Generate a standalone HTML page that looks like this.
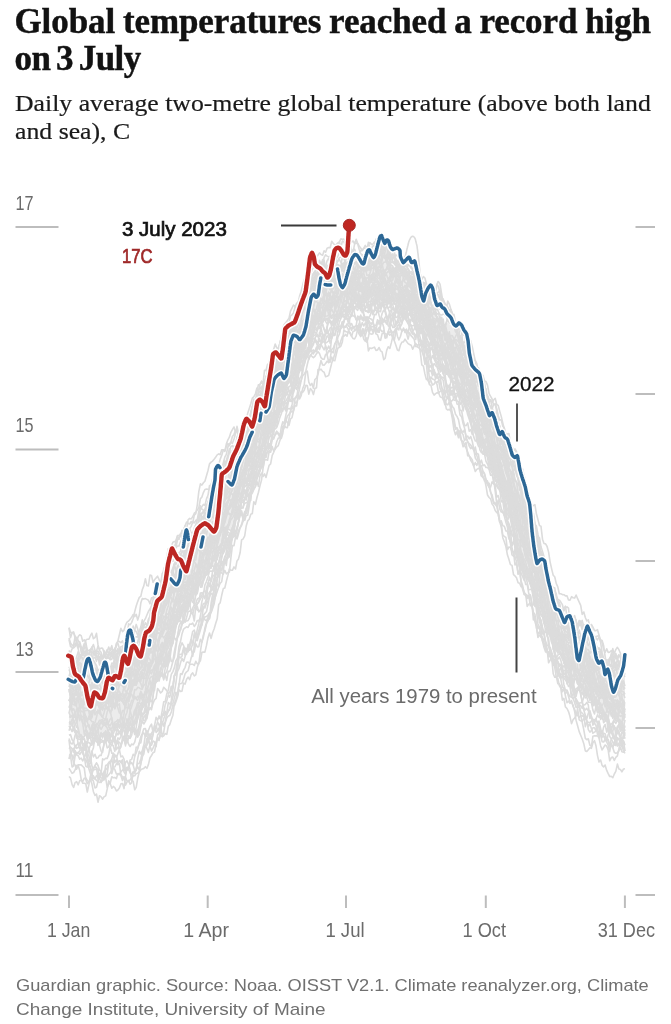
<!DOCTYPE html>
<html lang="en">
<head>
<meta charset="utf-8">
<title>Global temperatures reached a record high on 3 July</title>
<style>
html,body{margin:0;padding:0;background:#fff;}
body{width:671px;height:1024px;position:relative;overflow:hidden;font-family:"Liberation Sans",sans-serif;}
h1{position:absolute;left:14.5px;top:2.5px;margin:0;font-family:"Liberation Serif",serif;font-weight:700;font-size:35px;line-height:37.2px;color:#121212;white-space:nowrap;-webkit-text-stroke:0.45px #121212;letter-spacing:-0.1px;word-spacing:-0.8px;}
h1 span{letter-spacing:-0.55px;word-spacing:-2.5px;}
p.sub{-webkit-text-stroke:0.2px #1a1a1a;position:absolute;left:15px;top:89px;margin:0;font-family:"Liberation Serif",serif;font-size:23.5px;line-height:28.3px;color:#1a1a1a;white-space:nowrap;transform:scaleX(1.096);transform-origin:0 0;}
p.src{position:absolute;left:15.5px;top:974px;margin:0;font-size:17px;line-height:23.7px;color:#707070;white-space:nowrap;}
p.src span{display:block;transform-origin:0 0;transform:scaleX(1.072);}
p.src span.l2{transform:scaleX(1.114);}
svg{position:absolute;left:0;top:0;}
svg text{font-family:"Liberation Sans",sans-serif;font-size:20px;}
.ax text{fill:#6b6b6b;font-size:20.8px;}
</style>
</head>
<body>
<h1>Global temperatures reached a record high<br><span>on 3 July</span></h1>
<p class="sub">Daily average two-metre global temperature (above both land<br>and sea), C</p>
<svg width="671" height="1024" viewBox="0 0 671 1024">
<g stroke="#bdbdbd" stroke-width="2" fill="none"><line x1="15.5" x2="58.5" y1="227" y2="227"/><line x1="15.5" x2="58.5" y1="449.5" y2="449.5"/><line x1="15.5" x2="58.5" y1="672" y2="672"/><line x1="15.5" x2="58.5" y1="895" y2="895"/><line x1="635.5" x2="655" y1="227" y2="227"/><line x1="635.5" x2="655" y1="394" y2="394"/><line x1="635.5" x2="655" y1="561" y2="561"/><line x1="635.5" x2="655" y1="728" y2="728"/><line x1="635.5" x2="655" y1="895" y2="895"/><line x1="69" x2="69" y1="895.5" y2="908"/><line x1="207.7" x2="207.7" y1="895.5" y2="908"/><line x1="346" x2="346" y1="895.5" y2="908"/><line x1="485.8" x2="485.8" y1="895.5" y2="908"/><line x1="624.9" x2="624.9" y1="895.5" y2="908"/></g>
<g class="ax">
<text x="15.5" y="209.5" textLength="18" lengthAdjust="spacingAndGlyphs">17</text>
<text x="15.5" y="431.5" textLength="18" lengthAdjust="spacingAndGlyphs">15</text>
<text x="15.5" y="655.5" textLength="18" lengthAdjust="spacingAndGlyphs">13</text>
<text x="15.5" y="877" textLength="18" lengthAdjust="spacingAndGlyphs">11</text>
<text x="47" y="937" textLength="43.3" lengthAdjust="spacingAndGlyphs">1 Jan</text>
<text x="183.2" y="937" textLength="45.8" lengthAdjust="spacingAndGlyphs">1 Apr</text>
<text x="325.4" y="937" textLength="39.2" lengthAdjust="spacingAndGlyphs">1 Jul</text>
<text x="462.5" y="937" textLength="43.5" lengthAdjust="spacingAndGlyphs">1 Oct</text>
<text x="597.7" y="937" textLength="57.3" lengthAdjust="spacingAndGlyphs">31 Dec</text>
</g>
<defs><filter id="soft" x="0" y="0" width="671" height="1024" filterUnits="userSpaceOnUse"><feGaussianBlur stdDeviation="0.55"/></filter></defs>
<path d="M69.0,658.5L70.5,656.8L72.1,657.9L73.6,662.8L75.1,660.8L76.6,662.0L78.2,659.9L79.7,657.1L81.2,656.3L82.7,658.4L84.3,658.4L85.8,655.2L87.3,658.3L88.9,663.1L90.4,663.0L91.9,658.7L93.4,661.2L95.0,663.7L96.5,666.1L98.0,669.5L99.5,670.0L101.1,668.9L102.6,667.4L104.1,667.9L105.7,667.8L107.2,673.2L108.7,671.9L110.2,669.6L111.8,666.7L113.3,664.5L114.8,661.4L116.4,660.3L117.9,661.0L119.4,659.2L120.9,656.2L122.5,652.0L124.0,653.8L125.5,656.1L127.0,661.3L128.6,658.2L130.1,656.0L131.6,652.3L133.2,651.1L134.7,645.4L136.2,644.9L137.7,649.6L139.3,645.5L140.8,641.2L142.3,636.5L143.8,635.8L145.4,639.2L146.9,634.5L148.4,634.0L150.0,624.5L151.5,621.1L153.0,619.4L154.5,623.3L156.1,616.0L157.6,613.3L159.1,608.5L160.6,602.2L162.2,596.3L163.7,598.0L165.2,594.0L166.8,592.1L168.3,584.9L169.8,580.1L171.3,578.9L172.9,576.5L174.4,575.4L175.9,572.0L177.5,571.4L179.0,564.3L180.5,561.5L182.0,556.0L183.6,553.9L185.1,552.1L186.6,551.5L188.1,546.6L189.7,547.3L191.2,543.4L192.7,540.9L194.3,537.6L195.8,535.6L197.3,533.1L198.8,530.7L200.4,526.6L201.9,519.5L203.4,521.1L204.9,515.5L206.5,513.2L208.0,511.7L209.5,504.8L211.1,500.1L212.6,500.2L214.1,497.7L215.6,494.7L217.2,490.1L218.7,486.6L220.2,482.7L221.7,481.4L223.3,475.7L224.8,476.6L226.3,470.5L227.9,467.9L229.4,465.4L230.9,463.1L232.4,463.6L234.0,461.5L235.5,457.1L237.0,457.5L238.5,455.0L240.1,454.0L241.6,449.1L243.1,447.5L244.7,440.1L246.2,437.4L247.7,431.0L249.2,431.2L250.8,426.9L252.3,425.4L253.8,420.5L255.4,418.4L256.9,412.3L258.4,407.7L259.9,401.5L261.5,399.0L263.0,392.1L264.5,388.9L266.0,389.1L267.6,381.4L269.1,377.5L270.6,377.5L272.2,377.2L273.7,375.6L275.2,368.3L276.7,367.0L278.3,362.8L279.8,355.8L281.3,354.0L282.8,347.9L284.4,347.0L285.9,343.6L287.4,341.7L289.0,338.2L290.5,335.0L292.0,332.5L293.5,327.5L295.1,323.7L296.6,318.9L298.1,314.5L299.6,307.0L301.2,304.0L302.7,296.7L304.2,292.8L305.8,292.0L307.3,291.1L308.8,288.4L310.3,284.9L311.9,284.1L313.4,279.4L314.9,277.6L316.5,276.5L318.0,272.9L319.5,268.8L321.0,266.7L322.6,270.5L324.1,269.4L325.6,271.6L327.1,268.6L328.7,269.3L330.2,269.0L331.7,271.3L333.3,270.4L334.8,267.6L336.3,267.5L337.8,265.8L339.4,265.7L340.9,268.2L342.4,264.7L343.9,263.9L345.5,261.9L347.0,262.8L348.5,264.7L350.1,260.7L351.6,259.3L353.1,261.6L354.6,265.4L356.2,261.9L357.7,264.0L359.2,265.2L360.7,264.9L362.3,265.2L363.8,267.1L365.3,261.9L366.9,262.1L368.4,261.6L369.9,261.6L371.4,261.6L373.0,261.1L374.5,262.6L376.0,260.8L377.5,259.2L379.1,259.5L380.6,261.6L382.1,255.3L383.7,251.0L385.2,255.9L386.7,258.4L388.2,257.0L389.8,261.2L391.3,266.1L392.8,266.4L394.4,268.4L395.9,267.2L397.4,267.0L398.9,267.1L400.5,266.6L402.0,268.5L403.5,271.4L405.0,271.0L406.6,273.6L408.1,275.0L409.6,277.9L411.2,277.7L412.7,280.1L414.2,284.1L415.7,284.1L417.3,286.6L418.8,287.7L420.3,287.8L421.8,290.5L423.4,291.8L424.9,292.0L426.4,296.1L428.0,301.6L429.5,304.5L431.0,305.4L432.5,308.4L434.1,311.5L435.6,312.1L437.1,316.7L438.6,319.0L440.2,319.3L441.7,321.3L443.2,324.1L444.8,327.6L446.3,323.6L447.8,322.3L449.3,324.3L450.9,324.9L452.4,327.7L453.9,329.7L455.5,331.8L457.0,333.8L458.5,338.0L460.0,343.0L461.6,344.2L463.1,349.8L464.6,354.0L466.1,359.2L467.7,363.4L469.2,364.0L470.7,366.9L472.3,367.9L473.8,370.6L475.3,377.9L476.8,378.0L478.4,383.5L479.9,385.2L481.4,392.4L482.9,399.3L484.5,404.2L486.0,408.5L487.5,413.5L489.1,415.7L490.6,418.1L492.1,418.6L493.6,420.9L495.2,423.9L496.7,428.0L498.2,429.7L499.7,430.3L501.3,437.5L502.8,444.6L504.3,448.5L505.9,455.6L507.4,455.0L508.9,465.4L510.4,460.9L512.0,465.0L513.5,471.8L515.0,479.4L516.5,481.8L518.1,486.7L519.6,491.0L521.1,496.1L522.7,507.1L524.2,513.6L525.7,517.3L527.2,519.4L528.8,525.5L530.3,526.3L531.8,531.0L533.4,534.0L534.9,540.0L536.4,546.6L537.9,551.4L539.5,556.1L541.0,560.1L542.5,564.2L544.0,571.5L545.6,579.8L547.1,582.7L548.6,589.6L550.2,592.3L551.7,596.1L553.2,600.5L554.7,602.7L556.3,605.0L557.8,608.3L559.3,607.8L560.8,614.4L562.4,621.6L563.9,624.2L565.4,624.4L567.0,624.3L568.5,628.9L570.0,630.5L571.5,626.8L573.1,627.7L574.6,630.1L576.1,633.5L577.6,637.6L579.2,636.3L580.7,640.2L582.2,642.8L583.8,647.1L585.3,643.6L586.8,641.5L588.3,646.2L589.9,645.5L591.4,650.2L592.9,647.4L594.5,649.4L596.0,652.6L597.5,652.8L599.0,655.6L600.6,657.8L602.1,661.4L603.6,663.6L605.1,666.3L606.7,668.4L608.2,667.9L609.7,668.4L611.3,668.3L612.8,666.3L614.3,665.7L615.8,667.4L617.4,668.8L618.9,665.9L620.4,671.8L621.9,669.5L623.5,669.1L625.0,669.7L625.0,725.6L623.5,727.5L621.9,725.0L620.4,725.7L618.9,721.7L617.4,717.9L615.8,719.5L614.3,717.0L612.8,718.8L611.3,716.8L609.7,712.2L608.2,717.7L606.7,715.0L605.1,715.3L603.6,713.2L602.1,709.0L600.6,706.3L599.0,704.3L597.5,705.6L596.0,701.9L594.5,700.7L592.9,699.4L591.4,692.5L589.9,689.2L588.3,690.8L586.8,689.2L585.3,688.8L583.8,686.5L582.2,686.1L580.7,684.0L579.2,680.5L577.6,683.5L576.1,676.5L574.6,675.1L573.1,679.6L571.5,676.5L570.0,672.5L568.5,668.9L567.0,665.5L565.4,664.0L563.9,657.8L562.4,653.7L560.8,652.8L559.3,651.2L557.8,650.7L556.3,647.4L554.7,645.7L553.2,640.5L551.7,636.3L550.2,630.6L548.6,623.0L547.1,622.1L545.6,618.6L544.0,614.7L542.5,609.1L541.0,603.5L539.5,598.1L537.9,595.9L536.4,590.0L534.9,583.5L533.4,583.5L531.8,578.2L530.3,577.9L528.8,572.6L527.2,569.1L525.7,565.3L524.2,563.0L522.7,557.4L521.1,552.6L519.6,548.0L518.1,543.6L516.5,536.2L515.0,533.6L513.5,526.3L512.0,516.9L510.4,510.9L508.9,503.3L507.4,500.5L505.9,495.0L504.3,493.3L502.8,489.6L501.3,481.7L499.7,477.8L498.2,473.5L496.7,472.9L495.2,467.3L493.6,461.8L492.1,462.2L490.6,455.5L489.1,451.7L487.5,449.0L486.0,448.0L484.5,445.0L482.9,440.7L481.4,438.1L479.9,434.2L478.4,427.6L476.8,422.6L475.3,420.1L473.8,416.7L472.3,410.2L470.7,407.1L469.2,407.7L467.7,405.2L466.1,403.9L464.6,397.7L463.1,395.3L461.6,394.5L460.0,390.0L458.5,386.1L457.0,382.4L455.5,380.8L453.9,378.5L452.4,378.9L450.9,373.8L449.3,372.3L447.8,372.7L446.3,366.4L444.8,362.3L443.2,359.7L441.7,358.2L440.2,358.5L438.6,358.3L437.1,353.4L435.6,351.4L434.1,345.6L432.5,341.2L431.0,339.5L429.5,339.7L428.0,336.6L426.4,334.8L424.9,332.6L423.4,328.0L421.8,326.1L420.3,325.6L418.8,320.6L417.3,320.5L415.7,316.0L414.2,313.2L412.7,312.1L411.2,311.4L409.6,309.2L408.1,308.5L406.6,310.7L405.0,308.0L403.5,308.4L402.0,303.7L400.5,302.5L398.9,303.1L397.4,306.2L395.9,305.2L394.4,304.5L392.8,304.0L391.3,304.3L389.8,301.6L388.2,299.0L386.7,300.2L385.2,299.6L383.7,300.6L382.1,302.6L380.6,304.9L379.1,302.8L377.5,299.6L376.0,298.1L374.5,301.4L373.0,301.4L371.4,301.3L369.9,305.0L368.4,304.4L366.9,304.0L365.3,302.7L363.8,302.1L362.3,303.2L360.7,303.4L359.2,300.6L357.7,302.8L356.2,299.6L354.6,302.2L353.1,302.8L351.6,301.3L350.1,304.2L348.5,302.8L347.0,300.2L345.5,307.5L343.9,306.4L342.4,305.7L340.9,308.4L339.4,313.4L337.8,316.3L336.3,313.7L334.8,314.8L333.3,316.8L331.7,318.8L330.2,317.7L328.7,320.1L327.1,319.6L325.6,320.6L324.1,319.1L322.6,322.4L321.0,322.8L319.5,320.9L318.0,323.6L316.5,325.2L314.9,325.4L313.4,330.9L311.9,333.8L310.3,337.4L308.8,341.2L307.3,338.7L305.8,345.0L304.2,349.1L302.7,348.4L301.2,351.5L299.6,358.7L298.1,361.5L296.6,367.8L295.1,370.9L293.5,376.3L292.0,378.1L290.5,381.5L289.0,381.3L287.4,384.4L285.9,387.2L284.4,393.7L282.8,394.6L281.3,402.1L279.8,401.5L278.3,408.0L276.7,411.7L275.2,415.5L273.7,421.4L272.2,420.2L270.6,425.8L269.1,426.0L267.6,431.3L266.0,432.6L264.5,437.8L263.0,445.9L261.5,447.8L259.9,453.4L258.4,456.4L256.9,458.7L255.4,464.4L253.8,468.2L252.3,473.0L250.8,478.0L249.2,481.9L247.7,481.6L246.2,485.9L244.7,487.3L243.1,492.5L241.6,497.8L240.1,500.7L238.5,505.5L237.0,507.6L235.5,513.1L234.0,522.0L232.4,527.4L230.9,530.9L229.4,530.1L227.9,529.7L226.3,534.4L224.8,539.0L223.3,541.8L221.7,544.8L220.2,547.8L218.7,550.1L217.2,554.2L215.6,563.1L214.1,566.5L212.6,566.7L211.1,568.6L209.5,569.4L208.0,574.8L206.5,575.8L204.9,578.5L203.4,582.4L201.9,587.6L200.4,587.7L198.8,583.7L197.3,594.0L195.8,596.0L194.3,603.1L192.7,596.9L191.2,598.7L189.7,601.9L188.1,606.2L186.6,609.5L185.1,609.6L183.6,611.5L182.0,614.5L180.5,615.8L179.0,619.6L177.5,621.2L175.9,625.6L174.4,630.8L172.9,637.6L171.3,645.5L169.8,650.4L168.3,657.4L166.8,661.3L165.2,664.4L163.7,663.5L162.2,665.6L160.6,668.5L159.1,671.4L157.6,672.8L156.1,677.4L154.5,682.3L153.0,686.5L151.5,690.1L150.0,695.3L148.4,699.1L146.9,701.7L145.4,705.2L143.8,704.6L142.3,708.3L140.8,709.6L139.3,710.2L137.7,715.8L136.2,720.9L134.7,721.6L133.2,723.8L131.6,726.6L130.1,724.4L128.6,728.5L127.0,729.8L125.5,730.3L124.0,727.0L122.5,730.0L120.9,726.8L119.4,728.5L117.9,726.1L116.4,731.5L114.8,730.2L113.3,734.2L111.8,732.2L110.2,736.1L108.7,732.2L107.2,735.2L105.7,730.8L104.1,732.9L102.6,734.2L101.1,732.6L99.5,736.9L98.0,732.2L96.5,732.6L95.0,733.1L93.4,734.4L91.9,734.9L90.4,736.9L88.9,736.9L87.3,739.5L85.8,734.2L84.3,736.7L82.7,737.6L81.2,734.9L79.7,734.5L78.2,728.3L76.6,723.3L75.1,718.1L73.6,717.3L72.1,719.6L70.5,722.8L69.0,721.8Z" fill="#e4e4e4" fill-opacity="0.7" stroke="none"/>
<g fill="none" stroke="#dcdcdc" stroke-width="1.6" stroke-linejoin="round" filter="url(#soft)">
<path d="M69.0,637.9L70.5,643.0L72.1,645.4L73.6,644.9L75.1,637.0L76.6,637.6L78.2,640.4L79.7,643.7L81.2,652.4L82.7,655.3L84.3,654.0L85.8,650.9L87.3,649.9L88.9,650.7L90.4,649.4L91.9,647.9L93.4,644.5L95.0,650.2L96.5,654.9L98.0,659.0L99.5,656.6L101.1,658.7L102.6,658.4L104.1,657.2L105.7,656.3L107.2,651.9L108.7,647.0L110.2,650.5L111.8,649.4L113.3,649.6L114.8,652.4L116.4,644.4L117.9,641.0L119.4,641.6L120.9,642.7L122.5,640.9L124.0,644.4L125.5,643.7L127.0,637.3L128.6,632.4L130.1,634.5L131.6,634.8L133.2,626.0L134.7,630.5L136.2,631.5L137.7,635.1L139.3,631.1L140.8,627.1L142.3,619.8L143.8,627.0L145.4,622.8L146.9,625.6L148.4,619.3L150.0,616.2L151.5,605.5L153.0,600.3L154.5,600.5L156.1,591.8L157.6,592.7L159.1,590.7L160.6,583.6L162.2,579.1L163.7,575.1L165.2,572.7L166.8,568.3L168.3,562.9L169.8,559.7L171.3,553.6L172.9,546.9L174.4,545.4L175.9,547.5L177.5,539.9L179.0,538.8L180.5,535.2L182.0,530.4L183.6,532.8L185.1,529.0L186.6,533.4L188.1,528.6L189.7,528.7L191.2,526.3L192.7,521.9L194.3,522.9L195.8,520.3L197.3,519.7L198.8,516.4L200.4,509.3L201.9,506.6L203.4,504.4L204.9,505.5L206.5,498.9L208.0,495.3L209.5,485.5L211.1,486.1L212.6,479.5L214.1,470.4L215.6,468.9L217.2,471.9L218.7,464.5L220.2,459.1L221.7,455.4L223.3,450.1L224.8,450.9L226.3,446.8L227.9,443.6L229.4,445.6L230.9,442.1L232.4,443.3L234.0,438.9L235.5,433.8L237.0,426.3L238.5,433.2L240.1,430.1L241.6,428.8L243.1,426.2L244.7,424.3L246.2,422.1L247.7,427.3L249.2,420.4L250.8,412.2L252.3,406.3L253.8,399.1L255.4,399.7L256.9,400.0L258.4,393.1L259.9,384.9L261.5,381.1L263.0,384.1L264.5,370.3L266.0,370.4L267.6,364.2L269.1,366.5L270.6,360.0L272.2,356.9L273.7,349.2L275.2,344.0L276.7,347.9L278.3,348.6L279.8,343.8L281.3,337.3L282.8,327.5L284.4,324.2L285.9,322.4L287.4,320.4L289.0,318.1L290.5,311.1L292.0,308.1L293.5,305.0L295.1,306.5L296.6,309.3L298.1,303.7L299.6,296.0L301.2,291.3L302.7,285.1L304.2,279.4L305.8,277.3L307.3,271.5L308.8,272.3L310.3,270.0L311.9,269.1L313.4,266.3L314.9,261.8L316.5,257.0L318.0,255.0L319.5,252.9L321.0,254.5L322.6,255.2L324.1,250.7L325.6,252.2L327.1,248.2L328.7,247.6L330.2,247.7L331.7,241.2L333.3,243.5L334.8,244.8L336.3,244.5L337.8,242.9L339.4,241.9L340.9,238.9L342.4,239.2L343.9,239.1L345.5,241.3L347.0,238.0L348.5,240.4L350.1,241.9L351.6,242.0L353.1,241.0L354.6,243.8L356.2,239.2L357.7,243.4L359.2,245.9L360.7,248.1L362.3,250.2L363.8,248.3L365.3,248.3L366.9,251.9L368.4,254.4L369.9,254.5L371.4,248.0L373.0,250.3L374.5,255.0L376.0,258.8L377.5,259.8L379.1,256.4L380.6,263.2L382.1,260.3L383.7,247.5L385.2,251.4L386.7,245.1L388.2,242.0L389.8,243.5L391.3,248.4L392.8,249.0L394.4,252.0L395.9,260.3L397.4,267.2L398.9,267.0L400.5,266.5L402.0,262.3L403.5,260.9L405.0,264.0L406.6,266.9L408.1,268.6L409.6,273.6L411.2,271.6L412.7,272.9L414.2,277.2L415.7,280.6L417.3,285.7L418.8,287.9L420.3,287.3L421.8,289.8L423.4,287.1L424.9,282.5L426.4,287.2L428.0,289.1L429.5,292.5L431.0,288.1L432.5,289.4L434.1,289.9L435.6,289.4L437.1,283.9L438.6,287.0L440.2,294.5L441.7,299.4L443.2,300.1L444.8,303.1L446.3,309.0L447.8,301.0L449.3,304.0L450.9,309.4L452.4,315.1L453.9,324.4L455.5,330.9L457.0,334.1L458.5,337.4L460.0,342.6L461.6,342.6L463.1,345.0L464.6,351.1L466.1,360.8L467.7,361.7L469.2,363.2L470.7,365.8L472.3,372.9L473.8,374.5L475.3,382.7L476.8,381.2L478.4,383.4L479.9,385.8L481.4,392.3L482.9,399.6L484.5,396.7L486.0,396.8L487.5,401.8L489.1,402.2L490.6,399.8L492.1,407.8L493.6,413.3L495.2,418.6L496.7,419.9L498.2,426.8L499.7,428.4L501.3,435.6L502.8,435.1L504.3,435.4L505.9,440.3L507.4,441.6L508.9,448.5L510.4,453.5L512.0,454.3L513.5,459.2L515.0,462.2L516.5,470.3L518.1,472.1L519.6,475.0L521.1,484.4L522.7,497.3L524.2,508.4L525.7,511.7L527.2,516.3L528.8,525.4L530.3,527.2L531.8,526.6L533.4,532.7L534.9,539.6L536.4,540.9L537.9,539.4L539.5,537.8L541.0,546.8L542.5,551.4L544.0,556.6L545.6,563.7L547.1,572.2L548.6,577.4L550.2,584.4L551.7,585.0L553.2,587.8L554.7,587.8L556.3,596.2L557.8,599.4L559.3,600.1L560.8,602.1L562.4,604.7L563.9,610.9L565.4,607.9L567.0,606.9L568.5,608.2L570.0,622.6L571.5,627.2L573.1,627.5L574.6,630.2L576.1,639.2L577.6,638.0L579.2,636.8L580.7,642.5L582.2,645.5L583.8,649.1L585.3,649.6L586.8,658.2L588.3,665.5L589.9,670.4L591.4,671.8L592.9,661.9L594.5,661.5L596.0,660.5L597.5,665.0L599.0,669.7L600.6,667.3L602.1,660.7L603.6,663.5L605.1,663.1L606.7,662.7L608.2,661.9L609.7,662.1L611.3,653.7L612.8,660.1L614.3,662.2L615.8,666.5L617.4,674.8L618.9,677.6L620.4,671.8L621.9,669.3L623.5,662.5L625.0,662.8"/>
<path d="M69.0,661.4L70.5,662.9L72.1,668.2L73.6,670.0L75.1,668.6L76.6,665.4L78.2,662.0L79.7,659.1L81.2,656.3L82.7,659.3L84.3,657.6L85.8,656.1L87.3,656.7L88.9,660.9L90.4,660.2L91.9,658.7L93.4,667.1L95.0,668.5L96.5,670.0L98.0,670.2L99.5,670.0L101.1,668.1L102.6,666.9L104.1,667.4L105.7,662.3L107.2,673.6L108.7,672.8L110.2,668.1L111.8,666.4L113.3,664.4L114.8,661.1L116.4,656.8L117.9,662.8L119.4,659.4L120.9,650.3L122.5,652.0L124.0,643.0L125.5,643.7L127.0,646.5L128.6,652.5L130.1,640.9L131.6,635.7L133.2,640.7L134.7,642.6L136.2,642.9L137.7,649.4L139.3,652.1L140.8,655.1L142.3,650.2L143.8,645.3L145.4,644.8L146.9,635.6L148.4,622.2L150.0,618.0L151.5,606.4L153.0,601.9L154.5,598.6L156.1,604.7L157.6,601.5L159.1,596.9L160.6,588.7L162.2,586.4L163.7,587.2L165.2,581.7L166.8,575.2L168.3,565.9L169.8,559.9L171.3,559.8L172.9,557.4L174.4,551.0L175.9,547.6L177.5,546.0L179.0,546.0L180.5,541.8L182.0,539.0L183.6,530.6L185.1,525.9L186.6,529.6L188.1,519.9L189.7,518.4L191.2,518.9L192.7,516.8L194.3,513.2L195.8,512.0L197.3,510.1L198.8,507.8L200.4,498.8L201.9,497.1L203.4,492.6L204.9,489.5L206.5,489.1L208.0,489.3L209.5,490.1L211.1,485.8L212.6,486.8L214.1,488.2L215.6,489.1L217.2,490.8L218.7,486.3L220.2,481.8L221.7,481.3L223.3,472.1L224.8,469.5L226.3,464.3L227.9,460.3L229.4,451.5L230.9,446.7L232.4,445.7L234.0,448.1L235.5,450.2L237.0,447.5L238.5,444.0L240.1,437.7L241.6,436.0L243.1,431.7L244.7,430.9L246.2,434.4L247.7,430.7L249.2,421.7L250.8,415.9L252.3,408.0L253.8,401.0L255.4,403.5L256.9,401.1L258.4,391.9L259.9,391.6L261.5,393.2L263.0,388.1L264.5,382.0L266.0,377.4L267.6,375.5L269.1,374.9L270.6,376.0L272.2,376.7L273.7,376.8L275.2,377.3L276.7,374.4L278.3,363.0L279.8,357.5L281.3,353.8L282.8,347.7L284.4,347.0L285.9,341.2L287.4,333.8L289.0,337.9L290.5,337.2L292.0,333.1L293.5,331.5L295.1,333.2L296.6,326.3L298.1,310.6L299.6,304.2L301.2,299.7L302.7,291.3L304.2,290.1L305.8,291.9L307.3,287.6L308.8,280.6L310.3,284.0L311.9,279.3L313.4,273.9L314.9,271.0L316.5,270.5L318.0,267.1L319.5,267.2L321.0,265.3L322.6,259.6L324.1,263.1L325.6,270.9L327.1,272.4L328.7,273.4L330.2,273.9L331.7,284.4L333.3,279.9L334.8,285.7L336.3,280.0L337.8,278.5L339.4,278.7L340.9,282.1L342.4,284.8L343.9,282.9L345.5,279.0L347.0,276.3L348.5,276.8L350.1,278.1L351.6,280.8L353.1,276.8L354.6,280.1L356.2,285.9L357.7,285.1L359.2,277.9L360.7,274.0L362.3,267.2L363.8,272.4L365.3,268.5L366.9,275.4L368.4,274.9L369.9,281.8L371.4,282.2L373.0,277.6L374.5,277.3L376.0,276.1L377.5,273.4L379.1,269.7L380.6,270.9L382.1,278.2L383.7,269.7L385.2,271.0L386.7,268.6L388.2,268.7L389.8,273.0L391.3,273.0L392.8,275.4L394.4,268.4L395.9,273.4L397.4,271.4L398.9,273.6L400.5,274.1L402.0,266.2L403.5,265.3L405.0,269.3L406.6,278.8L408.1,281.9L409.6,287.1L411.2,281.8L412.7,290.4L414.2,298.3L415.7,301.7L417.3,304.2L418.8,296.4L420.3,300.3L421.8,313.4L423.4,318.1L424.9,324.6L426.4,326.6L428.0,323.7L429.5,330.6L431.0,326.0L432.5,327.8L434.1,325.9L435.6,331.2L437.1,331.5L438.6,335.4L440.2,332.7L441.7,327.3L443.2,329.8L444.8,327.2L446.3,322.6L447.8,317.6L449.3,318.7L450.9,315.7L452.4,316.3L453.9,314.4L455.5,322.2L457.0,328.8L458.5,341.0L460.0,340.0L461.6,343.7L463.1,351.1L464.6,353.8L466.1,356.1L467.7,366.7L469.2,366.8L470.7,367.5L472.3,365.4L473.8,371.9L475.3,376.3L476.8,376.2L478.4,378.3L479.9,385.1L481.4,396.1L482.9,399.0L484.5,409.5L486.0,417.7L487.5,413.5L489.1,415.6L490.6,422.1L492.1,423.9L493.6,419.9L495.2,423.4L496.7,427.9L498.2,437.6L499.7,428.6L501.3,443.9L502.8,441.9L504.3,448.4L505.9,456.7L507.4,464.5L508.9,465.2L510.4,460.3L512.0,464.6L513.5,462.6L515.0,457.0L516.5,473.3L518.1,479.5L519.6,490.1L521.1,489.6L522.7,498.9L524.2,508.3L525.7,517.3L527.2,519.8L528.8,520.5L530.3,523.8L531.8,519.6L533.4,516.5L534.9,524.2L536.4,526.1L537.9,534.2L539.5,540.4L541.0,557.5L542.5,564.2L544.0,568.6L545.6,580.1L547.1,581.4L548.6,584.2L550.2,592.1L551.7,589.2L553.2,591.7L554.7,593.8L556.3,600.0L557.8,607.9L559.3,606.4L560.8,609.6L562.4,610.7L563.9,608.2L565.4,606.1L567.0,616.5L568.5,628.9L570.0,630.8L571.5,626.8L573.1,628.9L574.6,628.6L576.1,632.8L577.6,634.6L579.2,636.3L580.7,639.8L582.2,639.0L583.8,640.6L585.3,634.4L586.8,636.1L588.3,635.1L589.9,636.1L591.4,633.4L592.9,636.4L594.5,640.1L596.0,636.6L597.5,635.9L599.0,635.5L600.6,642.2L602.1,652.4L603.6,658.5L605.1,659.3L606.7,666.1L608.2,660.6L609.7,666.9L611.3,664.2L612.8,653.7L614.3,664.8L615.8,670.2L617.4,665.0L618.9,665.3L620.4,664.9L621.9,665.8L623.5,660.5L625.0,658.8"/>
<path d="M69.0,650.4L70.5,653.8L72.1,654.9L73.6,663.6L75.1,658.6L76.6,663.4L78.2,659.5L79.7,655.5L81.2,655.4L82.7,651.0L84.3,656.5L85.8,655.1L87.3,655.2L88.9,660.8L90.4,664.9L91.9,670.2L93.4,670.8L95.0,668.2L96.5,670.8L98.0,669.4L99.5,673.9L101.1,673.0L102.6,680.0L104.1,689.1L105.7,692.7L107.2,693.1L108.7,692.2L110.2,688.5L111.8,684.5L113.3,682.9L114.8,676.8L116.4,679.6L117.9,678.0L119.4,678.0L120.9,674.0L122.5,667.4L124.0,677.1L125.5,673.7L127.0,670.2L128.6,666.9L130.1,667.4L131.6,672.7L133.2,672.3L134.7,680.3L136.2,669.5L137.7,671.4L139.3,675.3L140.8,679.2L142.3,673.6L143.8,674.9L145.4,669.7L146.9,662.6L148.4,656.3L150.0,649.7L151.5,635.0L153.0,633.8L154.5,632.8L156.1,628.7L157.6,616.1L159.1,625.1L160.6,626.3L162.2,629.0L163.7,629.6L165.2,623.1L166.8,623.7L168.3,619.5L169.8,609.8L171.3,607.1L172.9,610.9L174.4,605.3L175.9,603.8L177.5,599.6L179.0,593.7L180.5,594.6L182.0,584.1L183.6,579.2L185.1,579.6L186.6,574.2L188.1,570.5L189.7,566.5L191.2,571.4L192.7,578.0L194.3,574.2L195.8,573.0L197.3,573.8L198.8,572.0L200.4,566.5L201.9,555.6L203.4,552.1L204.9,549.7L206.5,543.0L208.0,549.6L209.5,536.6L211.1,531.0L212.6,525.7L214.1,527.9L215.6,525.2L217.2,520.7L218.7,517.2L220.2,516.7L221.7,510.1L223.3,506.3L224.8,496.4L226.3,493.5L227.9,489.5L229.4,483.8L230.9,482.9L232.4,479.0L234.0,471.4L235.5,470.3L237.0,475.1L238.5,465.4L240.1,461.6L241.6,455.1L243.1,453.7L244.7,443.3L246.2,437.4L247.7,432.7L249.2,432.5L250.8,431.4L252.3,430.4L253.8,429.9L255.4,425.2L256.9,419.5L258.4,419.8L259.9,416.6L261.5,413.6L263.0,414.4L264.5,413.3L266.0,404.6L267.6,397.3L269.1,396.2L270.6,397.2L272.2,389.2L273.7,379.8L275.2,371.1L276.7,365.3L278.3,356.1L279.8,353.6L281.3,343.8L282.8,338.0L284.4,337.6L285.9,332.3L287.4,332.6L289.0,331.6L290.5,330.6L292.0,327.5L293.5,323.0L295.1,315.1L296.6,318.3L298.1,318.2L299.6,304.5L301.2,298.4L302.7,295.1L304.2,291.1L305.8,293.2L307.3,294.3L308.8,288.0L310.3,283.9L311.9,275.5L313.4,273.6L314.9,271.6L316.5,279.5L318.0,277.9L319.5,268.2L321.0,263.6L322.6,263.8L324.1,257.4L325.6,254.8L327.1,256.1L328.7,256.9L330.2,256.2L331.7,255.5L333.3,258.0L334.8,255.7L336.3,251.1L337.8,244.9L339.4,242.1L340.9,247.2L342.4,241.0L343.9,241.8L345.5,245.7L347.0,245.0L348.5,247.2L350.1,243.5L351.6,252.5L353.1,257.1L354.6,259.8L356.2,254.3L357.7,252.8L359.2,255.7L360.7,262.7L362.3,263.4L363.8,267.5L365.3,261.0L366.9,261.7L368.4,261.3L369.9,261.1L371.4,253.7L373.0,256.8L374.5,262.3L376.0,255.2L377.5,249.4L379.1,251.3L380.6,249.7L382.1,241.0L383.7,245.6L385.2,247.3L386.7,246.6L388.2,256.1L389.8,257.3L391.3,255.8L392.8,258.9L394.4,255.2L395.9,255.0L397.4,256.1L398.9,255.2L400.5,255.3L402.0,263.6L403.5,267.9L405.0,271.7L406.6,274.1L408.1,276.4L409.6,282.2L411.2,282.0L412.7,289.3L414.2,285.3L415.7,284.5L417.3,279.8L418.8,279.9L420.3,283.5L421.8,290.5L423.4,289.0L424.9,290.5L426.4,290.6L428.0,289.6L429.5,287.2L431.0,290.1L432.5,285.9L434.1,289.5L435.6,292.4L437.1,292.7L438.6,292.1L440.2,290.4L441.7,301.4L443.2,299.0L444.8,308.2L446.3,312.9L447.8,313.5L449.3,311.1L450.9,317.5L452.4,326.2L453.9,324.2L455.5,325.3L457.0,331.9L458.5,335.6L460.0,345.7L461.6,345.2L463.1,349.5L464.6,346.8L466.1,357.6L467.7,356.6L469.2,350.6L470.7,353.5L472.3,356.4L473.8,367.4L475.3,369.6L476.8,373.3L478.4,379.4L479.9,389.1L481.4,392.0L482.9,399.2L484.5,404.1L486.0,405.7L487.5,408.6L489.1,410.8L490.6,409.6L492.1,417.2L493.6,414.4L495.2,422.1L496.7,428.4L498.2,430.0L499.7,429.3L501.3,431.3L502.8,436.6L504.3,442.8L505.9,447.1L507.4,454.1L508.9,454.7L510.4,458.9L512.0,456.6L513.5,463.8L515.0,468.2L516.5,470.5L518.1,479.1L519.6,485.5L521.1,478.3L522.7,487.2L524.2,487.9L525.7,495.5L527.2,511.3L528.8,516.5L530.3,520.2L531.8,522.2L533.4,530.7L534.9,538.3L536.4,545.8L537.9,546.3L539.5,556.0L541.0,557.5L542.5,563.8L544.0,575.3L545.6,584.0L547.1,582.3L548.6,585.6L550.2,590.2L551.7,594.7L553.2,604.3L554.7,601.3L556.3,604.8L557.8,611.6L559.3,614.6L560.8,615.1L562.4,624.8L563.9,626.9L565.4,631.1L567.0,632.2L568.5,638.7L570.0,630.5L571.5,635.5L573.1,634.4L574.6,633.7L576.1,630.5L577.6,624.4L579.2,624.8L580.7,624.7L582.2,629.8L583.8,627.1L585.3,635.7L586.8,638.9L588.3,639.8L589.9,639.0L591.4,638.1L592.9,635.9L594.5,636.0L596.0,638.3L597.5,639.9L599.0,637.2L600.6,639.8L602.1,640.5L603.6,645.4L605.1,656.3L606.7,664.5L608.2,665.0L609.7,658.1L611.3,655.4L612.8,648.6L614.3,655.6L615.8,656.1L617.4,656.8L618.9,654.7L620.4,657.7L621.9,665.1L623.5,661.8L625.0,662.9"/>
<path d="M69.0,658.2L70.5,661.5L72.1,657.3L73.6,662.6L75.1,661.0L76.6,661.3L78.2,665.1L79.7,663.6L81.2,673.3L82.7,673.4L84.3,664.8L85.8,669.1L87.3,666.4L88.9,664.5L90.4,655.1L91.9,657.0L93.4,660.1L95.0,662.8L96.5,665.6L98.0,670.7L99.5,670.4L101.1,673.2L102.6,670.3L104.1,670.2L105.7,668.7L107.2,673.1L108.7,672.4L110.2,674.9L111.8,675.1L113.3,666.6L114.8,666.5L116.4,661.3L117.9,652.6L119.4,650.5L120.9,655.1L122.5,648.4L124.0,644.0L125.5,645.1L127.0,646.4L128.6,638.0L130.1,633.6L131.6,638.3L133.2,636.8L134.7,630.2L136.2,624.4L137.7,629.0L139.3,637.5L140.8,637.1L142.3,629.7L143.8,627.3L145.4,627.8L146.9,625.8L148.4,622.0L150.0,623.5L151.5,619.6L153.0,613.6L154.5,613.5L156.1,614.8L157.6,607.1L159.1,609.3L160.6,600.1L162.2,595.7L163.7,595.6L165.2,593.7L166.8,592.4L168.3,580.0L169.8,568.9L171.3,571.7L172.9,576.3L174.4,583.2L175.9,585.0L177.5,576.3L179.0,575.7L180.5,569.7L182.0,558.3L183.6,563.3L185.1,561.2L186.6,559.7L188.1,555.9L189.7,560.6L191.2,557.3L192.7,560.8L194.3,552.9L195.8,543.1L197.3,545.2L198.8,546.1L200.4,541.6L201.9,536.7L203.4,534.9L204.9,529.6L206.5,534.8L208.0,527.1L209.5,522.4L211.1,517.8L212.6,517.3L214.1,512.6L215.6,509.0L217.2,501.6L218.7,499.9L220.2,501.0L221.7,497.2L223.3,494.4L224.8,491.8L226.3,492.8L227.9,489.0L229.4,480.9L230.9,478.9L232.4,469.3L234.0,462.7L235.5,460.9L237.0,457.4L238.5,457.9L240.1,466.2L241.6,462.5L243.1,452.4L244.7,443.8L246.2,435.5L247.7,427.8L249.2,423.5L250.8,417.4L252.3,411.8L253.8,408.0L255.4,400.9L256.9,392.2L258.4,384.7L259.9,384.5L261.5,382.4L263.0,383.8L264.5,386.2L266.0,380.9L267.6,380.4L269.1,371.3L270.6,378.1L272.2,380.2L273.7,375.5L275.2,365.9L276.7,362.4L278.3,354.3L279.8,347.6L281.3,346.9L282.8,346.5L284.4,343.4L285.9,345.0L287.4,337.2L289.0,339.6L290.5,334.9L292.0,328.9L293.5,326.9L295.1,316.4L296.6,317.3L298.1,311.3L299.6,315.5L301.2,305.8L302.7,301.5L304.2,290.2L305.8,282.0L307.3,277.9L308.8,280.5L310.3,275.9L311.9,284.6L313.4,281.0L314.9,278.4L316.5,276.4L318.0,269.5L319.5,260.3L321.0,266.5L322.6,270.3L324.1,269.5L325.6,266.5L327.1,260.8L328.7,258.0L330.2,263.9L331.7,261.2L333.3,256.6L334.8,252.2L336.3,261.1L337.8,261.2L339.4,259.5L340.9,262.4L342.4,263.9L343.9,263.6L345.5,261.3L347.0,255.0L348.5,251.8L350.1,250.1L351.6,251.4L353.1,254.0L354.6,256.2L356.2,258.3L357.7,259.7L359.2,258.1L360.7,250.4L362.3,250.6L363.8,248.2L365.3,245.4L366.9,248.3L368.4,244.2L369.9,242.6L371.4,244.6L373.0,244.1L374.5,241.9L376.0,245.0L377.5,244.4L379.1,240.2L380.6,244.0L382.1,252.2L383.7,250.8L385.2,255.4L386.7,261.7L388.2,266.1L389.8,262.7L391.3,271.8L392.8,271.9L394.4,269.8L395.9,267.1L397.4,269.8L398.9,270.6L400.5,269.8L402.0,274.0L403.5,271.9L405.0,271.6L406.6,275.3L408.1,279.2L409.6,284.4L411.2,277.1L412.7,282.6L414.2,284.1L415.7,293.4L417.3,288.2L418.8,288.7L420.3,288.2L421.8,283.7L423.4,282.3L424.9,289.1L426.4,287.8L428.0,287.2L429.5,293.3L431.0,302.5L432.5,309.1L434.1,307.7L435.6,310.9L437.1,318.2L438.6,320.0L440.2,320.7L441.7,325.6L443.2,333.4L444.8,330.1L446.3,322.3L447.8,319.7L449.3,317.6L450.9,316.8L452.4,321.4L453.9,320.5L455.5,321.4L457.0,325.9L458.5,323.1L460.0,328.6L461.6,332.1L463.1,347.0L464.6,356.5L466.1,359.5L467.7,356.6L469.2,360.4L470.7,358.7L472.3,361.0L473.8,364.7L475.3,372.2L476.8,374.4L478.4,375.0L479.9,374.0L481.4,375.4L482.9,379.0L484.5,382.4L486.0,393.7L487.5,396.1L489.1,405.2L490.6,406.6L492.1,409.0L493.6,404.2L495.2,404.2L496.7,411.0L498.2,422.3L499.7,426.5L501.3,433.1L502.8,435.3L504.3,439.3L505.9,440.1L507.4,450.7L508.9,457.0L510.4,460.5L512.0,463.8L513.5,471.6L515.0,479.1L516.5,481.9L518.1,493.7L519.6,500.2L521.1,504.1L522.7,516.2L524.2,523.3L525.7,521.8L527.2,530.2L528.8,529.7L530.3,528.8L531.8,524.2L533.4,532.8L534.9,535.0L536.4,544.7L537.9,544.6L539.5,548.2L541.0,553.2L542.5,564.2L544.0,570.8L545.6,579.6L547.1,586.5L548.6,594.5L550.2,595.8L551.7,598.5L553.2,602.8L554.7,606.5L556.3,605.7L557.8,610.2L559.3,612.7L560.8,620.8L562.4,621.9L563.9,621.3L565.4,628.9L567.0,625.2L568.5,624.0L570.0,633.3L571.5,623.6L573.1,620.7L574.6,630.0L576.1,625.7L577.6,637.5L579.2,630.0L580.7,635.9L582.2,642.3L583.8,647.0L585.3,646.8L586.8,649.7L588.3,649.5L589.9,653.3L591.4,651.1L592.9,652.6L594.5,655.6L596.0,652.6L597.5,650.9L599.0,655.6L600.6,653.6L602.1,661.4L603.6,662.9L605.1,659.6L606.7,660.0L608.2,659.9L609.7,658.7L611.3,659.0L612.8,659.3L614.3,665.5L615.8,662.0L617.4,668.6L618.9,668.2L620.4,671.9L621.9,670.7L623.5,668.1L625.0,663.7"/>
<path d="M69.0,681.9L70.5,687.9L72.1,688.5L73.6,680.6L75.1,677.4L76.6,674.9L78.2,677.5L79.7,682.4L81.2,682.6L82.7,680.3L84.3,686.0L85.8,686.4L87.3,684.6L88.9,684.4L90.4,685.9L91.9,684.3L93.4,686.6L95.0,692.6L96.5,680.4L98.0,682.9L99.5,680.2L101.1,678.8L102.6,676.9L104.1,678.3L105.7,682.6L107.2,681.1L108.7,676.4L110.2,675.7L111.8,671.6L113.3,670.6L114.8,674.2L116.4,672.5L117.9,677.0L119.4,676.8L120.9,673.1L122.5,669.7L124.0,664.7L125.5,667.5L127.0,666.8L128.6,658.4L130.1,661.7L131.6,664.3L133.2,659.0L134.7,666.2L136.2,661.4L137.7,656.3L139.3,663.5L140.8,661.5L142.3,652.1L143.8,658.6L145.4,649.7L146.9,641.3L148.4,635.4L150.0,623.6L151.5,620.5L153.0,618.3L154.5,623.1L156.1,615.7L157.6,613.2L159.1,606.1L160.6,602.1L162.2,591.7L163.7,587.1L165.2,583.1L166.8,581.5L168.3,581.8L169.8,578.6L171.3,575.8L172.9,576.4L174.4,565.1L175.9,560.0L177.5,557.5L179.0,552.7L180.5,551.5L182.0,544.3L183.6,548.9L185.1,552.2L186.6,546.6L188.1,544.7L189.7,540.5L191.2,542.4L192.7,540.5L194.3,537.4L195.8,535.2L197.3,531.8L198.8,526.5L200.4,521.9L201.9,513.6L203.4,512.6L204.9,509.4L206.5,510.0L208.0,505.1L209.5,504.5L211.1,496.8L212.6,495.4L214.1,490.4L215.6,487.5L217.2,485.4L218.7,486.0L220.2,474.8L221.7,475.3L223.3,471.2L224.8,470.7L226.3,460.7L227.9,455.0L229.4,448.9L230.9,455.2L232.4,450.5L234.0,449.4L235.5,446.5L237.0,437.1L238.5,433.6L240.1,434.6L241.6,431.4L243.1,430.3L244.7,429.5L246.2,426.9L247.7,420.7L249.2,422.3L250.8,426.1L252.3,425.2L253.8,422.0L255.4,415.7L256.9,409.1L258.4,409.9L259.9,401.3L261.5,397.7L263.0,390.0L264.5,385.3L266.0,390.4L267.6,375.6L269.1,372.0L270.6,375.7L272.2,367.5L273.7,365.9L275.2,366.0L276.7,369.4L278.3,362.8L279.8,354.2L281.3,356.9L282.8,360.1L284.4,355.0L285.9,343.3L287.4,348.8L289.0,346.2L290.5,344.9L292.0,339.0L293.5,333.6L295.1,326.1L296.6,326.5L298.1,325.0L299.6,310.9L301.2,303.8L302.7,309.2L304.2,304.0L305.8,300.3L307.3,297.8L308.8,301.6L310.3,300.8L311.9,297.5L313.4,293.0L314.9,283.6L316.5,283.1L318.0,278.7L319.5,281.1L321.0,277.8L322.6,286.9L324.1,287.4L325.6,287.9L327.1,284.3L328.7,285.6L330.2,287.8L331.7,289.5L333.3,294.5L334.8,294.1L336.3,291.7L337.8,287.7L339.4,288.9L340.9,289.6L342.4,288.2L343.9,280.7L345.5,270.4L347.0,269.2L348.5,273.8L350.1,277.1L351.6,271.1L353.1,273.9L354.6,271.1L356.2,273.2L357.7,274.7L359.2,270.5L360.7,272.0L362.3,264.8L363.8,261.6L365.3,254.2L366.9,257.0L368.4,260.5L369.9,265.8L371.4,266.8L373.0,264.6L374.5,266.0L376.0,263.1L377.5,268.2L379.1,270.3L380.6,271.2L382.1,270.3L383.7,270.7L385.2,271.5L386.7,275.2L388.2,279.7L389.8,276.5L391.3,275.5L392.8,267.8L394.4,268.4L395.9,269.4L397.4,264.0L398.9,267.8L400.5,271.9L402.0,270.2L403.5,271.4L405.0,270.9L406.6,276.4L408.1,273.4L409.6,274.6L411.2,283.0L412.7,283.9L414.2,288.8L415.7,290.7L417.3,290.6L418.8,293.3L420.3,298.8L421.8,299.5L423.4,305.4L424.9,311.9L426.4,317.8L428.0,313.5L429.5,310.5L431.0,307.8L432.5,316.9L434.1,320.9L435.6,329.0L437.1,326.7L438.6,324.2L440.2,326.7L441.7,328.3L443.2,328.0L444.8,331.1L446.3,338.9L447.8,342.8L449.3,341.7L450.9,335.6L452.4,335.5L453.9,339.5L455.5,340.4L457.0,344.3L458.5,345.6L460.0,355.7L461.6,360.6L463.1,366.3L464.6,366.6L466.1,368.5L467.7,374.3L469.2,375.9L470.7,373.9L472.3,378.1L473.8,392.2L475.3,397.0L476.8,406.3L478.4,408.1L479.9,408.0L481.4,408.9L482.9,411.4L484.5,422.2L486.0,430.6L487.5,441.2L489.1,445.0L490.6,449.2L492.1,452.1L493.6,455.9L495.2,462.1L496.7,466.3L498.2,473.4L499.7,477.5L501.3,477.8L502.8,482.6L504.3,484.6L505.9,493.7L507.4,490.5L508.9,498.3L510.4,513.4L512.0,515.8L513.5,513.6L515.0,517.1L516.5,523.9L518.1,527.1L519.6,533.6L521.1,532.8L522.7,534.8L524.2,551.9L525.7,555.1L527.2,553.7L528.8,557.6L530.3,560.9L531.8,563.3L533.4,567.6L534.9,571.5L536.4,571.5L537.9,580.5L539.5,583.8L541.0,584.8L542.5,582.5L544.0,584.1L545.6,586.7L547.1,589.6L548.6,590.3L550.2,597.6L551.7,602.8L553.2,603.8L554.7,604.5L556.3,603.5L557.8,610.6L559.3,606.8L560.8,612.1L562.4,609.8L563.9,615.3L565.4,622.9L567.0,626.8L568.5,631.5L570.0,630.5L571.5,642.5L573.1,646.8L574.6,651.3L576.1,644.9L577.6,642.9L579.2,649.1L580.7,650.3L582.2,651.0L583.8,657.4L585.3,653.9L586.8,657.9L588.3,662.0L589.9,668.1L591.4,667.5L592.9,667.7L594.5,664.9L596.0,670.9L597.5,676.2L599.0,683.4L600.6,683.5L602.1,688.2L603.6,677.6L605.1,685.1L606.7,684.6L608.2,687.5L609.7,685.5L611.3,677.9L612.8,674.6L614.3,676.8L615.8,680.3L617.4,679.8L618.9,679.0L620.4,686.1L621.9,681.0L623.5,689.3L625.0,687.8"/>
<path d="M69.0,666.8L70.5,670.2L72.1,662.3L73.6,662.3L75.1,660.2L76.6,665.5L78.2,666.0L79.7,662.6L81.2,663.8L82.7,669.5L84.3,676.2L85.8,682.1L87.3,685.3L88.9,682.7L90.4,677.7L91.9,679.4L93.4,679.0L95.0,677.3L96.5,669.2L98.0,678.4L99.5,674.4L101.1,679.8L102.6,682.8L104.1,677.1L105.7,679.4L107.2,683.5L108.7,684.7L110.2,680.6L111.8,684.3L113.3,683.6L114.8,681.6L116.4,678.0L117.9,676.5L119.4,676.2L120.9,678.6L122.5,675.6L124.0,674.3L125.5,664.0L127.0,669.1L128.6,673.2L130.1,671.7L131.6,669.8L133.2,660.5L134.7,661.7L136.2,655.8L137.7,658.9L139.3,658.8L140.8,661.1L142.3,664.6L143.8,650.0L145.4,646.1L146.9,642.2L148.4,638.3L150.0,637.4L151.5,640.2L153.0,642.1L154.5,633.5L156.1,637.5L157.6,642.0L159.1,640.1L160.6,635.2L162.2,633.9L163.7,622.4L165.2,622.6L166.8,616.4L168.3,618.4L169.8,620.8L171.3,620.3L172.9,611.6L174.4,610.7L175.9,602.9L177.5,591.4L179.0,585.9L180.5,578.4L182.0,572.0L183.6,568.2L185.1,572.6L186.6,571.9L188.1,572.4L189.7,565.1L191.2,561.5L192.7,561.2L194.3,551.8L195.8,556.0L197.3,550.4L198.8,549.0L200.4,553.6L201.9,548.0L203.4,535.0L204.9,532.7L206.5,523.7L208.0,522.3L209.5,517.4L211.1,516.2L212.6,510.6L214.1,502.8L215.6,498.5L217.2,486.8L218.7,491.5L220.2,487.8L221.7,486.1L223.3,487.8L224.8,488.6L226.3,493.1L227.9,487.1L229.4,487.1L230.9,475.6L232.4,474.5L234.0,467.5L235.5,464.5L237.0,461.5L238.5,459.8L240.1,460.9L241.6,451.1L243.1,447.4L244.7,435.4L246.2,435.3L247.7,430.3L249.2,430.9L250.8,425.8L252.3,424.8L253.8,423.5L255.4,418.4L256.9,413.3L258.4,402.3L259.9,398.5L261.5,398.9L263.0,391.8L264.5,391.3L266.0,379.1L267.6,368.8L269.1,361.3L270.6,357.7L272.2,358.3L273.7,358.0L275.2,354.9L276.7,355.2L278.3,348.4L279.8,343.5L281.3,337.1L282.8,345.7L284.4,333.2L285.9,327.1L287.4,333.8L289.0,333.1L290.5,326.7L292.0,323.3L293.5,324.1L295.1,325.4L296.6,313.8L298.1,314.4L299.6,309.6L301.2,308.1L302.7,312.3L304.2,308.4L305.8,298.4L307.3,293.2L308.8,297.3L310.3,297.3L311.9,294.2L313.4,297.0L314.9,287.0L316.5,284.5L318.0,279.0L319.5,278.7L321.0,279.7L322.6,282.7L324.1,277.9L325.6,275.9L327.1,268.2L328.7,270.0L330.2,271.8L331.7,273.5L333.3,270.4L334.8,267.2L336.3,270.0L337.8,264.6L339.4,265.7L340.9,268.5L342.4,269.6L343.9,265.3L345.5,270.3L347.0,270.6L348.5,272.7L350.1,263.7L351.6,258.3L353.1,249.6L354.6,249.3L356.2,254.6L357.7,256.1L359.2,255.9L360.7,254.8L362.3,256.3L363.8,257.6L365.3,259.6L366.9,261.2L368.4,255.4L369.9,256.5L371.4,261.2L373.0,261.9L374.5,262.4L376.0,260.7L377.5,260.3L379.1,263.1L380.6,261.6L382.1,257.8L383.7,247.8L385.2,247.2L386.7,242.0L388.2,240.0L389.8,249.3L391.3,256.5L392.8,253.8L394.4,259.4L395.9,262.9L397.4,262.3L398.9,266.9L400.5,261.7L402.0,261.8L403.5,258.7L405.0,256.5L406.6,264.2L408.1,264.8L409.6,264.1L411.2,266.3L412.7,270.7L414.2,272.7L415.7,279.0L417.3,279.4L418.8,280.9L420.3,281.3L421.8,288.2L423.4,287.1L424.9,291.9L426.4,304.0L428.0,305.6L429.5,309.2L431.0,314.2L432.5,314.3L434.1,311.4L435.6,314.2L437.1,318.1L438.6,323.1L440.2,322.8L441.7,324.4L443.2,329.0L444.8,335.6L446.3,331.0L447.8,333.8L449.3,334.8L450.9,338.4L452.4,341.5L453.9,339.3L455.5,336.7L457.0,333.7L458.5,335.5L460.0,336.3L461.6,344.0L463.1,342.5L464.6,346.8L466.1,346.2L467.7,349.5L469.2,359.5L470.7,361.1L472.3,366.8L473.8,365.3L475.3,371.2L476.8,372.0L478.4,373.3L479.9,378.9L481.4,384.7L482.9,389.4L484.5,390.9L486.0,402.9L487.5,408.1L489.1,414.1L490.6,419.2L492.1,423.9L493.6,422.2L495.2,426.9L496.7,432.6L498.2,436.5L499.7,443.8L501.3,451.2L502.8,451.1L504.3,449.6L505.9,455.4L507.4,459.6L508.9,468.8L510.4,470.5L512.0,474.6L513.5,481.8L515.0,487.0L516.5,492.0L518.1,502.2L519.6,505.9L521.1,512.8L522.7,518.3L524.2,515.7L525.7,517.6L527.2,519.3L528.8,526.1L530.3,525.8L531.8,529.2L533.4,533.7L534.9,542.2L536.4,552.4L537.9,558.4L539.5,555.5L541.0,560.1L542.5,561.7L544.0,564.8L545.6,571.2L547.1,577.9L548.6,582.9L550.2,588.4L551.7,591.5L553.2,591.2L554.7,591.1L556.3,593.9L557.8,605.1L559.3,602.7L560.8,611.3L562.4,623.9L563.9,624.0L565.4,625.9L567.0,627.6L568.5,629.3L570.0,632.3L571.5,631.5L573.1,637.9L574.6,645.6L576.1,650.2L577.6,652.0L579.2,654.2L580.7,654.7L582.2,652.2L583.8,654.4L585.3,657.1L586.8,656.5L588.3,668.2L589.9,663.2L591.4,663.3L592.9,664.7L594.5,656.3L596.0,654.8L597.5,648.5L599.0,647.9L600.6,651.8L602.1,656.6L603.6,665.4L605.1,670.6L606.7,676.5L608.2,676.6L609.7,674.9L611.3,677.7L612.8,674.5L614.3,671.6L615.8,677.4L617.4,676.4L618.9,673.3L620.4,675.4L621.9,679.2L623.5,674.0L625.0,675.2"/>
<path d="M69.0,658.3L70.5,655.6L72.1,657.7L73.6,665.9L75.1,666.5L76.6,661.8L78.2,657.1L79.7,654.4L81.2,656.1L82.7,658.2L84.3,662.6L85.8,654.8L87.3,660.2L88.9,662.8L90.4,662.9L91.9,659.0L93.4,658.4L95.0,657.0L96.5,661.4L98.0,656.1L99.5,663.0L101.1,660.0L102.6,666.7L104.1,665.1L105.7,667.6L107.2,668.8L108.7,671.4L110.2,669.0L111.8,663.1L113.3,663.3L114.8,663.2L116.4,669.6L117.9,660.7L119.4,654.3L120.9,656.4L122.5,649.7L124.0,648.4L125.5,655.8L127.0,657.6L128.6,655.6L130.1,662.2L131.6,662.9L133.2,659.4L134.7,662.9L136.2,658.5L137.7,655.1L139.3,655.0L140.8,651.6L142.3,648.9L143.8,651.1L145.4,646.6L146.9,634.3L148.4,635.5L150.0,635.2L151.5,633.0L153.0,632.4L154.5,624.5L156.1,625.5L157.6,625.2L159.1,622.1L160.6,616.1L162.2,608.3L163.7,608.0L165.2,589.1L166.8,586.6L168.3,583.9L169.8,578.5L171.3,577.8L172.9,571.6L174.4,564.1L175.9,570.3L177.5,572.4L179.0,570.3L180.5,564.9L182.0,555.6L183.6,555.7L185.1,552.1L186.6,551.4L188.1,545.9L189.7,546.8L191.2,538.0L192.7,533.9L194.3,527.8L195.8,524.6L197.3,519.4L198.8,511.4L200.4,505.7L201.9,509.1L203.4,510.2L204.9,514.7L206.5,511.9L208.0,511.8L209.5,510.3L211.1,513.1L212.6,512.3L214.1,506.7L215.6,500.2L217.2,493.0L218.7,475.4L220.2,467.5L221.7,465.8L223.3,468.8L224.8,461.0L226.3,463.1L227.9,467.8L229.4,465.3L230.9,471.4L232.4,475.1L234.0,470.1L235.5,460.2L237.0,463.9L238.5,460.9L240.1,453.5L241.6,448.8L243.1,442.8L244.7,439.5L246.2,437.7L247.7,441.6L249.2,443.7L250.8,436.1L252.3,434.8L253.8,432.7L255.4,424.4L256.9,426.6L258.4,421.4L259.9,412.8L261.5,416.2L263.0,414.1L264.5,408.7L266.0,399.3L267.6,398.6L269.1,396.3L270.6,393.9L272.2,383.8L273.7,382.3L275.2,382.5L276.7,379.3L278.3,362.3L279.8,355.5L281.3,350.6L282.8,346.7L284.4,347.5L285.9,347.6L287.4,345.5L289.0,340.5L290.5,331.9L292.0,332.6L293.5,326.8L295.1,323.4L296.6,322.4L298.1,318.5L299.6,300.9L301.2,297.1L302.7,292.5L304.2,290.2L305.8,289.9L307.3,290.7L308.8,290.4L310.3,289.9L311.9,289.7L313.4,283.5L314.9,277.5L316.5,277.0L318.0,272.7L319.5,269.8L321.0,267.9L322.6,263.2L324.1,260.1L325.6,269.1L327.1,267.7L328.7,264.5L330.2,266.2L331.7,267.3L333.3,268.2L334.8,267.5L336.3,267.0L337.8,269.4L339.4,266.0L340.9,265.9L342.4,256.6L343.9,252.1L345.5,256.9L347.0,257.0L348.5,253.3L350.1,257.7L351.6,251.9L353.1,251.9L354.6,244.1L356.2,242.9L357.7,244.0L359.2,249.4L360.7,253.8L362.3,254.6L363.8,262.1L365.3,260.8L366.9,252.2L368.4,242.2L369.9,248.5L371.4,248.3L373.0,245.9L374.5,245.6L376.0,239.1L377.5,245.0L379.1,245.8L380.6,254.1L382.1,253.2L383.7,244.3L385.2,248.8L386.7,248.3L388.2,248.7L389.8,256.2L391.3,256.1L392.8,261.7L394.4,262.1L395.9,259.7L397.4,262.8L398.9,261.1L400.5,266.9L402.0,272.0L403.5,273.0L405.0,275.3L406.6,277.8L408.1,276.3L409.6,281.1L411.2,281.9L412.7,285.0L414.2,284.6L415.7,283.9L417.3,286.4L418.8,287.1L420.3,286.6L421.8,284.1L423.4,291.4L424.9,291.6L426.4,293.7L428.0,302.9L429.5,303.9L431.0,296.8L432.5,299.1L434.1,304.3L435.6,302.7L437.1,308.4L438.6,312.2L440.2,314.9L441.7,315.0L443.2,314.1L444.8,314.6L446.3,316.5L447.8,320.1L449.3,322.9L450.9,322.9L452.4,324.6L453.9,327.9L455.5,323.5L457.0,323.5L458.5,323.9L460.0,327.1L461.6,330.7L463.1,335.1L464.6,335.5L466.1,343.1L467.7,346.2L469.2,343.6L470.7,350.2L472.3,357.8L473.8,370.3L475.3,373.2L476.8,374.5L478.4,381.5L479.9,382.5L481.4,385.8L482.9,397.2L484.5,400.0L486.0,409.8L487.5,419.2L489.1,416.6L490.6,424.8L492.1,427.2L493.6,430.4L495.2,429.8L496.7,436.5L498.2,440.5L499.7,440.8L501.3,450.9L502.8,455.8L504.3,454.0L505.9,457.4L507.4,466.5L508.9,475.9L510.4,479.3L512.0,485.7L513.5,496.3L515.0,496.9L516.5,494.2L518.1,492.6L519.6,497.0L521.1,508.8L522.7,512.6L524.2,513.2L525.7,515.5L527.2,528.7L528.8,531.3L530.3,534.7L531.8,539.3L533.4,539.0L534.9,548.5L536.4,552.6L537.9,560.5L539.5,559.1L541.0,560.1L542.5,561.2L544.0,565.8L545.6,571.1L547.1,576.1L548.6,590.0L550.2,600.8L551.7,600.6L553.2,599.3L554.7,610.3L556.3,607.9L557.8,613.4L559.3,621.4L560.8,621.6L562.4,623.7L563.9,625.4L565.4,621.8L567.0,618.9L568.5,619.9L570.0,623.4L571.5,622.7L573.1,623.4L574.6,623.4L576.1,620.1L577.6,628.0L579.2,620.5L580.7,621.2L582.2,627.1L583.8,625.0L585.3,630.9L586.8,638.4L588.3,637.2L589.9,640.2L591.4,638.0L592.9,642.1L594.5,643.9L596.0,646.1L597.5,652.8L599.0,655.7L600.6,662.3L602.1,666.2L603.6,662.9L605.1,665.5L606.7,668.0L608.2,662.6L609.7,668.1L611.3,668.1L612.8,669.1L614.3,665.0L615.8,664.7L617.4,665.4L618.9,663.8L620.4,664.7L621.9,657.2L623.5,663.9L625.0,660.3"/>
<path d="M69.0,628.1L70.5,637.8L72.1,632.7L73.6,632.8L75.1,636.0L76.6,640.1L78.2,647.8L79.7,641.8L81.2,646.9L82.7,649.6L84.3,647.8L85.8,647.3L87.3,657.9L88.9,665.6L90.4,663.8L91.9,652.1L93.4,652.2L95.0,654.1L96.5,653.1L98.0,653.1L99.5,664.9L101.1,663.2L102.6,659.2L104.1,660.4L105.7,659.2L107.2,658.2L108.7,657.7L110.2,659.8L111.8,659.3L113.3,652.9L114.8,651.0L116.4,651.6L117.9,648.5L119.4,654.5L120.9,655.2L122.5,649.9L124.0,653.4L125.5,657.2L127.0,661.6L128.6,658.2L130.1,656.6L131.6,650.2L133.2,637.9L134.7,638.0L136.2,636.7L137.7,636.9L139.3,638.6L140.8,640.2L142.3,635.8L143.8,637.3L145.4,640.9L146.9,640.1L148.4,642.4L150.0,629.4L151.5,624.2L153.0,625.0L154.5,624.5L156.1,617.6L157.6,614.0L159.1,608.3L160.6,602.8L162.2,607.8L163.7,603.0L165.2,601.3L166.8,598.8L168.3,596.9L169.8,591.7L171.3,589.4L172.9,577.0L174.4,580.9L175.9,572.5L177.5,565.3L179.0,570.9L180.5,573.0L182.0,569.0L183.6,575.4L185.1,569.1L186.6,567.4L188.1,566.7L189.7,554.3L191.2,555.9L192.7,556.5L194.3,558.5L195.8,552.9L197.3,549.4L198.8,540.2L200.4,533.6L201.9,533.7L203.4,528.0L204.9,532.1L206.5,522.1L208.0,518.8L209.5,515.7L211.1,513.3L212.6,514.1L214.1,518.5L215.6,513.4L217.2,513.0L218.7,513.0L220.2,512.9L221.7,513.9L223.3,507.4L224.8,493.9L226.3,498.8L227.9,497.0L229.4,495.7L230.9,493.5L232.4,489.3L234.0,484.2L235.5,473.5L237.0,470.7L238.5,461.7L240.1,453.5L241.6,447.8L243.1,447.6L244.7,445.5L246.2,439.7L247.7,429.9L249.2,427.7L250.8,422.4L252.3,417.3L253.8,409.0L255.4,408.0L256.9,401.6L258.4,407.3L259.9,402.5L261.5,399.2L263.0,393.5L264.5,384.4L266.0,381.3L267.6,377.8L269.1,376.5L270.6,373.3L272.2,368.7L273.7,367.4L275.2,367.8L276.7,366.6L278.3,368.2L279.8,366.1L281.3,363.8L282.8,362.4L284.4,359.4L285.9,358.6L287.4,353.6L289.0,359.1L290.5,354.6L292.0,345.8L293.5,339.0L295.1,333.7L296.6,328.1L298.1,319.6L299.6,309.5L301.2,309.3L302.7,299.3L304.2,298.5L305.8,302.1L307.3,302.1L308.8,306.2L310.3,306.0L311.9,300.7L313.4,294.5L314.9,289.6L316.5,289.7L318.0,282.6L319.5,282.4L321.0,283.1L322.6,285.8L324.1,283.8L325.6,284.4L327.1,279.4L328.7,279.5L330.2,276.1L331.7,280.5L333.3,288.8L334.8,286.2L336.3,288.6L337.8,281.5L339.4,285.4L340.9,283.9L342.4,283.9L343.9,284.8L345.5,280.7L347.0,283.8L348.5,281.5L350.1,282.0L351.6,282.0L353.1,282.7L354.6,282.5L356.2,282.4L357.7,280.4L359.2,280.5L360.7,276.0L362.3,268.7L363.8,267.3L365.3,266.3L366.9,265.1L368.4,270.0L369.9,264.1L371.4,262.9L373.0,253.4L374.5,253.8L376.0,256.1L377.5,246.8L379.1,240.4L380.6,245.5L382.1,246.6L383.7,248.3L385.2,246.9L386.7,258.7L388.2,255.5L389.8,250.4L391.3,257.1L392.8,262.5L394.4,261.8L395.9,264.9L397.4,266.9L398.9,271.1L400.5,272.1L402.0,268.1L403.5,273.4L405.0,276.2L406.6,273.3L408.1,272.5L409.6,277.7L411.2,277.2L412.7,277.9L414.2,282.5L415.7,284.1L417.3,279.4L418.8,285.6L420.3,292.0L421.8,298.4L423.4,303.6L424.9,306.7L426.4,309.6L428.0,314.9L429.5,312.5L431.0,321.7L432.5,329.5L434.1,330.5L435.6,334.5L437.1,336.4L438.6,331.2L440.2,338.2L441.7,336.2L443.2,334.0L444.8,333.8L446.3,338.9L447.8,340.7L449.3,338.8L450.9,344.4L452.4,346.7L453.9,343.3L455.5,339.4L457.0,340.2L458.5,341.8L460.0,345.4L461.6,354.1L463.1,363.7L464.6,372.8L466.1,378.5L467.7,381.8L469.2,386.4L470.7,382.5L472.3,383.0L473.8,385.9L475.3,388.9L476.8,393.1L478.4,393.8L479.9,395.5L481.4,392.4L482.9,400.4L484.5,405.0L486.0,408.2L487.5,414.3L489.1,420.8L490.6,417.9L492.1,421.9L493.6,419.3L495.2,414.2L496.7,411.0L498.2,425.4L499.7,425.8L501.3,436.5L502.8,445.3L504.3,447.0L505.9,460.0L507.4,468.7L508.9,474.2L510.4,482.5L512.0,491.2L513.5,493.0L515.0,498.6L516.5,500.1L518.1,497.4L519.6,495.5L521.1,510.1L522.7,510.1L524.2,516.7L525.7,517.5L527.2,520.9L528.8,527.4L530.3,530.2L531.8,531.7L533.4,531.2L534.9,530.1L536.4,539.0L537.9,551.2L539.5,562.9L541.0,571.9L542.5,574.6L544.0,579.2L545.6,579.7L547.1,585.4L548.6,580.8L550.2,587.0L551.7,595.6L553.2,599.8L554.7,606.1L556.3,606.7L557.8,605.6L559.3,606.1L560.8,609.0L562.4,618.3L563.9,625.8L565.4,623.0L567.0,622.8L568.5,622.6L570.0,623.1L571.5,618.0L573.1,620.5L574.6,625.5L576.1,628.7L577.6,624.1L579.2,625.6L580.7,621.5L582.2,628.8L583.8,628.1L585.3,631.8L586.8,632.4L588.3,635.9L589.9,630.9L591.4,627.3L592.9,637.4L594.5,640.4L596.0,643.3L597.5,653.1L599.0,653.9L600.6,657.7L602.1,659.9L603.6,666.4L605.1,669.6L606.7,670.9L608.2,669.8L609.7,670.5L611.3,674.4L612.8,665.8L614.3,666.8L615.8,667.3L617.4,669.6L618.9,660.7L620.4,667.5L621.9,667.9L623.5,668.7L625.0,668.8"/>
<path d="M69.0,654.0L70.5,652.7L72.1,648.9L73.6,646.1L75.1,643.4L76.6,645.0L78.2,648.8L79.7,656.7L81.2,656.3L82.7,654.6L84.3,648.1L85.8,640.2L87.3,639.2L88.9,639.2L90.4,635.7L91.9,633.1L93.4,638.7L95.0,637.6L96.5,633.3L98.0,644.7L99.5,650.6L101.1,652.3L102.6,659.8L104.1,650.6L105.7,659.2L107.2,656.9L108.7,657.9L110.2,658.3L111.8,651.5L113.3,658.7L114.8,650.6L116.4,643.4L117.9,643.3L119.4,648.5L120.9,655.4L122.5,658.3L124.0,663.1L125.5,665.8L127.0,661.2L128.6,662.1L130.1,654.4L131.6,654.7L133.2,652.2L134.7,650.6L136.2,645.2L137.7,642.1L139.3,635.7L140.8,631.0L142.3,626.1L143.8,635.5L145.4,638.8L146.9,640.3L148.4,637.1L150.0,636.0L151.5,638.3L153.0,634.9L154.5,631.4L156.1,620.1L157.6,618.8L159.1,612.2L160.6,608.8L162.2,599.5L163.7,597.0L165.2,598.1L166.8,594.8L168.3,592.6L169.8,593.6L171.3,590.1L172.9,592.9L174.4,575.3L175.9,578.6L177.5,574.4L179.0,567.9L180.5,561.1L182.0,565.8L183.6,559.8L185.1,553.2L186.6,557.1L188.1,555.1L189.7,556.2L191.2,551.9L192.7,554.8L194.3,560.0L195.8,559.9L197.3,544.5L198.8,544.0L200.4,542.3L201.9,541.5L203.4,545.7L204.9,535.8L206.5,543.8L208.0,537.0L209.5,539.0L211.1,535.2L212.6,521.9L214.1,521.2L215.6,520.0L217.2,517.7L218.7,515.2L220.2,508.1L221.7,509.7L223.3,507.0L224.8,499.3L226.3,493.0L227.9,482.9L229.4,478.6L230.9,478.3L232.4,471.1L234.0,463.3L235.5,465.2L237.0,457.6L238.5,455.6L240.1,448.6L241.6,438.3L243.1,438.0L244.7,437.1L246.2,442.3L247.7,449.7L249.2,439.3L250.8,438.2L252.3,437.8L253.8,431.6L255.4,420.7L256.9,425.3L258.4,419.5L259.9,413.7L261.5,408.5L263.0,403.2L264.5,395.6L266.0,395.6L267.6,395.7L269.1,387.6L270.6,377.5L272.2,374.3L273.7,363.7L275.2,361.1L276.7,361.5L278.3,370.1L279.8,368.6L281.3,358.3L282.8,357.6L284.4,347.3L285.9,341.5L287.4,342.8L289.0,342.6L290.5,337.0L292.0,324.3L293.5,325.5L295.1,321.6L296.6,315.3L298.1,312.5L299.6,306.0L301.2,297.5L302.7,299.6L304.2,292.8L305.8,290.8L307.3,281.9L308.8,283.6L310.3,280.0L311.9,284.0L313.4,282.5L314.9,287.8L316.5,284.9L318.0,283.0L319.5,276.0L321.0,277.3L322.6,280.1L324.1,295.1L325.6,290.7L327.1,287.1L328.7,287.6L330.2,289.9L331.7,284.0L333.3,281.2L334.8,275.3L336.3,270.6L337.8,275.8L339.4,280.4L340.9,278.6L342.4,276.6L343.9,278.6L345.5,281.7L347.0,281.8L348.5,277.4L350.1,279.6L351.6,284.1L353.1,282.2L354.6,277.0L356.2,279.6L357.7,279.0L359.2,284.2L360.7,285.6L362.3,282.1L363.8,281.8L365.3,280.3L366.9,277.6L368.4,278.3L369.9,277.3L371.4,278.9L373.0,273.5L374.5,273.4L376.0,272.9L377.5,278.1L379.1,278.6L380.6,276.2L382.1,279.4L383.7,279.7L385.2,279.6L386.7,287.2L388.2,290.0L389.8,296.5L391.3,300.0L392.8,301.6L394.4,302.7L395.9,293.0L397.4,294.6L398.9,294.4L400.5,297.8L402.0,295.3L403.5,292.5L405.0,289.9L406.6,292.9L408.1,296.0L409.6,294.8L411.2,295.8L412.7,302.8L414.2,299.0L415.7,301.3L417.3,298.8L418.8,304.3L420.3,306.2L421.8,304.6L423.4,301.1L424.9,305.7L426.4,312.1L428.0,314.9L429.5,314.1L431.0,319.6L432.5,321.1L434.1,321.4L435.6,328.2L437.1,329.3L438.6,325.3L440.2,326.5L441.7,327.0L443.2,330.2L444.8,332.8L446.3,335.7L447.8,335.6L449.3,335.9L450.9,340.8L452.4,347.1L453.9,356.6L455.5,353.9L457.0,363.7L458.5,368.3L460.0,368.8L461.6,374.1L463.1,380.3L464.6,385.3L466.1,383.0L467.7,384.8L469.2,384.6L470.7,387.4L472.3,392.4L473.8,398.3L475.3,396.2L476.8,401.8L478.4,405.8L479.9,401.8L481.4,407.3L482.9,409.4L484.5,414.2L486.0,419.3L487.5,431.3L489.1,433.9L490.6,435.1L492.1,444.9L493.6,444.8L495.2,445.8L496.7,444.8L498.2,453.7L499.7,456.6L501.3,458.3L502.8,460.7L504.3,464.3L505.9,460.3L507.4,460.7L508.9,468.0L510.4,471.8L512.0,480.2L513.5,485.0L515.0,490.2L516.5,490.2L518.1,503.1L519.6,505.4L521.1,510.5L522.7,526.1L524.2,527.3L525.7,533.7L527.2,527.3L528.8,530.9L530.3,527.0L531.8,533.6L533.4,541.7L534.9,545.0L536.4,554.1L537.9,564.4L539.5,566.1L541.0,571.6L542.5,571.2L544.0,577.3L545.6,591.7L547.1,594.6L548.6,601.8L550.2,603.3L551.7,609.7L553.2,615.6L554.7,617.7L556.3,612.2L557.8,613.0L559.3,620.2L560.8,622.4L562.4,628.2L563.9,629.4L565.4,624.2L567.0,629.1L568.5,630.4L570.0,625.4L571.5,626.2L573.1,626.9L574.6,625.5L576.1,627.3L577.6,629.8L579.2,621.0L580.7,624.7L582.2,625.7L583.8,624.4L585.3,627.1L586.8,629.6L588.3,635.7L589.9,644.0L591.4,650.0L592.9,646.4L594.5,646.3L596.0,651.8L597.5,653.0L599.0,651.6L600.6,652.7L602.1,661.7L603.6,662.3L605.1,667.8L606.7,666.9L608.2,667.5L609.7,665.9L611.3,666.6L612.8,658.7L614.3,657.3L615.8,653.4L617.4,659.6L618.9,665.5L620.4,674.2L621.9,675.4L623.5,674.3L625.0,676.8"/>
<path d="M69.0,659.6L70.5,658.9L72.1,662.4L73.6,666.3L75.1,669.8L76.6,666.9L78.2,677.2L79.7,688.5L81.2,695.8L82.7,694.6L84.3,697.9L85.8,692.1L87.3,688.5L88.9,686.0L90.4,687.0L91.9,686.3L93.4,685.4L95.0,685.8L96.5,684.8L98.0,688.0L99.5,689.1L101.1,689.4L102.6,696.5L104.1,694.1L105.7,696.2L107.2,700.0L108.7,699.8L110.2,697.1L111.8,695.8L113.3,697.7L114.8,694.0L116.4,695.1L117.9,692.0L119.4,684.8L120.9,684.9L122.5,686.0L124.0,688.1L125.5,680.2L127.0,674.1L128.6,678.3L130.1,675.0L131.6,673.9L133.2,672.9L134.7,666.4L136.2,660.0L137.7,650.5L139.3,644.3L140.8,635.8L142.3,627.0L143.8,621.3L145.4,618.7L146.9,615.0L148.4,611.5L150.0,608.8L151.5,606.6L153.0,600.5L154.5,591.2L156.1,594.1L157.6,596.8L159.1,593.1L160.6,595.6L162.2,595.2L163.7,603.1L165.2,598.0L166.8,595.2L168.3,600.1L169.8,595.0L171.3,594.9L172.9,581.0L174.4,586.0L175.9,581.4L177.5,571.2L179.0,567.7L180.5,569.1L182.0,573.4L183.6,576.2L185.1,573.0L186.6,565.1L188.1,558.1L189.7,555.3L191.2,551.2L192.7,543.9L194.3,544.6L195.8,543.1L197.3,545.6L198.8,546.7L200.4,551.5L201.9,538.9L203.4,532.9L204.9,521.2L206.5,513.5L208.0,511.6L209.5,503.0L211.1,497.9L212.6,498.5L214.1,497.4L215.6,495.5L217.2,491.9L218.7,492.9L220.2,497.1L221.7,490.3L223.3,488.9L224.8,477.2L226.3,474.4L227.9,468.9L229.4,479.0L230.9,480.0L232.4,476.9L234.0,482.1L235.5,473.5L237.0,475.9L238.5,476.2L240.1,469.1L241.6,461.1L243.1,457.4L244.7,451.0L246.2,443.7L247.7,444.0L249.2,437.0L250.8,433.2L252.3,430.3L253.8,420.2L255.4,418.5L256.9,412.1L258.4,400.5L259.9,397.0L261.5,392.0L263.0,391.9L264.5,388.4L266.0,388.9L267.6,391.8L269.1,391.3L270.6,391.0L272.2,389.0L273.7,381.3L275.2,378.3L276.7,376.5L278.3,372.8L279.8,371.6L281.3,357.3L282.8,356.1L284.4,353.1L285.9,346.1L287.4,342.8L289.0,337.8L290.5,335.8L292.0,332.5L293.5,330.4L295.1,317.1L296.6,309.2L298.1,305.7L299.6,306.5L301.2,308.8L302.7,295.4L304.2,293.1L305.8,292.4L307.3,294.5L308.8,297.8L310.3,291.7L311.9,285.7L313.4,278.4L314.9,279.8L316.5,272.7L318.0,273.6L319.5,279.4L321.0,279.1L322.6,271.5L324.1,269.4L325.6,275.0L327.1,265.3L328.7,269.2L330.2,268.5L331.7,269.8L333.3,270.6L334.8,274.5L336.3,271.9L337.8,268.1L339.4,265.5L340.9,269.6L342.4,265.5L343.9,269.0L345.5,261.5L347.0,269.4L348.5,267.5L350.1,273.1L351.6,271.1L353.1,272.0L354.6,277.9L356.2,276.2L357.7,273.4L359.2,273.5L360.7,274.8L362.3,267.0L363.8,267.0L365.3,267.0L366.9,263.8L368.4,263.1L369.9,256.1L371.4,261.4L373.0,260.9L374.5,268.1L376.0,261.8L377.5,257.4L379.1,258.8L380.6,251.7L382.1,254.9L383.7,256.2L385.2,258.3L386.7,258.3L388.2,261.9L389.8,270.6L391.3,273.4L392.8,267.8L394.4,272.2L395.9,269.6L397.4,271.6L398.9,267.2L400.5,264.6L402.0,270.8L403.5,270.6L405.0,272.2L406.6,270.6L408.1,271.6L409.6,278.7L411.2,275.0L412.7,273.3L414.2,279.2L415.7,273.7L417.3,274.1L418.8,283.5L420.3,286.7L421.8,288.5L423.4,288.0L424.9,287.2L426.4,289.2L428.0,292.5L429.5,298.6L431.0,304.9L432.5,306.4L434.1,304.1L435.6,310.9L437.1,307.4L438.6,307.3L440.2,309.2L441.7,308.0L443.2,308.7L444.8,314.8L446.3,309.6L447.8,307.5L449.3,310.9L450.9,315.4L452.4,314.8L453.9,324.0L455.5,329.5L457.0,330.4L458.5,335.4L460.0,335.7L461.6,337.9L463.1,349.6L464.6,352.0L466.1,356.2L467.7,363.3L469.2,363.4L470.7,369.5L472.3,370.9L473.8,369.3L475.3,377.8L476.8,377.8L478.4,384.0L479.9,382.6L481.4,393.3L482.9,405.1L484.5,411.7L486.0,411.3L487.5,413.8L489.1,415.9L490.6,413.2L492.1,415.8L493.6,420.7L495.2,427.7L496.7,423.2L498.2,425.7L499.7,430.5L501.3,435.7L502.8,436.0L504.3,444.4L505.9,445.1L507.4,453.1L508.9,466.8L510.4,462.8L512.0,466.9L513.5,472.9L515.0,481.4L516.5,481.8L518.1,485.5L519.6,484.4L521.1,491.3L522.7,499.2L524.2,500.1L525.7,501.9L527.2,508.1L528.8,516.2L530.3,524.1L531.8,531.0L533.4,536.3L534.9,536.3L536.4,534.2L537.9,542.0L539.5,554.2L541.0,551.5L542.5,555.1L544.0,561.9L545.6,570.2L547.1,580.0L548.6,589.6L550.2,593.5L551.7,598.4L553.2,602.0L554.7,605.6L556.3,612.2L557.8,617.1L559.3,620.7L560.8,620.2L562.4,625.5L563.9,622.6L565.4,625.3L567.0,617.2L568.5,618.0L570.0,622.9L571.5,623.0L573.1,625.2L574.6,625.8L576.1,637.2L577.6,642.2L579.2,644.9L580.7,647.2L582.2,650.3L583.8,657.9L585.3,660.0L586.8,653.9L588.3,653.1L589.9,660.4L591.4,664.1L592.9,659.3L594.5,662.3L596.0,665.5L597.5,667.1L599.0,662.3L600.6,658.3L602.1,665.1L603.6,664.6L605.1,666.0L606.7,673.9L608.2,677.0L609.7,676.7L611.3,672.1L612.8,670.6L614.3,670.8L615.8,668.2L617.4,658.6L618.9,662.3L620.4,662.9L621.9,669.2L623.5,671.2L625.0,674.3"/>
<path d="M69.0,679.2L70.5,676.7L72.1,677.7L73.6,681.1L75.1,684.4L76.6,692.3L78.2,698.9L79.7,707.1L81.2,707.4L82.7,705.1L84.3,699.2L85.8,700.0L87.3,696.5L88.9,692.1L90.4,692.1L91.9,682.5L93.4,686.5L95.0,683.9L96.5,680.3L98.0,680.6L99.5,672.0L101.1,676.7L102.6,679.9L104.1,679.5L105.7,675.5L107.2,679.1L108.7,671.8L110.2,672.6L111.8,672.6L113.3,669.2L114.8,665.7L116.4,663.5L117.9,671.3L119.4,665.4L120.9,662.6L122.5,652.0L124.0,656.0L125.5,655.8L127.0,666.5L128.6,662.8L130.1,655.9L131.6,651.8L133.2,650.9L134.7,644.4L136.2,643.0L137.7,642.3L139.3,638.0L140.8,632.4L142.3,632.7L143.8,634.6L145.4,629.5L146.9,626.9L148.4,630.5L150.0,623.5L151.5,612.4L153.0,603.6L154.5,603.3L156.1,600.3L157.6,597.2L159.1,593.0L160.6,583.8L162.2,573.7L163.7,571.5L165.2,575.8L166.8,574.1L168.3,570.6L169.8,572.5L171.3,572.3L172.9,567.7L174.4,563.2L175.9,564.5L177.5,561.1L179.0,554.1L180.5,554.5L182.0,551.4L183.6,547.3L185.1,541.6L186.6,537.6L188.1,541.2L189.7,537.2L191.2,541.0L192.7,540.4L194.3,530.3L195.8,534.6L197.3,526.5L198.8,517.9L200.4,514.5L201.9,516.6L203.4,517.4L204.9,511.1L206.5,509.0L208.0,505.8L209.5,506.3L211.1,512.2L212.6,510.0L214.1,499.4L215.6,494.6L217.2,490.0L218.7,491.5L220.2,488.9L221.7,481.9L223.3,477.0L224.8,473.7L226.3,469.7L227.9,456.9L229.4,459.9L230.9,457.7L232.4,458.2L234.0,457.3L235.5,455.0L237.0,455.6L238.5,454.9L240.1,458.0L241.6,454.9L243.1,452.4L244.7,446.6L246.2,448.1L247.7,447.9L249.2,441.7L250.8,431.1L252.3,426.1L253.8,416.1L255.4,419.0L256.9,414.8L258.4,409.7L259.9,403.6L261.5,411.2L263.0,412.3L264.5,403.8L266.0,398.4L267.6,395.1L269.1,385.2L270.6,383.6L272.2,388.7L273.7,393.1L275.2,388.1L276.7,384.0L278.3,378.9L279.8,378.8L281.3,367.8L282.8,358.5L284.4,362.1L285.9,357.9L287.4,361.1L289.0,355.5L290.5,354.5L292.0,347.9L293.5,341.1L295.1,342.7L296.6,339.6L298.1,329.7L299.6,327.7L301.2,320.5L302.7,308.8L304.2,306.8L305.8,310.3L307.3,311.2L308.8,302.2L310.3,300.6L311.9,297.8L313.4,291.2L314.9,280.2L316.5,283.5L318.0,285.2L319.5,288.2L321.0,279.8L322.6,273.3L324.1,276.9L325.6,283.6L327.1,281.2L328.7,280.4L330.2,281.8L331.7,279.0L333.3,281.1L334.8,278.3L336.3,279.1L337.8,274.4L339.4,277.5L340.9,278.2L342.4,273.8L343.9,280.8L345.5,274.6L347.0,276.6L348.5,282.2L350.1,287.1L351.6,277.3L353.1,277.5L354.6,282.9L356.2,289.6L357.7,280.1L359.2,276.9L360.7,277.8L362.3,275.0L363.8,281.7L365.3,277.2L366.9,280.7L368.4,282.6L369.9,273.3L371.4,268.8L373.0,267.9L374.5,266.6L376.0,272.4L377.5,270.8L379.1,275.2L380.6,269.7L382.1,257.8L383.7,257.4L385.2,258.4L386.7,257.6L388.2,254.4L389.8,260.9L391.3,271.9L392.8,270.3L394.4,269.5L395.9,267.7L397.4,276.1L398.9,277.1L400.5,281.1L402.0,285.3L403.5,288.9L405.0,285.3L406.6,288.1L408.1,291.9L409.6,293.7L411.2,296.9L412.7,293.7L414.2,294.4L415.7,294.4L417.3,299.0L418.8,296.5L420.3,300.6L421.8,298.3L423.4,301.0L424.9,303.7L426.4,304.3L428.0,307.1L429.5,307.8L431.0,307.9L432.5,305.7L434.1,314.7L435.6,311.8L437.1,314.2L438.6,313.1L440.2,321.9L441.7,321.1L443.2,325.4L444.8,332.5L446.3,341.3L447.8,346.8L449.3,349.4L450.9,345.1L452.4,352.2L453.9,355.9L455.5,360.0L457.0,363.8L458.5,364.3L460.0,365.0L461.6,368.6L463.1,374.4L464.6,370.3L466.1,376.6L467.7,378.4L469.2,383.5L470.7,386.7L472.3,389.8L473.8,395.9L475.3,399.9L476.8,396.0L478.4,401.7L479.9,405.9L481.4,405.8L482.9,414.9L484.5,413.3L486.0,419.8L487.5,428.5L489.1,429.7L490.6,438.3L492.1,442.7L493.6,446.4L495.2,443.8L496.7,449.4L498.2,452.4L499.7,456.4L501.3,454.6L502.8,460.9L504.3,466.7L505.9,472.7L507.4,476.7L508.9,479.8L510.4,482.7L512.0,490.1L513.5,495.2L515.0,493.4L516.5,501.0L518.1,506.9L519.6,510.3L521.1,516.1L522.7,518.2L524.2,518.3L525.7,520.9L527.2,532.5L528.8,534.1L530.3,529.2L531.8,531.2L533.4,536.9L534.9,552.1L536.4,554.1L537.9,562.2L539.5,565.0L541.0,570.7L542.5,573.4L544.0,575.0L545.6,583.1L547.1,586.3L548.6,594.6L550.2,598.4L551.7,604.0L553.2,603.9L554.7,602.4L556.3,611.7L557.8,607.4L559.3,617.8L560.8,616.3L562.4,619.6L563.9,630.5L565.4,626.4L567.0,624.1L568.5,635.4L570.0,636.9L571.5,638.1L573.1,640.4L574.6,637.9L576.1,643.3L577.6,651.4L579.2,650.0L580.7,652.2L582.2,660.9L583.8,668.0L585.3,668.9L586.8,672.1L588.3,670.3L589.9,671.2L591.4,674.0L592.9,673.9L594.5,669.1L596.0,667.0L597.5,669.8L599.0,671.9L600.6,679.4L602.1,679.9L603.6,681.5L605.1,684.2L606.7,690.1L608.2,690.7L609.7,691.4L611.3,701.3L612.8,698.6L614.3,696.3L615.8,690.4L617.4,691.7L618.9,690.9L620.4,700.4L621.9,699.2L623.5,704.7L625.0,706.5"/>
<path d="M69.0,689.0L70.5,696.8L72.1,693.9L73.6,697.8L75.1,691.4L76.6,688.4L78.2,684.0L79.7,685.2L81.2,681.5L82.7,679.8L84.3,682.5L85.8,685.2L87.3,700.6L88.9,708.8L90.4,709.7L91.9,715.7L93.4,705.9L95.0,702.1L96.5,699.5L98.0,698.4L99.5,695.2L101.1,694.1L102.6,690.4L104.1,695.5L105.7,698.1L107.2,696.4L108.7,695.6L110.2,694.8L111.8,689.9L113.3,688.7L114.8,679.3L116.4,683.1L117.9,685.9L119.4,684.4L120.9,683.8L122.5,683.1L124.0,689.0L125.5,687.8L127.0,680.0L128.6,672.0L130.1,677.0L131.6,681.5L133.2,682.3L134.7,685.3L136.2,683.9L137.7,675.0L139.3,670.2L140.8,668.0L142.3,667.1L143.8,662.8L145.4,660.5L146.9,659.9L148.4,657.0L150.0,659.6L151.5,663.1L153.0,658.7L154.5,658.7L156.1,663.1L157.6,659.8L159.1,661.6L160.6,657.5L162.2,665.6L163.7,663.4L165.2,659.3L166.8,661.2L168.3,658.3L169.8,654.3L171.3,645.4L172.9,637.5L174.4,630.5L175.9,625.5L177.5,621.9L179.0,616.9L180.5,612.0L182.0,608.0L183.6,604.1L185.1,608.9L186.6,611.5L188.1,606.2L189.7,601.7L191.2,598.9L192.7,592.7L194.3,590.0L195.8,585.5L197.3,576.3L198.8,562.9L200.4,560.5L201.9,568.6L203.4,562.0L204.9,560.8L206.5,558.9L208.0,557.5L209.5,553.4L211.1,546.0L212.6,539.3L214.1,535.5L215.6,533.5L217.2,529.3L218.7,517.6L220.2,520.3L221.7,514.7L223.3,513.5L224.8,511.9L226.3,508.9L227.9,502.8L229.4,498.0L230.9,492.8L232.4,494.2L234.0,500.3L235.5,491.9L237.0,486.1L238.5,487.0L240.1,484.1L241.6,478.2L243.1,469.9L244.7,474.8L246.2,474.4L247.7,463.3L249.2,455.7L250.8,449.5L252.3,445.4L253.8,443.7L255.4,439.7L256.9,428.1L258.4,427.2L259.9,427.5L261.5,427.5L263.0,420.8L264.5,420.5L266.0,413.6L267.6,405.1L269.1,402.6L270.6,395.3L272.2,396.2L273.7,394.7L275.2,386.7L276.7,383.8L278.3,385.8L279.8,374.8L281.3,372.4L282.8,377.3L284.4,370.0L285.9,363.5L287.4,354.7L289.0,352.1L290.5,339.5L292.0,333.5L293.5,331.4L295.1,330.1L296.6,329.7L298.1,331.3L299.6,332.2L301.2,330.8L302.7,331.9L304.2,325.7L305.8,325.3L307.3,335.2L308.8,340.9L310.3,337.8L311.9,333.6L313.4,332.3L314.9,320.6L316.5,324.7L318.0,320.5L319.5,316.9L321.0,321.9L322.6,313.1L324.1,312.4L325.6,306.0L327.1,306.7L328.7,306.8L330.2,305.9L331.7,306.2L333.3,302.2L334.8,300.4L336.3,294.1L337.8,293.0L339.4,283.7L340.9,285.2L342.4,280.8L343.9,282.4L345.5,280.8L347.0,278.8L348.5,284.2L350.1,285.6L351.6,280.5L353.1,283.8L354.6,272.2L356.2,276.2L357.7,277.8L359.2,276.9L360.7,276.1L362.3,277.3L363.8,283.7L365.3,283.9L366.9,292.7L368.4,298.6L369.9,296.0L371.4,292.3L373.0,295.6L374.5,294.7L376.0,296.5L377.5,294.6L379.1,289.6L380.6,286.7L382.1,285.2L383.7,279.4L385.2,278.5L386.7,286.1L388.2,291.5L389.8,290.8L391.3,293.3L392.8,296.3L394.4,302.9L395.9,305.1L397.4,300.7L398.9,299.1L400.5,304.9L402.0,316.8L403.5,310.6L405.0,300.1L406.6,304.3L408.1,304.0L409.6,304.0L411.2,310.1L412.7,310.0L414.2,302.8L415.7,297.1L417.3,299.9L418.8,299.3L420.3,305.2L421.8,303.9L423.4,305.9L424.9,303.1L426.4,303.3L428.0,305.0L429.5,312.9L431.0,322.5L432.5,327.8L434.1,326.8L435.6,333.8L437.1,338.3L438.6,344.0L440.2,345.7L441.7,349.5L443.2,354.1L444.8,358.0L446.3,359.1L447.8,355.2L449.3,352.2L450.9,350.8L452.4,350.3L453.9,352.3L455.5,354.8L457.0,355.8L458.5,352.0L460.0,351.7L461.6,356.8L463.1,362.1L464.6,359.7L466.1,365.7L467.7,367.7L469.2,371.2L470.7,366.8L472.3,367.8L473.8,368.1L475.3,378.3L476.8,379.1L478.4,386.3L479.9,384.5L481.4,388.7L482.9,394.5L484.5,392.4L486.0,388.8L487.5,398.2L489.1,404.4L490.6,407.9L492.1,416.0L493.6,424.1L495.2,417.6L496.7,421.5L498.2,429.1L499.7,430.3L501.3,435.1L502.8,444.5L504.3,449.0L505.9,451.5L507.4,449.7L508.9,451.1L510.4,459.3L512.0,458.4L513.5,466.0L515.0,466.5L516.5,475.3L518.1,477.9L519.6,483.0L521.1,494.6L522.7,506.5L524.2,520.4L525.7,527.2L527.2,532.6L528.8,538.2L530.3,545.3L531.8,548.4L533.4,556.3L534.9,563.2L536.4,570.4L537.9,574.9L539.5,582.1L541.0,582.0L542.5,584.2L544.0,580.3L545.6,586.0L547.1,591.0L548.6,599.7L550.2,600.3L551.7,617.3L553.2,618.3L554.7,628.7L556.3,633.7L557.8,627.0L559.3,631.5L560.8,638.8L562.4,631.7L563.9,636.4L565.4,637.2L567.0,637.4L568.5,638.8L570.0,635.8L571.5,640.8L573.1,639.6L574.6,641.7L576.1,647.8L577.6,668.3L579.2,673.3L580.7,675.4L582.2,675.8L583.8,672.7L585.3,675.3L586.8,682.3L588.3,684.7L589.9,688.6L591.4,685.2L592.9,693.5L594.5,688.7L596.0,692.9L597.5,694.5L599.0,695.4L600.6,691.2L602.1,688.3L603.6,686.3L605.1,690.1L606.7,685.4L608.2,682.9L609.7,682.2L611.3,687.5L612.8,688.1L614.3,681.9L615.8,682.3L617.4,693.4L618.9,693.6L620.4,690.6L621.9,696.7L623.5,705.6L625.0,709.7"/>
<path d="M69.0,669.4L70.5,673.2L72.1,666.0L73.6,664.0L75.1,660.8L76.6,657.3L78.2,651.6L79.7,656.6L81.2,654.8L82.7,647.9L84.3,643.4L85.8,644.0L87.3,652.9L88.9,654.0L90.4,649.8L91.9,652.6L93.4,653.0L95.0,654.3L96.5,657.1L98.0,658.0L99.5,660.8L101.1,655.9L102.6,656.6L104.1,655.8L105.7,656.7L107.2,656.9L108.7,654.5L110.2,652.7L111.8,655.6L113.3,654.8L114.8,651.3L116.4,654.0L117.9,660.5L119.4,659.2L120.9,656.2L122.5,647.9L124.0,644.9L125.5,648.0L127.0,650.5L128.6,652.0L130.1,647.4L131.6,637.3L133.2,639.7L134.7,643.6L136.2,644.8L137.7,651.6L139.3,653.8L140.8,654.6L142.3,646.0L143.8,641.4L145.4,644.5L146.9,647.4L148.4,645.9L150.0,641.7L151.5,638.5L153.0,630.0L154.5,626.9L156.1,628.8L157.6,617.1L159.1,612.6L160.6,610.9L162.2,611.2L163.7,607.2L165.2,607.0L166.8,603.7L168.3,601.6L169.8,597.8L171.3,591.2L172.9,587.5L174.4,575.7L175.9,571.9L177.5,576.6L179.0,565.1L180.5,566.8L182.0,563.9L183.6,553.6L185.1,546.9L186.6,544.2L188.1,537.2L189.7,536.5L191.2,538.2L192.7,534.4L194.3,538.7L195.8,537.4L197.3,530.9L198.8,528.9L200.4,525.2L201.9,516.8L203.4,519.8L204.9,517.2L206.5,513.3L208.0,516.9L209.5,501.7L211.1,491.8L212.6,493.0L214.1,493.1L215.6,484.5L217.2,489.6L218.7,488.0L220.2,479.4L221.7,476.6L223.3,475.5L224.8,476.9L226.3,467.7L227.9,466.6L229.4,462.5L230.9,454.0L232.4,453.6L234.0,445.9L235.5,445.1L237.0,451.3L238.5,454.2L240.1,456.8L241.6,457.0L243.1,454.0L244.7,454.0L246.2,444.5L247.7,445.6L249.2,445.4L250.8,440.5L252.3,438.3L253.8,436.9L255.4,436.7L256.9,428.8L258.4,419.4L259.9,415.1L261.5,410.9L263.0,406.5L264.5,406.1L266.0,404.1L267.6,400.2L269.1,404.2L270.6,405.2L272.2,403.4L273.7,399.7L275.2,405.3L276.7,402.1L278.3,391.5L279.8,384.3L281.3,377.1L282.8,367.4L284.4,364.0L285.9,360.6L287.4,356.3L289.0,349.5L290.5,347.2L292.0,339.7L293.5,334.7L295.1,332.1L296.6,328.7L298.1,315.1L299.6,316.5L301.2,305.2L302.7,296.1L304.2,293.3L305.8,288.7L307.3,282.0L308.8,273.9L310.3,273.9L311.9,266.8L313.4,265.3L314.9,263.8L316.5,264.3L318.0,265.0L319.5,263.0L321.0,262.2L322.6,272.2L324.1,272.6L325.6,277.5L327.1,279.2L328.7,281.3L330.2,277.4L331.7,276.2L333.3,278.9L334.8,280.3L336.3,280.3L337.8,272.8L339.4,270.7L340.9,268.1L342.4,270.6L343.9,271.8L345.5,267.8L347.0,262.2L348.5,264.2L350.1,260.1L351.6,264.6L353.1,268.2L354.6,270.5L356.2,266.0L357.7,263.2L359.2,268.0L360.7,264.2L362.3,268.7L363.8,269.2L365.3,267.0L366.9,270.9L368.4,266.8L369.9,270.2L371.4,265.9L373.0,262.1L374.5,268.3L376.0,266.9L377.5,259.1L379.1,263.4L380.6,262.0L382.1,249.0L383.7,252.1L385.2,258.4L386.7,261.4L388.2,269.4L389.8,269.7L391.3,276.0L392.8,273.0L394.4,273.7L395.9,279.9L397.4,283.0L398.9,283.4L400.5,276.0L402.0,275.3L403.5,272.0L405.0,277.5L406.6,277.0L408.1,278.3L409.6,275.1L411.2,281.1L412.7,279.6L414.2,284.0L415.7,298.0L417.3,300.1L418.8,299.9L420.3,303.9L421.8,309.1L423.4,311.3L424.9,303.8L426.4,305.7L428.0,301.3L429.5,314.3L431.0,315.7L432.5,316.5L434.1,321.6L435.6,323.6L437.1,317.6L438.6,324.7L440.2,322.8L441.7,317.3L443.2,324.7L444.8,331.9L446.3,337.5L447.8,341.0L449.3,336.5L450.9,342.7L452.4,347.6L453.9,351.2L455.5,358.4L457.0,354.4L458.5,356.5L460.0,362.3L461.6,356.5L463.1,353.9L464.6,355.6L466.1,359.2L467.7,364.1L469.2,368.1L470.7,371.6L472.3,372.6L473.8,376.7L475.3,383.9L476.8,390.0L478.4,393.8L479.9,398.3L481.4,400.2L482.9,405.7L484.5,405.1L486.0,417.2L487.5,419.0L489.1,422.9L490.6,419.9L492.1,422.0L493.6,424.5L495.2,433.3L496.7,432.4L498.2,429.6L499.7,435.4L501.3,442.3L502.8,444.8L504.3,454.2L505.9,458.5L507.4,452.6L508.9,458.4L510.4,455.4L512.0,454.5L513.5,464.1L515.0,470.8L516.5,470.6L518.1,478.5L519.6,482.8L521.1,480.2L522.7,490.3L524.2,494.9L525.7,511.1L527.2,511.8L528.8,522.1L530.3,524.8L531.8,534.4L533.4,535.5L534.9,543.6L536.4,550.7L537.9,552.2L539.5,556.7L541.0,563.8L542.5,572.1L544.0,584.4L545.6,594.1L547.1,586.4L548.6,591.4L550.2,589.1L551.7,592.5L553.2,600.2L554.7,596.4L556.3,597.1L557.8,602.8L559.3,603.9L560.8,614.3L562.4,621.5L563.9,626.1L565.4,636.6L567.0,635.8L568.5,635.7L570.0,631.6L571.5,633.6L573.1,641.5L574.6,649.5L576.1,648.9L577.6,648.7L579.2,646.7L580.7,642.2L582.2,646.5L583.8,652.9L585.3,643.0L586.8,640.0L588.3,645.6L589.9,643.2L591.4,644.9L592.9,642.8L594.5,648.2L596.0,652.6L597.5,651.2L599.0,656.3L600.6,658.7L602.1,662.0L603.6,671.2L605.1,678.5L606.7,674.7L608.2,672.3L609.7,669.6L611.3,669.7L612.8,671.4L614.3,673.7L615.8,677.9L617.4,678.7L618.9,682.7L620.4,681.4L621.9,686.3L623.5,680.9L625.0,686.3"/>
<path d="M69.0,692.0L70.5,690.9L72.1,693.3L73.6,694.5L75.1,705.6L76.6,705.3L78.2,693.5L79.7,698.1L81.2,708.0L82.7,703.0L84.3,722.8L85.8,716.4L87.3,719.3L88.9,718.8L90.4,719.0L91.9,716.4L93.4,708.6L95.0,697.8L96.5,704.8L98.0,699.8L99.5,706.2L101.1,708.6L102.6,707.0L104.1,709.0L105.7,708.4L107.2,707.3L108.7,706.2L110.2,706.2L111.8,700.6L113.3,696.0L114.8,689.4L116.4,686.7L117.9,693.7L119.4,699.8L120.9,697.4L122.5,699.6L124.0,695.8L125.5,703.8L127.0,697.7L128.6,701.5L130.1,695.5L131.6,694.2L133.2,698.6L134.7,689.6L136.2,689.8L137.7,687.3L139.3,687.8L140.8,689.0L142.3,689.2L143.8,678.1L145.4,678.4L146.9,677.3L148.4,668.5L150.0,665.5L151.5,665.9L153.0,651.3L154.5,652.3L156.1,649.5L157.6,651.7L159.1,650.2L160.6,645.1L162.2,642.4L163.7,646.7L165.2,639.9L166.8,641.1L168.3,642.6L169.8,632.0L171.3,635.2L172.9,636.0L174.4,630.4L175.9,622.2L177.5,612.3L179.0,610.1L180.5,602.4L182.0,596.7L183.6,600.4L185.1,604.7L186.6,602.0L188.1,592.9L189.7,595.9L191.2,593.5L192.7,596.6L194.3,603.9L195.8,594.8L197.3,593.4L198.8,580.2L200.4,582.5L201.9,571.7L203.4,567.3L204.9,565.5L206.5,562.5L208.0,557.9L209.5,550.5L211.1,552.1L212.6,553.5L214.1,544.6L215.6,528.6L217.2,516.8L218.7,508.4L220.2,509.5L221.7,507.5L223.3,506.9L224.8,506.7L226.3,502.5L227.9,501.1L229.4,493.8L230.9,483.1L232.4,487.0L234.0,486.4L235.5,479.5L237.0,479.4L238.5,476.8L240.1,483.0L241.6,481.2L243.1,479.2L244.7,478.0L246.2,465.6L247.7,459.3L249.2,454.4L250.8,446.9L252.3,452.7L253.8,452.1L255.4,449.6L256.9,439.1L258.4,442.0L259.9,442.0L261.5,436.8L263.0,429.5L264.5,422.7L266.0,418.4L267.6,421.7L269.1,423.8L270.6,420.3L272.2,418.5L273.7,414.8L275.2,410.5L276.7,411.1L278.3,408.7L279.8,401.2L281.3,397.7L282.8,396.4L284.4,393.6L285.9,388.7L287.4,383.2L289.0,379.1L290.5,382.8L292.0,378.3L293.5,372.0L295.1,370.4L296.6,363.1L298.1,361.3L299.6,357.5L301.2,357.0L302.7,354.4L304.2,352.7L305.8,357.2L307.3,352.8L308.8,344.6L310.3,343.2L311.9,336.5L313.4,336.2L314.9,329.1L316.5,329.4L318.0,326.7L319.5,317.9L321.0,315.5L322.6,314.5L324.1,314.9L325.6,311.1L327.1,304.9L328.7,310.2L330.2,309.3L331.7,304.3L333.3,302.4L334.8,303.8L336.3,303.5L337.8,297.0L339.4,299.7L340.9,296.7L342.4,294.0L343.9,303.9L345.5,306.5L347.0,298.4L348.5,294.6L350.1,293.1L351.6,288.3L353.1,280.4L354.6,283.7L356.2,287.0L357.7,290.1L359.2,288.6L360.7,288.3L362.3,290.0L363.8,286.0L365.3,288.9L366.9,287.8L368.4,293.9L369.9,295.4L371.4,286.0L373.0,284.5L374.5,290.7L376.0,284.6L377.5,283.8L379.1,284.7L380.6,288.0L382.1,286.7L383.7,287.0L385.2,284.0L386.7,281.2L388.2,285.5L389.8,288.1L391.3,283.0L392.8,291.3L394.4,289.4L395.9,284.9L397.4,288.3L398.9,283.7L400.5,281.9L402.0,281.3L403.5,280.8L405.0,279.7L406.6,273.5L408.1,278.9L409.6,278.7L411.2,287.6L412.7,293.6L414.2,298.4L415.7,300.6L417.3,308.2L418.8,308.6L420.3,304.8L421.8,310.4L423.4,302.6L424.9,306.2L426.4,308.5L428.0,311.8L429.5,323.9L431.0,330.4L432.5,330.5L434.1,331.0L435.6,337.3L437.1,336.5L438.6,336.6L440.2,342.6L441.7,345.9L443.2,355.7L444.8,354.1L446.3,347.8L447.8,354.0L449.3,359.6L450.9,361.3L452.4,367.2L453.9,374.6L455.5,372.0L457.0,373.9L458.5,369.4L460.0,376.5L461.6,379.1L463.1,383.5L464.6,382.6L466.1,383.7L467.7,379.3L469.2,374.6L470.7,375.5L472.3,372.0L473.8,378.1L475.3,384.8L476.8,392.9L478.4,402.2L479.9,407.5L481.4,414.2L482.9,419.1L484.5,423.3L486.0,428.4L487.5,431.4L489.1,435.8L490.6,437.0L492.1,437.4L493.6,446.4L495.2,443.0L496.7,452.7L498.2,449.4L499.7,460.3L501.3,468.2L502.8,465.1L504.3,465.3L505.9,464.1L507.4,471.2L508.9,480.3L510.4,496.9L512.0,496.2L513.5,501.1L515.0,503.3L516.5,507.6L518.1,517.8L519.6,526.7L521.1,536.8L522.7,540.9L524.2,546.3L525.7,548.5L527.2,557.3L528.8,552.3L530.3,556.5L531.8,553.6L533.4,554.7L534.9,555.7L536.4,565.1L537.9,580.2L539.5,589.0L541.0,588.6L542.5,591.6L544.0,594.4L545.6,600.3L547.1,612.1L548.6,622.5L550.2,625.5L551.7,626.0L553.2,620.7L554.7,618.4L556.3,621.5L557.8,628.4L559.3,635.7L560.8,638.1L562.4,639.3L563.9,644.5L565.4,646.3L567.0,644.6L568.5,644.8L570.0,651.1L571.5,652.5L573.1,659.2L574.6,657.5L576.1,661.4L577.6,655.7L579.2,651.5L580.7,655.3L582.2,654.3L583.8,661.5L585.3,669.9L586.8,674.3L588.3,685.6L589.9,683.1L591.4,686.3L592.9,682.6L594.5,685.5L596.0,684.8L597.5,685.2L599.0,690.5L600.6,685.6L602.1,691.1L603.6,690.9L605.1,692.4L606.7,692.6L608.2,694.1L609.7,693.2L611.3,689.3L612.8,692.5L614.3,687.9L615.8,689.9L617.4,680.1L618.9,686.2L620.4,681.8L621.9,691.6L623.5,691.6L625.0,694.3"/>
<path d="M69.0,676.6L70.5,670.6L72.1,678.3L73.6,680.9L75.1,683.2L76.6,694.7L78.2,694.1L79.7,695.8L81.2,693.4L82.7,691.0L84.3,698.1L85.8,696.3L87.3,697.8L88.9,701.7L90.4,702.8L91.9,703.9L93.4,707.4L95.0,703.3L96.5,701.3L98.0,697.7L99.5,701.3L101.1,704.2L102.6,704.9L104.1,700.4L105.7,704.5L107.2,709.4L108.7,707.5L110.2,713.0L111.8,710.3L113.3,702.1L114.8,706.5L116.4,695.4L117.9,698.9L119.4,701.1L120.9,694.3L122.5,694.0L124.0,694.0L125.5,698.0L127.0,691.7L128.6,687.3L130.1,678.4L131.6,672.2L133.2,663.7L134.7,664.8L136.2,664.0L137.7,661.7L139.3,656.8L140.8,661.6L142.3,658.1L143.8,656.4L145.4,655.5L146.9,648.7L148.4,640.6L150.0,653.4L151.5,649.1L153.0,640.8L154.5,638.9L156.1,633.4L157.6,626.2L159.1,622.6L160.6,618.7L162.2,614.3L163.7,612.6L165.2,606.9L166.8,597.7L168.3,598.4L169.8,593.5L171.3,598.2L172.9,602.0L174.4,590.7L175.9,592.0L177.5,585.6L179.0,583.5L180.5,587.3L182.0,589.3L183.6,587.5L185.1,587.1L186.6,582.2L188.1,586.4L189.7,575.4L191.2,575.2L192.7,570.9L194.3,570.4L195.8,563.9L197.3,566.4L198.8,571.6L200.4,563.1L201.9,558.8L203.4,553.7L204.9,553.8L206.5,554.7L208.0,552.2L209.5,544.5L211.1,533.5L212.6,524.2L214.1,524.5L215.6,520.1L217.2,518.2L218.7,512.4L220.2,515.8L221.7,514.2L223.3,507.7L224.8,498.7L226.3,491.0L227.9,488.0L229.4,483.4L230.9,484.5L232.4,490.6L234.0,484.7L235.5,485.4L237.0,483.6L238.5,477.0L240.1,470.3L241.6,465.9L243.1,458.5L244.7,457.0L246.2,449.6L247.7,448.0L249.2,446.1L250.8,440.4L252.3,441.0L253.8,436.0L255.4,429.1L256.9,423.5L258.4,418.0L259.9,423.9L261.5,417.2L263.0,413.7L264.5,420.7L266.0,414.2L267.6,410.1L269.1,408.0L270.6,404.7L272.2,408.0L273.7,406.9L275.2,405.5L276.7,400.6L278.3,394.8L279.8,390.9L281.3,385.2L282.8,378.0L284.4,374.6L285.9,375.5L287.4,375.1L289.0,372.0L290.5,369.1L292.0,364.4L293.5,360.3L295.1,362.7L296.6,354.9L298.1,351.3L299.6,346.3L301.2,340.2L302.7,335.9L304.2,329.9L305.8,321.5L307.3,320.8L308.8,319.8L310.3,312.5L311.9,318.8L313.4,317.6L314.9,317.6L316.5,314.1L318.0,309.9L319.5,307.1L321.0,300.4L322.6,298.9L324.1,294.1L325.6,283.0L327.1,281.5L328.7,279.3L330.2,278.3L331.7,284.1L333.3,279.7L334.8,279.4L336.3,280.2L337.8,278.0L339.4,278.2L340.9,277.5L342.4,275.6L343.9,274.7L345.5,272.8L347.0,276.0L348.5,275.0L350.1,282.1L351.6,277.9L353.1,282.9L354.6,276.3L356.2,275.4L357.7,280.1L359.2,283.2L360.7,285.0L362.3,291.3L363.8,290.0L365.3,288.8L366.9,286.2L368.4,292.5L369.9,293.5L371.4,290.9L373.0,282.6L374.5,282.6L376.0,281.3L377.5,282.0L379.1,287.1L380.6,284.2L382.1,281.4L383.7,284.2L385.2,281.7L386.7,281.8L388.2,280.3L389.8,278.3L391.3,275.1L392.8,277.9L394.4,275.4L395.9,270.7L397.4,271.7L398.9,265.9L400.5,255.5L402.0,263.9L403.5,271.9L405.0,270.4L406.6,271.4L408.1,274.7L409.6,276.2L411.2,276.8L412.7,276.8L414.2,281.3L415.7,284.0L417.3,288.2L418.8,289.9L420.3,296.5L421.8,301.8L423.4,300.8L424.9,313.7L426.4,312.2L428.0,316.3L429.5,322.6L431.0,326.0L432.5,331.1L434.1,335.8L435.6,334.0L437.1,337.1L438.6,337.2L440.2,341.0L441.7,339.0L443.2,348.2L444.8,346.4L446.3,347.3L447.8,347.3L449.3,353.5L450.9,358.5L452.4,363.6L453.9,369.2L455.5,373.7L457.0,378.6L458.5,386.1L460.0,386.2L461.6,395.4L463.1,395.3L464.6,397.4L466.1,399.5L467.7,401.5L469.2,395.5L470.7,405.5L472.3,404.8L473.8,403.0L475.3,409.2L476.8,411.6L478.4,421.8L479.9,430.5L481.4,437.6L482.9,438.7L484.5,440.2L486.0,438.6L487.5,441.1L489.1,443.8L490.6,449.1L492.1,455.5L493.6,453.7L495.2,462.4L496.7,470.6L498.2,470.0L499.7,472.7L501.3,480.7L502.8,484.6L504.3,487.2L505.9,490.7L507.4,497.5L508.9,511.2L510.4,510.2L512.0,516.9L513.5,517.3L515.0,522.6L516.5,527.9L518.1,531.2L519.6,532.7L521.1,545.3L522.7,546.8L524.2,546.7L525.7,558.5L527.2,561.2L528.8,560.0L530.3,562.5L531.8,556.3L533.4,562.3L534.9,573.2L536.4,576.3L537.9,579.1L539.5,579.7L541.0,579.7L542.5,585.0L544.0,591.9L545.6,602.8L547.1,610.9L548.6,615.9L550.2,616.0L551.7,617.6L553.2,620.2L554.7,625.3L556.3,631.2L557.8,631.6L559.3,634.3L560.8,635.7L562.4,641.2L563.9,634.9L565.4,634.8L567.0,634.7L568.5,640.2L570.0,639.9L571.5,645.3L573.1,651.4L574.6,649.2L576.1,656.7L577.6,660.4L579.2,661.7L580.7,668.5L582.2,665.4L583.8,664.3L585.3,666.4L586.8,671.8L588.3,672.8L589.9,669.2L591.4,669.7L592.9,669.5L594.5,681.5L596.0,690.1L597.5,690.2L599.0,685.9L600.6,688.3L602.1,686.2L603.6,689.0L605.1,693.1L606.7,689.6L608.2,694.5L609.7,695.0L611.3,691.9L612.8,701.1L614.3,704.1L615.8,705.2L617.4,699.8L618.9,704.0L620.4,706.8L621.9,706.2L623.5,713.1L625.0,713.4"/>
<path d="M69.0,676.7L70.5,677.9L72.1,675.9L73.6,677.9L75.1,676.8L76.6,677.9L78.2,682.2L79.7,679.7L81.2,677.6L82.7,680.2L84.3,681.9L85.8,686.4L87.3,685.5L88.9,687.6L90.4,690.4L91.9,687.2L93.4,691.9L95.0,692.3L96.5,688.8L98.0,684.3L99.5,683.2L101.1,678.3L102.6,682.7L104.1,676.6L105.7,685.9L107.2,689.4L108.7,693.7L110.2,690.3L111.8,684.2L113.3,677.1L114.8,677.2L116.4,680.3L117.9,674.9L119.4,672.8L120.9,675.3L122.5,667.5L124.0,673.5L125.5,673.1L127.0,671.2L128.6,672.3L130.1,661.7L131.6,657.7L133.2,659.6L134.7,661.5L136.2,667.2L137.7,662.9L139.3,666.5L140.8,668.2L142.3,663.2L143.8,661.2L145.4,662.8L146.9,658.3L148.4,652.1L150.0,641.5L151.5,638.1L153.0,638.2L154.5,635.5L156.1,635.1L157.6,625.9L159.1,622.6L160.6,619.9L162.2,622.6L163.7,616.0L165.2,617.4L166.8,610.0L168.3,605.7L169.8,597.5L171.3,594.2L172.9,588.4L174.4,588.3L175.9,584.3L177.5,575.6L179.0,563.4L180.5,556.7L182.0,552.4L183.6,551.2L185.1,548.5L186.6,551.5L188.1,557.4L189.7,555.4L191.2,548.7L192.7,546.1L194.3,546.0L195.8,546.7L197.3,548.4L198.8,546.0L200.4,542.0L201.9,535.8L203.4,536.5L204.9,525.8L206.5,523.8L208.0,515.0L209.5,509.1L211.1,511.8L212.6,509.1L214.1,506.6L215.6,505.5L217.2,493.7L218.7,485.6L220.2,488.9L221.7,484.4L223.3,489.5L224.8,490.3L226.3,483.7L227.9,481.7L229.4,483.3L230.9,481.3L232.4,479.0L234.0,478.3L235.5,481.0L237.0,474.8L238.5,479.8L240.1,472.9L241.6,468.3L243.1,461.0L244.7,451.0L246.2,452.8L247.7,454.8L249.2,454.0L250.8,441.5L252.3,438.1L253.8,435.2L255.4,431.4L256.9,426.9L258.4,415.7L259.9,410.4L261.5,404.0L263.0,397.1L264.5,396.7L266.0,391.4L267.6,386.7L269.1,383.1L270.6,379.4L272.2,379.7L273.7,375.9L275.2,375.2L276.7,368.7L278.3,363.3L279.8,365.4L281.3,355.0L282.8,348.9L284.4,340.9L285.9,346.9L287.4,341.5L289.0,337.5L290.5,333.3L292.0,334.1L293.5,332.9L295.1,332.0L296.6,322.4L298.1,317.3L299.6,312.6L301.2,309.1L302.7,304.0L304.2,299.0L305.8,295.8L307.3,295.8L308.8,294.0L310.3,292.4L311.9,283.7L313.4,279.1L314.9,275.2L316.5,265.9L318.0,272.2L319.5,268.6L321.0,266.0L322.6,262.5L324.1,268.4L325.6,268.3L327.1,270.9L328.7,268.7L330.2,268.2L331.7,270.9L333.3,268.4L334.8,264.1L336.3,258.6L337.8,256.1L339.4,252.4L340.9,249.8L342.4,252.1L343.9,258.6L345.5,263.7L347.0,265.5L348.5,269.8L350.1,270.2L351.6,280.8L353.1,283.1L354.6,289.9L356.2,287.0L357.7,285.6L359.2,286.7L360.7,284.0L362.3,283.8L363.8,278.6L365.3,282.2L366.9,281.5L368.4,285.1L369.9,281.9L371.4,274.6L373.0,276.4L374.5,281.3L376.0,275.3L377.5,269.1L379.1,265.8L380.6,269.0L382.1,263.5L383.7,272.0L385.2,276.0L386.7,272.9L388.2,271.4L389.8,272.4L391.3,281.1L392.8,284.3L394.4,286.7L395.9,280.5L397.4,280.4L398.9,274.3L400.5,282.1L402.0,285.4L403.5,275.7L405.0,270.5L406.6,276.5L408.1,280.2L409.6,279.4L411.2,279.9L412.7,290.8L414.2,294.0L415.7,287.5L417.3,290.9L418.8,287.6L420.3,287.7L421.8,290.7L423.4,293.7L424.9,292.1L426.4,294.7L428.0,296.9L429.5,302.9L431.0,302.5L432.5,308.3L434.1,311.5L435.6,315.5L437.1,316.6L438.6,319.2L440.2,319.0L441.7,322.4L443.2,319.2L444.8,331.6L446.3,334.5L447.8,335.7L449.3,334.9L450.9,338.8L452.4,347.3L453.9,348.0L455.5,348.9L457.0,345.1L458.5,347.8L460.0,348.1L461.6,358.3L463.1,357.9L464.6,360.8L466.1,367.5L467.7,381.4L469.2,380.6L470.7,379.7L472.3,384.9L473.8,391.8L475.3,393.4L476.8,393.4L478.4,397.7L479.9,407.1L481.4,413.9L482.9,424.3L484.5,428.5L486.0,430.8L487.5,440.7L489.1,444.9L490.6,448.7L492.1,449.2L493.6,450.4L495.2,453.3L496.7,456.1L498.2,454.6L499.7,461.8L501.3,467.9L502.8,474.4L504.3,475.7L505.9,484.8L507.4,498.3L508.9,497.8L510.4,493.0L512.0,496.9L513.5,498.8L515.0,497.9L516.5,499.5L518.1,507.9L519.6,514.9L521.1,525.9L522.7,535.4L524.2,536.9L525.7,542.2L527.2,542.5L528.8,549.2L530.3,547.4L531.8,559.4L533.4,567.3L534.9,571.0L536.4,574.0L537.9,576.0L539.5,580.7L541.0,592.6L542.5,596.7L544.0,603.6L545.6,601.5L547.1,605.2L548.6,604.1L550.2,617.2L551.7,629.9L553.2,635.5L554.7,641.8L556.3,650.2L557.8,652.6L559.3,644.6L560.8,646.5L562.4,636.3L563.9,638.5L565.4,638.3L567.0,641.0L568.5,643.3L570.0,642.1L571.5,643.8L573.1,649.6L574.6,650.4L576.1,651.6L577.6,644.8L579.2,646.0L580.7,651.6L582.2,652.9L583.8,647.5L585.3,648.8L586.8,652.8L588.3,653.8L589.9,663.6L591.4,666.2L592.9,668.3L594.5,673.6L596.0,684.1L597.5,683.1L599.0,686.9L600.6,689.7L602.1,689.1L603.6,691.5L605.1,687.4L606.7,689.6L608.2,692.6L609.7,688.2L611.3,692.8L612.8,693.1L614.3,693.4L615.8,686.7L617.4,680.0L618.9,678.2L620.4,676.7L621.9,682.3L623.5,688.4L625.0,688.4"/>
<path d="M69.0,660.7L70.5,656.4L72.1,658.8L73.6,659.8L75.1,666.8L76.6,670.1L78.2,667.1L79.7,674.3L81.2,679.5L82.7,683.0L84.3,687.1L85.8,684.2L87.3,690.3L88.9,687.5L90.4,691.1L91.9,686.3L93.4,691.1L95.0,682.1L96.5,678.6L98.0,684.0L99.5,684.5L101.1,688.3L102.6,694.0L104.1,693.9L105.7,692.3L107.2,693.1L108.7,696.3L110.2,697.1L111.8,710.0L113.3,704.1L114.8,703.9L116.4,705.6L117.9,701.2L119.4,697.6L120.9,694.3L122.5,696.9L124.0,694.8L125.5,693.8L127.0,692.5L128.6,694.4L130.1,692.6L131.6,684.0L133.2,683.9L134.7,680.5L136.2,684.9L137.7,679.8L139.3,680.6L140.8,683.6L142.3,688.3L143.8,685.4L145.4,683.9L146.9,673.5L148.4,672.5L150.0,668.8L151.5,664.0L153.0,662.7L154.5,651.1L156.1,636.9L157.6,626.6L159.1,618.6L160.6,622.2L162.2,619.8L163.7,624.6L165.2,617.9L166.8,613.6L168.3,615.0L169.8,608.3L171.3,601.7L172.9,599.2L174.4,591.8L175.9,589.6L177.5,579.9L179.0,564.1L180.5,563.9L182.0,560.3L183.6,561.5L185.1,558.9L186.6,556.1L188.1,550.2L189.7,550.0L191.2,549.9L192.7,543.0L194.3,532.2L195.8,531.7L197.3,540.2L198.8,540.5L200.4,536.7L201.9,534.7L203.4,530.6L204.9,515.2L206.5,513.2L208.0,502.0L209.5,498.5L211.1,484.6L212.6,479.3L214.1,478.8L215.6,475.0L217.2,471.2L218.7,473.2L220.2,472.0L221.7,474.3L223.3,475.1L224.8,476.6L226.3,474.4L227.9,473.5L229.4,466.1L230.9,461.5L232.4,462.5L234.0,461.2L235.5,456.5L237.0,457.5L238.5,454.1L240.1,461.9L241.6,462.3L243.1,455.5L244.7,456.6L246.2,443.8L247.7,445.3L249.2,446.7L250.8,446.7L252.3,437.4L253.8,439.7L255.4,434.3L256.9,431.8L258.4,431.2L259.9,429.7L261.5,421.8L263.0,418.3L264.5,411.0L266.0,410.6L267.6,408.4L269.1,408.4L270.6,401.6L272.2,401.7L273.7,398.8L275.2,400.1L276.7,391.0L278.3,393.9L279.8,389.9L281.3,386.5L282.8,377.6L284.4,375.3L285.9,374.4L287.4,367.7L289.0,360.7L290.5,354.0L292.0,354.7L293.5,347.6L295.1,345.8L296.6,340.1L298.1,331.6L299.6,330.9L301.2,320.4L302.7,321.6L304.2,319.3L305.8,315.9L307.3,312.4L308.8,310.7L310.3,303.4L311.9,302.5L313.4,302.5L314.9,292.7L316.5,288.1L318.0,287.5L319.5,291.0L321.0,288.7L322.6,286.3L324.1,287.6L325.6,287.1L327.1,277.2L328.7,270.4L330.2,275.3L331.7,278.7L333.3,272.4L334.8,268.2L336.3,264.8L337.8,265.3L339.4,266.9L340.9,271.9L342.4,264.6L343.9,263.7L345.5,258.7L347.0,257.5L348.5,255.1L350.1,258.3L351.6,258.2L353.1,260.9L354.6,264.4L356.2,261.2L357.7,268.4L359.2,264.7L360.7,268.7L362.3,275.0L363.8,273.5L365.3,280.3L366.9,284.6L368.4,285.3L369.9,275.7L371.4,280.4L373.0,280.9L374.5,276.5L376.0,282.8L377.5,280.5L379.1,285.7L380.6,279.8L382.1,278.1L383.7,274.4L385.2,272.0L386.7,267.7L388.2,264.7L389.8,264.7L391.3,265.0L392.8,266.1L394.4,271.2L395.9,272.1L397.4,263.8L398.9,266.0L400.5,264.9L402.0,274.1L403.5,277.2L405.0,282.5L406.6,283.3L408.1,286.7L409.6,282.8L411.2,289.3L412.7,289.7L414.2,293.2L415.7,294.4L417.3,295.2L418.8,291.6L420.3,294.8L421.8,292.1L423.4,299.0L424.9,305.1L426.4,315.8L428.0,317.6L429.5,314.9L431.0,320.9L432.5,322.4L434.1,324.8L435.6,321.1L437.1,318.4L438.6,319.0L440.2,323.5L441.7,324.3L443.2,324.0L444.8,329.9L446.3,335.5L447.8,338.5L449.3,343.1L450.9,351.7L452.4,356.9L453.9,359.0L455.5,363.0L457.0,354.7L458.5,360.0L460.0,366.5L461.6,365.4L463.1,371.3L464.6,379.8L466.1,376.8L467.7,383.5L469.2,380.3L470.7,383.0L472.3,384.7L473.8,390.8L475.3,396.6L476.8,401.6L478.4,413.5L479.9,419.8L481.4,421.9L482.9,426.2L484.5,429.9L486.0,432.3L487.5,431.3L489.1,427.4L490.6,438.5L492.1,437.4L493.6,434.4L495.2,434.2L496.7,435.4L498.2,451.8L499.7,457.9L501.3,467.4L502.8,480.2L504.3,486.8L505.9,491.1L507.4,488.9L508.9,491.2L510.4,497.6L512.0,500.9L513.5,508.9L515.0,518.2L516.5,524.5L518.1,530.6L519.6,527.1L521.1,534.9L522.7,540.0L524.2,540.7L525.7,538.3L527.2,545.2L528.8,552.3L530.3,544.6L531.8,552.9L533.4,550.5L534.9,555.9L536.4,567.2L537.9,568.3L539.5,578.4L541.0,580.9L542.5,586.8L544.0,603.5L545.6,614.6L547.1,617.1L548.6,619.4L550.2,623.6L551.7,636.5L553.2,640.0L554.7,645.2L556.3,645.7L557.8,642.8L559.3,651.2L560.8,652.7L562.4,653.6L563.9,653.2L565.4,654.4L567.0,654.3L568.5,649.5L570.0,655.3L571.5,658.5L573.1,665.2L574.6,667.8L576.1,670.6L577.6,671.7L579.2,676.6L580.7,683.3L582.2,685.9L583.8,683.3L585.3,681.2L586.8,677.2L588.3,676.9L589.9,676.8L591.4,674.0L592.9,680.8L594.5,685.1L596.0,681.8L597.5,677.3L599.0,675.3L600.6,681.0L602.1,692.9L603.6,690.9L605.1,694.4L606.7,695.1L608.2,704.9L609.7,711.0L611.3,712.6L612.8,718.4L614.3,713.6L615.8,707.2L617.4,704.0L618.9,707.1L620.4,704.6L621.9,704.6L623.5,705.0L625.0,705.2"/>
<path d="M69.0,679.1L70.5,684.6L72.1,683.5L73.6,677.7L75.1,679.4L76.6,679.0L78.2,680.6L79.7,689.7L81.2,683.1L82.7,675.1L84.3,685.7L85.8,691.6L87.3,686.4L88.9,686.7L90.4,686.7L91.9,683.4L93.4,687.7L95.0,700.4L96.5,702.2L98.0,699.1L99.5,697.0L101.1,695.2L102.6,689.5L104.1,685.8L105.7,687.7L107.2,685.1L108.7,689.9L110.2,689.6L111.8,687.1L113.3,686.3L114.8,690.8L116.4,693.6L117.9,691.7L119.4,691.1L120.9,695.3L122.5,693.5L124.0,686.4L125.5,685.5L127.0,683.2L128.6,680.5L130.1,672.9L131.6,671.0L133.2,673.4L134.7,673.1L136.2,671.5L137.7,681.1L139.3,680.6L140.8,681.5L142.3,672.8L143.8,677.4L145.4,675.4L146.9,671.4L148.4,662.9L150.0,672.1L151.5,670.0L153.0,670.1L154.5,668.5L156.1,661.1L157.6,654.1L159.1,641.1L160.6,633.4L162.2,629.8L163.7,630.4L165.2,625.9L166.8,623.6L168.3,628.5L169.8,621.5L171.3,617.7L172.9,612.9L174.4,601.3L175.9,597.4L177.5,594.6L179.0,590.1L180.5,587.6L182.0,590.9L183.6,580.9L185.1,570.1L186.6,569.2L188.1,565.2L189.7,562.8L191.2,560.0L192.7,558.3L194.3,561.4L195.8,564.4L197.3,568.4L198.8,561.4L200.4,551.8L201.9,542.7L203.4,542.4L204.9,543.3L206.5,542.4L208.0,539.2L209.5,537.8L211.1,534.0L212.6,521.7L214.1,524.1L215.6,515.4L217.2,511.4L218.7,504.6L220.2,504.4L221.7,501.9L223.3,503.2L224.8,501.1L226.3,497.0L227.9,492.9L229.4,490.3L230.9,485.1L232.4,486.3L234.0,483.1L235.5,483.6L237.0,483.9L238.5,483.2L240.1,483.4L241.6,475.3L243.1,471.8L244.7,470.1L246.2,461.7L247.7,457.4L249.2,458.3L250.8,455.3L252.3,447.8L253.8,440.0L255.4,442.1L256.9,437.3L258.4,439.2L259.9,439.7L261.5,435.3L263.0,434.0L264.5,427.9L266.0,423.8L267.6,416.2L269.1,415.9L270.6,409.6L272.2,405.3L273.7,403.1L275.2,401.0L276.7,389.9L278.3,383.7L279.8,378.7L281.3,374.4L282.8,373.8L284.4,373.0L285.9,380.5L287.4,377.5L289.0,374.6L290.5,368.8L292.0,365.0L293.5,365.5L295.1,359.5L296.6,352.6L298.1,347.3L299.6,346.8L301.2,340.1L302.7,328.6L304.2,330.6L305.8,331.5L307.3,322.9L308.8,318.6L310.3,322.2L311.9,315.4L313.4,306.4L314.9,301.0L316.5,301.8L318.0,295.5L319.5,296.5L321.0,298.5L322.6,298.9L324.1,300.6L325.6,301.9L327.1,297.4L328.7,301.6L330.2,294.5L331.7,298.8L333.3,294.3L334.8,291.8L336.3,284.1L337.8,280.4L339.4,276.8L340.9,284.0L342.4,283.3L343.9,286.5L345.5,278.0L347.0,271.0L348.5,270.6L350.1,266.2L351.6,276.1L353.1,275.1L354.6,278.4L356.2,282.7L357.7,287.2L359.2,291.6L360.7,290.8L362.3,292.6L363.8,296.2L365.3,295.2L366.9,294.2L368.4,295.2L369.9,295.1L371.4,296.5L373.0,294.6L374.5,286.8L376.0,287.8L377.5,287.4L379.1,290.7L380.6,292.8L382.1,296.0L383.7,291.3L385.2,290.2L386.7,291.6L388.2,287.8L389.8,290.2L391.3,292.6L392.8,286.6L394.4,289.7L395.9,296.2L397.4,298.4L398.9,293.6L400.5,299.7L402.0,296.4L403.5,295.2L405.0,296.8L406.6,295.0L408.1,290.2L409.6,293.2L411.2,296.4L412.7,298.4L414.2,299.9L415.7,308.4L417.3,310.3L418.8,311.3L420.3,313.8L421.8,318.3L423.4,323.3L424.9,326.4L426.4,323.6L428.0,328.8L429.5,332.1L431.0,333.3L432.5,339.9L434.1,345.9L435.6,351.4L437.1,353.2L438.6,351.2L440.2,355.6L441.7,355.0L443.2,357.5L444.8,356.7L446.3,360.4L447.8,363.8L449.3,374.4L450.9,377.0L452.4,378.9L453.9,384.0L455.5,381.7L457.0,387.0L458.5,391.3L460.0,404.6L461.6,402.6L463.1,401.6L464.6,404.2L466.1,407.0L467.7,409.4L469.2,409.0L470.7,407.1L472.3,408.6L473.8,416.4L475.3,416.6L476.8,413.0L478.4,423.3L479.9,431.9L481.4,438.3L482.9,441.3L484.5,443.9L486.0,448.7L487.5,449.4L489.1,452.9L490.6,454.6L492.1,462.1L493.6,460.1L495.2,463.2L496.7,467.6L498.2,472.7L499.7,471.6L501.3,476.0L502.8,479.5L504.3,483.7L505.9,487.7L507.4,490.7L508.9,502.8L510.4,503.0L512.0,507.8L513.5,511.7L515.0,514.6L516.5,516.7L518.1,523.6L519.6,524.8L521.1,525.4L522.7,533.8L524.2,538.1L525.7,543.5L527.2,559.1L528.8,565.3L530.3,569.4L531.8,574.1L533.4,579.1L534.9,583.5L536.4,584.4L537.9,595.6L539.5,596.6L541.0,603.7L542.5,609.0L544.0,610.2L545.6,616.8L547.1,620.6L548.6,622.9L550.2,636.1L551.7,642.4L553.2,641.8L554.7,641.0L556.3,641.3L557.8,644.1L559.3,646.8L560.8,645.6L562.4,645.5L563.9,649.2L565.4,651.7L567.0,656.3L568.5,658.6L570.0,668.2L571.5,674.3L573.1,676.5L574.6,673.1L576.1,674.6L577.6,678.6L579.2,681.1L580.7,685.3L582.2,685.5L583.8,682.9L585.3,675.9L586.8,681.7L588.3,683.0L589.9,687.1L591.4,690.5L592.9,693.3L594.5,700.1L596.0,697.4L597.5,701.4L599.0,701.0L600.6,706.3L602.1,710.2L603.6,715.0L605.1,720.7L606.7,716.7L608.2,722.1L609.7,727.8L611.3,731.1L612.8,736.2L614.3,738.3L615.8,732.1L617.4,728.3L618.9,725.1L620.4,731.2L621.9,726.9L623.5,730.3L625.0,733.0"/>
<path d="M69.0,687.1L70.5,682.5L72.1,689.4L73.6,688.6L75.1,686.1L76.6,684.4L78.2,690.3L79.7,679.9L81.2,684.4L82.7,682.9L84.3,694.4L85.8,697.8L87.3,695.7L88.9,697.7L90.4,701.5L91.9,697.2L93.4,702.2L95.0,692.4L96.5,694.9L98.0,682.6L99.5,683.9L101.1,674.2L102.6,681.4L104.1,672.8L105.7,673.1L107.2,676.5L108.7,679.1L110.2,678.2L111.8,668.1L113.3,665.2L114.8,655.6L116.4,660.2L117.9,665.3L119.4,668.4L120.9,669.3L122.5,674.3L124.0,673.8L125.5,680.9L127.0,681.1L128.6,678.5L130.1,669.8L131.6,656.9L133.2,658.8L134.7,657.0L136.2,662.0L137.7,653.0L139.3,651.8L140.8,646.2L142.3,640.1L143.8,632.7L145.4,630.5L146.9,631.0L148.4,633.7L150.0,632.0L151.5,627.6L153.0,627.7L154.5,627.8L156.1,626.6L157.6,623.3L159.1,617.9L160.6,616.2L162.2,612.5L163.7,607.0L165.2,595.1L166.8,592.1L168.3,590.0L169.8,587.6L171.3,591.8L172.9,584.9L174.4,588.3L175.9,587.2L177.5,587.9L179.0,583.5L180.5,580.5L182.0,580.3L183.6,586.6L185.1,589.1L186.6,583.1L188.1,576.0L189.7,584.7L191.2,583.8L192.7,579.4L194.3,577.4L195.8,577.1L197.3,578.5L198.8,567.4L200.4,561.8L201.9,564.4L203.4,566.7L204.9,563.4L206.5,558.4L208.0,552.6L209.5,544.2L211.1,545.2L212.6,542.8L214.1,538.3L215.6,529.8L217.2,526.8L218.7,527.8L220.2,525.8L221.7,521.8L223.3,515.3L224.8,510.2L226.3,503.8L227.9,502.5L229.4,499.7L230.9,500.5L232.4,498.6L234.0,493.6L235.5,492.5L237.0,493.8L238.5,490.4L240.1,481.3L241.6,478.1L243.1,471.1L244.7,464.6L246.2,456.4L247.7,454.3L249.2,445.9L250.8,442.0L252.3,445.0L253.8,446.4L255.4,439.4L256.9,430.6L258.4,423.1L259.9,412.6L261.5,407.4L263.0,405.0L264.5,397.7L266.0,398.3L267.6,396.4L269.1,394.0L270.6,398.6L272.2,401.3L273.7,398.1L275.2,402.6L276.7,402.5L278.3,393.4L279.8,390.2L281.3,384.9L282.8,376.1L284.4,379.9L285.9,380.7L287.4,370.3L289.0,367.7L290.5,358.3L292.0,360.2L293.5,349.7L295.1,345.5L296.6,347.9L298.1,345.7L299.6,341.1L301.2,341.4L302.7,335.0L304.2,334.2L305.8,331.5L307.3,328.7L308.8,325.5L310.3,324.8L311.9,314.5L313.4,318.1L314.9,310.8L316.5,314.4L318.0,308.3L319.5,303.7L321.0,299.3L322.6,301.3L324.1,293.9L325.6,293.6L327.1,287.0L328.7,287.3L330.2,286.6L331.7,285.2L333.3,280.1L334.8,284.2L336.3,278.5L337.8,286.4L339.4,285.8L340.9,293.5L342.4,292.1L343.9,290.7L345.5,288.2L347.0,289.9L348.5,290.0L350.1,283.9L351.6,290.2L353.1,283.3L354.6,281.4L356.2,274.8L357.7,280.3L359.2,285.6L360.7,287.6L362.3,290.4L363.8,288.4L365.3,293.6L366.9,296.6L368.4,292.0L369.9,293.3L371.4,297.3L373.0,294.6L374.5,294.7L376.0,293.3L377.5,290.8L379.1,297.8L380.6,293.8L382.1,296.8L383.7,298.4L385.2,292.3L386.7,292.8L388.2,296.6L389.8,302.6L391.3,297.3L392.8,296.1L394.4,291.8L395.9,286.1L397.4,286.3L398.9,289.2L400.5,294.1L402.0,294.6L403.5,300.7L405.0,294.6L406.6,290.3L408.1,290.3L409.6,298.2L411.2,293.4L412.7,291.7L414.2,293.4L415.7,301.1L417.3,296.9L418.8,298.8L420.3,295.1L421.8,305.7L423.4,310.7L424.9,316.4L426.4,316.9L428.0,317.7L429.5,321.6L431.0,321.8L432.5,319.9L434.1,318.4L435.6,319.3L437.1,319.4L438.6,321.5L440.2,316.9L441.7,324.9L443.2,331.4L444.8,340.0L446.3,340.4L447.8,337.8L449.3,336.5L450.9,343.7L452.4,345.0L453.9,340.6L455.5,343.4L457.0,347.7L458.5,352.2L460.0,348.6L461.6,352.3L463.1,361.6L464.6,367.0L466.1,366.8L467.7,368.4L469.2,375.9L470.7,378.2L472.3,375.9L473.8,381.9L475.3,385.5L476.8,393.1L478.4,393.2L479.9,396.8L481.4,398.5L482.9,406.9L484.5,409.2L486.0,414.4L487.5,416.2L489.1,420.1L490.6,425.7L492.1,417.9L493.6,426.3L495.2,434.0L496.7,439.0L498.2,445.3L499.7,449.5L501.3,451.2L502.8,449.0L504.3,455.3L505.9,462.2L507.4,467.2L508.9,469.0L510.4,472.0L512.0,471.8L513.5,481.4L515.0,492.1L516.5,500.5L518.1,506.8L519.6,511.7L521.1,512.8L522.7,519.6L524.2,518.6L525.7,522.0L527.2,519.2L528.8,519.2L530.3,526.2L531.8,535.0L533.4,547.5L534.9,550.4L536.4,555.0L537.9,564.1L539.5,569.0L541.0,575.7L542.5,580.1L544.0,585.0L545.6,587.5L547.1,599.3L548.6,610.9L550.2,613.5L551.7,616.1L553.2,621.7L554.7,627.7L556.3,631.6L557.8,634.2L559.3,640.6L560.8,641.9L562.4,644.4L563.9,648.6L565.4,646.8L567.0,652.4L568.5,657.2L570.0,661.9L571.5,665.5L573.1,658.4L574.6,662.2L576.1,667.8L577.6,671.8L579.2,671.6L580.7,674.9L582.2,677.5L583.8,673.7L585.3,679.6L586.8,679.1L588.3,673.0L589.9,677.5L591.4,678.0L592.9,681.0L594.5,681.4L596.0,683.4L597.5,688.9L599.0,690.1L600.6,693.3L602.1,698.2L603.6,697.9L605.1,703.0L606.7,705.7L608.2,706.4L609.7,709.4L611.3,713.9L612.8,711.9L614.3,704.4L615.8,706.7L617.4,704.5L618.9,701.1L620.4,704.1L621.9,703.1L623.5,709.4L625.0,710.6"/>
<path d="M69.0,700.9L70.5,697.3L72.1,710.3L73.6,708.9L75.1,712.4L76.6,718.6L78.2,714.6L79.7,704.9L81.2,706.1L82.7,706.0L84.3,712.9L85.8,721.1L87.3,721.9L88.9,727.4L90.4,729.6L91.9,730.3L93.4,723.2L95.0,722.6L96.5,717.3L98.0,709.7L99.5,713.6L101.1,715.5L102.6,717.5L104.1,712.5L105.7,706.7L107.2,708.5L108.7,707.4L110.2,706.2L111.8,704.3L113.3,701.3L114.8,695.0L116.4,703.2L117.9,697.2L119.4,694.2L120.9,698.9L122.5,699.3L124.0,702.5L125.5,704.9L127.0,698.9L128.6,698.7L130.1,690.4L131.6,682.2L133.2,679.3L134.7,682.8L136.2,685.3L137.7,678.5L139.3,677.3L140.8,677.9L142.3,669.5L143.8,668.8L145.4,661.6L146.9,653.2L148.4,656.5L150.0,647.4L151.5,641.5L153.0,632.7L154.5,624.7L156.1,625.8L157.6,633.2L159.1,632.9L160.6,633.5L162.2,621.1L163.7,622.4L165.2,629.5L166.8,627.9L168.3,620.4L169.8,620.9L171.3,609.9L172.9,612.2L174.4,604.5L175.9,606.0L177.5,604.0L179.0,601.1L180.5,596.3L182.0,594.4L183.6,590.2L185.1,589.6L186.6,585.2L188.1,579.9L189.7,576.8L191.2,578.9L192.7,579.1L194.3,577.7L195.8,574.3L197.3,570.9L198.8,570.7L200.4,555.1L201.9,552.1L203.4,553.0L204.9,546.8L206.5,554.7L208.0,549.5L209.5,554.7L211.1,549.5L212.6,548.0L214.1,547.2L215.6,548.3L217.2,543.7L218.7,536.9L220.2,526.1L221.7,523.5L223.3,524.5L224.8,522.9L226.3,517.2L227.9,512.2L229.4,513.5L230.9,516.7L232.4,511.6L234.0,508.3L235.5,501.0L237.0,492.5L238.5,484.3L240.1,486.8L241.6,485.4L243.1,482.2L244.7,481.0L246.2,481.8L247.7,477.9L249.2,478.3L250.8,473.7L252.3,465.1L253.8,458.7L255.4,451.6L256.9,446.4L258.4,448.6L259.9,449.1L261.5,448.2L263.0,444.1L264.5,435.0L266.0,425.1L267.6,420.5L269.1,414.7L270.6,410.9L272.2,403.2L273.7,406.8L275.2,406.1L276.7,400.9L278.3,396.5L279.8,396.6L281.3,394.6L282.8,391.6L284.4,380.9L285.9,368.4L287.4,355.3L289.0,348.1L290.5,344.9L292.0,341.4L293.5,337.9L295.1,334.6L296.6,335.0L298.1,333.7L299.6,325.7L301.2,330.8L302.7,330.1L304.2,322.2L305.8,326.6L307.3,323.4L308.8,316.9L310.3,313.4L311.9,302.3L313.4,295.0L314.9,288.5L316.5,292.0L318.0,293.8L319.5,292.2L321.0,295.1L322.6,290.1L324.1,289.9L325.6,294.4L327.1,295.7L328.7,292.2L330.2,293.7L331.7,290.9L333.3,292.0L334.8,297.5L336.3,304.8L337.8,304.7L339.4,298.9L340.9,297.3L342.4,294.9L343.9,294.6L345.5,288.4L347.0,289.6L348.5,296.6L350.1,290.0L351.6,286.2L353.1,283.2L354.6,284.5L356.2,284.3L357.7,284.7L359.2,280.3L360.7,285.1L362.3,286.2L363.8,282.6L365.3,285.1L366.9,289.6L368.4,283.6L369.9,277.7L371.4,275.2L373.0,273.5L374.5,263.5L376.0,265.7L377.5,274.7L379.1,275.1L380.6,281.4L382.1,270.0L383.7,272.0L385.2,280.5L386.7,289.7L388.2,288.9L389.8,286.7L391.3,288.3L392.8,284.9L394.4,282.9L395.9,278.0L397.4,280.3L398.9,280.7L400.5,289.0L402.0,290.8L403.5,289.8L405.0,290.1L406.6,287.4L408.1,292.0L409.6,293.7L411.2,298.9L412.7,304.0L414.2,297.9L415.7,299.7L417.3,305.2L418.8,301.7L420.3,312.4L421.8,308.9L423.4,319.7L424.9,324.5L426.4,330.2L428.0,329.5L429.5,333.6L431.0,334.7L432.5,334.2L434.1,328.6L435.6,328.2L437.1,326.1L438.6,332.5L440.2,337.4L441.7,334.9L443.2,341.6L444.8,344.7L446.3,348.8L447.8,349.3L449.3,355.1L450.9,356.4L452.4,361.2L453.9,361.8L455.5,360.7L457.0,362.8L458.5,369.3L460.0,371.8L461.6,383.7L463.1,372.3L464.6,373.2L466.1,375.2L467.7,380.0L469.2,387.8L470.7,388.1L472.3,388.4L473.8,396.0L475.3,408.0L476.8,401.5L478.4,407.1L479.9,410.0L481.4,411.4L482.9,413.7L484.5,423.2L486.0,431.8L487.5,437.7L489.1,435.4L490.6,438.4L492.1,439.6L493.6,442.7L495.2,447.3L496.7,452.7L498.2,459.1L499.7,463.9L501.3,472.7L502.8,469.8L504.3,477.4L505.9,480.7L507.4,482.7L508.9,485.8L510.4,480.8L512.0,487.9L513.5,494.9L515.0,493.6L516.5,500.9L518.1,501.8L519.6,507.4L521.1,511.4L522.7,518.6L524.2,522.9L525.7,529.7L527.2,539.1L528.8,546.9L530.3,542.0L531.8,547.4L533.4,550.9L534.9,552.6L536.4,560.8L537.9,569.8L539.5,567.8L541.0,569.4L542.5,580.1L544.0,581.6L545.6,586.8L547.1,584.6L548.6,590.1L550.2,603.9L551.7,608.4L553.2,613.3L554.7,623.6L556.3,630.9L557.8,638.7L559.3,643.8L560.8,648.7L562.4,643.6L563.9,642.0L565.4,636.0L567.0,650.1L568.5,653.5L570.0,652.9L571.5,649.0L573.1,645.8L574.6,636.2L576.1,647.3L577.6,646.6L579.2,647.6L580.7,644.9L582.2,649.0L583.8,650.2L585.3,652.8L586.8,656.0L588.3,653.2L589.9,656.3L591.4,660.7L592.9,665.6L594.5,669.3L596.0,669.2L597.5,665.4L599.0,672.8L600.6,676.7L602.1,676.3L603.6,681.7L605.1,679.6L606.7,682.1L608.2,686.1L609.7,694.1L611.3,693.0L612.8,695.8L614.3,697.3L615.8,697.0L617.4,693.3L618.9,695.5L620.4,698.9L621.9,698.3L623.5,702.5L625.0,704.6"/>
<path d="M69.0,699.4L70.5,703.2L72.1,699.3L73.6,687.9L75.1,685.2L76.6,689.0L78.2,689.9L79.7,680.6L81.2,676.0L82.7,678.2L84.3,675.3L85.8,674.1L87.3,675.6L88.9,678.1L90.4,672.0L91.9,671.6L93.4,676.1L95.0,680.9L96.5,683.4L98.0,681.2L99.5,681.4L101.1,679.9L102.6,681.6L104.1,684.1L105.7,685.0L107.2,692.8L108.7,691.2L110.2,693.3L111.8,692.2L113.3,687.0L114.8,683.8L116.4,685.0L117.9,677.6L119.4,675.1L120.9,674.9L122.5,674.2L124.0,673.2L125.5,680.4L127.0,681.9L128.6,682.1L130.1,679.4L131.6,677.8L133.2,672.9L134.7,668.0L136.2,674.3L137.7,665.5L139.3,660.0L140.8,659.4L142.3,657.7L143.8,656.1L145.4,655.1L146.9,652.3L148.4,655.9L150.0,651.1L151.5,652.8L153.0,651.0L154.5,643.4L156.1,649.1L157.6,644.1L159.1,638.9L160.6,637.2L162.2,635.8L163.7,637.8L165.2,635.9L166.8,632.6L168.3,630.4L169.8,627.7L171.3,623.1L172.9,613.3L174.4,611.6L175.9,612.5L177.5,608.3L179.0,603.0L180.5,600.5L182.0,595.3L183.6,597.0L185.1,598.3L186.6,591.6L188.1,586.0L189.7,585.9L191.2,580.8L192.7,585.7L194.3,577.7L195.8,579.3L197.3,575.1L198.8,574.9L200.4,573.2L201.9,571.4L203.4,572.9L204.9,575.9L206.5,573.3L208.0,574.5L209.5,566.8L211.1,563.7L212.6,559.6L214.1,555.6L215.6,554.6L217.2,545.5L218.7,540.3L220.2,531.4L221.7,532.0L223.3,527.1L224.8,520.9L226.3,513.8L227.9,511.2L229.4,508.6L230.9,503.2L232.4,507.4L234.0,500.9L235.5,503.7L237.0,498.7L238.5,496.8L240.1,488.6L241.6,483.3L243.1,483.0L244.7,476.9L246.2,468.8L247.7,466.4L249.2,463.7L250.8,461.6L252.3,458.3L253.8,459.8L255.4,454.7L256.9,452.3L258.4,451.2L259.9,439.5L261.5,428.7L263.0,426.9L264.5,424.8L266.0,421.7L267.6,414.0L269.1,407.6L270.6,408.1L272.2,400.4L273.7,389.6L275.2,388.2L276.7,386.2L278.3,383.1L279.8,384.0L281.3,383.4L282.8,380.2L284.4,376.1L285.9,364.7L287.4,363.2L289.0,359.4L290.5,362.7L292.0,365.7L293.5,362.0L295.1,360.7L296.6,352.8L298.1,350.9L299.6,340.9L301.2,332.5L302.7,329.8L304.2,332.4L305.8,323.4L307.3,323.0L308.8,325.3L310.3,314.5L311.9,313.5L313.4,310.8L314.9,311.2L316.5,315.9L318.0,317.3L319.5,313.8L321.0,305.8L322.6,301.6L324.1,304.3L325.6,302.5L327.1,300.3L328.7,303.9L330.2,301.9L331.7,304.3L333.3,302.7L334.8,299.7L336.3,296.0L337.8,293.4L339.4,289.1L340.9,289.2L342.4,285.3L343.9,292.6L345.5,294.6L347.0,291.5L348.5,277.9L350.1,280.4L351.6,279.1L353.1,278.0L354.6,275.4L356.2,272.2L357.7,267.7L359.2,279.8L360.7,290.4L362.3,286.1L363.8,291.3L365.3,283.6L366.9,286.9L368.4,289.1L369.9,283.2L371.4,278.6L373.0,274.0L374.5,273.5L376.0,278.2L377.5,280.1L379.1,283.5L380.6,288.3L382.1,283.6L383.7,290.3L385.2,289.4L386.7,283.6L388.2,282.5L389.8,280.3L391.3,281.3L392.8,280.1L394.4,271.4L395.9,278.9L397.4,283.4L398.9,279.2L400.5,286.4L402.0,293.1L403.5,296.4L405.0,302.7L406.6,299.1L408.1,303.8L409.6,299.6L411.2,308.7L412.7,306.6L414.2,303.2L415.7,308.4L417.3,311.8L418.8,313.8L420.3,315.5L421.8,319.1L423.4,326.8L424.9,322.6L426.4,324.7L428.0,326.3L429.5,330.7L431.0,332.5L432.5,329.8L434.1,334.3L435.6,333.0L437.1,331.3L438.6,333.8L440.2,334.0L441.7,342.2L443.2,349.2L444.8,357.4L446.3,365.2L447.8,364.2L449.3,372.6L450.9,372.4L452.4,372.6L453.9,374.2L455.5,369.5L457.0,369.5L458.5,373.1L460.0,377.1L461.6,379.2L463.1,380.7L464.6,380.1L466.1,385.6L467.7,385.0L469.2,382.2L470.7,384.2L472.3,386.3L473.8,389.6L475.3,388.7L476.8,394.7L478.4,401.6L479.9,405.7L481.4,409.3L482.9,406.3L484.5,414.4L486.0,413.8L487.5,424.8L489.1,425.5L490.6,429.7L492.1,436.0L493.6,430.6L495.2,447.7L496.7,445.9L498.2,450.6L499.7,452.4L501.3,454.4L502.8,460.7L504.3,462.0L505.9,466.7L507.4,476.1L508.9,484.2L510.4,491.6L512.0,494.9L513.5,495.5L515.0,499.6L516.5,505.3L518.1,516.9L519.6,522.1L521.1,532.4L522.7,537.4L524.2,543.4L525.7,549.7L527.2,551.6L528.8,560.5L530.3,561.0L531.8,568.7L533.4,583.5L534.9,583.5L536.4,589.6L537.9,594.8L539.5,597.8L541.0,602.4L542.5,604.2L544.0,614.9L545.6,611.4L547.1,612.1L548.6,622.2L550.2,625.7L551.7,626.0L553.2,629.1L554.7,633.4L556.3,648.8L557.8,652.9L559.3,652.7L560.8,655.0L562.4,654.2L563.9,663.4L565.4,664.0L567.0,670.3L568.5,672.0L570.0,683.2L571.5,683.4L573.1,685.2L574.6,680.4L576.1,678.6L577.6,676.2L579.2,673.5L580.7,686.5L582.2,688.0L583.8,686.1L585.3,695.3L586.8,694.7L588.3,694.7L589.9,694.6L591.4,692.5L592.9,701.7L594.5,700.6L596.0,705.8L597.5,706.3L599.0,699.9L600.6,696.8L602.1,693.5L603.6,695.4L605.1,694.0L606.7,696.9L608.2,696.4L609.7,699.4L611.3,695.9L612.8,695.0L614.3,710.2L615.8,716.0L617.4,716.0L618.9,721.8L620.4,725.7L621.9,725.9L623.5,729.8L625.0,725.5"/>
<path d="M69.0,691.4L70.5,693.3L72.1,699.5L73.6,694.4L75.1,695.1L76.6,695.3L78.2,693.4L79.7,699.1L81.2,699.6L82.7,700.8L84.3,704.7L85.8,698.8L87.3,700.2L88.9,705.4L90.4,716.5L91.9,707.2L93.4,707.2L95.0,714.8L96.5,711.7L98.0,713.0L99.5,711.7L101.1,706.0L102.6,706.3L104.1,705.5L105.7,704.2L107.2,696.7L108.7,705.0L110.2,699.1L111.8,699.1L113.3,706.3L114.8,708.4L116.4,704.9L117.9,705.2L119.4,703.8L120.9,717.1L122.5,710.5L124.0,711.1L125.5,707.1L127.0,702.0L128.6,701.8L130.1,696.6L131.6,688.3L133.2,683.5L134.7,683.3L136.2,678.7L137.7,674.7L139.3,666.2L140.8,660.0L142.3,664.2L143.8,662.1L145.4,658.7L146.9,654.7L148.4,653.9L150.0,643.1L151.5,642.8L153.0,647.3L154.5,645.0L156.1,650.3L157.6,642.8L159.1,637.0L160.6,632.3L162.2,635.4L163.7,631.8L165.2,627.8L166.8,629.8L168.3,625.5L169.8,622.3L171.3,620.7L172.9,616.4L174.4,608.8L175.9,599.5L177.5,593.2L179.0,589.6L180.5,592.6L182.0,586.8L183.6,586.5L185.1,584.3L186.6,585.5L188.1,584.1L189.7,588.1L191.2,588.5L192.7,589.4L194.3,593.3L195.8,588.8L197.3,592.1L198.8,581.3L200.4,587.1L201.9,587.0L203.4,581.3L204.9,572.5L206.5,573.5L208.0,566.4L209.5,559.2L211.1,550.8L212.6,544.4L214.1,542.4L215.6,539.1L217.2,544.4L218.7,534.1L220.2,533.7L221.7,525.9L223.3,529.9L224.8,512.9L226.3,508.6L227.9,511.5L229.4,505.1L230.9,506.1L232.4,500.3L234.0,503.9L235.5,503.4L237.0,497.5L238.5,488.3L240.1,484.1L241.6,485.5L243.1,480.8L244.7,476.8L246.2,481.8L247.7,475.6L249.2,470.3L250.8,466.4L252.3,455.1L253.8,452.8L255.4,448.1L256.9,438.1L258.4,436.4L259.9,428.7L261.5,421.9L263.0,425.8L264.5,419.1L266.0,418.0L267.6,416.2L269.1,418.6L270.6,415.3L272.2,408.4L273.7,401.2L275.2,399.4L276.7,394.2L278.3,385.7L279.8,377.8L281.3,375.8L282.8,368.2L284.4,371.7L285.9,372.3L287.4,363.1L289.0,368.7L290.5,369.4L292.0,367.6L293.5,355.4L295.1,353.7L296.6,351.0L298.1,345.5L299.6,350.1L301.2,336.7L302.7,340.1L304.2,330.1L305.8,322.7L307.3,315.6L308.8,318.3L310.3,316.3L311.9,311.3L313.4,308.1L314.9,301.0L316.5,295.3L318.0,291.3L319.5,292.6L321.0,293.9L322.6,288.7L324.1,287.3L325.6,293.8L327.1,293.6L328.7,295.8L330.2,293.5L331.7,289.7L333.3,287.1L334.8,283.9L336.3,285.2L337.8,277.4L339.4,281.7L340.9,275.7L342.4,279.9L343.9,286.7L345.5,279.9L347.0,282.2L348.5,278.5L350.1,284.2L351.6,283.1L353.1,283.9L354.6,284.4L356.2,290.9L357.7,286.4L359.2,289.3L360.7,291.2L362.3,290.9L363.8,290.5L365.3,297.8L366.9,301.9L368.4,310.4L369.9,307.7L371.4,298.9L373.0,299.8L374.5,301.0L376.0,299.6L377.5,304.5L379.1,311.4L380.6,311.7L382.1,303.4L383.7,307.6L385.2,304.0L386.7,305.2L388.2,308.3L389.8,306.6L391.3,304.9L392.8,303.9L394.4,303.9L395.9,304.8L397.4,312.9L398.9,297.9L400.5,291.8L402.0,289.7L403.5,297.7L405.0,298.2L406.6,302.7L408.1,297.5L409.6,299.5L411.2,305.9L412.7,307.3L414.2,309.4L415.7,311.2L417.3,320.2L418.8,312.1L420.3,321.3L421.8,323.7L423.4,323.0L424.9,326.2L426.4,329.1L428.0,336.1L429.5,333.7L431.0,337.9L432.5,333.9L434.1,336.3L435.6,341.2L437.1,342.0L438.6,346.3L440.2,347.6L441.7,352.6L443.2,352.2L444.8,352.3L446.3,354.5L447.8,356.9L449.3,355.7L450.9,364.6L452.4,366.2L453.9,370.2L455.5,367.9L457.0,369.2L458.5,374.7L460.0,374.9L461.6,380.2L463.1,387.5L464.6,395.6L466.1,405.5L467.7,412.0L469.2,411.6L470.7,419.4L472.3,418.9L473.8,426.3L475.3,429.0L476.8,441.3L478.4,446.1L479.9,447.3L481.4,442.3L482.9,447.1L484.5,453.2L486.0,455.2L487.5,453.3L489.1,456.4L490.6,463.7L492.1,469.6L493.6,467.5L495.2,470.9L496.7,473.3L498.2,478.1L499.7,477.8L501.3,492.4L502.8,493.2L504.3,497.5L505.9,496.7L507.4,500.4L508.9,496.3L510.4,505.2L512.0,508.4L513.5,509.5L515.0,523.1L516.5,524.5L518.1,526.2L519.6,528.7L521.1,537.6L522.7,543.9L524.2,550.4L525.7,549.1L527.2,551.2L528.8,551.8L530.3,556.2L531.8,555.1L533.4,555.6L534.9,565.5L536.4,577.9L537.9,582.8L539.5,578.4L541.0,585.4L542.5,588.3L544.0,588.5L545.6,595.2L547.1,597.9L548.6,599.5L550.2,602.0L551.7,607.9L553.2,615.7L554.7,612.7L556.3,621.1L557.8,620.2L559.3,630.5L560.8,636.3L562.4,642.0L563.9,647.8L565.4,648.8L567.0,653.7L568.5,661.1L570.0,658.3L571.5,664.5L573.1,663.0L574.6,665.3L576.1,672.7L577.6,669.0L579.2,672.1L580.7,666.7L582.2,666.7L583.8,670.4L585.3,677.3L586.8,683.1L588.3,677.2L589.9,681.4L591.4,681.5L592.9,677.5L594.5,686.2L596.0,692.8L597.5,696.1L599.0,697.9L600.6,696.9L602.1,695.1L603.6,695.2L605.1,697.9L606.7,703.7L608.2,704.9L609.7,704.3L611.3,706.8L612.8,711.9L614.3,708.4L615.8,708.9L617.4,707.6L618.9,700.9L620.4,705.8L621.9,707.4L623.5,713.4L625.0,715.0"/>
<path d="M69.0,689.3L70.5,689.8L72.1,691.1L73.6,691.0L75.1,689.9L76.6,693.9L78.2,691.4L79.7,693.9L81.2,703.4L82.7,706.0L84.3,708.0L85.8,708.4L87.3,708.1L88.9,712.0L90.4,719.5L91.9,717.8L93.4,711.0L95.0,711.0L96.5,699.8L98.0,702.6L99.5,699.6L101.1,705.1L102.6,700.1L104.1,699.2L105.7,699.6L107.2,697.9L108.7,700.4L110.2,701.8L111.8,701.3L113.3,703.2L114.8,708.7L116.4,701.7L117.9,694.6L119.4,696.2L120.9,700.3L122.5,701.7L124.0,704.5L125.5,706.6L127.0,708.0L128.6,708.1L130.1,706.1L131.6,700.2L133.2,700.8L134.7,697.2L136.2,698.3L137.7,696.3L139.3,697.0L140.8,691.3L142.3,694.4L143.8,696.4L145.4,692.2L146.9,693.0L148.4,689.9L150.0,695.1L151.5,690.9L153.0,681.6L154.5,670.3L156.1,664.9L157.6,657.3L159.1,662.0L160.6,655.8L162.2,655.9L163.7,653.9L165.2,649.2L166.8,643.7L168.3,634.8L169.8,633.1L171.3,626.1L172.9,624.2L174.4,616.0L175.9,619.0L177.5,608.4L179.0,604.1L180.5,602.4L182.0,602.0L183.6,595.6L185.1,590.4L186.6,588.5L188.1,589.3L189.7,589.5L191.2,597.0L192.7,591.5L194.3,585.1L195.8,584.6L197.3,580.5L198.8,578.5L200.4,581.1L201.9,585.7L203.4,576.9L204.9,573.5L206.5,571.3L208.0,558.6L209.5,564.9L211.1,564.7L212.6,552.2L214.1,550.1L215.6,541.1L217.2,538.3L218.7,535.0L220.2,535.8L221.7,529.5L223.3,521.1L224.8,514.3L226.3,514.3L227.9,513.8L229.4,514.1L230.9,514.2L232.4,514.9L234.0,509.8L235.5,510.1L237.0,499.7L238.5,493.3L240.1,479.7L241.6,476.5L243.1,471.9L244.7,470.4L246.2,462.7L247.7,455.7L249.2,454.1L250.8,448.8L252.3,450.1L253.8,440.3L255.4,431.8L256.9,424.3L258.4,428.6L259.9,420.0L261.5,414.3L263.0,405.2L264.5,408.1L266.0,403.1L267.6,404.5L269.1,398.1L270.6,397.0L272.2,397.0L273.7,399.5L275.2,387.7L276.7,384.6L278.3,380.4L279.8,370.1L281.3,369.8L282.8,368.4L284.4,368.8L285.9,360.9L287.4,356.8L289.0,355.8L290.5,356.4L292.0,351.2L293.5,350.1L295.1,353.3L296.6,348.6L298.1,340.3L299.6,339.3L301.2,328.5L302.7,321.8L304.2,327.1L305.8,322.9L307.3,322.3L308.8,327.3L310.3,327.3L311.9,325.0L313.4,321.3L314.9,318.1L316.5,314.7L318.0,318.4L319.5,320.6L321.0,322.7L322.6,313.7L324.1,315.3L325.6,309.0L327.1,307.2L328.7,303.9L330.2,305.5L331.7,302.0L333.3,299.4L334.8,295.5L336.3,297.5L337.8,296.2L339.4,297.7L340.9,295.4L342.4,292.0L343.9,287.0L345.5,285.8L347.0,284.6L348.5,287.4L350.1,291.0L351.6,297.6L353.1,302.7L354.6,295.7L356.2,296.0L357.7,295.5L359.2,288.9L360.7,287.8L362.3,288.8L363.8,294.9L365.3,296.6L366.9,298.6L368.4,299.7L369.9,294.6L371.4,294.4L373.0,293.3L374.5,287.4L376.0,286.3L377.5,299.3L379.1,302.6L380.6,304.1L382.1,305.0L383.7,298.2L385.2,299.1L386.7,302.5L388.2,297.0L389.8,293.6L391.3,293.4L392.8,291.6L394.4,292.0L395.9,296.4L397.4,299.2L398.9,296.8L400.5,300.0L402.0,303.0L403.5,300.6L405.0,301.8L406.6,301.7L408.1,308.8L409.6,307.7L411.2,307.8L412.7,316.4L414.2,314.3L415.7,311.0L417.3,313.0L418.8,314.5L420.3,313.8L421.8,317.7L423.4,325.7L424.9,328.1L426.4,330.8L428.0,329.5L429.5,334.6L431.0,336.6L432.5,339.7L434.1,338.3L435.6,350.5L437.1,347.2L438.6,345.4L440.2,349.5L441.7,346.0L443.2,354.7L444.8,348.6L446.3,350.3L447.8,353.3L449.3,362.0L450.9,368.6L452.4,369.9L453.9,373.1L455.5,380.7L457.0,378.4L458.5,380.9L460.0,389.9L461.6,388.1L463.1,392.5L464.6,398.6L466.1,406.4L467.7,408.1L469.2,413.7L470.7,419.3L472.3,428.9L473.8,424.6L475.3,426.3L476.8,424.7L478.4,433.8L479.9,431.2L481.4,428.8L482.9,439.4L484.5,444.9L486.0,439.9L487.5,443.4L489.1,449.9L490.6,462.5L492.1,460.8L493.6,462.8L495.2,471.2L496.7,476.8L498.2,478.8L499.7,483.4L501.3,481.7L502.8,494.4L504.3,497.0L505.9,511.0L507.4,520.9L508.9,525.8L510.4,529.0L512.0,534.4L513.5,536.9L515.0,548.3L516.5,553.6L518.1,560.9L519.6,566.7L521.1,568.5L522.7,566.7L524.2,571.2L525.7,576.4L527.2,577.4L528.8,578.4L530.3,580.3L531.8,581.0L533.4,592.3L534.9,592.6L536.4,594.3L537.9,602.4L539.5,609.5L541.0,614.2L542.5,615.5L544.0,618.6L545.6,622.7L547.1,622.9L548.6,626.6L550.2,629.3L551.7,637.3L553.2,649.5L554.7,651.4L556.3,657.0L557.8,659.3L559.3,656.9L560.8,660.4L562.4,666.3L563.9,675.0L565.4,672.7L567.0,683.9L568.5,680.3L570.0,679.3L571.5,680.9L573.1,686.9L574.6,689.2L576.1,694.8L577.6,688.3L579.2,690.6L580.7,692.0L582.2,693.9L583.8,694.0L585.3,697.9L586.8,696.8L588.3,689.0L589.9,687.7L591.4,698.6L592.9,704.1L594.5,701.1L596.0,706.4L597.5,708.7L599.0,711.1L600.6,706.1L602.1,708.8L603.6,713.1L605.1,717.0L606.7,715.9L608.2,721.2L609.7,726.0L611.3,723.5L612.8,724.2L614.3,720.9L615.8,723.3L617.4,720.7L618.9,721.7L620.4,724.2L621.9,721.6L623.5,728.9L625.0,726.6"/>
<path d="M69.0,689.1L70.5,695.6L72.1,694.8L73.6,695.3L75.1,695.5L76.6,691.8L78.2,693.4L79.7,695.2L81.2,702.5L82.7,702.4L84.3,694.4L85.8,698.8L87.3,690.3L88.9,687.0L90.4,691.4L91.9,692.9L93.4,701.1L95.0,705.2L96.5,704.9L98.0,704.9L99.5,708.8L101.1,714.1L102.6,717.5L104.1,719.0L105.7,718.7L107.2,711.9L108.7,708.8L110.2,710.3L111.8,719.1L113.3,726.3L114.8,722.3L116.4,721.4L117.9,719.6L119.4,722.0L120.9,716.3L122.5,720.1L124.0,725.6L125.5,725.8L127.0,722.3L128.6,721.2L130.1,717.3L131.6,718.5L133.2,721.2L134.7,729.4L136.2,730.3L137.7,737.1L139.3,725.3L140.8,712.3L142.3,715.4L143.8,713.1L145.4,706.3L146.9,712.1L148.4,704.5L150.0,695.2L151.5,687.9L153.0,690.3L154.5,690.5L156.1,677.8L157.6,678.3L159.1,676.0L160.6,673.9L162.2,673.0L163.7,675.5L165.2,675.1L166.8,680.4L168.3,671.2L169.8,671.6L171.3,667.5L172.9,661.2L174.4,657.2L175.9,647.3L177.5,637.1L179.0,626.4L180.5,622.8L182.0,624.3L183.6,615.0L185.1,611.2L186.6,606.0L188.1,602.2L189.7,600.8L191.2,598.7L192.7,602.2L194.3,603.7L195.8,608.2L197.3,610.0L198.8,610.8L200.4,610.7L201.9,601.6L203.4,596.1L204.9,596.8L206.5,596.4L208.0,599.4L209.5,597.9L211.1,587.1L212.6,583.6L214.1,577.4L215.6,566.6L217.2,564.2L218.7,567.8L220.2,564.9L221.7,557.2L223.3,549.2L224.8,543.4L226.3,534.3L227.9,535.1L229.4,535.1L230.9,536.7L232.4,532.5L234.0,531.8L235.5,522.5L237.0,514.1L238.5,518.7L240.1,507.1L241.6,499.2L243.1,492.3L244.7,481.6L246.2,481.3L247.7,476.5L249.2,475.5L250.8,472.9L252.3,474.0L253.8,470.4L255.4,469.8L256.9,466.2L258.4,466.0L259.9,462.5L261.5,454.1L263.0,446.9L264.5,444.7L266.0,441.2L267.6,438.2L269.1,430.0L270.6,435.7L272.2,425.4L273.7,427.5L275.2,428.9L276.7,427.4L278.3,423.3L279.8,417.6L281.3,413.7L282.8,408.6L284.4,407.7L285.9,411.0L287.4,402.8L289.0,400.5L290.5,401.0L292.0,401.7L293.5,390.3L295.1,385.6L296.6,385.7L298.1,379.2L299.6,365.0L301.2,361.6L302.7,354.3L304.2,358.8L305.8,354.8L307.3,347.9L308.8,348.6L310.3,346.4L311.9,342.2L313.4,338.4L314.9,338.5L316.5,335.4L318.0,337.0L319.5,336.0L321.0,334.1L322.6,333.6L324.1,336.7L325.6,333.8L327.1,333.8L328.7,331.1L330.2,327.7L331.7,327.4L333.3,332.5L334.8,327.1L336.3,318.5L337.8,324.2L339.4,326.4L340.9,328.6L342.4,327.0L343.9,320.9L345.5,314.5L347.0,307.1L348.5,312.0L350.1,314.2L351.6,315.1L353.1,310.4L354.6,308.9L356.2,307.2L357.7,306.5L359.2,295.6L360.7,297.8L362.3,303.0L363.8,301.8L365.3,302.2L366.9,300.3L368.4,292.4L369.9,292.8L371.4,288.7L373.0,286.8L374.5,290.3L376.0,289.6L377.5,288.4L379.1,286.1L380.6,291.5L382.1,290.5L383.7,292.9L385.2,291.3L386.7,287.1L388.2,290.6L389.8,289.1L391.3,288.6L392.8,290.6L394.4,294.0L395.9,297.2L397.4,299.2L398.9,297.5L400.5,291.7L402.0,292.3L403.5,292.6L405.0,295.6L406.6,296.6L408.1,296.8L409.6,299.4L411.2,294.8L412.7,297.2L414.2,304.3L415.7,302.1L417.3,300.8L418.8,303.6L420.3,304.9L421.8,309.3L423.4,317.6L424.9,318.7L426.4,322.1L428.0,322.1L429.5,323.4L431.0,325.5L432.5,322.0L434.1,327.5L435.6,328.7L437.1,327.5L438.6,327.6L440.2,327.8L441.7,327.1L443.2,327.1L444.8,324.7L446.3,328.6L447.8,339.3L449.3,331.7L450.9,342.9L452.4,342.3L453.9,347.9L455.5,347.8L457.0,358.4L458.5,357.9L460.0,361.2L461.6,370.5L463.1,367.0L464.6,363.4L466.1,369.4L467.7,369.8L469.2,369.0L470.7,370.7L472.3,368.9L473.8,380.0L475.3,391.2L476.8,391.9L478.4,399.2L479.9,403.4L481.4,411.0L482.9,411.1L484.5,423.1L486.0,430.5L487.5,430.7L489.1,432.6L490.6,436.5L492.1,448.8L493.6,453.5L495.2,456.6L496.7,458.5L498.2,466.7L499.7,464.8L501.3,463.0L502.8,473.8L504.3,479.4L505.9,482.9L507.4,483.7L508.9,493.1L510.4,487.6L512.0,497.9L513.5,499.0L515.0,506.0L516.5,507.9L518.1,526.9L519.6,526.9L521.1,534.0L522.7,526.9L524.2,532.6L525.7,540.4L527.2,539.9L528.8,535.4L530.3,543.8L531.8,552.3L533.4,563.5L534.9,566.0L536.4,574.4L537.9,574.1L539.5,583.6L541.0,584.1L542.5,593.7L544.0,599.5L545.6,602.3L547.1,613.6L548.6,616.5L550.2,624.8L551.7,626.9L553.2,626.9L554.7,626.1L556.3,634.2L557.8,638.3L559.3,641.3L560.8,637.9L562.4,650.3L563.9,657.5L565.4,660.4L567.0,663.9L568.5,651.1L570.0,652.9L571.5,651.5L573.1,654.3L574.6,652.5L576.1,655.8L577.6,655.3L579.2,653.2L580.7,650.0L582.2,656.5L583.8,656.4L585.3,658.0L586.8,666.1L588.3,669.8L589.9,674.0L591.4,671.9L592.9,673.5L594.5,680.7L596.0,682.6L597.5,686.8L599.0,687.0L600.6,687.9L602.1,691.1L603.6,690.6L605.1,684.0L606.7,695.1L608.2,702.8L609.7,702.4L611.3,707.1L612.8,701.2L614.3,704.2L615.8,703.0L617.4,709.4L618.9,706.0L620.4,705.7L621.9,709.0L623.5,713.2L625.0,715.7"/>
<path d="M69.0,708.2L70.5,706.8L72.1,702.9L73.6,704.7L75.1,704.9L76.6,698.7L78.2,696.2L79.7,697.9L81.2,698.7L82.7,702.8L84.3,711.4L85.8,710.3L87.3,710.4L88.9,707.2L90.4,715.1L91.9,705.7L93.4,698.3L95.0,702.5L96.5,698.6L98.0,699.5L99.5,701.2L101.1,708.0L102.6,710.4L104.1,705.0L105.7,706.2L107.2,697.3L108.7,693.8L110.2,689.3L111.8,703.1L113.3,704.1L114.8,706.7L116.4,703.6L117.9,708.0L119.4,712.9L120.9,713.2L122.5,722.2L124.0,713.7L125.5,701.3L127.0,701.3L128.6,694.2L130.1,691.7L131.6,691.1L133.2,685.6L134.7,681.0L136.2,675.9L137.7,678.4L139.3,676.7L140.8,671.7L142.3,670.6L143.8,669.9L145.4,663.1L146.9,657.6L148.4,648.9L150.0,647.6L151.5,648.5L153.0,646.9L154.5,645.4L156.1,637.8L157.6,627.8L159.1,630.2L160.6,625.5L162.2,615.2L163.7,609.0L165.2,605.2L166.8,603.6L168.3,596.3L169.8,590.8L171.3,585.1L172.9,587.2L174.4,591.2L175.9,587.2L177.5,583.7L179.0,584.1L180.5,584.3L182.0,587.2L183.6,583.3L185.1,581.8L186.6,582.8L188.1,582.6L189.7,580.6L191.2,583.0L192.7,581.8L194.3,585.8L195.8,578.8L197.3,569.1L198.8,567.7L200.4,562.2L201.9,561.0L203.4,561.6L204.9,561.2L206.5,557.0L208.0,547.5L209.5,546.7L211.1,540.5L212.6,530.7L214.1,532.1L215.6,530.4L217.2,531.2L218.7,538.6L220.2,528.9L221.7,531.7L223.3,523.0L224.8,520.4L226.3,510.8L227.9,507.5L229.4,507.8L230.9,505.2L232.4,506.3L234.0,501.4L235.5,501.4L237.0,494.8L238.5,488.2L240.1,483.4L241.6,483.0L243.1,479.7L244.7,476.8L246.2,466.0L247.7,460.0L249.2,463.4L250.8,469.2L252.3,463.8L253.8,458.7L255.4,447.2L256.9,441.0L258.4,433.4L259.9,428.5L261.5,419.5L263.0,421.7L264.5,420.5L266.0,418.3L267.6,415.5L269.1,412.7L270.6,402.5L272.2,399.0L273.7,405.4L275.2,399.5L276.7,395.5L278.3,389.3L279.8,387.3L281.3,387.1L282.8,371.5L284.4,364.4L285.9,360.4L287.4,358.2L289.0,360.6L290.5,369.6L292.0,367.0L293.5,365.4L295.1,360.0L296.6,361.5L298.1,352.6L299.6,348.8L301.2,339.5L302.7,337.7L304.2,328.4L305.8,326.9L307.3,321.0L308.8,326.1L310.3,328.6L311.9,318.8L313.4,321.7L314.9,321.4L316.5,319.9L318.0,323.2L319.5,328.0L321.0,326.0L322.6,322.6L324.1,317.4L325.6,311.3L327.1,307.5L328.7,315.0L330.2,312.0L331.7,309.2L333.3,312.5L334.8,311.8L336.3,307.4L337.8,300.0L339.4,296.1L340.9,297.3L342.4,291.7L343.9,294.1L345.5,295.4L347.0,292.5L348.5,295.1L350.1,288.5L351.6,294.4L353.1,294.7L354.6,302.1L356.2,300.3L357.7,299.7L359.2,298.1L360.7,296.7L362.3,296.7L363.8,293.1L365.3,294.6L366.9,295.8L368.4,300.1L369.9,287.4L371.4,289.6L373.0,289.1L374.5,288.5L376.0,286.1L377.5,291.5L379.1,286.9L380.6,292.5L382.1,291.3L383.7,288.7L385.2,290.7L386.7,296.1L388.2,289.3L389.8,287.6L391.3,283.8L392.8,285.3L394.4,283.7L395.9,280.2L397.4,283.2L398.9,284.2L400.5,287.4L402.0,287.8L403.5,289.5L405.0,290.4L406.6,284.7L408.1,290.5L409.6,290.7L411.2,291.7L412.7,295.7L414.2,296.9L415.7,296.1L417.3,303.0L418.8,310.3L420.3,310.8L421.8,316.2L423.4,318.6L424.9,318.0L426.4,317.4L428.0,321.1L429.5,321.8L431.0,320.3L432.5,323.6L434.1,323.6L435.6,326.9L437.1,326.1L438.6,325.5L440.2,331.5L441.7,337.4L443.2,345.8L444.8,349.0L446.3,350.1L447.8,356.3L449.3,357.3L450.9,362.8L452.4,359.5L453.9,363.1L455.5,356.0L457.0,363.3L458.5,361.4L460.0,366.8L461.6,367.2L463.1,372.1L464.6,390.6L466.1,391.1L467.7,391.7L469.2,402.0L470.7,404.2L472.3,401.5L473.8,410.0L475.3,402.6L476.8,401.9L478.4,403.8L479.9,406.2L481.4,404.0L482.9,411.5L484.5,421.3L486.0,425.5L487.5,430.5L489.1,430.4L490.6,436.1L492.1,439.1L493.6,448.8L495.2,456.8L496.7,459.0L498.2,459.4L499.7,461.9L501.3,474.0L502.8,484.9L504.3,493.8L505.9,490.5L507.4,492.0L508.9,498.0L510.4,498.2L512.0,500.4L513.5,508.6L515.0,515.7L516.5,518.2L518.1,528.1L519.6,536.9L521.1,536.5L522.7,541.9L524.2,546.9L525.7,547.5L527.2,554.2L528.8,558.2L530.3,561.9L531.8,566.9L533.4,572.2L534.9,570.5L536.4,569.1L537.9,576.8L539.5,579.8L541.0,589.8L542.5,594.1L544.0,597.9L545.6,605.7L547.1,613.5L548.6,618.2L550.2,628.5L551.7,629.5L553.2,633.5L554.7,635.9L556.3,634.7L557.8,630.3L559.3,626.0L560.8,627.2L562.4,633.9L563.9,640.9L565.4,648.2L567.0,654.0L568.5,650.6L570.0,646.7L571.5,648.4L573.1,652.3L574.6,648.0L576.1,657.0L577.6,652.5L579.2,659.4L580.7,664.5L582.2,660.6L583.8,660.1L585.3,669.4L586.8,675.8L588.3,676.6L589.9,672.7L591.4,673.4L592.9,677.6L594.5,685.4L596.0,687.7L597.5,688.3L599.0,692.3L600.6,698.2L602.1,695.1L603.6,693.7L605.1,695.0L606.7,701.8L608.2,707.5L609.7,703.7L611.3,705.0L612.8,701.0L614.3,700.5L615.8,700.4L617.4,703.5L618.9,704.3L620.4,701.7L621.9,694.8L623.5,693.9L625.0,698.0"/>
<path d="M69.0,713.1L70.5,706.7L72.1,712.0L73.6,716.6L75.1,716.2L76.6,709.1L78.2,709.4L79.7,706.9L81.2,711.8L82.7,711.6L84.3,711.8L85.8,716.7L87.3,721.7L88.9,716.1L90.4,719.8L91.9,721.6L93.4,721.9L95.0,727.1L96.5,723.4L98.0,725.2L99.5,725.6L101.1,721.7L102.6,721.3L104.1,722.5L105.7,725.5L107.2,723.8L108.7,724.4L110.2,725.8L111.8,722.7L113.3,724.3L114.8,723.2L116.4,727.4L117.9,725.7L119.4,725.0L120.9,726.2L122.5,721.9L124.0,723.5L125.5,715.8L127.0,712.2L128.6,703.5L130.1,709.8L131.6,716.8L133.2,716.7L134.7,710.5L136.2,715.4L137.7,715.9L139.3,706.9L140.8,704.0L142.3,708.3L143.8,706.4L145.4,705.1L146.9,700.4L148.4,698.9L150.0,700.7L151.5,693.4L153.0,687.2L154.5,684.0L156.1,678.2L157.6,681.4L159.1,675.7L160.6,668.1L162.2,666.5L163.7,663.1L165.2,661.6L166.8,658.5L168.3,652.6L169.8,650.0L171.3,647.5L172.9,642.7L174.4,634.1L175.9,626.4L177.5,621.1L179.0,621.6L180.5,614.3L182.0,611.0L183.6,607.7L185.1,607.6L186.6,601.7L188.1,596.9L189.7,597.1L191.2,593.1L192.7,597.8L194.3,593.5L195.8,593.4L197.3,590.0L198.8,576.1L200.4,583.6L201.9,581.7L203.4,580.7L204.9,577.7L206.5,571.2L208.0,570.8L209.5,566.2L211.1,564.3L212.6,566.2L214.1,566.9L215.6,563.0L217.2,557.4L218.7,549.3L220.2,547.4L221.7,544.6L223.3,541.8L224.8,529.0L226.3,529.7L227.9,524.7L229.4,524.9L230.9,516.8L232.4,508.8L234.0,505.1L235.5,498.5L237.0,492.7L238.5,492.4L240.1,475.7L241.6,479.5L243.1,476.1L244.7,475.7L246.2,468.5L247.7,464.7L249.2,462.3L250.8,460.7L252.3,455.0L253.8,452.2L255.4,441.2L256.9,437.1L258.4,429.7L259.9,426.0L261.5,424.0L263.0,424.4L264.5,425.9L266.0,424.9L267.6,417.4L269.1,420.9L270.6,410.1L272.2,404.0L273.7,396.9L275.2,389.2L276.7,392.5L278.3,393.0L279.8,393.1L281.3,385.9L282.8,385.7L284.4,383.2L285.9,378.8L287.4,378.1L289.0,375.9L290.5,371.9L292.0,365.1L293.5,354.7L295.1,354.4L296.6,342.0L298.1,338.3L299.6,333.6L301.2,335.1L302.7,321.6L304.2,327.9L305.8,324.3L307.3,318.1L308.8,321.6L310.3,324.5L311.9,323.5L313.4,330.7L314.9,323.2L316.5,320.0L318.0,318.5L319.5,315.6L321.0,315.9L322.6,321.7L324.1,319.0L325.6,321.4L327.1,323.9L328.7,322.1L330.2,317.4L331.7,316.1L333.3,314.2L334.8,317.5L336.3,313.5L337.8,321.3L339.4,314.2L340.9,313.4L342.4,306.8L343.9,310.4L345.5,312.3L347.0,307.3L348.5,307.8L350.1,305.2L351.6,298.4L353.1,293.5L354.6,295.2L356.2,297.0L357.7,295.6L359.2,299.1L360.7,299.6L362.3,301.8L363.8,298.2L365.3,299.3L366.9,298.9L368.4,291.3L369.9,295.4L371.4,298.0L373.0,299.0L374.5,304.5L376.0,297.9L377.5,292.5L379.1,289.7L380.6,284.7L382.1,293.0L383.7,294.0L385.2,292.5L386.7,295.2L388.2,298.6L389.8,297.7L391.3,295.5L392.8,296.3L394.4,302.2L395.9,299.8L397.4,302.9L398.9,303.1L400.5,301.6L402.0,303.2L403.5,309.5L405.0,307.6L406.6,311.5L408.1,313.7L409.6,312.8L411.2,312.0L412.7,316.9L414.2,318.3L415.7,320.0L417.3,323.7L418.8,320.6L420.3,320.8L421.8,317.9L423.4,320.7L424.9,319.9L426.4,319.0L428.0,323.9L429.5,325.2L431.0,329.8L432.5,334.3L434.1,342.8L435.6,343.3L437.1,345.5L438.6,353.0L440.2,349.0L441.7,353.4L443.2,350.9L444.8,350.1L446.3,352.3L447.8,348.9L449.3,354.0L450.9,354.8L452.4,361.3L453.9,366.3L455.5,363.7L457.0,360.8L458.5,367.1L460.0,369.2L461.6,372.0L463.1,370.9L464.6,370.6L466.1,369.4L467.7,368.8L469.2,371.8L470.7,373.3L472.3,382.1L473.8,400.1L475.3,401.2L476.8,399.8L478.4,409.8L479.9,407.0L481.4,409.5L482.9,418.7L484.5,426.2L486.0,430.2L487.5,436.2L489.1,439.6L490.6,452.9L492.1,458.5L493.6,459.3L495.2,461.5L496.7,457.7L498.2,458.5L499.7,461.4L501.3,473.9L502.8,474.4L504.3,485.4L505.9,487.4L507.4,487.1L508.9,485.8L510.4,495.9L512.0,506.9L513.5,510.2L515.0,518.8L516.5,521.3L518.1,522.9L519.6,527.5L521.1,540.4L522.7,543.8L524.2,550.7L525.7,548.2L527.2,554.8L528.8,560.2L530.3,572.5L531.8,576.8L533.4,578.9L534.9,579.1L536.4,580.9L537.9,590.1L539.5,591.1L541.0,602.9L542.5,608.1L544.0,610.8L545.6,612.3L547.1,610.8L548.6,610.0L550.2,620.9L551.7,627.7L553.2,629.1L554.7,628.4L556.3,637.4L557.8,637.7L559.3,639.0L560.8,643.1L562.4,642.9L563.9,645.0L565.4,646.3L567.0,650.6L568.5,645.6L570.0,645.8L571.5,648.2L573.1,646.1L574.6,651.2L576.1,650.8L577.6,646.3L579.2,642.4L580.7,647.3L582.2,652.7L583.8,654.2L585.3,654.7L586.8,658.9L588.3,661.5L589.9,666.7L591.4,660.6L592.9,665.0L594.5,668.7L596.0,670.9L597.5,674.9L599.0,681.3L600.6,684.1L602.1,681.1L603.6,684.5L605.1,686.7L606.7,688.8L608.2,685.0L609.7,686.9L611.3,685.2L612.8,687.8L614.3,690.1L615.8,680.2L617.4,687.9L618.9,687.9L620.4,689.3L621.9,685.6L623.5,686.8L625.0,688.5"/>
<path d="M69.0,701.2L70.5,698.1L72.1,698.2L73.6,700.3L75.1,704.6L76.6,706.1L78.2,712.4L79.7,720.7L81.2,715.9L82.7,723.3L84.3,734.1L85.8,729.8L87.3,731.4L88.9,736.9L90.4,733.4L91.9,725.1L93.4,722.9L95.0,729.8L96.5,734.4L98.0,731.4L99.5,723.7L101.1,721.8L102.6,724.6L104.1,720.8L105.7,718.6L107.2,724.7L108.7,722.2L110.2,719.1L111.8,717.7L113.3,726.4L114.8,728.0L116.4,731.4L117.9,729.2L119.4,733.6L120.9,729.9L122.5,723.6L124.0,723.9L125.5,730.8L127.0,734.7L128.6,729.3L130.1,727.6L131.6,732.3L133.2,729.1L134.7,734.5L136.2,727.4L137.7,715.8L139.3,709.8L140.8,713.8L142.3,708.2L143.8,695.0L145.4,690.4L146.9,680.9L148.4,677.4L150.0,671.7L151.5,673.9L153.0,669.3L154.5,665.0L156.1,665.7L157.6,664.0L159.1,653.8L160.6,655.2L162.2,648.8L163.7,644.6L165.2,640.8L166.8,641.1L168.3,636.6L169.8,638.7L171.3,636.2L172.9,628.2L174.4,621.1L175.9,616.5L177.5,610.4L179.0,612.9L180.5,611.3L182.0,606.5L183.6,610.5L185.1,612.0L186.6,610.5L188.1,601.6L189.7,600.3L191.2,596.0L192.7,591.1L194.3,586.1L195.8,587.7L197.3,588.6L198.8,582.0L200.4,580.1L201.9,577.9L203.4,574.8L204.9,566.1L206.5,571.5L208.0,568.8L209.5,560.0L211.1,558.3L212.6,559.8L214.1,560.6L215.6,556.4L217.2,559.6L218.7,553.6L220.2,552.1L221.7,551.6L223.3,547.8L224.8,542.8L226.3,538.8L227.9,543.2L229.4,535.7L230.9,532.2L232.4,527.3L234.0,526.1L235.5,515.2L237.0,509.7L238.5,514.2L240.1,512.5L241.6,500.7L243.1,495.8L244.7,489.6L246.2,493.7L247.7,481.3L249.2,477.2L250.8,476.1L252.3,467.1L253.8,458.3L255.4,456.4L256.9,452.9L258.4,449.2L259.9,444.5L261.5,436.5L263.0,433.0L264.5,437.5L266.0,432.0L267.6,425.5L269.1,423.7L270.6,426.4L272.2,425.6L273.7,423.7L275.2,425.2L276.7,426.7L278.3,414.3L279.8,407.1L281.3,410.9L282.8,411.2L284.4,402.0L285.9,392.4L287.4,387.1L289.0,390.4L290.5,391.6L292.0,392.0L293.5,377.6L295.1,369.3L296.6,367.7L298.1,362.9L299.6,358.5L301.2,348.8L302.7,348.3L304.2,345.6L305.8,338.4L307.3,337.2L308.8,339.2L310.3,337.4L311.9,335.4L313.4,332.6L314.9,325.3L316.5,315.7L318.0,311.8L319.5,310.9L321.0,314.3L322.6,315.0L324.1,308.4L325.6,305.9L327.1,301.8L328.7,302.7L330.2,303.2L331.7,302.3L333.3,302.7L334.8,307.5L336.3,307.7L337.8,301.1L339.4,298.2L340.9,290.8L342.4,293.2L343.9,291.5L345.5,295.6L347.0,295.5L348.5,292.2L350.1,291.9L351.6,294.4L353.1,293.8L354.6,288.8L356.2,294.5L357.7,299.7L359.2,302.9L360.7,308.2L362.3,302.0L363.8,300.9L365.3,300.1L366.9,292.2L368.4,296.7L369.9,288.4L371.4,289.4L373.0,282.3L374.5,283.9L376.0,287.5L377.5,290.1L379.1,286.9L380.6,285.9L382.1,290.3L383.7,291.4L385.2,292.6L386.7,296.9L388.2,285.9L389.8,285.2L391.3,291.0L392.8,299.5L394.4,299.8L395.9,293.7L397.4,296.3L398.9,303.2L400.5,300.8L402.0,296.9L403.5,294.6L405.0,293.3L406.6,287.5L408.1,280.7L409.6,280.3L411.2,281.0L412.7,287.8L414.2,291.7L415.7,294.8L417.3,302.3L418.8,317.6L420.3,327.4L421.8,326.1L423.4,332.0L424.9,335.9L426.4,338.8L428.0,341.4L429.5,344.0L431.0,342.5L432.5,336.9L434.1,337.5L435.6,343.5L437.1,353.2L438.6,358.3L440.2,355.7L441.7,353.5L443.2,351.3L444.8,345.9L446.3,342.9L447.8,343.4L449.3,348.3L450.9,348.2L452.4,350.9L453.9,354.2L455.5,358.9L457.0,363.1L458.5,368.7L460.0,372.0L461.6,365.0L463.1,368.5L464.6,373.7L466.1,375.8L467.7,384.0L469.2,386.0L470.7,392.2L472.3,395.6L473.8,399.3L475.3,404.0L476.8,402.6L478.4,405.3L479.9,411.2L481.4,419.3L482.9,426.1L484.5,427.3L486.0,430.9L487.5,434.5L489.1,441.9L490.6,444.8L492.1,442.4L493.6,446.2L495.2,449.6L496.7,448.7L498.2,446.5L499.7,446.8L501.3,446.8L502.8,450.4L504.3,461.6L505.9,472.8L507.4,475.1L508.9,480.2L510.4,486.8L512.0,488.6L513.5,494.6L515.0,500.3L516.5,498.0L518.1,505.9L519.6,503.9L521.1,506.6L522.7,515.4L524.2,523.4L525.7,532.4L527.2,540.7L528.8,548.1L530.3,551.3L531.8,553.0L533.4,552.8L534.9,559.5L536.4,562.9L537.9,560.8L539.5,563.5L541.0,565.2L542.5,569.8L544.0,579.7L545.6,589.5L547.1,595.1L548.6,609.6L550.2,617.5L551.7,627.5L553.2,625.3L554.7,632.0L556.3,640.2L557.8,634.2L559.3,641.7L560.8,646.3L562.4,651.7L563.9,654.4L565.4,664.5L567.0,662.9L568.5,661.4L570.0,665.5L571.5,669.0L573.1,661.7L574.6,669.1L576.1,676.3L577.6,683.8L579.2,680.4L580.7,683.8L582.2,687.8L583.8,690.1L585.3,690.2L586.8,688.3L588.3,686.6L589.9,684.6L591.4,690.5L592.9,686.8L594.5,690.0L596.0,694.0L597.5,693.1L599.0,685.4L600.6,685.4L602.1,686.4L603.6,694.0L605.1,701.2L606.7,700.4L608.2,695.8L609.7,696.7L611.3,699.1L612.8,698.8L614.3,700.5L615.8,700.2L617.4,703.0L618.9,712.4L620.4,702.6L621.9,707.1L623.5,709.6L625.0,715.7"/>
<path d="M69.0,716.8L70.5,717.1L72.1,715.4L73.6,721.3L75.1,730.6L76.6,730.6L78.2,733.0L79.7,734.6L81.2,734.8L82.7,737.8L84.3,738.3L85.8,747.1L87.3,742.6L88.9,742.4L90.4,744.2L91.9,741.8L93.4,738.4L95.0,735.3L96.5,736.9L98.0,741.8L99.5,743.4L101.1,742.1L102.6,741.9L104.1,741.0L105.7,738.1L107.2,738.2L108.7,738.5L110.2,743.8L111.8,745.8L113.3,739.3L114.8,742.6L116.4,749.6L117.9,747.2L119.4,749.2L120.9,747.0L122.5,739.0L124.0,738.3L125.5,730.2L127.0,729.3L128.6,731.1L130.1,721.8L131.6,726.6L133.2,731.0L134.7,730.4L136.2,730.3L137.7,733.4L139.3,727.4L140.8,725.9L142.3,720.9L143.8,724.0L145.4,721.4L146.9,716.4L148.4,711.3L150.0,707.5L151.5,709.7L153.0,696.2L154.5,686.6L156.1,673.2L157.6,666.1L159.1,660.4L160.6,658.1L162.2,651.0L163.7,652.4L165.2,647.3L166.8,635.1L168.3,631.4L169.8,627.2L171.3,621.5L172.9,616.1L174.4,611.1L175.9,603.8L177.5,602.6L179.0,598.5L180.5,594.6L182.0,588.8L183.6,587.3L185.1,594.2L186.6,598.1L188.1,589.8L189.7,585.7L191.2,575.5L192.7,568.0L194.3,557.4L195.8,557.3L197.3,552.3L198.8,545.9L200.4,549.7L201.9,550.0L203.4,550.2L204.9,554.6L206.5,549.9L208.0,547.2L209.5,546.0L211.1,548.4L212.6,534.5L214.1,527.5L215.6,517.7L217.2,517.5L218.7,512.2L220.2,514.1L221.7,522.8L223.3,522.6L224.8,518.5L226.3,506.7L227.9,509.2L229.4,508.8L230.9,504.6L232.4,504.7L234.0,493.3L235.5,485.9L237.0,482.6L238.5,474.9L240.1,471.9L241.6,473.2L243.1,470.0L244.7,469.0L246.2,470.5L247.7,470.7L249.2,468.4L250.8,468.9L252.3,459.3L253.8,462.5L255.4,460.6L256.9,457.5L258.4,454.6L259.9,448.0L261.5,447.3L263.0,438.0L264.5,431.2L266.0,426.7L267.6,425.2L269.1,421.9L270.6,420.2L272.2,413.1L273.7,412.5L275.2,400.5L276.7,396.6L278.3,396.7L279.8,391.2L281.3,391.8L282.8,391.2L284.4,388.7L285.9,377.6L287.4,369.8L289.0,357.2L290.5,355.2L292.0,357.0L293.5,353.2L295.1,353.5L296.6,343.2L298.1,345.9L299.6,344.2L301.2,338.6L302.7,333.5L304.2,334.0L305.8,332.6L307.3,329.7L308.8,325.9L310.3,326.5L311.9,326.2L313.4,321.5L314.9,315.5L316.5,313.5L318.0,311.4L319.5,310.0L321.0,307.4L322.6,307.8L324.1,303.3L325.6,306.5L327.1,305.0L328.7,305.0L330.2,308.3L331.7,307.4L333.3,302.2L334.8,307.2L336.3,302.2L337.8,298.4L339.4,299.0L340.9,295.3L342.4,294.5L343.9,293.4L345.5,295.0L347.0,292.6L348.5,292.2L350.1,292.7L351.6,296.5L353.1,287.6L354.6,291.0L356.2,292.8L357.7,300.8L359.2,298.3L360.7,300.6L362.3,293.5L363.8,294.1L365.3,293.3L366.9,283.2L368.4,283.5L369.9,287.3L371.4,291.8L373.0,286.5L374.5,283.3L376.0,287.1L377.5,286.1L379.1,291.5L380.6,298.2L382.1,301.0L383.7,300.5L385.2,296.8L386.7,289.1L388.2,291.7L389.8,298.8L391.3,304.2L392.8,304.9L394.4,311.7L395.9,308.0L397.4,307.3L398.9,303.1L400.5,302.4L402.0,302.1L403.5,300.2L405.0,298.7L406.6,301.0L408.1,302.4L409.6,300.8L411.2,304.7L412.7,304.6L414.2,310.3L415.7,315.0L417.3,309.5L418.8,309.0L420.3,315.0L421.8,318.3L423.4,318.4L424.9,323.0L426.4,326.5L428.0,334.0L429.5,335.3L431.0,344.2L432.5,344.5L434.1,345.3L435.6,346.7L437.1,350.8L438.6,360.4L440.2,371.9L441.7,370.3L443.2,367.2L444.8,370.6L446.3,366.2L447.8,371.6L449.3,369.7L450.9,372.2L452.4,366.8L453.9,370.3L455.5,377.6L457.0,387.8L458.5,384.7L460.0,388.4L461.6,393.3L463.1,390.0L464.6,397.6L466.1,396.3L467.7,398.2L469.2,395.6L470.7,398.2L472.3,397.1L473.8,392.8L475.3,400.3L476.8,401.6L478.4,410.3L479.9,415.2L481.4,417.9L482.9,416.3L484.5,414.5L486.0,416.1L487.5,418.0L489.1,421.5L490.6,436.4L492.1,432.5L493.6,435.2L495.2,445.4L496.7,455.9L498.2,467.9L499.7,468.5L501.3,476.3L502.8,473.5L504.3,477.4L505.9,487.2L507.4,495.8L508.9,496.4L510.4,500.4L512.0,498.8L513.5,504.5L515.0,504.3L516.5,513.3L518.1,514.7L519.6,525.7L521.1,533.2L522.7,537.2L524.2,548.3L525.7,557.4L527.2,558.0L528.8,564.9L530.3,569.9L531.8,580.7L533.4,585.5L534.9,579.8L536.4,578.7L537.9,574.0L539.5,571.7L541.0,575.9L542.5,587.1L544.0,596.4L545.6,600.9L547.1,610.3L548.6,610.3L550.2,618.0L551.7,622.4L553.2,621.2L554.7,625.8L556.3,628.7L557.8,633.6L559.3,645.9L560.8,646.1L562.4,647.3L563.9,656.3L565.4,668.8L567.0,676.6L568.5,678.5L570.0,674.4L571.5,676.0L573.1,676.4L574.6,671.2L576.1,674.6L577.6,683.4L579.2,677.8L580.7,675.7L582.2,676.3L583.8,673.2L585.3,678.5L586.8,672.9L588.3,676.2L589.9,679.8L591.4,684.9L592.9,680.1L594.5,683.0L596.0,684.9L597.5,687.4L599.0,690.6L600.6,689.0L602.1,692.2L603.6,700.4L605.1,706.8L606.7,704.9L608.2,705.8L609.7,704.5L611.3,704.6L612.8,709.1L614.3,702.0L615.8,711.9L617.4,717.7L618.9,713.4L620.4,710.9L621.9,713.3L623.5,714.8L625.0,710.6"/>
<path d="M69.0,712.7L70.5,716.2L72.1,716.5L73.6,717.0L75.1,717.5L76.6,722.9L78.2,716.3L79.7,715.2L81.2,716.8L82.7,723.3L84.3,723.8L85.8,727.8L87.3,734.9L88.9,738.1L90.4,738.0L91.9,744.0L93.4,743.2L95.0,741.1L96.5,736.0L98.0,745.5L99.5,742.2L101.1,732.5L102.6,738.0L104.1,733.7L105.7,730.8L107.2,734.9L108.7,730.0L110.2,728.1L111.8,728.7L113.3,724.1L114.8,723.9L116.4,724.6L117.9,721.9L119.4,725.6L120.9,724.3L122.5,727.1L124.0,722.2L125.5,723.9L127.0,725.3L128.6,728.4L130.1,729.9L131.6,730.7L133.2,723.8L134.7,725.0L136.2,720.5L137.7,715.4L139.3,714.6L140.8,707.9L142.3,702.6L143.8,703.6L145.4,702.3L146.9,692.4L148.4,685.9L150.0,680.6L151.5,685.9L153.0,677.6L154.5,670.8L156.1,669.4L157.6,664.1L159.1,664.7L160.6,663.8L162.2,660.4L163.7,648.3L165.2,637.9L166.8,637.2L168.3,640.6L169.8,641.2L171.3,639.8L172.9,630.3L174.4,626.8L175.9,619.8L177.5,615.0L179.0,614.5L180.5,607.3L182.0,604.8L183.6,606.0L185.1,595.2L186.6,589.5L188.1,593.4L189.7,594.5L191.2,590.8L192.7,596.9L194.3,586.4L195.8,591.2L197.3,583.1L198.8,579.9L200.4,577.7L201.9,573.4L203.4,570.8L204.9,563.9L206.5,554.3L208.0,542.1L209.5,545.0L211.1,542.8L212.6,534.6L214.1,533.6L215.6,525.1L217.2,518.5L218.7,515.8L220.2,518.8L221.7,519.9L223.3,524.6L224.8,514.9L226.3,511.9L227.9,511.7L229.4,506.0L230.9,500.5L232.4,500.2L234.0,495.1L235.5,497.9L237.0,497.6L238.5,488.8L240.1,477.3L241.6,473.6L243.1,475.3L244.7,470.6L246.2,468.2L247.7,466.0L249.2,464.0L250.8,454.9L252.3,452.0L253.8,443.6L255.4,441.0L256.9,434.2L258.4,432.8L259.9,422.5L261.5,423.0L263.0,424.9L264.5,410.7L266.0,414.6L267.6,410.6L269.1,404.4L270.6,406.1L272.2,402.3L273.7,397.5L275.2,401.2L276.7,397.2L278.3,395.3L279.8,392.6L281.3,390.7L282.8,387.2L284.4,386.0L285.9,381.5L287.4,384.4L289.0,381.1L290.5,380.7L292.0,386.2L293.5,385.7L295.1,381.9L296.6,383.9L298.1,374.6L299.6,370.3L301.2,356.8L302.7,349.1L304.2,349.7L305.8,347.9L307.3,336.5L308.8,329.3L310.3,331.3L311.9,324.4L313.4,326.6L314.9,332.2L316.5,333.4L318.0,336.0L319.5,335.5L321.0,327.2L322.6,335.3L324.1,338.1L325.6,343.1L327.1,342.1L328.7,340.8L330.2,333.2L331.7,335.0L333.3,330.0L334.8,320.4L336.3,321.9L337.8,316.3L339.4,317.6L340.9,313.5L342.4,312.1L343.9,316.5L345.5,318.9L347.0,316.7L348.5,307.5L350.1,311.5L351.6,308.2L353.1,310.3L354.6,306.6L356.2,308.9L357.7,310.3L359.2,306.1L360.7,310.6L362.3,306.7L363.8,315.6L365.3,320.0L366.9,318.8L368.4,331.4L369.9,330.8L371.4,326.9L373.0,326.7L374.5,325.2L376.0,325.6L377.5,319.8L379.1,324.3L380.6,319.4L382.1,313.5L383.7,310.1L385.2,312.0L386.7,318.6L388.2,318.4L389.8,311.7L391.3,310.1L392.8,309.3L394.4,309.9L395.9,306.5L397.4,306.0L398.9,317.1L400.5,314.5L402.0,314.0L403.5,310.3L405.0,315.2L406.6,313.0L408.1,318.4L409.6,322.8L411.2,326.1L412.7,325.7L414.2,325.3L415.7,329.2L417.3,330.9L418.8,332.6L420.3,331.6L421.8,333.2L423.4,335.4L424.9,337.1L426.4,344.6L428.0,345.6L429.5,347.4L431.0,360.2L432.5,365.0L434.1,372.0L435.6,379.1L437.1,374.4L438.6,379.2L440.2,381.3L441.7,387.2L443.2,390.7L444.8,393.9L446.3,390.9L447.8,386.6L449.3,388.2L450.9,381.7L452.4,380.9L453.9,385.6L455.5,387.0L457.0,391.1L458.5,395.4L460.0,396.4L461.6,393.8L463.1,401.4L464.6,403.3L466.1,409.7L467.7,411.5L469.2,413.8L470.7,414.7L472.3,418.0L473.8,423.3L475.3,423.0L476.8,432.2L478.4,438.9L479.9,449.9L481.4,452.7L482.9,452.5L484.5,450.0L486.0,448.7L487.5,448.0L489.1,444.9L490.6,453.7L492.1,460.4L493.6,468.9L495.2,464.3L496.7,461.7L498.2,458.8L499.7,472.7L501.3,483.3L502.8,483.7L504.3,489.2L505.9,494.1L507.4,493.1L508.9,499.1L510.4,508.8L512.0,517.5L513.5,526.9L515.0,534.5L516.5,543.5L518.1,549.2L519.6,554.0L521.1,560.8L522.7,564.0L524.2,567.9L525.7,569.6L527.2,573.1L528.8,577.0L530.3,579.9L531.8,581.2L533.4,588.4L534.9,599.8L536.4,603.0L537.9,605.3L539.5,605.6L541.0,603.9L542.5,607.6L544.0,614.6L545.6,616.1L547.1,622.0L548.6,621.8L550.2,630.6L551.7,636.0L553.2,639.9L554.7,650.2L556.3,642.9L557.8,645.7L559.3,647.3L560.8,648.1L562.4,650.3L563.9,655.8L565.4,657.9L567.0,657.7L568.5,664.9L570.0,672.5L571.5,676.8L573.1,679.5L574.6,678.9L576.1,678.4L577.6,680.2L579.2,680.1L580.7,681.9L582.2,677.2L583.8,680.7L585.3,684.0L586.8,686.5L588.3,692.2L589.9,697.3L591.4,701.1L592.9,706.0L594.5,703.8L596.0,707.5L597.5,712.9L599.0,712.0L600.6,711.6L602.1,715.4L603.6,714.6L605.1,719.1L606.7,718.0L608.2,717.6L609.7,723.6L611.3,730.0L612.8,722.3L614.3,719.0L615.8,705.8L617.4,707.9L618.9,715.4L620.4,716.2L621.9,715.6L623.5,720.0L625.0,716.0"/>
<path d="M69.0,738.4L70.5,742.9L72.1,744.0L73.6,741.8L75.1,735.2L76.6,731.8L78.2,744.6L79.7,749.0L81.2,747.6L82.7,747.6L84.3,748.5L85.8,743.6L87.3,745.9L88.9,749.5L90.4,745.3L91.9,745.2L93.4,729.6L95.0,724.6L96.5,726.2L98.0,727.9L99.5,741.0L101.1,734.8L102.6,734.4L104.1,732.8L105.7,735.1L107.2,740.2L108.7,735.6L110.2,738.3L111.8,734.2L113.3,740.0L114.8,739.5L116.4,742.6L117.9,737.9L119.4,739.4L120.9,736.3L122.5,731.6L124.0,725.0L125.5,728.7L127.0,718.7L128.6,724.7L130.1,724.0L131.6,717.9L133.2,716.1L134.7,710.3L136.2,707.5L137.7,702.6L139.3,708.7L140.8,709.4L142.3,708.6L143.8,702.5L145.4,705.4L146.9,701.0L148.4,696.5L150.0,695.7L151.5,693.5L153.0,682.6L154.5,679.0L156.1,673.6L157.6,672.0L159.1,672.5L160.6,671.9L162.2,665.1L163.7,665.9L165.2,667.2L166.8,665.6L168.3,658.3L169.8,650.0L171.3,646.3L172.9,643.7L174.4,635.1L175.9,626.2L177.5,622.6L179.0,619.4L180.5,615.5L182.0,615.4L183.6,618.4L185.1,620.7L186.6,621.1L188.1,620.5L189.7,617.3L191.2,612.1L192.7,613.3L194.3,621.0L195.8,606.2L197.3,603.8L198.8,601.8L200.4,593.0L201.9,592.7L203.4,594.6L204.9,585.0L206.5,581.5L208.0,576.8L209.5,571.4L211.1,571.0L212.6,571.3L214.1,566.5L215.6,563.7L217.2,553.4L218.7,550.9L220.2,545.1L221.7,546.9L223.3,542.1L224.8,543.5L226.3,548.8L227.9,547.6L229.4,542.1L230.9,538.7L232.4,534.5L234.0,529.1L235.5,517.4L237.0,507.3L238.5,506.4L240.1,505.9L241.6,508.0L243.1,508.0L244.7,498.4L246.2,490.3L247.7,487.9L249.2,485.5L250.8,478.3L252.3,472.9L253.8,461.0L255.4,465.5L256.9,458.1L258.4,456.1L259.9,456.0L261.5,447.8L263.0,448.9L264.5,448.2L266.0,441.5L267.6,436.2L269.1,430.8L270.6,432.4L272.2,431.0L273.7,423.8L275.2,418.8L276.7,413.5L278.3,402.8L279.8,391.3L281.3,390.7L282.8,386.7L284.4,380.8L285.9,384.3L287.4,383.6L289.0,382.9L290.5,375.9L292.0,374.6L293.5,363.6L295.1,362.0L296.6,355.7L298.1,351.8L299.6,350.8L301.2,350.9L302.7,346.7L304.2,340.5L305.8,340.5L307.3,332.8L308.8,327.2L310.3,324.1L311.9,326.5L313.4,327.2L314.9,326.3L316.5,318.3L318.0,313.9L319.5,313.4L321.0,319.0L322.6,316.4L324.1,310.8L325.6,307.1L327.1,306.6L328.7,300.4L330.2,299.4L331.7,300.8L333.3,297.7L334.8,292.4L336.3,292.2L337.8,292.7L339.4,287.1L340.9,284.0L342.4,287.0L343.9,282.6L345.5,277.7L347.0,286.9L348.5,275.1L350.1,269.3L351.6,265.3L353.1,265.4L354.6,270.6L356.2,269.4L357.7,271.4L359.2,271.4L360.7,271.6L362.3,274.1L363.8,283.4L365.3,284.5L366.9,281.5L368.4,285.7L369.9,275.8L371.4,277.7L373.0,278.2L374.5,273.3L376.0,274.8L377.5,276.1L379.1,273.4L380.6,281.2L382.1,282.3L383.7,277.0L385.2,283.8L386.7,285.5L388.2,287.8L389.8,281.3L391.3,276.0L392.8,275.3L394.4,272.5L395.9,273.4L397.4,281.2L398.9,285.7L400.5,289.2L402.0,291.7L403.5,297.8L405.0,298.0L406.6,302.1L408.1,300.0L409.6,299.8L411.2,300.7L412.7,302.1L414.2,305.7L415.7,304.9L417.3,307.3L418.8,310.5L420.3,321.8L421.8,316.0L423.4,317.5L424.9,323.7L426.4,321.8L428.0,326.7L429.5,330.1L431.0,333.5L432.5,331.0L434.1,330.4L435.6,331.1L437.1,330.6L438.6,333.7L440.2,332.0L441.7,330.0L443.2,328.0L444.8,330.7L446.3,332.9L447.8,334.5L449.3,340.7L450.9,340.5L452.4,347.3L453.9,348.7L455.5,355.9L457.0,359.5L458.5,353.7L460.0,363.2L461.6,369.3L463.1,367.0L464.6,375.2L466.1,377.4L467.7,380.5L469.2,388.7L470.7,395.9L472.3,402.0L473.8,412.7L475.3,419.8L476.8,420.1L478.4,419.3L479.9,425.7L481.4,424.6L482.9,428.1L484.5,432.4L486.0,433.8L487.5,440.5L489.1,444.2L490.6,446.7L492.1,454.0L493.6,455.5L495.2,465.9L496.7,473.9L498.2,472.3L499.7,473.8L501.3,479.7L502.8,475.7L504.3,476.6L505.9,483.1L507.4,480.2L508.9,484.2L510.4,491.2L512.0,493.8L513.5,497.8L515.0,509.3L516.5,517.9L518.1,526.7L519.6,532.3L521.1,532.6L522.7,542.2L524.2,547.1L525.7,556.1L527.2,555.6L528.8,558.1L530.3,559.4L531.8,565.0L533.4,569.5L534.9,573.4L536.4,581.0L537.9,580.7L539.5,590.1L541.0,588.9L542.5,594.4L544.0,596.5L545.6,602.6L547.1,610.2L548.6,612.8L550.2,613.1L551.7,615.0L553.2,620.4L554.7,629.0L556.3,639.1L557.8,634.9L559.3,639.6L560.8,640.0L562.4,642.0L563.9,645.7L565.4,650.6L567.0,655.6L568.5,655.3L570.0,662.7L571.5,662.8L573.1,665.3L574.6,671.4L576.1,670.4L577.6,669.3L579.2,674.6L580.7,675.5L582.2,669.9L583.8,674.5L585.3,679.2L586.8,677.3L588.3,674.5L589.9,676.9L591.4,684.7L592.9,684.1L594.5,682.7L596.0,686.6L597.5,690.0L599.0,685.7L600.6,684.6L602.1,686.4L603.6,688.8L605.1,693.6L606.7,696.2L608.2,704.7L609.7,707.2L611.3,710.4L612.8,704.3L614.3,702.2L615.8,707.7L617.4,703.0L618.9,707.8L620.4,710.4L621.9,713.6L623.5,711.7L625.0,709.0"/>
<path d="M69.0,707.5L70.5,703.3L72.1,704.6L73.6,694.1L75.1,699.3L76.6,699.4L78.2,699.5L79.7,694.3L81.2,702.5L82.7,703.5L84.3,702.3L85.8,695.6L87.3,694.1L88.9,694.8L90.4,694.1L91.9,699.1L93.4,705.1L95.0,704.3L96.5,703.4L98.0,704.0L99.5,694.0L101.1,699.0L102.6,702.2L104.1,701.3L105.7,703.0L107.2,703.4L108.7,696.5L110.2,702.0L111.8,696.7L113.3,691.7L114.8,688.5L116.4,685.4L117.9,685.3L119.4,676.4L120.9,675.2L122.5,682.1L124.0,686.6L125.5,691.9L127.0,690.5L128.6,688.8L130.1,687.0L131.6,674.8L133.2,671.4L134.7,676.1L136.2,681.3L137.7,678.8L139.3,681.4L140.8,676.6L142.3,678.5L143.8,674.2L145.4,666.0L146.9,664.1L148.4,670.4L150.0,662.2L151.5,664.4L153.0,661.3L154.5,649.7L156.1,660.6L157.6,666.3L159.1,661.8L160.6,649.9L162.2,643.6L163.7,652.8L165.2,645.3L166.8,643.2L168.3,634.5L169.8,631.7L171.3,631.1L172.9,625.2L174.4,623.4L175.9,618.1L177.5,618.4L179.0,621.0L180.5,620.9L182.0,623.0L183.6,616.6L185.1,609.4L186.6,606.2L188.1,603.0L189.7,604.7L191.2,588.3L192.7,579.8L194.3,571.2L195.8,576.0L197.3,577.0L198.8,573.9L200.4,571.6L201.9,564.3L203.4,559.2L204.9,564.1L206.5,561.2L208.0,569.1L209.5,564.5L211.1,568.3L212.6,561.8L214.1,554.9L215.6,547.9L217.2,545.8L218.7,548.7L220.2,545.3L221.7,543.1L223.3,534.7L224.8,533.4L226.3,527.2L227.9,526.1L229.4,519.4L230.9,515.1L232.4,510.9L234.0,507.9L235.5,501.2L237.0,493.6L238.5,490.7L240.1,494.2L241.6,492.8L243.1,484.4L244.7,479.7L246.2,480.8L247.7,484.7L249.2,483.3L250.8,485.5L252.3,478.6L253.8,477.3L255.4,472.8L256.9,477.8L258.4,475.5L259.9,470.9L261.5,463.8L263.0,454.3L264.5,449.5L266.0,434.7L267.6,432.4L269.1,427.1L270.6,426.8L272.2,431.4L273.7,429.5L275.2,424.2L276.7,416.1L278.3,417.3L279.8,412.4L281.3,408.2L282.8,402.8L284.4,404.4L285.9,402.7L287.4,403.5L289.0,395.2L290.5,391.9L292.0,384.4L293.5,380.7L295.1,377.3L296.6,371.1L298.1,372.4L299.6,366.2L301.2,370.3L302.7,368.0L304.2,364.8L305.8,359.1L307.3,352.8L308.8,350.5L310.3,350.7L311.9,347.3L313.4,344.6L314.9,338.2L316.5,341.3L318.0,342.6L319.5,332.5L321.0,336.6L322.6,341.6L324.1,341.2L325.6,340.2L327.1,335.7L328.7,337.5L330.2,343.3L331.7,337.9L333.3,327.9L334.8,327.7L336.3,329.0L337.8,329.5L339.4,322.0L340.9,318.4L342.4,315.0L343.9,317.0L345.5,318.9L347.0,318.8L348.5,319.4L350.1,316.6L351.6,316.4L353.1,304.1L354.6,303.2L356.2,299.6L357.7,303.3L359.2,307.0L360.7,303.7L362.3,305.3L363.8,304.9L365.3,308.1L366.9,307.6L368.4,304.1L369.9,310.2L371.4,310.3L373.0,314.8L374.5,309.7L376.0,310.4L377.5,311.5L379.1,307.3L380.6,308.2L382.1,302.3L383.7,304.4L385.2,299.3L386.7,305.9L388.2,308.6L389.8,312.9L391.3,322.1L392.8,318.5L394.4,316.1L395.9,307.8L397.4,307.5L398.9,305.7L400.5,307.8L402.0,314.0L403.5,315.9L405.0,318.8L406.6,315.6L408.1,316.4L409.6,314.1L411.2,316.8L412.7,307.5L414.2,310.3L415.7,313.3L417.3,316.9L418.8,320.8L420.3,317.2L421.8,319.0L423.4,321.9L424.9,324.8L426.4,330.2L428.0,332.7L429.5,333.8L431.0,339.2L432.5,339.1L434.1,345.4L435.6,357.6L437.1,359.0L438.6,359.5L440.2,361.6L441.7,369.6L443.2,374.0L444.8,370.5L446.3,374.2L447.8,374.6L449.3,377.5L450.9,378.1L452.4,382.2L453.9,381.4L455.5,382.4L457.0,387.2L458.5,386.1L460.0,396.9L461.6,396.2L463.1,402.4L464.6,405.9L466.1,406.1L467.7,404.0L469.2,407.5L470.7,407.3L472.3,409.7L473.8,413.3L475.3,418.2L476.8,422.3L478.4,427.3L479.9,436.8L481.4,438.0L482.9,446.9L484.5,450.0L486.0,452.2L487.5,457.4L489.1,467.9L490.6,467.8L492.1,462.9L493.6,472.3L495.2,481.2L496.7,480.2L498.2,483.1L499.7,486.7L501.3,481.3L502.8,490.5L504.3,500.8L505.9,510.7L507.4,524.1L508.9,525.1L510.4,532.0L512.0,544.2L513.5,541.9L515.0,544.9L516.5,554.7L518.1,552.5L519.6,548.6L521.1,553.0L522.7,558.7L524.2,558.8L525.7,561.9L527.2,570.0L528.8,573.4L530.3,577.8L531.8,577.7L533.4,578.9L534.9,574.8L536.4,574.9L537.9,581.3L539.5,589.8L541.0,596.1L542.5,602.2L544.0,598.8L545.6,602.7L547.1,605.4L548.6,608.9L550.2,615.3L551.7,629.0L553.2,640.4L554.7,641.6L556.3,642.8L557.8,644.0L559.3,644.6L560.8,645.5L562.4,641.4L563.9,652.9L565.4,659.7L567.0,665.2L568.5,668.8L570.0,672.4L571.5,671.1L573.1,663.4L574.6,669.7L576.1,672.3L577.6,672.9L579.2,671.0L580.7,680.0L582.2,681.0L583.8,683.3L585.3,683.9L586.8,693.9L588.3,690.6L589.9,700.2L591.4,692.6L592.9,700.9L594.5,701.7L596.0,696.8L597.5,703.8L599.0,704.0L600.6,703.2L602.1,707.1L603.6,710.6L605.1,714.8L606.7,710.7L608.2,708.0L609.7,702.0L611.3,708.9L612.8,710.7L614.3,708.6L615.8,712.7L617.4,713.4L618.9,722.2L620.4,727.4L621.9,722.0L623.5,715.0L625.0,717.9"/>
<path d="M69.0,725.7L70.5,728.5L72.1,731.6L73.6,726.8L75.1,730.4L76.6,738.1L78.2,737.0L79.7,734.6L81.2,737.0L82.7,739.4L84.3,739.3L85.8,743.5L87.3,753.4L88.9,756.0L90.4,763.6L91.9,751.1L93.4,756.9L95.0,754.3L96.5,758.3L98.0,757.7L99.5,755.4L101.1,755.5L102.6,749.9L104.1,744.5L105.7,731.3L107.2,738.5L108.7,742.1L110.2,744.6L111.8,744.6L113.3,745.7L114.8,751.4L116.4,743.9L117.9,742.3L119.4,742.2L120.9,744.8L122.5,741.0L124.0,736.3L125.5,736.4L127.0,742.6L128.6,737.7L130.1,738.4L131.6,735.5L133.2,727.6L134.7,728.9L136.2,735.4L137.7,730.0L139.3,725.5L140.8,718.1L142.3,713.3L143.8,720.5L145.4,720.7L146.9,710.4L148.4,709.8L150.0,699.9L151.5,686.7L153.0,678.5L154.5,672.8L156.1,677.4L157.6,677.5L159.1,673.3L160.6,673.8L162.2,672.1L163.7,664.7L165.2,664.1L166.8,665.7L168.3,657.3L169.8,654.9L171.3,661.5L172.9,660.9L174.4,651.4L175.9,643.8L177.5,635.5L179.0,630.1L180.5,630.0L182.0,624.8L183.6,620.9L185.1,622.2L186.6,617.4L188.1,611.7L189.7,611.0L191.2,611.7L192.7,614.3L194.3,607.6L195.8,607.7L197.3,604.0L198.8,601.9L200.4,598.9L201.9,596.6L203.4,595.3L204.9,598.7L206.5,588.0L208.0,582.6L209.5,586.5L211.1,580.7L212.6,571.3L214.1,570.8L215.6,566.3L217.2,553.9L218.7,546.5L220.2,551.1L221.7,548.5L223.3,553.5L224.8,550.4L226.3,544.7L227.9,544.5L229.4,535.1L230.9,535.5L232.4,529.9L234.0,523.8L235.5,520.5L237.0,512.2L238.5,506.3L240.1,495.8L241.6,494.4L243.1,488.9L244.7,487.0L246.2,485.4L247.7,478.4L249.2,474.3L250.8,478.0L252.3,470.6L253.8,472.3L255.4,467.2L256.9,463.8L258.4,459.4L259.9,453.2L261.5,447.7L263.0,445.8L264.5,440.7L266.0,430.1L267.6,432.5L269.1,425.9L270.6,422.5L272.2,418.1L273.7,412.6L275.2,403.5L276.7,403.6L278.3,399.0L279.8,391.3L281.3,386.2L282.8,388.8L284.4,395.4L285.9,392.4L287.4,394.9L289.0,386.4L290.5,385.9L292.0,378.0L293.5,376.2L295.1,374.8L296.6,368.4L298.1,357.6L299.6,354.0L301.2,346.4L302.7,342.4L304.2,345.9L305.8,344.7L307.3,338.6L308.8,334.1L310.3,332.5L311.9,330.1L313.4,328.7L314.9,323.0L316.5,318.7L318.0,320.9L319.5,320.6L321.0,321.3L322.6,324.8L324.1,329.4L325.6,333.8L327.1,327.9L328.7,320.1L330.2,322.3L331.7,321.3L333.3,323.9L334.8,318.1L336.3,318.8L337.8,310.7L339.4,307.1L340.9,298.2L342.4,304.3L343.9,301.6L345.5,291.1L347.0,299.9L348.5,302.7L350.1,307.8L351.6,301.6L353.1,306.8L354.6,307.4L356.2,305.8L357.7,307.5L359.2,308.5L360.7,307.0L362.3,310.3L363.8,309.2L365.3,310.1L366.9,311.5L368.4,310.6L369.9,312.2L371.4,303.4L373.0,304.5L374.5,299.7L376.0,298.0L377.5,297.7L379.1,300.5L380.6,298.5L382.1,299.5L383.7,303.8L385.2,310.3L386.7,305.8L388.2,302.1L389.8,300.7L391.3,298.6L392.8,293.3L394.4,291.3L395.9,295.9L397.4,294.6L398.9,292.3L400.5,292.9L402.0,290.7L403.5,304.8L405.0,312.4L406.6,312.4L408.1,308.4L409.6,310.5L411.2,309.9L412.7,309.7L414.2,304.0L415.7,306.4L417.3,308.9L418.8,313.0L420.3,311.6L421.8,315.6L423.4,316.3L424.9,313.3L426.4,311.7L428.0,320.0L429.5,327.9L431.0,325.6L432.5,329.2L434.1,337.1L435.6,341.3L437.1,342.6L438.6,346.3L440.2,348.3L441.7,344.2L443.2,349.7L444.8,353.7L446.3,358.7L447.8,358.5L449.3,354.2L450.9,354.1L452.4,359.0L453.9,358.8L455.5,367.4L457.0,378.5L458.5,369.1L460.0,375.2L461.6,377.0L463.1,381.6L464.6,385.2L466.1,385.7L467.7,390.6L469.2,394.2L470.7,399.7L472.3,403.2L473.8,402.4L475.3,404.4L476.8,407.3L478.4,407.6L479.9,405.1L481.4,416.3L482.9,417.9L484.5,421.6L486.0,418.7L487.5,423.4L489.1,426.8L490.6,436.5L492.1,447.7L493.6,447.5L495.2,447.9L496.7,453.9L498.2,460.5L499.7,465.5L501.3,472.5L502.8,477.0L504.3,477.6L505.9,484.5L507.4,481.4L508.9,492.4L510.4,500.0L512.0,503.7L513.5,506.4L515.0,510.2L516.5,518.2L518.1,521.5L519.6,524.0L521.1,531.2L522.7,537.5L524.2,539.5L525.7,545.3L527.2,545.6L528.8,555.6L530.3,553.7L531.8,556.1L533.4,559.6L534.9,563.2L536.4,579.5L537.9,581.9L539.5,589.6L541.0,599.5L542.5,604.2L544.0,611.4L545.6,618.5L547.1,617.4L548.6,621.4L550.2,630.6L551.7,640.2L553.2,647.5L554.7,656.2L556.3,657.8L557.8,655.0L559.3,654.2L560.8,653.8L562.4,655.4L563.9,660.9L565.4,661.2L567.0,668.2L568.5,665.0L570.0,665.5L571.5,666.6L573.1,669.7L574.6,673.8L576.1,672.0L577.6,672.1L579.2,670.5L580.7,670.3L582.2,665.3L583.8,657.5L585.3,661.3L586.8,660.9L588.3,665.2L589.9,666.8L591.4,664.0L592.9,662.7L594.5,672.0L596.0,671.8L597.5,668.5L599.0,671.7L600.6,678.1L602.1,679.8L603.6,684.4L605.1,687.2L606.7,688.6L608.2,685.8L609.7,688.8L611.3,688.6L612.8,688.5L614.3,687.0L615.8,689.4L617.4,686.8L618.9,692.5L620.4,699.3L621.9,700.7L623.5,700.4L625.0,703.6"/>
<path d="M69.0,730.8L70.5,726.0L72.1,725.7L73.6,719.2L75.1,722.9L76.6,727.2L78.2,728.1L79.7,737.4L81.2,739.7L82.7,744.8L84.3,743.1L85.8,749.5L87.3,757.4L88.9,761.5L90.4,760.6L91.9,751.7L93.4,747.9L95.0,736.8L96.5,731.1L98.0,729.5L99.5,726.4L101.1,729.3L102.6,726.6L104.1,724.5L105.7,723.3L107.2,718.9L108.7,727.1L110.2,729.0L111.8,731.3L113.3,734.0L114.8,729.3L116.4,724.6L117.9,723.0L119.4,719.6L120.9,724.0L122.5,740.5L124.0,736.2L125.5,745.9L127.0,734.1L128.6,719.8L130.1,710.6L131.6,706.6L133.2,701.0L134.7,696.3L136.2,699.2L137.7,700.3L139.3,696.2L140.8,692.2L142.3,696.3L143.8,699.1L145.4,693.3L146.9,688.6L148.4,685.3L150.0,678.0L151.5,676.5L153.0,676.7L154.5,672.8L156.1,661.7L157.6,657.4L159.1,656.7L160.6,652.4L162.2,655.0L163.7,660.4L165.2,666.7L166.8,649.8L168.3,647.9L169.8,642.8L171.3,636.0L172.9,635.4L174.4,626.6L175.9,617.5L177.5,615.4L179.0,617.3L180.5,618.7L182.0,612.0L183.6,607.8L185.1,603.4L186.6,609.4L188.1,607.1L189.7,605.2L191.2,599.7L192.7,594.7L194.3,603.1L195.8,608.6L197.3,606.4L198.8,611.9L200.4,610.0L201.9,610.9L203.4,608.1L204.9,605.3L206.5,601.4L208.0,594.4L209.5,592.3L211.1,590.6L212.6,589.2L214.1,582.8L215.6,572.7L217.2,572.8L218.7,568.5L220.2,568.1L221.7,557.5L223.3,552.1L224.8,545.9L226.3,543.3L227.9,537.9L229.4,536.2L230.9,537.7L232.4,534.2L234.0,533.8L235.5,535.1L237.0,538.9L238.5,533.9L240.1,528.1L241.6,524.1L243.1,518.5L244.7,519.5L246.2,508.3L247.7,505.5L249.2,499.6L250.8,500.2L252.3,483.0L253.8,475.2L255.4,466.5L256.9,466.1L258.4,459.5L259.9,460.0L261.5,458.1L263.0,454.1L264.5,450.0L266.0,443.9L267.6,430.7L269.1,430.2L270.6,425.8L272.2,419.0L273.7,414.4L275.2,415.2L276.7,409.7L278.3,400.3L279.8,399.1L281.3,402.0L282.8,392.0L284.4,386.8L285.9,380.1L287.4,380.0L289.0,376.3L290.5,380.0L292.0,376.2L293.5,367.8L295.1,362.4L296.6,364.1L298.1,356.6L299.6,347.6L301.2,340.6L302.7,337.7L304.2,336.7L305.8,331.3L307.3,340.1L308.8,344.2L310.3,336.2L311.9,330.1L313.4,323.8L314.9,322.4L316.5,313.9L318.0,315.9L319.5,315.2L321.0,315.9L322.6,309.8L324.1,301.7L325.6,290.1L327.1,298.6L328.7,294.6L330.2,297.9L331.7,301.7L333.3,296.1L334.8,301.4L336.3,295.6L337.8,294.7L339.4,283.9L340.9,281.9L342.4,282.5L343.9,286.2L345.5,276.8L347.0,276.8L348.5,282.4L350.1,284.0L351.6,286.8L353.1,289.8L354.6,293.9L356.2,293.8L357.7,298.7L359.2,293.9L360.7,296.4L362.3,298.2L363.8,301.4L365.3,311.1L366.9,311.3L368.4,312.6L369.9,308.6L371.4,308.3L373.0,312.0L374.5,309.6L376.0,301.3L377.5,292.6L379.1,297.3L380.6,297.4L382.1,299.5L383.7,294.5L385.2,293.7L386.7,285.8L388.2,285.0L389.8,286.6L391.3,284.8L392.8,292.1L394.4,290.1L395.9,289.4L397.4,288.5L398.9,291.9L400.5,296.9L402.0,298.6L403.5,295.3L405.0,296.1L406.6,300.5L408.1,298.6L409.6,307.3L411.2,304.5L412.7,306.6L414.2,307.6L415.7,316.4L417.3,323.9L418.8,328.8L420.3,328.1L421.8,326.6L423.4,327.7L424.9,336.8L426.4,347.2L428.0,352.5L429.5,351.8L431.0,347.5L432.5,349.3L434.1,356.0L435.6,361.1L437.1,364.0L438.6,362.8L440.2,367.6L441.7,368.6L443.2,373.2L444.8,377.8L446.3,383.0L447.8,387.1L449.3,385.0L450.9,392.8L452.4,390.2L453.9,394.5L455.5,393.6L457.0,393.6L458.5,396.7L460.0,397.8L461.6,396.8L463.1,400.5L464.6,401.0L466.1,405.8L467.7,410.9L469.2,412.9L470.7,409.2L472.3,414.8L473.8,420.1L475.3,422.8L476.8,426.8L478.4,432.6L479.9,438.7L481.4,449.4L482.9,454.1L484.5,453.9L486.0,461.3L487.5,464.1L489.1,468.6L490.6,470.3L492.1,472.9L493.6,482.5L495.2,485.3L496.7,497.1L498.2,495.6L499.7,501.2L501.3,508.6L502.8,512.2L504.3,515.3L505.9,515.5L507.4,520.7L508.9,517.4L510.4,510.7L512.0,511.9L513.5,529.0L515.0,535.4L516.5,551.2L518.1,559.4L519.6,559.7L521.1,563.1L522.7,568.1L524.2,571.8L525.7,569.7L527.2,569.1L528.8,572.5L530.3,572.6L531.8,577.9L533.4,577.3L534.9,589.4L536.4,601.9L537.9,607.7L539.5,616.2L541.0,622.0L542.5,628.5L544.0,632.7L545.6,641.6L547.1,651.0L548.6,653.6L550.2,657.0L551.7,659.7L553.2,661.4L554.7,664.5L556.3,659.8L557.8,661.2L559.3,666.3L560.8,664.2L562.4,667.6L563.9,665.9L565.4,667.2L567.0,671.9L568.5,673.7L570.0,675.9L571.5,686.6L573.1,689.0L574.6,696.9L576.1,699.0L577.6,701.4L579.2,705.3L580.7,711.9L582.2,713.2L583.8,714.8L585.3,726.7L586.8,721.9L588.3,722.2L589.9,722.7L591.4,721.1L592.9,719.8L594.5,719.7L596.0,720.8L597.5,722.1L599.0,725.7L600.6,734.1L602.1,737.4L603.6,735.2L605.1,739.5L606.7,740.9L608.2,734.4L609.7,732.0L611.3,729.6L612.8,731.9L614.3,739.2L615.8,739.8L617.4,745.7L618.9,743.5L620.4,739.9L621.9,740.2L623.5,741.3L625.0,751.1"/>
<path d="M69.0,722.5L70.5,723.1L72.1,719.5L73.6,716.6L75.1,711.5L76.6,720.4L78.2,729.9L79.7,734.5L81.2,735.8L82.7,744.3L84.3,750.2L85.8,741.7L87.3,742.6L88.9,736.9L90.4,731.4L91.9,734.6L93.4,728.3L95.0,729.2L96.5,736.6L98.0,740.6L99.5,736.4L101.1,733.4L102.6,734.2L104.1,733.2L105.7,742.5L107.2,740.0L108.7,732.4L110.2,736.0L111.8,733.2L113.3,729.2L114.8,724.7L116.4,727.0L117.9,725.7L119.4,725.5L120.9,726.4L122.5,726.6L124.0,726.6L125.5,727.3L127.0,736.3L128.6,729.6L130.1,730.7L131.6,728.8L133.2,724.1L134.7,720.8L136.2,716.2L137.7,702.8L139.3,703.5L140.8,703.4L142.3,702.4L143.8,699.0L145.4,704.6L146.9,702.6L148.4,697.7L150.0,689.1L151.5,683.3L153.0,686.8L154.5,682.4L156.1,679.5L157.6,675.9L159.1,671.3L160.6,676.7L162.2,675.4L163.7,676.4L165.2,668.3L166.8,662.3L168.3,662.4L169.8,655.0L171.3,639.2L172.9,629.6L174.4,630.3L175.9,621.6L177.5,616.8L179.0,618.9L180.5,614.3L182.0,614.4L183.6,611.1L185.1,607.7L186.6,611.4L188.1,609.5L189.7,599.5L191.2,594.1L192.7,595.8L194.3,589.1L195.8,595.1L197.3,592.5L198.8,582.1L200.4,575.3L201.9,572.7L203.4,566.6L204.9,572.4L206.5,575.1L208.0,571.3L209.5,569.2L211.1,565.6L212.6,556.2L214.1,561.0L215.6,551.5L217.2,551.8L218.7,550.0L220.2,546.1L221.7,542.9L223.3,538.2L224.8,538.6L226.3,526.2L227.9,529.5L229.4,529.7L230.9,530.8L232.4,532.4L234.0,522.0L235.5,517.5L237.0,515.7L238.5,517.0L240.1,507.7L241.6,502.0L243.1,502.4L244.7,498.2L246.2,497.4L247.7,487.6L249.2,484.8L250.8,478.5L252.3,474.3L253.8,466.9L255.4,461.6L256.9,457.8L258.4,450.2L259.9,449.0L261.5,446.8L263.0,441.9L264.5,437.4L266.0,432.6L267.6,422.4L269.1,422.2L270.6,420.6L272.2,422.2L273.7,421.3L275.2,421.2L276.7,413.3L278.3,409.5L279.8,404.3L281.3,402.6L282.8,394.4L284.4,395.4L285.9,383.1L287.4,378.7L289.0,376.9L290.5,377.9L292.0,370.3L293.5,365.6L295.1,368.6L296.6,362.4L298.1,358.6L299.6,358.4L301.2,349.6L302.7,351.7L304.2,349.0L305.8,344.3L307.3,334.0L308.8,328.6L310.3,324.6L311.9,320.2L313.4,322.3L314.9,316.6L316.5,321.2L318.0,319.6L319.5,319.9L321.0,318.5L322.6,314.9L324.1,315.5L325.6,320.1L327.1,318.4L328.7,322.9L330.2,321.1L331.7,326.2L333.3,319.9L334.8,314.5L336.3,316.3L337.8,317.1L339.4,313.1L340.9,313.1L342.4,316.7L343.9,314.3L345.5,314.4L347.0,311.1L348.5,306.3L350.1,312.2L351.6,307.2L353.1,307.0L354.6,308.8L356.2,306.1L357.7,302.9L359.2,304.0L360.7,307.4L362.3,312.7L363.8,310.3L365.3,307.8L366.9,303.9L368.4,306.8L369.9,304.6L371.4,308.5L373.0,301.3L374.5,295.5L376.0,291.3L377.5,291.1L379.1,297.3L380.6,307.4L382.1,303.7L383.7,306.9L385.2,310.2L386.7,316.0L388.2,317.1L389.8,326.7L391.3,323.9L392.8,327.5L394.4,327.1L395.9,321.7L397.4,322.8L398.9,320.1L400.5,311.1L402.0,311.6L403.5,308.3L405.0,311.8L406.6,319.1L408.1,322.2L409.6,324.7L411.2,319.5L412.7,319.9L414.2,317.4L415.7,328.5L417.3,331.2L418.8,333.2L420.3,325.7L421.8,326.1L423.4,330.8L424.9,332.2L426.4,336.4L428.0,342.6L429.5,345.8L431.0,345.3L432.5,340.8L434.1,345.5L435.6,351.8L437.1,351.5L438.6,358.4L440.2,358.3L441.7,358.1L443.2,371.3L444.8,365.7L446.3,369.0L447.8,373.8L449.3,373.3L450.9,381.8L452.4,379.1L453.9,378.2L455.5,377.2L457.0,382.3L458.5,388.8L460.0,397.2L461.6,397.2L463.1,397.9L464.6,404.5L466.1,403.7L467.7,410.1L469.2,417.3L470.7,422.5L472.3,418.9L473.8,420.8L475.3,424.0L476.8,432.9L478.4,434.7L479.9,439.5L481.4,442.7L482.9,445.7L484.5,448.6L486.0,449.4L487.5,456.8L489.1,459.6L490.6,470.4L492.1,468.7L493.6,461.8L495.2,470.5L496.7,469.3L498.2,473.0L499.7,479.7L501.3,485.3L502.8,492.2L504.3,492.0L505.9,494.8L507.4,502.5L508.9,505.8L510.4,516.8L512.0,522.8L513.5,529.0L515.0,533.6L516.5,547.1L518.1,552.0L519.6,548.0L521.1,552.0L522.7,554.1L524.2,567.1L525.7,565.1L527.2,569.4L528.8,578.1L530.3,579.8L531.8,585.7L533.4,593.2L534.9,600.7L536.4,599.0L537.9,598.2L539.5,601.2L541.0,608.2L542.5,609.9L544.0,617.3L545.6,619.8L547.1,624.3L548.6,624.2L550.2,621.3L551.7,627.4L553.2,628.4L554.7,634.6L556.3,636.0L557.8,634.5L559.3,632.6L560.8,635.3L562.4,639.0L563.9,640.0L565.4,646.6L567.0,649.2L568.5,655.8L570.0,660.0L571.5,660.5L573.1,658.9L574.6,651.3L576.1,656.7L577.6,662.8L579.2,662.0L580.7,664.7L582.2,668.8L583.8,674.5L585.3,678.5L586.8,680.4L588.3,683.5L589.9,679.6L591.4,685.6L592.9,686.5L594.5,691.3L596.0,689.9L597.5,692.3L599.0,699.4L600.6,713.5L602.1,713.1L603.6,722.7L605.1,720.9L606.7,721.0L608.2,721.1L609.7,730.3L611.3,732.7L612.8,734.8L614.3,737.8L615.8,745.5L617.4,739.3L618.9,738.3L620.4,740.1L621.9,743.5L623.5,733.4L625.0,738.8"/>
<path d="M69.0,721.8L70.5,722.7L72.1,720.7L73.6,716.2L75.1,716.1L76.6,720.1L78.2,711.0L79.7,710.6L81.2,715.9L82.7,716.6L84.3,718.8L85.8,727.9L87.3,725.8L88.9,724.6L90.4,730.7L91.9,726.7L93.4,735.3L95.0,733.9L96.5,732.3L98.0,739.2L99.5,744.9L101.1,739.3L102.6,740.5L104.1,743.2L105.7,741.4L107.2,747.9L108.7,747.1L110.2,742.5L111.8,742.4L113.3,740.3L114.8,737.9L116.4,734.1L117.9,724.2L119.4,728.2L120.9,724.7L122.5,730.5L124.0,730.3L125.5,730.6L127.0,728.4L128.6,725.4L130.1,722.6L131.6,726.6L133.2,724.0L134.7,721.3L136.2,723.7L137.7,719.2L139.3,713.5L140.8,714.8L142.3,713.3L143.8,713.9L145.4,712.0L146.9,701.6L148.4,702.7L150.0,701.0L151.5,701.7L153.0,696.9L154.5,683.4L156.1,680.9L157.6,672.4L159.1,664.0L160.6,660.6L162.2,655.6L163.7,660.8L165.2,655.9L166.8,648.2L168.3,641.8L169.8,634.6L171.3,628.6L172.9,625.0L174.4,614.2L175.9,617.2L177.5,608.8L179.0,608.5L180.5,612.2L182.0,607.3L183.6,602.2L185.1,604.4L186.6,597.4L188.1,602.2L189.7,595.8L191.2,596.8L192.7,586.1L194.3,585.8L195.8,586.8L197.3,575.3L198.8,573.3L200.4,565.7L201.9,561.5L203.4,558.5L204.9,551.1L206.5,551.6L208.0,550.4L209.5,544.4L211.1,530.5L212.6,534.7L214.1,539.2L215.6,539.3L217.2,535.0L218.7,531.4L220.2,525.6L221.7,522.3L223.3,516.6L224.8,512.2L226.3,511.6L227.9,507.6L229.4,509.2L230.9,506.8L232.4,503.1L234.0,499.1L235.5,496.1L237.0,490.6L238.5,490.9L240.1,493.9L241.6,498.1L243.1,488.5L244.7,482.8L246.2,483.5L247.7,480.8L249.2,481.7L250.8,471.9L252.3,470.3L253.8,468.1L255.4,464.1L256.9,457.5L258.4,450.1L259.9,447.2L261.5,445.7L263.0,446.4L264.5,435.3L266.0,429.0L267.6,431.1L269.1,421.6L270.6,421.2L272.2,420.0L273.7,413.1L275.2,412.1L276.7,411.5L278.3,399.9L279.8,386.3L281.3,387.5L282.8,382.2L284.4,378.6L285.9,377.3L287.4,383.3L289.0,377.1L290.5,378.1L292.0,377.1L293.5,374.8L295.1,370.5L296.6,363.9L298.1,356.8L299.6,361.5L301.2,348.9L302.7,339.3L304.2,328.1L305.8,322.6L307.3,317.8L308.8,313.1L310.3,319.1L311.9,312.5L313.4,308.3L314.9,311.1L316.5,308.8L318.0,302.3L319.5,308.2L321.0,313.1L322.6,316.4L324.1,312.3L325.6,316.3L327.1,316.0L328.7,315.2L330.2,309.4L331.7,307.5L333.3,301.5L334.8,302.9L336.3,302.0L337.8,304.3L339.4,313.4L340.9,314.9L342.4,305.6L343.9,306.5L345.5,307.4L347.0,309.2L348.5,306.3L350.1,307.9L351.6,294.5L353.1,292.8L354.6,296.9L356.2,298.1L357.7,302.8L359.2,300.4L360.7,301.3L362.3,305.6L363.8,305.9L365.3,297.3L366.9,305.3L368.4,301.8L369.9,301.6L371.4,301.1L373.0,303.0L374.5,306.7L376.0,300.6L377.5,304.9L379.1,305.4L380.6,304.6L382.1,303.6L383.7,298.9L385.2,298.8L386.7,299.9L388.2,296.1L389.8,301.5L391.3,303.3L392.8,298.3L394.4,299.6L395.9,301.6L397.4,298.5L398.9,302.1L400.5,298.7L402.0,299.5L403.5,302.9L405.0,304.9L406.6,309.0L408.1,302.6L409.6,307.1L411.2,311.3L412.7,316.6L414.2,324.3L415.7,327.5L417.3,334.4L418.8,341.5L420.3,341.0L421.8,342.5L423.4,348.8L424.9,352.8L426.4,349.1L428.0,348.4L429.5,357.3L431.0,360.1L432.5,355.5L434.1,358.9L435.6,362.1L437.1,365.5L438.6,368.6L440.2,369.2L441.7,369.1L443.2,371.0L444.8,372.4L446.3,384.3L447.8,393.9L449.3,395.1L450.9,387.3L452.4,387.8L453.9,387.6L455.5,388.2L457.0,383.5L458.5,390.2L460.0,390.8L461.6,394.4L463.1,389.6L464.6,391.6L466.1,389.8L467.7,389.1L469.2,392.4L470.7,394.1L472.3,396.2L473.8,399.0L475.3,400.7L476.8,401.5L478.4,404.1L479.9,409.3L481.4,422.2L482.9,429.2L484.5,434.3L486.0,434.5L487.5,444.9L489.1,451.4L490.6,455.1L492.1,464.9L493.6,461.4L495.2,463.8L496.7,466.3L498.2,474.5L499.7,478.0L501.3,482.3L502.8,489.5L504.3,493.3L505.9,499.2L507.4,501.5L508.9,501.5L510.4,504.8L512.0,513.1L513.5,526.2L515.0,533.7L516.5,535.8L518.1,542.9L519.6,548.8L521.1,553.8L522.7,561.8L524.2,565.4L525.7,571.0L527.2,572.9L528.8,579.0L530.3,578.9L531.8,578.9L533.4,582.4L534.9,581.8L536.4,588.2L537.9,586.1L539.5,591.9L541.0,595.7L542.5,612.5L544.0,611.5L545.6,619.5L547.1,623.6L548.6,633.8L550.2,635.3L551.7,635.9L553.2,645.1L554.7,651.4L556.3,647.3L557.8,650.0L559.3,651.3L560.8,645.9L562.4,650.8L563.9,654.0L565.4,657.3L567.0,663.4L568.5,670.3L570.0,669.8L571.5,676.5L573.1,685.9L574.6,674.7L576.1,675.8L577.6,684.0L579.2,684.8L580.7,683.6L582.2,692.3L583.8,695.9L585.3,688.6L586.8,694.6L588.3,696.3L589.9,700.0L591.4,696.7L592.9,699.2L594.5,703.8L596.0,703.7L597.5,705.6L599.0,712.0L600.6,719.4L602.1,713.1L603.6,714.9L605.1,715.3L606.7,714.9L608.2,717.9L609.7,724.5L611.3,730.1L612.8,724.5L614.3,727.1L615.8,728.1L617.4,733.8L618.9,731.4L620.4,735.9L621.9,739.2L623.5,738.4L625.0,733.2"/>
<path d="M69.0,759.0L70.5,756.1L72.1,749.9L73.6,748.3L75.1,752.1L76.6,754.1L78.2,752.4L79.7,754.5L81.2,752.2L82.7,751.1L84.3,747.3L85.8,749.9L87.3,741.0L88.9,733.0L90.4,736.9L91.9,737.2L93.4,741.4L95.0,739.2L96.5,742.0L98.0,741.1L99.5,745.1L101.1,751.1L102.6,752.3L104.1,742.9L105.7,735.9L107.2,739.4L108.7,732.2L110.2,736.8L111.8,732.1L113.3,736.3L114.8,738.0L116.4,744.6L117.9,740.5L119.4,749.2L120.9,746.1L122.5,740.5L124.0,740.1L125.5,744.5L127.0,738.8L128.6,744.2L130.1,746.5L131.6,744.1L133.2,744.8L134.7,742.2L136.2,735.9L137.7,736.5L139.3,734.8L140.8,726.5L142.3,718.0L143.8,718.0L145.4,714.5L146.9,718.7L148.4,709.8L150.0,708.5L151.5,707.9L153.0,703.5L154.5,699.8L156.1,698.4L157.6,688.5L159.1,690.5L160.6,693.0L162.2,691.5L163.7,687.3L165.2,688.9L166.8,690.6L168.3,693.6L169.8,692.1L171.3,686.3L172.9,688.2L174.4,675.2L175.9,673.6L177.5,666.5L179.0,652.4L180.5,646.8L182.0,642.8L183.6,645.7L185.1,649.4L186.6,652.1L188.1,647.4L189.7,650.3L191.2,648.2L192.7,643.4L194.3,633.4L195.8,637.1L197.3,639.4L198.8,635.2L200.4,629.9L201.9,618.6L203.4,607.0L204.9,608.0L206.5,603.1L208.0,601.4L209.5,596.2L211.1,593.3L212.6,594.6L214.1,600.7L215.6,596.2L217.2,591.6L218.7,587.0L220.2,583.3L221.7,581.7L223.3,571.1L224.8,558.7L226.3,552.3L227.9,540.2L229.4,541.4L230.9,536.6L232.4,532.7L234.0,535.1L235.5,534.7L237.0,530.7L238.5,522.1L240.1,514.3L241.6,511.9L243.1,517.9L244.7,513.1L246.2,509.4L247.7,506.7L249.2,497.7L250.8,496.6L252.3,489.8L253.8,485.4L255.4,475.7L256.9,470.1L258.4,466.6L259.9,462.6L261.5,460.0L263.0,462.3L264.5,457.8L266.0,449.8L267.6,444.5L269.1,438.0L270.6,435.8L272.2,435.0L273.7,430.0L275.2,425.1L276.7,420.8L278.3,413.2L279.8,406.6L281.3,402.9L282.8,399.8L284.4,395.9L285.9,395.7L287.4,391.4L289.0,390.7L290.5,394.6L292.0,390.1L293.5,391.2L295.1,386.9L296.6,375.4L298.1,373.5L299.6,369.8L301.2,358.3L302.7,357.6L304.2,358.0L305.8,353.6L307.3,350.8L308.8,347.5L310.3,339.5L311.9,337.6L313.4,329.6L314.9,323.2L316.5,330.3L318.0,328.0L319.5,323.4L321.0,324.0L322.6,323.9L324.1,328.9L325.6,330.8L327.1,332.1L328.7,334.3L330.2,337.8L331.7,324.5L333.3,325.2L334.8,322.0L336.3,318.5L337.8,318.5L339.4,318.3L340.9,310.6L342.4,308.0L343.9,306.3L345.5,308.6L347.0,299.7L348.5,303.6L350.1,304.1L351.6,306.0L353.1,305.3L354.6,298.9L356.2,305.4L357.7,303.2L359.2,302.2L360.7,306.5L362.3,304.6L363.8,314.0L365.3,318.4L366.9,316.7L368.4,317.9L369.9,315.9L371.4,312.1L373.0,310.7L374.5,311.1L376.0,306.8L377.5,309.9L379.1,304.6L380.6,308.0L382.1,303.7L383.7,301.0L385.2,302.1L386.7,297.2L388.2,303.9L389.8,300.7L391.3,306.7L392.8,308.2L394.4,310.0L395.9,309.5L397.4,308.5L398.9,317.3L400.5,318.6L402.0,315.2L403.5,313.8L405.0,313.6L406.6,313.4L408.1,310.1L409.6,310.8L411.2,315.6L412.7,314.5L414.2,315.6L415.7,315.9L417.3,316.8L418.8,317.8L420.3,325.6L421.8,332.8L423.4,334.7L424.9,340.2L426.4,334.6L428.0,333.4L429.5,339.2L431.0,334.7L432.5,348.7L434.1,352.7L435.6,358.8L437.1,358.7L438.6,352.8L440.2,353.6L441.7,352.6L443.2,359.2L444.8,360.2L446.3,361.9L447.8,374.0L449.3,369.9L450.9,373.0L452.4,380.4L453.9,392.0L455.5,387.8L457.0,381.6L458.5,382.9L460.0,388.4L461.6,395.0L463.1,392.8L464.6,389.4L466.1,394.8L467.7,397.5L469.2,399.3L470.7,404.5L472.3,417.6L473.8,421.9L475.3,432.9L476.8,435.1L478.4,443.7L479.9,441.9L481.4,443.4L482.9,447.9L484.5,450.1L486.0,452.7L487.5,455.0L489.1,455.1L490.6,460.6L492.1,468.5L493.6,474.6L495.2,474.0L496.7,477.1L498.2,477.1L499.7,483.8L501.3,495.0L502.8,499.0L504.3,505.8L505.9,508.6L507.4,513.8L508.9,517.1L510.4,512.2L512.0,523.2L513.5,536.0L515.0,544.9L516.5,547.3L518.1,552.2L519.6,559.9L521.1,565.1L522.7,571.4L524.2,577.4L525.7,571.4L527.2,575.4L528.8,579.9L530.3,584.0L531.8,587.0L533.4,584.7L534.9,591.9L536.4,598.9L537.9,607.9L539.5,617.3L541.0,619.9L542.5,627.6L544.0,633.8L545.6,645.3L547.1,648.9L548.6,662.8L550.2,660.2L551.7,656.7L553.2,658.8L554.7,659.6L556.3,667.6L557.8,673.7L559.3,675.3L560.8,673.9L562.4,674.6L563.9,677.9L565.4,679.9L567.0,682.3L568.5,686.4L570.0,685.3L571.5,687.5L573.1,690.6L574.6,692.7L576.1,688.6L577.6,688.1L579.2,689.8L580.7,693.4L582.2,702.6L583.8,708.2L585.3,710.0L586.8,708.3L588.3,710.8L589.9,713.2L591.4,717.8L592.9,719.1L594.5,722.7L596.0,719.0L597.5,714.7L599.0,717.3L600.6,715.8L602.1,718.9L603.6,719.8L605.1,718.9L606.7,716.9L608.2,718.6L609.7,709.5L611.3,713.1L612.8,714.6L614.3,716.8L615.8,720.7L617.4,720.0L618.9,719.1L620.4,725.9L621.9,724.9L623.5,727.3L625.0,719.8"/>
<path d="M69.0,723.5L70.5,724.5L72.1,723.2L73.6,730.0L75.1,732.6L76.6,734.9L78.2,739.0L79.7,739.4L81.2,738.7L82.7,737.6L84.3,736.5L85.8,733.3L87.3,739.3L88.9,736.2L90.4,737.5L91.9,733.7L93.4,734.3L95.0,733.0L96.5,723.8L98.0,723.2L99.5,720.4L101.1,720.1L102.6,719.7L104.1,724.4L105.7,726.1L107.2,728.1L108.7,734.4L110.2,739.4L111.8,742.7L113.3,735.8L114.8,739.1L116.4,732.7L117.9,734.9L119.4,731.4L120.9,734.9L122.5,729.9L124.0,730.5L125.5,736.9L127.0,742.7L128.6,735.7L130.1,737.6L131.6,725.9L133.2,717.3L134.7,712.9L136.2,709.6L137.7,703.7L139.3,702.8L140.8,694.6L142.3,700.3L143.8,704.4L145.4,700.5L146.9,702.0L148.4,700.5L150.0,694.9L151.5,690.0L153.0,686.4L154.5,682.2L156.1,682.6L157.6,677.0L159.1,681.1L160.6,673.6L162.2,674.5L163.7,679.9L165.2,674.2L166.8,671.3L168.3,664.6L169.8,660.0L171.3,647.8L172.9,638.7L174.4,637.8L175.9,640.0L177.5,637.7L179.0,634.6L180.5,629.3L182.0,623.2L183.6,622.9L185.1,615.5L186.6,608.3L188.1,606.6L189.7,603.3L191.2,613.4L192.7,608.0L194.3,604.7L195.8,603.7L197.3,599.0L198.8,598.1L200.4,596.6L201.9,594.7L203.4,592.2L204.9,590.8L206.5,593.2L208.0,585.8L209.5,583.2L211.1,587.9L212.6,589.8L214.1,586.1L215.6,575.7L217.2,572.2L218.7,564.9L220.2,556.2L221.7,543.7L223.3,531.0L224.8,527.7L226.3,534.8L227.9,528.2L229.4,523.3L230.9,519.8L232.4,518.2L234.0,515.1L235.5,509.0L237.0,503.4L238.5,499.4L240.1,500.2L241.6,493.8L243.1,493.9L244.7,493.5L246.2,493.2L247.7,492.2L249.2,488.5L250.8,486.1L252.3,481.5L253.8,468.9L255.4,464.3L256.9,464.8L258.4,462.1L259.9,455.2L261.5,449.5L263.0,441.6L264.5,434.5L266.0,432.8L267.6,432.6L269.1,429.1L270.6,425.8L272.2,415.5L273.7,421.9L275.2,411.3L276.7,410.1L278.3,409.2L279.8,410.3L281.3,409.0L282.8,397.0L284.4,391.2L285.9,387.0L287.4,384.7L289.0,377.0L290.5,381.3L292.0,374.9L293.5,377.2L295.1,380.2L296.6,377.2L298.1,369.2L299.6,363.2L301.2,359.6L302.7,362.8L304.2,358.1L305.8,358.4L307.3,354.4L308.8,359.7L310.3,354.7L311.9,356.3L313.4,357.7L314.9,356.3L316.5,353.7L318.0,351.7L319.5,353.6L321.0,357.7L322.6,359.2L324.1,359.3L325.6,354.4L327.1,354.7L328.7,350.8L330.2,351.7L331.7,336.8L333.3,335.2L334.8,335.4L336.3,329.7L337.8,319.9L339.4,318.2L340.9,307.6L342.4,305.2L343.9,312.0L345.5,309.8L347.0,318.0L348.5,323.8L350.1,318.1L351.6,313.2L353.1,316.0L354.6,316.1L356.2,319.6L357.7,319.9L359.2,319.2L360.7,315.1L362.3,320.1L363.8,317.5L365.3,318.8L366.9,325.2L368.4,320.2L369.9,327.9L371.4,329.0L373.0,329.6L374.5,330.0L376.0,333.9L377.5,334.8L379.1,339.5L380.6,340.3L382.1,333.7L383.7,332.8L385.2,333.7L386.7,334.7L388.2,332.4L389.8,325.7L391.3,319.2L392.8,317.3L394.4,327.5L395.9,325.4L397.4,322.3L398.9,322.5L400.5,326.5L402.0,323.6L403.5,315.7L405.0,313.4L406.6,312.5L408.1,315.8L409.6,313.9L411.2,316.1L412.7,311.9L414.2,313.0L415.7,322.8L417.3,325.8L418.8,329.9L420.3,328.2L421.8,329.5L423.4,334.0L424.9,337.1L426.4,342.4L428.0,346.4L429.5,348.4L431.0,338.4L432.5,346.4L434.1,357.0L435.6,359.5L437.1,361.0L438.6,365.8L440.2,368.2L441.7,364.2L443.2,364.1L444.8,368.5L446.3,373.5L447.8,372.6L449.3,372.2L450.9,374.9L452.4,381.1L453.9,390.8L455.5,397.1L457.0,400.9L458.5,401.6L460.0,410.1L461.6,410.5L463.1,419.9L464.6,425.4L466.1,425.6L467.7,422.9L469.2,431.2L470.7,429.5L472.3,434.5L473.8,426.3L475.3,433.1L476.8,426.4L478.4,430.4L479.9,434.0L481.4,442.0L482.9,444.4L484.5,449.2L486.0,446.1L487.5,448.9L489.1,453.2L490.6,454.5L492.1,456.0L493.6,457.9L495.2,466.9L496.7,472.8L498.2,469.0L499.7,475.6L501.3,475.1L502.8,472.9L504.3,483.3L505.9,492.6L507.4,495.8L508.9,503.0L510.4,512.1L512.0,519.3L513.5,522.6L515.0,527.9L516.5,530.8L518.1,540.0L519.6,540.1L521.1,552.6L522.7,557.2L524.2,562.7L525.7,567.0L527.2,567.1L528.8,569.6L530.3,580.6L531.8,585.4L533.4,591.8L534.9,593.6L536.4,606.5L537.9,610.9L539.5,608.6L541.0,615.7L542.5,616.8L544.0,622.7L545.6,630.3L547.1,629.2L548.6,627.1L550.2,630.6L551.7,642.4L553.2,644.9L554.7,652.2L556.3,660.5L557.8,661.8L559.3,664.2L560.8,664.7L562.4,669.7L563.9,674.0L565.4,674.4L567.0,681.3L568.5,681.6L570.0,680.6L571.5,678.5L573.1,681.1L574.6,689.4L576.1,692.0L577.6,690.4L579.2,689.2L580.7,686.3L582.2,685.2L583.8,692.2L585.3,693.6L586.8,697.3L588.3,702.3L589.9,702.3L591.4,702.7L592.9,710.1L594.5,714.0L596.0,706.2L597.5,709.1L599.0,706.6L600.6,706.4L602.1,706.0L603.6,702.9L605.1,702.3L606.7,710.5L608.2,712.4L609.7,710.5L611.3,716.1L612.8,712.0L614.3,713.3L615.8,719.4L617.4,717.6L618.9,719.7L620.4,720.3L621.9,726.0L623.5,732.8L625.0,733.8"/>
<path d="M69.0,735.2L70.5,734.5L72.1,739.7L73.6,741.7L75.1,747.6L76.6,745.0L78.2,743.2L79.7,743.0L81.2,747.9L82.7,753.6L84.3,756.6L85.8,766.2L87.3,767.1L88.9,763.3L90.4,766.7L91.9,772.4L93.4,768.7L95.0,766.8L96.5,767.4L98.0,779.2L99.5,773.7L101.1,772.7L102.6,776.6L104.1,775.1L105.7,765.5L107.2,764.7L108.7,763.3L110.2,762.9L111.8,758.9L113.3,753.3L114.8,762.6L116.4,759.9L117.9,764.8L119.4,763.3L120.9,775.8L122.5,780.4L124.0,777.1L125.5,777.1L127.0,781.0L128.6,781.8L130.1,779.8L131.6,778.1L133.2,775.9L134.7,775.8L136.2,773.5L137.7,773.2L139.3,771.5L140.8,763.6L142.3,756.2L143.8,754.0L145.4,745.2L146.9,748.5L148.4,752.4L150.0,744.3L151.5,745.2L153.0,741.0L154.5,741.9L156.1,746.6L157.6,734.9L159.1,732.9L160.6,726.1L162.2,721.7L163.7,726.1L165.2,721.5L166.8,712.8L168.3,702.5L169.8,703.8L171.3,703.7L172.9,696.8L174.4,692.3L175.9,683.1L177.5,670.8L179.0,656.6L180.5,657.8L182.0,656.1L183.6,650.4L185.1,648.1L186.6,649.4L188.1,646.6L189.7,648.8L191.2,648.4L192.7,656.4L194.3,645.8L195.8,639.7L197.3,640.6L198.8,630.7L200.4,629.2L201.9,625.0L203.4,615.3L204.9,613.5L206.5,611.6L208.0,604.5L209.5,595.3L211.1,590.0L212.6,586.8L214.1,586.0L215.6,577.0L217.2,578.0L218.7,576.0L220.2,568.4L221.7,561.0L223.3,563.8L224.8,561.9L226.3,558.3L227.9,558.4L229.4,550.2L230.9,542.2L232.4,538.6L234.0,533.4L235.5,531.2L237.0,527.7L238.5,521.6L240.1,512.9L241.6,510.8L243.1,520.9L244.7,511.6L246.2,513.7L247.7,509.7L249.2,503.4L250.8,493.7L252.3,491.7L253.8,488.2L255.4,486.7L256.9,481.6L258.4,486.5L259.9,476.1L261.5,473.1L263.0,476.5L264.5,473.9L266.0,477.5L267.6,471.1L269.1,465.4L270.6,464.0L272.2,455.3L273.7,452.3L275.2,447.6L276.7,441.7L278.3,438.0L279.8,437.9L281.3,432.7L282.8,430.3L284.4,427.3L285.9,420.2L287.4,422.5L289.0,425.3L290.5,419.0L292.0,417.7L293.5,411.0L295.1,402.0L296.6,402.9L298.1,398.1L299.6,396.8L301.2,391.4L302.7,392.3L304.2,390.2L305.8,385.4L307.3,385.5L308.8,394.1L310.3,388.6L311.9,390.3L313.4,394.6L314.9,388.4L316.5,387.7L318.0,369.6L319.5,369.8L321.0,369.1L322.6,371.4L324.1,372.2L325.6,376.7L327.1,376.3L328.7,375.4L330.2,369.2L331.7,363.1L333.3,358.7L334.8,354.0L336.3,348.4L337.8,337.4L339.4,334.0L340.9,326.4L342.4,325.7L343.9,322.4L345.5,315.8L347.0,313.5L348.5,314.5L350.1,325.4L351.6,323.6L353.1,327.2L354.6,329.6L356.2,329.3L357.7,331.1L359.2,334.2L360.7,336.4L362.3,328.8L363.8,333.8L365.3,330.6L366.9,323.2L368.4,319.8L369.9,322.7L371.4,323.8L373.0,321.6L374.5,327.1L376.0,329.5L377.5,322.9L379.1,320.4L380.6,323.3L382.1,322.0L383.7,320.6L385.2,321.5L386.7,324.2L388.2,319.7L389.8,313.1L391.3,320.3L392.8,318.8L394.4,317.5L395.9,323.7L397.4,320.6L398.9,315.2L400.5,311.6L402.0,316.2L403.5,319.8L405.0,313.8L406.6,310.6L408.1,316.2L409.6,325.4L411.2,325.1L412.7,331.7L414.2,329.2L415.7,324.7L417.3,324.6L418.8,332.8L420.3,337.9L421.8,344.9L423.4,345.0L424.9,357.8L426.4,363.7L428.0,380.7L429.5,383.2L431.0,376.9L432.5,378.9L434.1,379.5L435.6,381.9L437.1,384.6L438.6,393.3L440.2,391.3L441.7,390.3L443.2,392.1L444.8,391.1L446.3,390.9L447.8,394.7L449.3,402.3L450.9,402.8L452.4,406.6L453.9,408.2L455.5,414.2L457.0,416.4L458.5,419.7L460.0,427.6L461.6,430.8L463.1,432.2L464.6,429.6L466.1,436.7L467.7,442.1L469.2,443.5L470.7,445.0L472.3,447.6L473.8,450.5L475.3,447.0L476.8,455.4L478.4,461.1L479.9,469.6L481.4,476.0L482.9,477.4L484.5,479.2L486.0,485.8L487.5,495.0L489.1,497.5L490.6,498.9L492.1,504.1L493.6,506.0L495.2,510.6L496.7,512.6L498.2,513.5L499.7,522.3L501.3,520.9L502.8,525.8L504.3,526.2L505.9,530.9L507.4,531.2L508.9,538.6L510.4,541.0L512.0,546.0L513.5,543.1L515.0,542.9L516.5,549.5L518.1,555.0L519.6,559.1L521.1,573.4L522.7,576.7L524.2,580.5L525.7,576.0L527.2,579.4L528.8,580.0L530.3,579.6L531.8,578.1L533.4,583.9L534.9,583.5L536.4,598.6L537.9,604.6L539.5,609.3L541.0,607.6L542.5,614.5L544.0,623.6L545.6,624.5L547.1,628.0L548.6,628.5L550.2,637.1L551.7,636.2L553.2,637.2L554.7,634.7L556.3,639.8L557.8,650.5L559.3,649.4L560.8,655.6L562.4,659.2L563.9,661.5L565.4,668.4L567.0,676.3L568.5,681.2L570.0,684.7L571.5,696.2L573.1,698.2L574.6,702.5L576.1,707.6L577.6,706.8L579.2,703.1L580.7,702.8L582.2,702.2L583.8,696.9L585.3,695.3L586.8,688.7L588.3,693.5L589.9,688.0L591.4,690.2L592.9,690.8L594.5,695.9L596.0,701.7L597.5,708.9L599.0,712.1L600.6,706.3L602.1,711.3L603.6,716.0L605.1,715.3L606.7,719.0L608.2,731.0L609.7,733.7L611.3,730.2L612.8,731.3L614.3,725.9L615.8,734.6L617.4,726.6L618.9,724.4L620.4,730.0L621.9,730.3L623.5,725.9L625.0,730.9"/>
<path d="M69.0,740.0L70.5,752.4L72.1,756.3L73.6,762.8L75.1,765.2L76.6,769.2L78.2,765.8L79.7,770.4L81.2,779.3L82.7,783.1L84.3,783.3L85.8,783.8L87.3,792.0L88.9,784.5L90.4,776.0L91.9,773.6L93.4,778.2L95.0,779.1L96.5,775.6L98.0,776.6L99.5,778.2L101.1,782.6L102.6,777.5L104.1,776.7L105.7,775.5L107.2,776.7L108.7,774.8L110.2,773.0L111.8,769.9L113.3,763.6L114.8,755.4L116.4,755.7L117.9,762.5L119.4,760.8L120.9,762.4L122.5,759.6L124.0,771.9L125.5,774.4L127.0,767.3L128.6,767.1L130.1,759.9L131.6,759.5L133.2,754.2L134.7,756.0L136.2,752.9L137.7,748.8L139.3,743.0L140.8,736.8L142.3,733.5L143.8,728.8L145.4,728.5L146.9,736.0L148.4,739.3L150.0,745.3L151.5,741.8L153.0,734.8L154.5,725.5L156.1,732.4L157.6,730.9L159.1,727.8L160.6,723.3L162.2,715.4L163.7,713.0L165.2,704.6L166.8,700.9L168.3,694.9L169.8,697.2L171.3,690.3L172.9,684.9L174.4,675.7L175.9,670.8L177.5,659.0L179.0,646.5L180.5,641.6L182.0,633.9L183.6,629.1L185.1,627.9L186.6,626.8L188.1,627.5L189.7,624.1L191.2,624.3L192.7,623.1L194.3,626.5L195.8,624.2L197.3,620.5L198.8,620.7L200.4,618.3L201.9,625.1L203.4,618.6L204.9,617.1L206.5,616.6L208.0,615.1L209.5,613.1L211.1,612.5L212.6,606.1L214.1,598.9L215.6,588.9L217.2,583.8L218.7,586.8L220.2,572.1L221.7,573.0L223.3,574.3L224.8,570.4L226.3,573.8L227.9,572.5L229.4,571.9L230.9,557.8L232.4,545.5L234.0,545.6L235.5,537.1L237.0,536.0L238.5,530.5L240.1,527.4L241.6,525.4L243.1,521.2L244.7,512.0L246.2,510.3L247.7,501.9L249.2,502.5L250.8,494.9L252.3,493.1L253.8,489.5L255.4,486.6L256.9,479.5L258.4,474.0L259.9,470.5L261.5,467.7L263.0,457.4L264.5,450.1L266.0,449.5L267.6,445.5L269.1,447.5L270.6,449.2L272.2,438.0L273.7,437.2L275.2,434.6L276.7,433.4L278.3,433.8L279.8,437.6L281.3,427.2L282.8,421.7L284.4,423.5L285.9,421.0L287.4,416.0L289.0,414.4L290.5,411.8L292.0,406.1L293.5,410.0L295.1,405.7L296.6,405.9L298.1,396.3L299.6,388.1L301.2,380.5L302.7,375.6L304.2,374.2L305.8,371.4L307.3,364.5L308.8,358.3L310.3,355.6L311.9,353.6L313.4,352.1L314.9,351.2L316.5,350.2L318.0,344.2L319.5,338.6L321.0,342.9L322.6,335.4L324.1,336.4L325.6,333.3L327.1,326.4L328.7,320.3L330.2,320.2L331.7,324.7L333.3,320.9L334.8,322.6L336.3,317.6L337.8,321.2L339.4,313.8L340.9,315.9L342.4,313.0L343.9,309.3L345.5,310.3L347.0,303.3L348.5,299.3L350.1,297.6L351.6,306.2L353.1,305.7L354.6,314.1L356.2,319.7L357.7,317.4L359.2,318.7L360.7,327.8L362.3,322.6L363.8,326.0L365.3,322.9L366.9,327.3L368.4,330.8L369.9,333.7L371.4,334.1L373.0,333.7L374.5,326.3L376.0,329.8L377.5,332.0L379.1,332.3L380.6,326.0L382.1,318.1L383.7,320.7L385.2,317.1L386.7,316.2L388.2,320.2L389.8,314.9L391.3,315.9L392.8,313.8L394.4,312.1L395.9,313.2L397.4,309.5L398.9,305.3L400.5,304.0L402.0,309.1L403.5,309.2L405.0,313.8L406.6,311.7L408.1,304.9L409.6,309.0L411.2,317.2L412.7,321.5L414.2,321.2L415.7,320.1L417.3,329.4L418.8,335.4L420.3,333.2L421.8,328.3L423.4,342.4L424.9,346.9L426.4,351.1L428.0,355.7L429.5,358.6L431.0,362.7L432.5,366.8L434.1,363.6L435.6,365.6L437.1,367.1L438.6,372.1L440.2,377.8L441.7,377.2L443.2,377.2L444.8,379.5L446.3,389.1L447.8,393.1L449.3,388.6L450.9,395.2L452.4,393.0L453.9,399.9L455.5,400.4L457.0,395.7L458.5,393.5L460.0,396.0L461.6,402.2L463.1,410.9L464.6,404.0L466.1,407.8L467.7,414.8L469.2,419.1L470.7,424.0L472.3,430.3L473.8,437.1L475.3,441.0L476.8,440.7L478.4,435.8L479.9,442.5L481.4,444.3L482.9,440.6L484.5,446.4L486.0,448.0L487.5,452.6L489.1,451.5L490.6,458.6L492.1,464.1L493.6,472.1L495.2,475.7L496.7,475.3L498.2,482.2L499.7,485.8L501.3,491.7L502.8,492.0L504.3,498.8L505.9,502.6L507.4,509.5L508.9,513.8L510.4,518.5L512.0,527.4L513.5,531.3L515.0,538.5L516.5,539.5L518.1,549.3L519.6,552.3L521.1,557.9L522.7,565.6L524.2,570.1L525.7,575.3L527.2,577.7L528.8,580.5L530.3,584.4L531.8,589.2L533.4,594.6L534.9,600.4L536.4,609.6L537.9,623.7L539.5,627.8L541.0,637.3L542.5,638.2L544.0,639.8L545.6,641.7L547.1,645.3L548.6,646.1L550.2,653.0L551.7,654.9L553.2,665.4L554.7,665.3L556.3,669.0L557.8,674.9L559.3,670.9L560.8,667.0L562.4,674.3L563.9,671.2L565.4,670.1L567.0,665.2L568.5,667.3L570.0,672.6L571.5,680.6L573.1,692.8L574.6,692.7L576.1,703.2L577.6,703.2L579.2,705.0L580.7,705.6L582.2,708.3L583.8,705.1L585.3,704.5L586.8,702.4L588.3,704.9L589.9,718.5L591.4,716.5L592.9,722.4L594.5,720.1L596.0,718.7L597.5,723.4L599.0,727.1L600.6,735.0L602.1,741.7L603.6,742.0L605.1,739.5L606.7,742.0L608.2,745.1L609.7,751.6L611.3,743.0L612.8,747.7L614.3,752.3L615.8,753.3L617.4,752.8L618.9,750.8L620.4,747.1L621.9,751.8L623.5,752.3L625.0,749.5"/>
<path d="M69.0,748.7L70.5,747.1L72.1,748.6L73.6,752.1L75.1,745.3L76.6,748.3L78.2,747.5L79.7,744.2L81.2,739.8L82.7,745.5L84.3,747.4L85.8,748.9L87.3,756.6L88.9,747.2L90.4,755.8L91.9,765.9L93.4,769.6L95.0,769.7L96.5,768.7L98.0,769.2L99.5,778.1L101.1,773.9L102.6,758.8L104.1,759.8L105.7,758.2L107.2,758.4L108.7,754.6L110.2,746.5L111.8,753.2L113.3,753.4L114.8,755.0L116.4,757.4L117.9,753.6L119.4,749.6L120.9,756.9L122.5,756.0L124.0,759.0L125.5,771.0L127.0,769.8L128.6,767.1L130.1,761.5L131.6,763.1L133.2,764.4L134.7,756.7L136.2,747.0L137.7,748.2L139.3,742.7L140.8,742.9L142.3,734.2L143.8,732.9L145.4,736.7L146.9,735.6L148.4,730.5L150.0,726.5L151.5,724.1L153.0,732.5L154.5,726.0L156.1,717.3L157.6,720.3L159.1,715.9L160.6,719.5L162.2,710.9L163.7,701.8L165.2,701.6L166.8,693.7L168.3,690.2L169.8,681.8L171.3,674.4L172.9,671.6L174.4,667.6L175.9,660.7L177.5,658.2L179.0,654.5L180.5,654.4L182.0,654.2L183.6,647.5L185.1,655.2L186.6,654.1L188.1,644.3L189.7,648.0L191.2,639.3L192.7,645.3L194.3,635.7L195.8,638.1L197.3,635.6L198.8,630.9L200.4,624.5L201.9,623.8L203.4,615.4L204.9,619.8L206.5,620.9L208.0,617.3L209.5,612.7L211.1,612.6L212.6,608.4L214.1,604.1L215.6,595.2L217.2,578.6L218.7,570.3L220.2,566.8L221.7,564.8L223.3,561.7L224.8,556.6L226.3,554.5L227.9,550.4L229.4,544.2L230.9,539.2L232.4,537.1L234.0,536.7L235.5,534.9L237.0,528.5L238.5,522.3L240.1,515.1L241.6,514.3L243.1,517.6L244.7,520.3L246.2,515.6L247.7,515.2L249.2,506.1L250.8,495.9L252.3,490.2L253.8,482.7L255.4,476.9L256.9,469.5L258.4,466.5L259.9,467.0L261.5,457.0L263.0,455.6L264.5,453.0L266.0,453.4L267.6,452.3L269.1,451.0L270.6,449.5L272.2,437.1L273.7,429.1L275.2,424.2L276.7,420.0L278.3,414.3L279.8,412.0L281.3,409.8L282.8,409.3L284.4,407.7L285.9,410.7L287.4,402.9L289.0,398.8L290.5,394.4L292.0,392.0L293.5,390.0L295.1,384.6L296.6,382.9L298.1,373.5L299.6,371.7L301.2,367.2L302.7,362.5L304.2,353.6L305.8,350.9L307.3,353.1L308.8,350.4L310.3,349.1L311.9,344.7L313.4,343.0L314.9,341.0L316.5,343.1L318.0,347.0L319.5,349.5L321.0,345.7L322.6,338.7L324.1,338.8L325.6,346.3L327.1,349.6L328.7,346.1L330.2,349.3L331.7,351.3L333.3,352.8L334.8,344.1L336.3,341.8L337.8,340.5L339.4,346.4L340.9,340.8L342.4,336.4L343.9,336.3L345.5,334.4L347.0,336.2L348.5,330.6L350.1,327.4L351.6,327.6L353.1,327.1L354.6,327.5L356.2,325.5L357.7,316.1L359.2,316.9L360.7,319.1L362.3,317.1L363.8,320.9L365.3,317.0L366.9,320.5L368.4,317.5L369.9,318.5L371.4,319.3L373.0,321.2L374.5,314.6L376.0,314.8L377.5,309.1L379.1,315.5L380.6,320.6L382.1,320.7L383.7,322.1L385.2,320.6L386.7,320.0L388.2,325.8L389.8,326.8L391.3,332.0L392.8,338.7L394.4,331.3L395.9,331.7L397.4,327.9L398.9,329.9L400.5,318.1L402.0,322.4L403.5,318.0L405.0,318.5L406.6,321.2L408.1,323.8L409.6,327.2L411.2,332.0L412.7,334.4L414.2,333.2L415.7,335.7L417.3,334.7L418.8,338.3L420.3,341.8L421.8,347.8L423.4,354.9L424.9,364.5L426.4,361.3L428.0,365.4L429.5,371.2L431.0,370.5L432.5,375.7L434.1,369.8L435.6,374.5L437.1,375.4L438.6,372.7L440.2,376.8L441.7,387.9L443.2,390.3L444.8,400.9L446.3,408.9L447.8,410.0L449.3,409.3L450.9,411.1L452.4,418.8L453.9,429.5L455.5,434.8L457.0,431.7L458.5,437.7L460.0,430.3L461.6,432.5L463.1,434.6L464.6,440.7L466.1,438.3L467.7,441.5L469.2,446.0L470.7,448.6L472.3,447.2L473.8,449.4L475.3,454.2L476.8,453.4L478.4,454.3L479.9,464.9L481.4,465.6L482.9,470.9L484.5,473.6L486.0,479.3L487.5,482.8L489.1,483.2L490.6,491.6L492.1,498.2L493.6,503.4L495.2,504.4L496.7,506.1L498.2,500.0L499.7,508.9L501.3,512.1L502.8,511.5L504.3,516.1L505.9,522.3L507.4,527.1L508.9,536.4L510.4,543.0L512.0,554.9L513.5,556.1L515.0,549.1L516.5,557.8L518.1,554.7L519.6,564.2L521.1,569.8L522.7,570.4L524.2,577.0L525.7,575.4L527.2,582.5L528.8,589.8L530.3,589.5L531.8,588.9L533.4,599.0L534.9,606.4L536.4,605.7L537.9,613.9L539.5,621.4L541.0,626.5L542.5,633.7L544.0,634.5L545.6,628.9L547.1,636.6L548.6,638.5L550.2,653.0L551.7,653.3L553.2,659.0L554.7,660.9L556.3,659.9L557.8,662.6L559.3,676.7L560.8,678.9L562.4,674.5L563.9,684.7L565.4,690.1L567.0,690.1L568.5,693.9L570.0,696.8L571.5,697.0L573.1,698.6L574.6,695.6L576.1,700.1L577.6,707.4L579.2,706.7L580.7,715.2L582.2,722.1L583.8,729.8L585.3,738.3L586.8,739.7L588.3,738.8L589.9,745.2L591.4,746.5L592.9,736.3L594.5,735.7L596.0,735.9L597.5,735.8L599.0,737.8L600.6,745.7L602.1,749.9L603.6,747.5L605.1,745.0L606.7,746.2L608.2,750.1L609.7,760.8L611.3,757.6L612.8,757.1L614.3,760.5L615.8,757.4L617.4,755.9L618.9,748.8L620.4,741.5L621.9,746.0L623.5,740.7L625.0,745.3"/>
<path d="M69.0,758.6L70.5,753.2L72.1,755.5L73.6,758.2L75.1,750.6L76.6,754.9L78.2,755.7L79.7,759.1L81.2,758.1L82.7,761.0L84.3,757.6L85.8,752.9L87.3,759.8L88.9,763.8L90.4,768.3L91.9,774.9L93.4,768.5L95.0,765.5L96.5,762.8L98.0,765.5L99.5,769.9L101.1,771.7L102.6,774.1L104.1,779.9L105.7,769.5L107.2,768.5L108.7,762.3L110.2,762.7L111.8,759.0L113.3,767.2L114.8,767.0L116.4,763.9L117.9,762.5L119.4,761.0L120.9,761.2L122.5,764.7L124.0,770.6L125.5,768.3L127.0,770.1L128.6,769.5L130.1,772.7L131.6,775.0L133.2,771.7L134.7,773.3L136.2,769.6L137.7,766.8L139.3,769.9L140.8,763.5L142.3,757.3L143.8,748.2L145.4,745.3L146.9,745.4L148.4,738.3L150.0,746.0L151.5,751.0L153.0,748.2L154.5,744.6L156.1,741.7L157.6,738.6L159.1,740.5L160.6,729.9L162.2,724.1L163.7,719.0L165.2,714.5L166.8,713.2L168.3,710.9L169.8,708.5L171.3,704.7L172.9,703.6L174.4,698.0L175.9,692.2L177.5,695.6L179.0,685.2L180.5,673.8L182.0,674.4L183.6,670.1L185.1,667.3L186.6,662.3L188.1,662.1L189.7,663.6L191.2,657.8L192.7,653.4L194.3,651.7L195.8,643.8L197.3,646.9L198.8,646.6L200.4,639.3L201.9,642.2L203.4,637.0L204.9,628.0L206.5,622.6L208.0,617.9L209.5,618.9L211.1,610.5L212.6,598.0L214.1,587.7L215.6,574.1L217.2,564.0L218.7,562.5L220.2,556.8L221.7,550.4L223.3,547.5L224.8,542.5L226.3,536.2L227.9,532.0L229.4,533.1L230.9,537.0L232.4,528.3L234.0,522.4L235.5,514.3L237.0,519.6L238.5,507.9L240.1,508.3L241.6,497.7L243.1,496.8L244.7,498.5L246.2,497.0L247.7,495.8L249.2,496.8L250.8,491.5L252.3,487.4L253.8,481.8L255.4,471.5L256.9,475.7L258.4,475.1L259.9,470.8L261.5,460.0L263.0,455.3L264.5,452.7L266.0,446.1L267.6,448.8L269.1,443.8L270.6,443.8L272.2,439.5L273.7,439.1L275.2,434.2L276.7,431.2L278.3,433.0L279.8,434.5L281.3,438.4L282.8,433.5L284.4,422.5L285.9,414.9L287.4,409.0L289.0,408.4L290.5,409.3L292.0,404.8L293.5,398.9L295.1,398.1L296.6,395.6L298.1,396.0L299.6,399.0L301.2,395.7L302.7,388.6L304.2,384.9L305.8,371.9L307.3,371.2L308.8,382.1L310.3,385.5L311.9,383.4L313.4,388.2L314.9,379.5L316.5,378.1L318.0,374.3L319.5,366.7L321.0,360.5L322.6,365.0L324.1,365.1L325.6,363.5L327.1,361.2L328.7,362.8L330.2,358.2L331.7,349.4L333.3,348.2L334.8,344.1L336.3,340.8L337.8,331.1L339.4,329.8L340.9,327.7L342.4,321.5L343.9,328.3L345.5,326.2L347.0,327.2L348.5,329.8L350.1,333.6L351.6,336.4L353.1,331.2L354.6,331.0L356.2,328.7L357.7,325.5L359.2,330.0L360.7,336.5L362.3,333.3L363.8,339.2L365.3,341.3L366.9,337.7L368.4,351.0L369.9,347.9L371.4,348.5L373.0,347.8L374.5,347.1L376.0,350.5L377.5,350.0L379.1,347.5L380.6,350.9L382.1,351.9L383.7,359.7L385.2,358.1L386.7,350.4L388.2,346.8L389.8,348.5L391.3,342.9L392.8,336.4L394.4,339.9L395.9,331.8L397.4,325.5L398.9,324.8L400.5,328.4L402.0,331.5L403.5,328.1L405.0,332.4L406.6,329.2L408.1,333.8L409.6,324.5L411.2,325.6L412.7,331.9L414.2,335.3L415.7,339.5L417.3,330.8L418.8,343.1L420.3,351.9L421.8,364.9L423.4,366.1L424.9,373.9L426.4,379.6L428.0,379.0L429.5,384.8L431.0,385.3L432.5,392.4L434.1,395.1L435.6,393.6L437.1,392.8L438.6,393.0L440.2,396.8L441.7,397.6L443.2,398.2L444.8,404.6L446.3,399.5L447.8,398.1L449.3,394.8L450.9,404.3L452.4,415.1L453.9,422.6L455.5,429.2L457.0,428.0L458.5,430.8L460.0,437.4L461.6,440.9L463.1,441.2L464.6,445.5L466.1,448.2L467.7,452.1L469.2,456.0L470.7,457.6L472.3,459.9L473.8,466.2L475.3,462.6L476.8,465.5L478.4,461.4L479.9,465.0L481.4,471.9L482.9,475.9L484.5,480.9L486.0,479.9L487.5,481.1L489.1,486.9L490.6,492.4L492.1,495.0L493.6,501.9L495.2,503.0L496.7,505.2L498.2,511.3L499.7,520.0L501.3,524.9L502.8,535.0L504.3,536.4L505.9,537.5L507.4,549.8L508.9,547.0L510.4,547.6L512.0,551.4L513.5,551.8L515.0,565.0L516.5,562.7L518.1,574.2L519.6,573.1L521.1,568.1L522.7,570.1L524.2,577.6L525.7,584.5L527.2,584.2L528.8,593.8L530.3,595.1L531.8,602.1L533.4,620.0L534.9,616.6L536.4,623.0L537.9,628.7L539.5,626.4L541.0,630.0L542.5,641.1L544.0,647.3L545.6,651.9L547.1,650.6L548.6,653.6L550.2,653.6L551.7,660.8L553.2,663.1L554.7,662.6L556.3,665.2L557.8,673.4L559.3,669.7L560.8,679.3L562.4,687.0L563.9,688.1L565.4,693.5L567.0,691.4L568.5,696.5L570.0,701.8L571.5,702.3L573.1,705.2L574.6,711.2L576.1,720.4L577.6,725.7L579.2,731.6L580.7,735.3L582.2,739.0L583.8,743.7L585.3,750.9L586.8,751.4L588.3,749.7L589.9,747.7L591.4,748.3L592.9,742.8L594.5,740.7L596.0,745.8L597.5,755.6L599.0,762.0L600.6,760.0L602.1,765.4L603.6,766.9L605.1,765.0L606.7,770.4L608.2,773.7L609.7,776.5L611.3,776.4L612.8,777.7L614.3,774.0L615.8,771.3L617.4,764.1L618.9,768.9L620.4,769.5L621.9,771.9L623.5,769.0L625.0,768.7"/>
<path d="M69.0,754.6L70.5,755.6L72.1,767.0L73.6,765.9L75.1,756.1L76.6,752.4L78.2,753.1L79.7,750.8L81.2,749.2L82.7,748.8L84.3,758.0L85.8,759.8L87.3,762.8L88.9,768.9L90.4,773.4L91.9,780.2L93.4,775.8L95.0,778.7L96.5,780.4L98.0,781.7L99.5,782.4L101.1,781.7L102.6,780.7L104.1,779.0L105.7,777.4L107.2,773.6L108.7,763.7L110.2,761.2L111.8,773.6L113.3,768.0L114.8,769.4L116.4,773.9L117.9,774.2L119.4,774.8L120.9,771.7L122.5,770.1L124.0,768.7L125.5,762.4L127.0,760.8L128.6,764.3L130.1,769.7L131.6,780.1L133.2,781.4L134.7,789.8L136.2,787.4L137.7,778.3L139.3,771.7L140.8,769.7L142.3,768.9L143.8,768.4L145.4,766.7L146.9,768.3L148.4,764.6L150.0,757.7L151.5,755.5L153.0,752.7L154.5,752.0L156.1,743.9L157.6,737.2L159.1,739.4L160.6,735.0L162.2,736.8L163.7,735.9L165.2,733.5L166.8,734.3L168.3,726.3L169.8,724.6L171.3,719.8L172.9,715.2L174.4,703.2L175.9,699.2L177.5,693.7L179.0,683.8L180.5,683.7L182.0,683.3L183.6,679.1L185.1,673.7L186.6,671.8L188.1,670.7L189.7,664.5L191.2,664.3L192.7,664.2L194.3,665.5L195.8,661.3L197.3,663.9L198.8,663.8L200.4,651.5L201.9,641.6L203.4,635.0L204.9,631.1L206.5,624.0L208.0,620.9L209.5,617.9L211.1,603.2L212.6,594.6L214.1,591.5L215.6,586.3L217.2,579.3L218.7,573.8L220.2,570.4L221.7,569.4L223.3,565.0L224.8,559.4L226.3,565.4L227.9,552.3L229.4,557.0L230.9,548.4L232.4,534.8L234.0,529.0L235.5,513.0L237.0,511.4L238.5,509.4L240.1,505.9L241.6,500.2L243.1,500.7L244.7,499.1L246.2,500.0L247.7,492.5L249.2,496.5L250.8,493.5L252.3,484.3L253.8,484.9L255.4,484.4L256.9,473.3L258.4,474.8L259.9,467.3L261.5,462.6L263.0,467.4L264.5,459.0L266.0,448.4L267.6,445.9L269.1,432.3L270.6,430.7L272.2,423.1L273.7,422.7L275.2,424.8L276.7,415.8L278.3,408.0L279.8,412.2L281.3,405.1L282.8,402.3L284.4,401.7L285.9,401.2L287.4,398.0L289.0,394.7L290.5,393.8L292.0,391.9L293.5,392.9L295.1,385.5L296.6,389.4L298.1,385.0L299.6,378.4L301.2,376.5L302.7,372.5L304.2,362.7L305.8,358.1L307.3,356.9L308.8,353.1L310.3,348.6L311.9,340.3L313.4,335.6L314.9,335.5L316.5,333.2L318.0,328.6L319.5,328.4L321.0,325.7L322.6,322.4L324.1,319.8L325.6,320.5L327.1,319.2L328.7,318.3L330.2,313.8L331.7,318.5L333.3,316.5L334.8,308.3L336.3,311.5L337.8,316.5L339.4,316.1L340.9,308.2L342.4,308.5L343.9,301.2L345.5,300.9L347.0,299.8L348.5,295.0L350.1,298.9L351.6,301.3L353.1,299.7L354.6,302.8L356.2,296.7L357.7,296.4L359.2,299.9L360.7,303.3L362.3,297.1L363.8,297.6L365.3,294.1L366.9,287.3L368.4,290.2L369.9,296.3L371.4,290.5L373.0,293.1L374.5,291.7L376.0,295.7L377.5,302.0L379.1,307.2L380.6,308.4L382.1,302.5L383.7,300.4L385.2,302.4L386.7,297.8L388.2,297.3L389.8,303.2L391.3,309.1L392.8,317.4L394.4,312.2L395.9,317.5L397.4,317.1L398.9,313.8L400.5,306.0L402.0,307.6L403.5,315.8L405.0,314.9L406.6,317.3L408.1,317.0L409.6,321.1L411.2,319.0L412.7,316.9L414.2,321.4L415.7,326.8L417.3,323.0L418.8,325.4L420.3,328.5L421.8,332.2L423.4,334.0L424.9,344.6L426.4,348.2L428.0,350.8L429.5,352.2L431.0,348.9L432.5,350.0L434.1,353.3L435.6,349.2L437.1,355.8L438.6,353.2L440.2,360.2L441.7,359.1L443.2,357.5L444.8,361.9L446.3,368.0L447.8,374.1L449.3,371.6L450.9,373.6L452.4,374.2L453.9,373.5L455.5,371.7L457.0,381.6L458.5,382.5L460.0,383.7L461.6,385.4L463.1,395.4L464.6,390.3L466.1,400.2L467.7,404.8L469.2,402.1L470.7,406.8L472.3,408.8L473.8,415.2L475.3,418.4L476.8,420.8L478.4,427.3L479.9,436.7L481.4,431.7L482.9,439.0L484.5,442.2L486.0,448.0L487.5,456.4L489.1,458.9L490.6,459.5L492.1,463.0L493.6,461.9L495.2,474.2L496.7,483.9L498.2,486.7L499.7,490.9L501.3,488.2L502.8,497.0L504.3,499.8L505.9,515.1L507.4,521.4L508.9,529.0L510.4,541.8L512.0,547.6L513.5,554.1L515.0,556.8L516.5,561.5L518.1,573.9L519.6,570.4L521.1,580.9L522.7,585.8L524.2,594.0L525.7,595.8L527.2,598.3L528.8,595.4L530.3,605.8L531.8,605.8L533.4,604.8L534.9,595.3L536.4,593.4L537.9,601.1L539.5,603.3L541.0,603.5L542.5,611.0L544.0,618.1L545.6,624.4L547.1,629.3L548.6,646.4L550.2,647.4L551.7,652.2L553.2,658.6L554.7,666.9L556.3,677.7L557.8,678.5L559.3,685.6L560.8,688.2L562.4,700.1L563.9,698.3L565.4,706.9L567.0,708.5L568.5,711.6L570.0,716.6L571.5,723.7L573.1,719.6L574.6,718.2L576.1,715.7L577.6,708.6L579.2,719.8L580.7,720.8L582.2,721.2L583.8,718.8L585.3,718.6L586.8,720.1L588.3,729.6L589.9,732.1L591.4,730.7L592.9,727.8L594.5,727.8L596.0,731.3L597.5,723.8L599.0,721.0L600.6,728.3L602.1,734.8L603.6,727.1L605.1,724.5L606.7,732.2L608.2,726.3L609.7,736.5L611.3,738.8L612.8,742.2L614.3,745.2L615.8,737.6L617.4,745.9L618.9,745.2L620.4,745.3L621.9,746.2L623.5,750.8L625.0,753.3"/>
<path d="M69.0,768.3L70.5,770.6L72.1,773.3L73.6,772.5L75.1,769.9L76.6,765.6L78.2,764.9L79.7,764.8L81.2,764.9L82.7,766.3L84.3,768.1L85.8,779.7L87.3,783.8L88.9,782.1L90.4,779.7L91.9,783.8L93.4,791.7L95.0,795.4L96.5,794.1L98.0,802.2L99.5,795.7L101.1,796.9L102.6,799.2L104.1,796.7L105.7,795.9L107.2,789.1L108.7,780.9L110.2,783.2L111.8,776.7L113.3,777.8L114.8,777.4L116.4,778.6L117.9,773.6L119.4,773.7L120.9,774.4L122.5,777.1L124.0,777.0L125.5,785.2L127.0,782.0L128.6,780.4L130.1,784.2L131.6,782.9L133.2,772.7L134.7,770.6L136.2,770.2L137.7,758.6L139.3,751.2L140.8,754.0L142.3,750.7L143.8,745.0L145.4,747.0L146.9,738.5L148.4,739.8L150.0,733.7L151.5,739.7L153.0,733.9L154.5,729.1L156.1,727.3L157.6,721.7L159.1,725.1L160.6,724.2L162.2,714.3L163.7,715.2L165.2,711.3L166.8,715.0L168.3,711.3L169.8,709.2L171.3,700.4L172.9,688.9L174.4,675.9L175.9,674.4L177.5,671.0L179.0,668.6L180.5,662.7L182.0,658.4L183.6,661.5L185.1,656.6L186.6,651.3L188.1,652.0L189.7,644.1L191.2,638.7L192.7,631.5L194.3,630.0L195.8,636.5L197.3,629.7L198.8,623.4L200.4,615.8L201.9,607.9L203.4,603.6L204.9,603.6L206.5,598.0L208.0,585.0L209.5,577.0L211.1,581.5L212.6,575.2L214.1,576.0L215.6,573.1L217.2,574.9L218.7,567.8L220.2,566.7L221.7,571.0L223.3,563.8L224.8,561.0L226.3,561.2L227.9,552.1L229.4,551.8L230.9,539.4L232.4,531.4L234.0,524.6L235.5,520.2L237.0,515.4L238.5,505.5L240.1,506.2L241.6,508.3L243.1,506.7L244.7,503.4L246.2,502.7L247.7,502.1L249.2,495.7L250.8,488.8L252.3,486.7L253.8,478.8L255.4,475.5L256.9,477.4L258.4,470.5L259.9,469.1L261.5,465.4L263.0,460.1L264.5,455.7L266.0,457.5L267.6,451.0L269.1,448.0L270.6,442.2L272.2,435.0L273.7,434.5L275.2,421.0L276.7,417.0L278.3,409.4L279.8,410.4L281.3,404.9L282.8,402.2L284.4,402.3L285.9,409.9L287.4,407.4L289.0,398.9L290.5,401.3L292.0,395.2L293.5,383.5L295.1,379.1L296.6,369.9L298.1,365.5L299.6,361.1L301.2,357.7L302.7,345.4L304.2,353.0L305.8,350.1L307.3,351.5L308.8,349.7L310.3,348.2L311.9,351.9L313.4,353.9L314.9,350.6L316.5,351.7L318.0,346.3L319.5,344.5L321.0,343.9L322.6,341.8L324.1,341.9L325.6,332.3L327.1,329.0L328.7,334.6L330.2,338.3L331.7,338.5L333.3,333.4L334.8,335.0L336.3,328.4L337.8,326.5L339.4,332.6L340.9,326.0L342.4,322.1L343.9,326.7L345.5,327.1L347.0,323.8L348.5,326.0L350.1,327.2L351.6,330.3L353.1,326.8L354.6,326.4L356.2,326.0L357.7,328.6L359.2,331.0L360.7,333.3L362.3,333.3L363.8,332.4L365.3,335.8L366.9,329.5L368.4,327.9L369.9,329.1L371.4,329.2L373.0,332.1L374.5,328.9L376.0,332.2L377.5,329.7L379.1,327.6L380.6,329.8L382.1,331.7L383.7,330.6L385.2,337.7L386.7,337.8L388.2,331.2L389.8,332.7L391.3,330.8L392.8,333.0L394.4,331.0L395.9,328.5L397.4,336.2L398.9,339.9L400.5,336.2L402.0,330.5L403.5,330.1L405.0,329.6L406.6,333.6L408.1,339.1L409.6,332.9L411.2,335.9L412.7,337.4L414.2,339.3L415.7,346.5L417.3,346.8L418.8,347.7L420.3,349.4L421.8,350.9L423.4,355.1L424.9,361.4L426.4,357.2L428.0,367.3L429.5,378.4L431.0,380.9L432.5,385.0L434.1,384.0L435.6,381.6L437.1,382.5L438.6,380.5L440.2,389.0L441.7,390.8L443.2,399.9L444.8,399.7L446.3,404.0L447.8,404.9L449.3,402.0L450.9,409.8L452.4,413.4L453.9,418.2L455.5,427.3L457.0,428.0L458.5,436.2L460.0,432.2L461.6,440.6L463.1,446.8L464.6,444.6L466.1,442.6L467.7,455.8L469.2,455.7L470.7,460.2L472.3,462.7L473.8,466.4L475.3,471.5L476.8,469.4L478.4,468.4L479.9,469.4L481.4,475.8L482.9,471.3L484.5,474.0L486.0,481.4L487.5,484.6L489.1,487.3L490.6,487.0L492.1,481.7L493.6,483.9L495.2,484.1L496.7,486.1L498.2,488.5L499.7,488.9L501.3,501.8L502.8,500.7L504.3,511.8L505.9,517.0L507.4,520.8L508.9,523.5L510.4,527.6L512.0,535.7L513.5,535.3L515.0,545.6L516.5,554.9L518.1,561.1L519.6,568.7L521.1,583.2L522.7,589.6L524.2,594.4L525.7,594.1L527.2,606.4L528.8,604.1L530.3,603.1L531.8,605.6L533.4,613.0L534.9,621.6L536.4,626.5L537.9,637.5L539.5,635.2L541.0,636.5L542.5,637.1L544.0,645.6L545.6,647.5L547.1,652.7L548.6,651.9L550.2,656.6L551.7,657.6L553.2,673.7L554.7,677.2L556.3,676.2L557.8,683.7L559.3,683.9L560.8,686.4L562.4,691.8L563.9,688.1L565.4,695.8L567.0,702.7L568.5,701.1L570.0,703.4L571.5,700.5L573.1,706.6L574.6,709.3L576.1,713.7L577.6,715.3L579.2,717.4L580.7,715.5L582.2,715.8L583.8,716.8L585.3,715.4L586.8,718.8L588.3,713.2L589.9,710.7L591.4,716.1L592.9,725.1L594.5,723.0L596.0,725.6L597.5,734.7L599.0,731.5L600.6,733.5L602.1,730.5L603.6,736.6L605.1,736.7L606.7,739.5L608.2,739.4L609.7,746.2L611.3,738.9L612.8,737.3L614.3,738.8L615.8,736.8L617.4,737.7L618.9,739.8L620.4,742.2L621.9,741.6L623.5,748.3L625.0,747.5"/>
<path d="M69.0,776.5L70.5,777.9L72.1,784.6L73.6,787.5L75.1,782.6L76.6,781.6L78.2,784.8L79.7,780.8L81.2,780.1L82.7,781.6L84.3,778.2L85.8,778.0L87.3,780.5L88.9,782.0L90.4,779.3L91.9,778.3L93.4,781.2L95.0,787.9L96.5,787.3L98.0,781.3L99.5,775.8L101.1,777.6L102.6,778.7L104.1,771.1L105.7,777.9L107.2,787.5L108.7,783.6L110.2,783.5L111.8,788.2L113.3,786.4L114.8,787.6L116.4,791.0L117.9,790.0L119.4,788.1L120.9,783.9L122.5,783.5L124.0,788.6L125.5,776.7L127.0,767.5L128.6,768.0L130.1,762.9L131.6,762.7L133.2,765.2L134.7,770.9L136.2,768.3L137.7,763.8L139.3,763.3L140.8,759.0L142.3,752.8L143.8,745.9L145.4,734.6L146.9,730.6L148.4,734.6L150.0,739.3L151.5,733.4L153.0,730.6L154.5,728.2L156.1,725.9L157.6,730.5L159.1,730.5L160.6,725.2L162.2,736.1L163.7,732.5L165.2,722.9L166.8,717.9L168.3,715.9L169.8,715.4L171.3,712.0L172.9,705.0L174.4,705.7L175.9,701.8L177.5,697.1L179.0,689.8L180.5,691.4L182.0,691.2L183.6,683.1L185.1,684.1L186.6,679.3L188.1,677.2L189.7,679.6L191.2,674.5L192.7,672.9L194.3,676.0L195.8,674.8L197.3,667.3L198.8,662.9L200.4,660.8L201.9,652.3L203.4,652.0L204.9,652.1L206.5,645.4L208.0,637.7L209.5,633.0L211.1,638.4L212.6,632.7L214.1,629.0L215.6,623.7L217.2,618.8L218.7,604.6L220.2,602.7L221.7,595.3L223.3,588.6L224.8,588.0L226.3,581.5L227.9,575.4L229.4,568.9L230.9,570.2L232.4,570.3L234.0,566.9L235.5,569.0L237.0,560.9L238.5,558.9L240.1,552.8L241.6,539.9L243.1,539.0L244.7,535.8L246.2,526.0L247.7,520.9L249.2,519.3L250.8,514.2L252.3,513.6L253.8,501.8L255.4,504.3L256.9,497.7L258.4,492.5L259.9,486.1L261.5,480.1L263.0,468.7L264.5,460.3L266.0,459.5L267.6,460.2L269.1,451.8L270.6,452.2L272.2,446.6L273.7,451.3L275.2,449.1L276.7,447.0L278.3,445.6L279.8,440.7L281.3,436.5L282.8,426.3L284.4,426.0L285.9,427.4L287.4,427.7L289.0,418.8L290.5,410.9L292.0,412.0L293.5,410.4L295.1,398.2L296.6,397.8L298.1,388.6L299.6,382.2L301.2,380.7L302.7,364.1L304.2,364.2L305.8,357.9L307.3,356.1L308.8,353.1L310.3,351.4L311.9,350.9L313.4,349.9L314.9,351.8L316.5,347.0L318.0,347.0L319.5,346.9L321.0,344.4L322.6,347.1L324.1,349.8L325.6,345.8L327.1,355.0L328.7,362.0L330.2,362.1L331.7,357.0L333.3,360.5L334.8,360.7L336.3,354.3L337.8,348.3L339.4,347.3L340.9,346.1L342.4,341.7L343.9,329.9L345.5,331.6L347.0,332.1L348.5,332.6L350.1,332.5L351.6,336.3L353.1,338.6L354.6,339.0L356.2,335.8L357.7,328.7L359.2,323.1L360.7,333.1L362.3,331.0L363.8,328.9L365.3,337.9L366.9,342.3L368.4,337.1L369.9,328.9L371.4,323.4L373.0,323.6L374.5,328.6L376.0,330.8L377.5,329.4L379.1,332.2L380.6,323.7L382.1,322.0L383.7,327.2L385.2,338.1L386.7,335.9L388.2,333.1L389.8,335.2L391.3,334.0L392.8,337.5L394.4,341.0L395.9,345.3L397.4,350.1L398.9,350.7L400.5,344.9L402.0,342.0L403.5,341.9L405.0,339.1L406.6,341.5L408.1,343.6L409.6,344.5L411.2,345.2L412.7,349.2L414.2,346.0L415.7,343.5L417.3,345.4L418.8,344.3L420.3,345.6L421.8,340.4L423.4,344.3L424.9,347.3L426.4,354.1L428.0,358.8L429.5,367.7L431.0,365.3L432.5,371.1L434.1,375.0L435.6,373.2L437.1,378.2L438.6,377.9L440.2,374.8L441.7,378.3L443.2,380.4L444.8,391.7L446.3,398.0L447.8,396.6L449.3,399.0L450.9,401.6L452.4,400.3L453.9,398.3L455.5,395.2L457.0,404.0L458.5,404.6L460.0,414.9L461.6,416.7L463.1,423.5L464.6,428.3L466.1,437.5L467.7,436.1L469.2,438.9L470.7,436.5L472.3,441.5L473.8,449.2L475.3,458.0L476.8,460.4L478.4,463.2L479.9,463.3L481.4,460.1L482.9,465.7L484.5,464.9L486.0,467.5L487.5,467.5L489.1,469.4L490.6,475.3L492.1,475.1L493.6,478.6L495.2,491.1L496.7,503.4L498.2,514.5L499.7,521.8L501.3,527.1L502.8,537.7L504.3,541.7L505.9,546.5L507.4,554.8L508.9,559.3L510.4,564.6L512.0,565.4L513.5,574.7L515.0,575.9L516.5,577.8L518.1,582.7L519.6,583.2L521.1,586.7L522.7,587.3L524.2,592.3L525.7,594.5L527.2,595.3L528.8,598.2L530.3,595.0L531.8,604.0L533.4,612.6L534.9,614.2L536.4,627.9L537.9,634.6L539.5,631.7L541.0,635.9L542.5,641.0L544.0,643.1L545.6,648.6L547.1,651.1L548.6,656.6L550.2,655.0L551.7,654.0L553.2,656.6L554.7,656.1L556.3,663.5L557.8,676.6L559.3,673.4L560.8,677.4L562.4,676.9L563.9,676.4L565.4,677.1L567.0,679.2L568.5,677.7L570.0,685.3L571.5,697.0L573.1,693.7L574.6,695.9L576.1,696.3L577.6,689.3L579.2,683.3L580.7,695.1L582.2,700.7L583.8,710.0L585.3,715.3L586.8,721.4L588.3,726.5L589.9,723.9L591.4,728.5L592.9,733.2L594.5,732.1L596.0,731.0L597.5,726.9L599.0,737.8L600.6,731.4L602.1,733.6L603.6,733.2L605.1,733.7L606.7,739.3L608.2,740.9L609.7,745.3L611.3,744.9L612.8,747.7L614.3,741.9L615.8,739.4L617.4,727.0L618.9,734.2L620.4,738.3L621.9,731.8L623.5,733.7L625.0,736.0"/>
<path d="M69.0,639.7L70.5,646.5L72.1,647.3L73.6,647.9L75.1,646.5L76.6,641.5L78.2,636.5L79.7,634.8L81.2,635.6L82.7,641.2L84.3,639.8L85.8,642.5L87.3,650.4L88.9,657.3L90.4,660.5L91.9,662.8L93.4,653.0L95.0,650.9L96.5,651.6L98.0,651.1L99.5,653.4L101.1,656.7L102.6,658.3L104.1,654.3L105.7,652.6L107.2,649.5L108.7,653.3L110.2,653.5L111.8,656.4L113.3,654.7L114.8,648.5L116.4,646.2L117.9,641.0L119.4,634.7L120.9,628.3L122.5,631.7L124.0,630.1L125.5,625.2L127.0,622.1L128.6,621.0L130.1,619.4L131.6,617.3L133.2,614.5L134.7,616.6L136.2,614.3L137.7,620.1L139.3,615.1L140.8,603.1L142.3,598.5L143.8,599.1L145.4,598.6L146.9,599.4L148.4,600.2L150.0,603.8L151.5,597.9L153.0,598.0L154.5,594.4L156.1,589.4L157.6,591.1L159.1,592.3L160.6,582.7L162.2,582.6L163.7,582.1L165.2,573.8L166.8,567.8L168.3,563.9L169.8,560.1L171.3,560.5L172.9,561.2L174.4,552.8L175.9,540.4L177.5,535.5L179.0,535.2L180.5,534.7L182.0,537.7L183.6,539.6L185.1,540.4L186.6,533.1L188.1,535.3L189.7,529.3L191.2,532.8L192.7,533.2L194.3,532.0L195.8,530.8L197.3,528.1L198.8,522.8L200.4,513.7L201.9,513.1L203.4,511.3L204.9,509.5L206.5,504.3L208.0,503.0L209.5,496.0L211.1,487.7L212.6,488.2L214.1,483.5L215.6,477.8L217.2,473.4L218.7,476.4L220.2,474.5L221.7,469.7L223.3,463.0L224.8,457.2L226.3,454.3L227.9,447.0L229.4,444.4L230.9,442.0L232.4,436.5L234.0,434.4L235.5,430.4L237.0,429.8L238.5,433.8L240.1,437.6L241.6,430.2L243.1,426.4L244.7,425.3L246.2,421.0L247.7,413.2L249.2,408.8L250.8,403.8L252.3,398.2L253.8,396.8L255.4,393.8L256.9,388.0L258.4,390.8L259.9,386.8L261.5,389.4L263.0,384.5L264.5,381.8L266.0,376.9L267.6,372.8L269.1,366.5L270.6,359.6L272.2,354.2L273.7,354.5L275.2,354.9L276.7,354.8L278.3,347.4L279.8,348.8L281.3,346.4L282.8,340.0L284.4,336.2L285.9,333.0L287.4,331.1L289.0,322.7L290.5,316.0L292.0,314.8L293.5,313.0L295.1,307.0L296.6,303.3L298.1,302.0L299.6,298.5L301.2,294.1L302.7,287.1L304.2,282.5L305.8,282.3L307.3,281.0L308.8,280.3L310.3,276.3L311.9,269.8L313.4,267.5L314.9,265.8L316.5,264.6L318.0,266.4L319.5,268.6L321.0,269.2L322.6,269.5L324.1,270.1L325.6,269.8L327.1,271.8L328.7,268.9L330.2,270.0L331.7,270.3L333.3,269.2L334.8,265.1L336.3,264.3L337.8,260.9L339.4,257.8L340.9,257.1L342.4,256.5L343.9,257.1L345.5,256.1L347.0,256.2L348.5,259.2L350.1,258.7L351.6,256.7L353.1,255.0L354.6,253.8L356.2,257.7L357.7,259.6L359.2,262.8L360.7,263.6L362.3,266.3L363.8,262.9L365.3,260.3L366.9,261.2L368.4,262.7L369.9,259.9L371.4,258.8L373.0,257.8L374.5,259.2L376.0,257.9L377.5,256.3L379.1,255.8L380.6,255.3L382.1,256.0L383.7,256.4L385.2,258.4L386.7,257.9L388.2,258.1L389.8,257.6L391.3,262.7L392.8,262.2L394.4,264.1L395.9,265.8L397.4,264.6L398.9,267.0L400.5,268.6L402.0,267.8L403.5,265.7L405.0,266.1L406.6,266.4L408.1,265.8L409.6,265.6L411.2,268.4L412.7,268.6L414.2,268.2L415.7,270.6L417.3,275.6L418.8,274.9L420.3,274.1L421.8,279.6L423.4,276.5L424.9,278.0L426.4,283.7L428.0,285.3L429.5,285.7L431.0,287.8L432.5,291.6L434.1,291.3L435.6,292.9L437.1,293.2L438.6,296.7L440.2,299.6L441.7,299.4L443.2,301.0L444.8,303.5L446.3,309.5L447.8,310.8L449.3,309.5L450.9,311.5L452.4,320.0L453.9,325.8L455.5,331.7L457.0,328.3L458.5,337.1L460.0,340.5L461.6,343.3L463.1,345.4L464.6,349.3L466.1,344.3L467.7,350.4L469.2,348.0L470.7,356.8L472.3,360.2L473.8,360.4L475.3,360.5L476.8,363.7L478.4,373.2L479.9,376.9L481.4,381.1L482.9,382.2L484.5,391.8L486.0,394.3L487.5,395.3L489.1,399.4L490.6,400.1L492.1,402.4L493.6,400.0L495.2,398.3L496.7,404.5L498.2,405.4L499.7,411.1L501.3,416.6L502.8,423.1L504.3,429.3L505.9,436.9L507.4,439.8L508.9,442.0L510.4,449.5L512.0,449.3L513.5,450.1L515.0,450.0L516.5,452.0L518.1,461.5L519.6,471.0L521.1,473.6L522.7,473.2L524.2,475.8L525.7,482.3L527.2,493.5L528.8,497.8L530.3,506.1L531.8,513.7L533.4,513.5L534.9,522.9L536.4,532.7L537.9,540.2L539.5,544.8L541.0,554.0L542.5,560.7L544.0,566.0L545.6,572.6L547.1,582.7L548.6,583.9L550.2,587.5L551.7,588.9L553.2,592.9L554.7,596.2L556.3,597.3L557.8,600.8L559.3,602.8L560.8,609.8L562.4,615.8L563.9,617.3L565.4,619.4L567.0,619.3L568.5,617.0L570.0,619.4L571.5,623.6L573.1,617.6L574.6,615.7L576.1,621.3L577.6,627.4L579.2,624.9L580.7,622.7L582.2,620.4L583.8,627.1L585.3,630.0L586.8,631.6L588.3,630.6L589.9,635.2L591.4,635.2L592.9,641.5L594.5,641.4L596.0,645.1L597.5,647.6L599.0,649.1L600.6,649.5L602.1,657.7L603.6,663.8L605.1,661.4L606.7,667.6L608.2,662.6L609.7,664.3L611.3,666.2L612.8,665.3L614.3,660.8L615.8,656.6L617.4,659.3L618.9,656.1L620.4,656.9L621.9,658.2L623.5,656.4L625.0,653.3"/>
<path d="M69.0,627.5L70.5,632.3L72.1,632.5L73.6,631.9L75.1,638.3L76.6,643.0L78.2,645.6L79.7,646.5L81.2,647.8L82.7,651.0L84.3,651.4L85.8,654.3L87.3,654.4L88.9,657.2L90.4,651.4L91.9,647.0L93.4,651.7L95.0,655.4L96.5,651.1L98.0,646.3L99.5,649.3L101.1,648.0L102.6,648.3L104.1,653.1L105.7,654.6L107.2,654.3L108.7,657.8L110.2,649.7L111.8,645.7L113.3,654.4L114.8,653.9L116.4,656.4L117.9,650.2L119.4,654.4L120.9,646.7L122.5,646.4L124.0,645.0L125.5,638.6L127.0,637.7L128.6,623.9L130.1,624.8L131.6,622.6L133.2,618.3L134.7,611.7L136.2,606.0L137.7,601.6L139.3,597.4L140.8,596.3L142.3,589.6L143.8,585.9L145.4,578.7L146.9,585.6L148.4,586.0L150.0,575.0L151.5,575.4L153.0,582.4L154.5,579.8L156.1,577.9L157.6,576.2L159.1,579.6L160.6,583.7L162.2,580.4L163.7,569.3L165.2,565.6L166.8,556.4L168.3,548.6L169.8,549.8L171.3,546.3L172.9,542.2L174.4,541.5L175.9,541.9L177.5,536.2L179.0,539.2L180.5,533.5L182.0,533.5L183.6,529.6L185.1,525.9L186.6,522.0L188.1,523.4L189.7,524.0L191.2,521.5L192.7,522.9L194.3,515.1L195.8,513.6L197.3,504.8L198.8,491.7L200.4,483.8L201.9,485.1L203.4,482.8L204.9,481.2L206.5,475.8L208.0,470.5L209.5,463.9L211.1,462.1L212.6,461.1L214.1,459.2L215.6,457.2L217.2,454.9L218.7,453.9L220.2,454.7L221.7,449.8L223.3,449.8L224.8,451.4L226.3,444.1L227.9,439.8L229.4,437.2L230.9,432.3L232.4,429.7L234.0,427.0L235.5,432.0L237.0,431.4L238.5,434.7L240.1,430.9L241.6,427.2L243.1,423.1L244.7,419.1L246.2,425.5L247.7,426.4L249.2,423.3L250.8,412.5L252.3,407.9L253.8,407.8L255.4,404.6L256.9,399.3L258.4,398.0L259.9,394.6L261.5,387.7L263.0,384.4L264.5,383.1L266.0,381.6L267.6,377.0L269.1,371.3L270.6,367.6L272.2,366.2L273.7,363.7L275.2,363.9L276.7,358.8L278.3,354.7L279.8,350.0L281.3,347.2L282.8,340.1L284.4,340.6L285.9,336.4L287.4,337.3L289.0,337.6L290.5,329.4L292.0,325.6L293.5,322.5L295.1,317.6L296.6,314.2L298.1,307.3L299.6,305.3L301.2,301.4L302.7,296.9L304.2,288.2L305.8,288.0L307.3,282.9L308.8,284.2L310.3,284.2L311.9,279.2L313.4,274.1L314.9,273.5L316.5,274.6L318.0,273.1L319.5,272.7L321.0,272.6L322.6,275.6L324.1,276.0L325.6,273.2L327.1,275.5L328.7,277.0L330.2,275.9L331.7,274.8L333.3,276.4L334.8,275.5L336.3,272.8L337.8,272.8L339.4,270.1L340.9,268.1L342.4,263.8L343.9,263.1L345.5,267.7L347.0,264.0L348.5,261.0L350.1,262.2L351.6,260.1L353.1,261.3L354.6,263.7L356.2,263.6L357.7,263.1L359.2,265.4L360.7,266.3L362.3,268.6L363.8,267.8L365.3,268.5L366.9,267.3L368.4,265.4L369.9,262.6L371.4,260.2L373.0,262.9L374.5,264.3L376.0,264.3L377.5,263.9L379.1,263.5L380.6,266.1L382.1,265.6L383.7,262.2L385.2,262.1L386.7,259.1L388.2,259.0L389.8,258.5L391.3,256.6L392.8,254.9L394.4,256.4L395.9,258.8L397.4,261.0L398.9,260.6L400.5,260.2L402.0,261.9L403.5,265.1L405.0,268.3L406.6,269.5L408.1,268.8L409.6,271.5L411.2,273.5L412.7,273.7L414.2,272.9L415.7,273.3L417.3,277.6L418.8,282.2L420.3,282.7L421.8,284.6L423.4,290.0L424.9,287.6L426.4,287.8L428.0,288.6L429.5,291.1L431.0,288.0L432.5,290.9L434.1,288.3L435.6,292.7L437.1,294.0L438.6,294.4L440.2,299.0L441.7,300.8L443.2,299.4L444.8,304.2L446.3,304.9L447.8,307.5L449.3,313.2L450.9,309.4L452.4,313.4L453.9,318.1L455.5,327.2L457.0,322.2L458.5,327.2L460.0,337.1L461.6,340.0L463.1,342.0L464.6,342.7L466.1,338.9L467.7,346.4L469.2,344.3L470.7,340.7L472.3,347.0L473.8,354.1L475.3,361.0L476.8,367.6L478.4,367.7L479.9,371.3L481.4,374.1L482.9,375.3L484.5,381.0L486.0,381.5L487.5,385.1L489.1,393.7L490.6,396.3L492.1,399.0L493.6,405.1L495.2,403.8L496.7,408.4L498.2,415.4L499.7,420.0L501.3,419.9L502.8,426.3L504.3,427.9L505.9,434.2L507.4,433.9L508.9,433.5L510.4,443.1L512.0,446.3L513.5,449.6L515.0,448.9L516.5,451.6L518.1,461.5L519.6,467.5L521.1,471.5L522.7,469.2L524.2,477.4L525.7,484.2L527.2,493.4L528.8,496.4L530.3,503.0L531.8,505.6L533.4,505.6L534.9,504.6L536.4,513.7L537.9,519.4L539.5,525.6L541.0,526.3L542.5,539.2L544.0,543.5L545.6,543.9L547.1,546.5L548.6,552.1L550.2,562.5L551.7,569.1L553.2,575.3L554.7,576.8L556.3,583.6L557.8,586.8L559.3,593.8L560.8,593.8L562.4,594.6L563.9,594.7L565.4,595.9L567.0,595.7L568.5,599.9L570.0,600.2L571.5,596.7L573.1,597.7L574.6,598.1L576.1,595.0L577.6,598.7L579.2,602.1L580.7,605.4L582.2,614.4L583.8,612.0L585.3,617.5L586.8,621.0L588.3,619.8L589.9,626.9L591.4,624.5L592.9,627.1L594.5,630.6L596.0,630.6L597.5,629.7L599.0,635.0L600.6,641.4L602.1,642.1L603.6,649.3L605.1,652.3L606.7,648.8L608.2,652.4L609.7,652.2L611.3,650.6L612.8,652.1L614.3,653.1L615.8,649.6L617.4,647.3L618.9,649.7L620.4,653.1L621.9,659.8L623.5,659.4L625.0,659.7"/>
<path d="M403.0,266.0L403.2,265.0L403.5,264.1L403.7,263.1L404.0,262.1L404.2,261.1L404.5,260.2L404.7,259.2L404.9,258.2L405.2,257.2L405.4,256.3L405.6,255.3L405.8,254.3L406.0,253.3L406.3,252.3L406.5,251.4L406.7,250.4L406.9,249.4L407.1,248.4L407.4,247.4L407.6,246.5L407.9,245.5L408.1,244.5L408.4,243.6L408.6,242.6L408.9,241.6L409.2,240.7L409.6,239.8L410.1,238.9L410.5,238.0L411.1,237.2L411.8,236.6L412.7,236.3L413.5,236.5L414.2,237.2L414.8,238.0L415.2,238.9L415.5,239.8L415.7,240.8L415.9,241.8L416.2,242.7L416.4,243.7L416.7,244.7L416.9,245.7L417.1,246.7L417.2,247.6L417.3,248.6L417.5,249.6L417.6,250.6L417.7,251.6L417.8,252.6L418.0,253.6L418.1,254.6L418.2,255.6L418.3,256.6L418.4,257.6L418.6,258.6L418.7,259.6L418.8,260.6L418.9,261.6L419.0,262.6L419.1,263.6L419.2,264.6L419.3,265.6L419.4,266.6L419.5,267.6L419.6,268.6L419.7,269.6L419.8,270.6L420.0,271.6L420.1,272.6L420.2,273.6L420.3,274.6L420.4,275.6L420.6,276.5L420.7,277.5L420.8,278.5L420.9,279.5L421.1,280.5L421.2,281.5L421.3,282.5L421.4,283.5L421.6,284.5L421.7,285.5L421.8,286.5L421.9,287.5L422.0,288.0"/>
<path d="M434.0,300.0L434.2,299.0L434.4,298.0L434.6,297.0L434.8,296.0L435.0,295.1L435.2,294.1L435.4,293.1L435.6,292.1L435.8,291.1L436.0,290.1L436.2,289.1L436.4,288.2L436.6,287.2L436.8,286.2L437.1,285.2L437.3,284.2L437.5,283.2L437.7,282.3L438.0,281.5L438.4,281.7L439.0,282.4L439.5,283.3L440.0,284.2L440.2,285.1L440.4,286.1L440.5,287.1L440.7,288.1L440.9,289.1L441.0,290.1L441.2,291.1L441.3,292.1L441.5,293.1L441.7,294.1L441.8,295.1L442.0,296.1L442.2,297.1L442.3,298.1L442.5,299.1L442.7,300.0L442.8,301.0L443.0,302.0L443.2,303.0L443.3,304.0L443.5,305.0L443.7,306.0L443.8,307.0L444.0,308.0L444.0,308.0"/>
</g>
<path d="M68.2,679.3L69.1,679.8L70.0,680.2L70.8,680.7L71.7,681.2L72.6,681.6L73.6,681.9L74.5,682.1L75.1,681.6L75.6,680.8L76.1,679.9L76.6,679.1L77.4,678.4L78.2,677.9L79.0,677.9L79.7,678.5L80.3,679.2L81.0,679.9L81.7,680.5L82.2,680.4L82.5,679.5L82.9,678.6L83.2,677.6L83.5,676.7L83.7,675.7L83.9,674.7L84.1,673.8L84.3,672.8L84.4,671.8L84.6,670.8L84.8,669.8L85.0,668.8L85.3,667.9L85.5,666.9L85.7,665.9L85.9,664.9L86.1,663.9L86.3,663.0L86.6,662.0L86.8,661.0L87.1,660.1L87.6,659.3L88.3,658.6L88.8,658.5L89.1,659.3L89.5,660.2L89.8,661.2L90.1,662.1L90.4,663.1L90.6,664.1L90.8,665.0L91.0,666.0L91.3,667.0L91.5,668.0L91.7,668.9L91.9,669.9L92.1,670.9L92.3,671.9L92.6,672.9L92.8,673.8L93.1,674.8L93.5,675.7L93.9,676.6L94.3,677.5L94.7,678.5L95.1,679.4L95.6,680.2L96.3,680.9L97.0,681.5L97.6,681.5L98.2,680.7L98.7,679.9L99.2,679.0L99.7,678.2L100.2,677.3L100.5,676.4L100.8,675.4L101.0,674.4L101.3,673.5L101.6,672.5L101.9,671.5L102.1,670.6L102.4,669.6L102.7,668.6L103.0,667.7L103.2,666.7L103.5,665.8L103.8,664.8L104.0,663.8L104.3,662.9L104.7,662.2L105.4,662.3L105.9,663.0L106.2,664.0L106.4,664.9L106.6,665.9L106.8,666.9L107.0,667.9L107.2,668.9L107.3,669.9L107.5,670.8L107.7,671.8L107.8,672.8L108.0,673.8L108.1,674.8L108.3,675.8L108.7,676.7L109.3,677.4L110.0,678.1L110.7,678.9L111.3,679.6L112.0,680.3L112.6,680.6L113.0,679.9L113.5,679.0L113.9,678.1L114.3,677.2L114.8,676.4L115.5,676.3L116.4,676.6L117.3,677.0L118.2,677.6L118.9,678.1L119.4,677.9L119.7,677.0L119.9,676.0L120.2,675.1L120.5,674.1L120.7,673.1L120.9,672.1L121.1,671.2L121.3,670.2L121.5,669.2L121.6,668.2L121.8,667.2L122.0,666.2L122.1,665.2L122.3,664.2L122.5,663.3L122.6,662.3L122.8,661.3L123.0,660.3L123.3,659.3L123.6,658.4L123.9,657.5L124.4,656.6L124.9,655.7L125.4,654.9L125.6,653.9L125.7,652.9L125.8,651.9L125.9,650.9L126.0,650.0L126.0,649.0L126.1,648.0L126.2,647.0L126.3,646.0L126.4,645.0L126.5,644.0L126.6,643.0L126.8,642.0L126.9,641.0L127.0,640.0L127.1,639.0L127.3,638.0L127.4,637.0L127.5,636.0L127.7,635.0L128.0,634.1L128.2,633.1L128.4,632.1L128.7,631.2L129.2,630.4L130.0,630.1L130.6,630.4L130.9,631.3L131.1,632.2L131.4,633.2L131.6,634.2L131.9,635.1L132.1,636.1L132.3,637.1L132.6,638.1L132.8,639.0L133.0,640.0L133.2,641.0L133.3,642.0L133.5,643.0L133.6,644.0L133.9,644.9L134.3,645.8L134.9,646.7L135.4,647.5L135.9,648.3L136.4,649.2L136.8,650.2L137.1,651.1L137.5,652.0L137.9,653.0L138.3,653.9L138.7,654.8L139.4,655.5L140.1,656.0L140.7,656.0L141.0,655.2L141.3,654.3L141.5,653.3L141.7,652.3L142.0,651.3L142.2,650.4L142.5,649.4L142.7,648.4L142.9,647.4L143.1,646.5L143.2,645.5L143.4,644.5L143.6,643.5L143.7,642.5L143.9,641.5L144.1,640.5L144.2,639.5L144.4,638.6L144.7,637.6L144.9,636.6L145.2,635.7L145.5,634.7L145.8,633.8L146.3,632.9L147.1,632.4L147.9,631.8L148.8,631.3L149.5,630.6L150.0,629.8L150.6,629.0L151.1,628.1L151.6,627.3L151.9,626.3L152.2,625.4L152.4,624.4L152.6,623.4L152.8,622.4L153.1,621.5L153.3,620.5L153.4,620.0M325.2,284.6L326.2,284.8L327.2,285.0L328.2,285.1L329.3,285.1L330.3,285.0L330.8,285.0M337.5,269.0L337.7,270.0L337.8,271.0L338.0,272.0L338.2,272.9L338.3,273.9L338.5,274.9L338.7,275.9L338.8,276.9L339.0,277.9L339.2,278.8L339.4,279.8L339.7,280.8L339.9,281.8L340.1,282.8L340.3,283.7L340.6,284.7L341.0,285.6L341.5,286.4L342.1,287.2L342.6,287.6L343.1,287.0L343.6,286.1L344.1,285.3L344.6,284.4L345.0,283.5L345.2,282.5L345.5,281.6L345.7,280.6L346.0,279.6L346.2,278.7L346.5,277.7L346.7,276.7L347.0,275.8L347.3,274.8L347.5,273.8L347.8,272.9L348.1,271.9L348.3,270.9L348.6,270.0L348.9,269.0L349.1,268.1L349.4,267.1L349.7,266.1L350.0,265.2L350.3,264.2L350.6,263.3L350.8,262.3L351.1,261.3L351.4,260.4L351.7,259.4L352.0,258.5L352.5,257.6L353.1,256.8L353.7,256.0L354.2,255.2L354.9,254.6L355.7,254.7L356.6,255.0L357.4,255.6L357.9,256.4L358.5,257.3L359.0,258.1L359.5,259.0L360.0,259.8L360.5,260.7L361.0,261.6L361.5,262.4L362.0,263.2L362.8,263.8L363.6,263.9L364.0,263.3L364.3,262.3L364.5,261.3L364.7,260.4L365.0,259.4L365.2,258.4L365.5,257.5L365.8,256.5L366.1,255.6L366.4,254.6L366.7,253.7L367.0,252.7L367.4,251.8L367.7,250.8L368.3,250.1L369.1,249.7L369.7,250.0L370.0,250.9L370.4,251.8L370.7,252.7L371.1,253.6L371.6,254.5L372.1,255.4L372.6,256.3L373.1,257.1L373.6,257.6L374.1,257.1L374.6,256.3L375.0,255.4L375.4,254.5L375.6,253.5L375.9,252.5L376.1,251.6L376.4,250.6L376.6,249.6L376.9,248.6L377.1,247.7L377.3,246.7L377.6,245.7L377.8,244.8L378.1,243.8L378.3,242.8L378.6,241.9L378.8,240.9L379.1,239.9L379.3,238.9L379.6,238.0L379.9,237.1L380.4,236.2L381.1,235.6L381.6,235.5L381.9,236.3L382.2,237.3L382.5,238.2L382.9,239.2L383.2,240.1L383.6,241.0L384.0,241.9L384.4,242.8L384.8,243.3L385.2,242.7L385.7,241.8L386.1,240.9L386.5,240.1L387.2,239.9L388.0,240.3L388.6,241.1L388.9,242.0L389.1,243.0L389.4,243.9L389.7,244.9L390.0,245.8L390.3,246.8L390.8,247.6L391.4,248.4L392.0,249.2L392.8,249.5L393.6,249.3L394.5,248.8L395.4,248.5L396.4,248.1L397.3,248.0L398.1,248.4L398.8,249.1L399.5,249.8L400.0,250.6L400.1,251.6L400.1,252.6L400.2,253.6L400.2,254.6L400.3,255.6L400.4,256.6L400.7,257.5L401.1,258.4L401.5,259.3L402.0,260.2L402.4,261.1L402.8,262.0L403.3,262.6L403.9,262.3L404.6,261.6L405.2,260.8L405.9,260.1L406.6,259.3L407.2,258.6L407.9,257.9L408.6,257.2L409.1,257.2L409.6,258.0L410.0,258.9L410.3,259.8L410.7,260.8L411.1,261.7L411.6,262.5L412.1,262.6L412.9,262.0L413.7,261.4L414.4,260.9L414.8,261.2L415.1,262.1L415.3,263.1L415.5,264.1L415.7,265.0L415.9,266.0L416.2,267.0L416.4,268.0L416.6,268.9L416.8,269.9L417.0,270.9L417.3,271.9L417.5,272.8L417.7,273.8L417.9,274.8L418.2,275.8L418.4,276.7L418.6,277.7L418.8,278.7L419.0,279.7L419.3,280.6L419.4,281.6L419.6,282.6L419.8,283.6L419.9,284.6L420.1,285.6L420.2,286.6L420.4,287.6L420.6,288.5L420.7,289.5L420.9,290.5L421.1,291.5L421.2,292.5L421.4,293.5L421.5,294.5L421.7,295.4L421.9,296.4L422.2,297.4L422.5,298.3L422.9,299.3L423.2,300.2L423.5,301.0L423.7,301.0L424.0,300.1L424.2,299.1L424.5,298.1L424.7,297.2L424.9,296.2L425.2,295.2L425.4,294.3L425.7,293.3L426.1,292.4L426.5,291.5L427.0,290.6L427.4,289.7L427.8,288.8L428.3,287.9L428.9,287.1L429.5,286.3L430.1,285.5L430.6,285.0L431.1,285.4L431.6,286.3L432.1,287.2L432.5,288.1L432.8,289.0L433.0,290.0L433.2,291.0L433.3,292.0L433.5,293.0L433.7,293.9L433.9,294.9L434.0,295.9L434.2,296.9L434.4,297.9L434.6,298.8L434.9,299.8L435.2,300.7L435.6,301.7L435.9,302.6L436.2,303.6L436.5,304.5L436.9,305.4L437.4,305.6L438.2,305.1L439.0,304.5L439.8,304.0L440.4,304.1L440.9,304.9L441.3,305.8L441.7,306.7L442.3,307.4L443.1,307.9L444.0,308.4L444.7,309.0L445.2,309.9L445.6,310.8L446.0,311.7L446.5,312.6L446.9,313.5L447.6,314.2L448.3,314.9L449.0,315.6L449.7,316.3L450.4,317.0L451.0,317.8L451.5,318.7L451.8,319.6L452.2,320.5L452.5,321.5L452.9,322.4L453.3,323.3L453.8,324.2L454.5,324.9L455.2,325.6L455.9,326.0L456.5,325.7L457.1,324.9L457.8,324.2L458.4,323.4L459.0,322.9L459.7,323.3L460.5,324.0L461.2,324.7L461.8,325.4L462.2,326.3L462.6,327.2L463.1,328.2L463.5,329.1L463.9,330.0L464.5,330.8L465.1,331.6L465.7,332.4L466.3,333.2L466.7,334.0L466.9,335.0L467.1,336.0L467.3,337.0L467.5,338.0L467.7,338.9L467.9,339.9L468.1,340.9L468.2,341.9L468.3,342.9L468.4,343.9L468.5,344.9L468.6,345.9L468.7,346.9L468.8,347.9L468.9,348.9L469.0,349.9L469.1,350.8L469.2,351.8L469.3,352.8L469.5,353.8L469.7,354.8L469.9,355.8L470.1,356.8L470.3,357.7L470.5,358.7L470.7,359.7L470.9,360.7L471.1,361.7L471.3,362.6L471.5,363.6L471.7,364.6L472.0,365.5L472.6,366.3L473.3,367.1L473.9,367.8L474.5,368.6L475.2,369.4L475.9,370.1L476.6,370.7L477.4,371.4L478.2,372.0L478.9,372.7L479.4,373.4L479.7,374.4L479.9,375.4L480.1,376.4L480.3,377.3L480.5,378.3L480.7,379.3L480.9,380.3L481.1,381.3L481.2,382.2L481.4,383.2L481.5,384.2L481.7,385.2L481.8,386.2L481.9,387.2L482.0,388.2L482.1,389.2L482.2,390.2L482.4,391.2L482.5,392.2L482.6,393.2L482.7,394.2L482.8,395.1L482.9,396.1L483.1,397.1L483.2,398.1L483.5,399.1L483.9,400.0L484.2,400.9L484.6,401.9L485.0,402.8L485.3,403.7L485.7,404.6L486.1,405.6L486.4,406.5L486.7,407.5L487.0,408.4L487.3,409.4L487.6,410.3L488.0,411.3L488.3,412.2L488.6,413.2L488.9,414.1L489.2,415.1L489.6,415.6L490.1,415.1L490.6,414.3L491.2,413.5L491.7,412.7L492.2,412.8L492.6,413.6L492.9,414.5L493.3,415.4L493.7,416.3L494.1,417.3L494.5,418.2L494.8,419.1L495.0,420.1L495.3,421.1L495.6,422.0L495.8,423.0L496.1,424.0L496.3,424.9L496.6,425.9L496.9,426.9L497.2,427.8L497.5,428.8L497.8,429.7L498.2,430.7L498.5,431.6L498.8,432.5L499.2,433.5L499.5,434.3L499.9,434.5L500.5,433.8L501.0,433.0L501.6,432.2L502.1,431.6L502.5,432.0L502.9,432.9L503.2,433.8L503.6,434.8L504.0,435.7L504.4,436.6L504.9,437.4L505.7,438.0L506.5,438.4L507.2,439.0L507.7,439.9L508.0,440.8L508.3,441.8L508.6,442.7L508.9,443.7L509.2,444.6L509.5,445.6L509.8,446.6L510.1,447.5L510.4,448.5L510.7,449.4L510.9,450.4L511.2,451.4L511.5,452.3L511.7,453.3L512.0,454.3L512.4,455.2L513.0,455.9L513.7,456.6L514.4,457.3L515.1,457.4L515.8,456.9L516.5,456.2L517.2,455.7L517.5,456.1L517.7,457.0L517.9,458.0L518.1,459.0L518.2,460.0L518.4,461.0L518.6,462.0L518.8,463.0L518.9,463.9L519.1,464.9L519.2,465.9L519.4,466.9L519.6,467.9L519.7,468.9L519.9,469.9L520.2,470.8L520.5,471.8L520.8,472.7L521.0,473.7L521.3,474.6L521.6,475.6L521.9,476.6L522.2,477.5L522.5,478.5L522.8,479.4L523.1,480.4L523.5,481.3L523.8,482.3L524.1,483.2L524.4,484.2L524.7,485.1L525.0,486.1L525.3,487.0L525.5,488.0L525.7,489.0L525.9,490.0L526.1,491.0L526.3,491.9L526.5,492.9L526.7,493.9L526.9,494.9L527.1,495.8L527.4,496.8L527.7,497.7L528.1,498.7L528.4,499.6L528.7,500.6L529.0,501.5L529.3,502.5L529.5,503.5L529.6,504.4L529.8,505.4L529.9,506.4L530.0,507.4L530.1,508.4L530.2,509.4L530.3,510.4L530.4,511.4L530.5,512.4L530.6,513.4L530.7,514.4L530.8,515.4L530.9,516.4L530.9,517.4L531.0,518.4L531.1,519.4L531.2,520.4L531.2,521.4L531.3,522.4L531.4,523.4L531.5,524.4L531.6,525.4L531.6,526.4L531.7,527.4L531.8,528.4L531.9,529.4L532.0,530.3L532.0,531.3L532.2,532.3L532.3,533.3L532.4,534.3L532.5,535.3L532.6,536.3L532.8,537.3L532.9,538.3L533.0,539.3L533.1,540.3L533.2,541.3L533.4,542.3L533.5,543.3L533.6,544.3L533.7,545.2L533.8,546.2L534.0,547.2L534.2,548.2L534.3,549.2L534.5,550.2L534.6,551.2L534.8,552.2L535.0,553.1L535.1,554.1L535.3,555.1L535.5,556.1L535.6,557.1L535.8,558.1L536.0,559.1L536.2,560.0L536.4,561.0L536.6,562.0L536.8,563.0L537.1,563.5L537.6,563.0L538.2,562.2L538.7,561.4L539.3,560.6L540.0,559.9L540.9,559.4L541.8,559.1L542.6,559.2L543.4,559.8L544.2,560.4L544.7,561.2L544.9,562.1L545.1,563.1L545.2,564.1L545.4,565.1L545.5,566.1L545.7,567.1L545.8,568.1L546.0,569.0L546.2,570.0L546.4,571.0L546.6,572.0L546.8,573.0L547.0,573.9L547.2,574.9L547.4,575.9L547.6,576.9L547.8,577.9L548.0,578.8L548.1,579.8L548.3,580.8L548.6,581.8L548.8,582.8L549.1,583.7L549.3,584.7L549.6,585.7L549.8,586.6L550.1,587.6L550.3,588.6L550.6,589.5L550.8,590.5L551.0,591.5L551.2,592.5L551.4,593.4L551.7,594.4L551.9,595.4L552.1,596.4L552.3,597.3L552.5,598.3L552.7,599.3L552.9,600.3L553.2,601.2L553.4,602.2L553.8,603.2L554.1,604.1L554.4,605.1L554.7,606.0L555.0,607.0L555.3,607.9L555.8,608.7L556.5,609.3L557.4,609.6L558.4,610.0L559.2,610.4L559.8,611.2L560.2,612.1L560.5,613.0L560.9,613.9L561.3,614.9L561.6,615.8L562.0,616.7L562.4,617.6L562.8,618.6L563.2,619.5L563.5,620.4L563.9,621.3L564.3,622.2L564.7,622.5L565.0,621.9L565.4,620.9L565.7,620.0L566.1,619.1L566.5,618.1L566.8,617.2L567.5,616.6L568.3,616.1L569.2,615.8L569.9,616.0L570.3,616.9L570.6,617.8L571.0,618.8L571.4,619.7L571.7,620.6L572.1,621.6L572.3,622.5L572.5,623.5L572.6,624.5L572.8,625.5L573.0,626.5L573.1,627.5L573.3,628.4L573.5,629.4L573.6,630.4L573.8,631.4L573.9,632.4L574.1,633.4L574.3,634.4L574.4,635.3L574.6,636.3L574.7,637.3L574.9,638.3L575.0,639.3L575.1,640.3L575.2,641.3L575.3,642.3L575.5,643.3L575.6,644.3L575.7,645.3L575.8,646.3L575.9,647.3L576.1,648.2L576.2,649.2L576.3,650.2L576.4,651.2L576.5,652.2L576.7,653.2L576.8,654.2L576.9,655.2L577.0,656.2L577.1,657.2L577.3,658.2L577.7,659.1L578.2,659.9L578.8,660.5L579.1,660.3L579.3,659.4L579.5,658.4L579.7,657.4L579.9,656.4L580.1,655.5L580.3,654.5L580.5,653.5L580.7,652.5L581.0,651.5L581.2,650.6L581.4,649.6L581.6,648.6L581.8,647.6L582.0,646.7L582.2,645.7L582.4,644.7L582.6,643.7L582.8,642.7L583.0,641.8L583.3,640.8L583.5,639.8L583.7,638.8L583.9,637.9L584.1,636.9L584.3,635.9L584.5,634.9L584.7,633.9L585.0,633.0L585.3,632.0L585.6,631.1L585.9,630.1L586.2,629.2L586.5,628.2L586.8,627.3L587.2,626.4L587.5,626.1L587.9,626.8L588.2,627.7L588.6,628.6L589.0,629.5L589.4,630.5L589.7,631.4L590.1,632.3L590.6,633.2L591.0,634.1L591.4,635.0L591.7,636.0L592.0,636.9L592.2,637.9L592.4,638.9L592.6,639.9L592.9,640.8L593.1,641.8L593.3,642.8L593.5,643.8L593.7,644.7L593.9,645.7L594.1,646.7L594.3,647.7L594.5,648.7L594.6,649.7L594.8,650.6L595.0,651.6L595.2,652.6L595.4,653.6L595.6,654.6L595.7,655.5L595.9,656.5L596.1,657.5L596.4,658.5L596.7,659.4L597.2,660.3L597.6,661.2L598.1,662.1L598.5,662.9L599.1,663.2L599.7,662.7L600.5,662.0L601.2,661.3L601.8,661.0L602.2,661.6L602.5,662.5L602.7,663.5L603.0,664.4L603.3,665.4L603.6,666.4L603.8,667.3L604.0,668.3L604.2,669.3L604.3,670.3L604.5,671.3L604.6,672.3L604.7,673.3L604.9,674.2L605.1,674.5L605.5,673.8L605.9,672.9L606.3,672.0L606.7,671.1L607.1,670.2L607.5,669.4L607.8,669.2L608.1,670.0L608.5,671.0L608.8,671.9L609.1,672.9L609.4,673.8L609.6,674.8L609.7,675.8L609.9,676.8L610.1,677.8L610.2,678.7L610.4,679.7L610.6,680.7L610.7,681.7L610.9,682.7L611.0,683.7L611.2,684.7L611.4,685.6L611.6,686.6L611.9,687.6L612.2,688.5L612.5,689.5L612.8,690.4L613.1,691.4L613.4,692.2L613.8,692.1L614.2,691.2L614.6,690.3L615.1,689.4L615.4,688.5L615.7,687.5L616.0,686.6L616.2,685.6L616.5,684.6L616.8,683.7L617.0,682.7L617.3,681.8L617.6,680.8L617.9,679.9L618.4,679.0L619.0,678.2L619.5,677.3L620.1,676.5L620.6,675.6L621.0,674.8L621.3,673.8L621.6,672.8L621.9,671.9L622.2,670.9L622.5,670.0L622.7,669.0L623.0,668.0L623.3,667.1L623.5,666.1L623.7,665.1L623.8,664.1L623.9,663.1L624.0,662.2L624.2,661.2L624.3,660.2L624.4,659.2L624.5,658.2L624.6,657.2L624.7,656.2L624.8,655.2L624.9,654.7M112.3,688.4L112.7,688.6M124.0,682.5L124.6,681.5L125.2,680.5L125.2,680.5M149.2,645.0L149.3,644.0L149.5,643.0L149.6,642.0L149.7,641.0L149.8,640.5M155.3,593.5L155.5,592.5L155.7,591.5L155.9,590.5L156.1,589.5L156.3,588.4L156.5,587.4L156.7,586.4L156.9,585.4L157.1,584.4L157.2,583.9M170.7,578.8L171.3,579.6L172.0,580.4L172.6,581.1L173.3,581.9L173.9,582.7L174.6,583.4L175.3,584.1L176.2,584.6L176.9,584.7L177.5,584.0L177.9,583.1L178.4,582.2L178.8,581.3L179.2,580.4L179.4,579.4L179.7,578.5L180.0,577.5L180.1,576.5L180.2,575.5L180.3,574.5L180.4,573.5L180.5,572.5L180.6,571.5L180.7,570.5L180.8,570.0M183.3,547.0L183.5,546.0L183.6,545.0L183.8,544.0L183.9,543.0L184.1,542.0L184.2,541.0L184.4,540.0L184.5,539.0L184.7,538.0L184.8,537.0L185.0,536.1L185.2,535.1L185.4,534.1L185.6,533.1L185.8,532.1L186.0,531.1L186.2,530.2L186.5,529.9L186.8,530.6L187.1,531.6L187.3,532.5L187.6,533.5L187.7,534.5L187.8,535.5L188.0,536.5L188.1,537.5L188.3,538.5L188.4,539.5L188.4,539.5M201.0,547.0L201.2,546.0L201.4,545.0L201.6,544.0L201.8,543.0L202.0,542.0L202.2,541.0L202.4,540.0L202.6,539.0L202.8,538.0L203.0,537.0L203.0,537.0M208.7,516.7L208.9,515.7L209.0,514.7L209.2,513.7L209.3,512.7L209.5,511.7L209.6,510.7L209.8,509.7L210.0,508.8L210.1,507.8L210.3,506.8L210.4,505.8L210.6,504.8L210.7,503.8L210.9,502.8L211.1,501.8L211.2,500.8L211.4,499.8L211.5,498.8L211.7,497.8L211.8,496.8L212.0,495.8L212.2,494.8L212.3,493.8L212.5,492.9L212.7,491.9L212.9,490.9L213.1,489.9L213.2,488.9L213.4,487.9L213.6,486.9L213.8,485.9L214.0,485.0L214.2,484.0L214.4,483.0L214.6,482.0L214.8,481.0L215.0,480.0L215.0,479.0L215.1,478.0L215.1,477.0L215.2,476.0L215.2,475.0L215.3,474.0L215.3,473.0L215.4,472.0L215.4,471.0L215.5,470.0L215.6,469.0L216.1,468.1L216.6,467.3L217.1,466.4L217.7,465.6L218.2,465.5L218.8,466.1L219.4,466.9L220.0,467.7L220.0,467.7M228.0,481.6L228.7,482.3L229.5,483.0L230.2,483.7L230.9,484.4L231.6,485.0L232.2,484.8L232.6,484.0L232.9,483.1L233.3,482.1L233.6,481.2L234.0,480.2L234.4,479.3L234.6,478.3L234.8,477.4L235.0,476.4L235.2,475.4L235.4,474.4L235.6,473.4L235.8,472.4L236.0,471.4L236.2,470.5L236.4,469.5L236.6,468.5L236.8,467.5L237.0,466.5L237.4,465.6L237.7,464.7L238.1,463.7L238.5,462.8L238.9,461.9L239.3,461.0L239.7,460.0L240.1,459.1L240.5,458.2L240.9,457.3L241.5,456.4L242.0,455.6L242.5,454.7L243.0,453.8L243.5,453.0L244.0,452.1L244.5,451.2L245.0,450.4L245.4,449.5L245.9,448.5L246.3,447.6L246.7,446.7L247.1,445.8L247.4,444.9L247.7,443.9L248.0,442.9L248.3,442.0L248.6,441.0L248.9,440.0L249.2,439.1L249.5,438.1L249.8,437.2L250.2,436.3L250.7,435.4L251.1,434.5L251.5,433.6L252.0,432.7L252.2,432.2M259.8,420.8L260.0,419.8L260.1,418.8L260.3,417.8L260.4,416.7L260.6,415.7L260.8,414.7L260.9,413.7L261.0,413.2M266.0,412.0L266.5,411.2L267.1,410.3L267.6,409.5L268.1,408.6L268.7,407.8L269.1,406.9L269.3,405.9L269.5,404.9L269.6,403.9L269.8,402.9L269.9,401.9L270.1,400.9L270.2,400.0L270.3,399.0L270.5,398.0L270.6,397.0L270.8,396.0L270.9,395.0L271.1,394.0L271.2,393.0L271.4,392.0L271.6,391.0L271.8,390.1L272.0,389.1L272.2,388.1L272.5,387.1L272.7,386.1L272.9,385.2L273.1,384.2L273.3,383.2L273.5,382.2L273.7,381.2L273.9,380.3L274.2,379.3L274.7,378.5L275.3,377.7L276.0,376.9L276.6,376.2L277.3,375.5L278.1,374.8L278.9,374.3L279.8,373.7L280.6,373.2L281.3,373.1L281.7,373.8L282.1,374.7L282.5,375.6L282.9,376.6L283.3,377.5L283.7,378.3L284.1,378.5L284.6,377.9L285.2,377.0L285.7,376.2L286.2,375.3L286.5,374.4L286.6,373.4L286.8,372.4L286.9,371.4L287.0,370.4L287.2,369.4L287.3,368.4L287.4,367.4L287.6,366.4L287.7,365.4L287.8,364.4L287.9,363.4L288.1,362.5L288.2,361.5L288.3,360.5L288.5,359.5L288.6,358.5L288.7,357.5L288.9,356.5L289.0,355.5L289.1,354.5L289.2,353.5L289.4,352.5L289.5,351.5L289.6,350.5L289.8,349.5L289.9,348.5L290.0,347.5L290.1,346.5L290.3,345.5L290.4,344.6L290.5,343.6L290.7,342.6L290.8,341.6L291.1,340.6L291.5,339.7L291.8,338.8L292.2,337.8L292.6,336.9L292.9,336.0L293.4,335.3L294.2,335.3L295.2,335.7L296.1,336.0L297.0,336.5L297.6,337.2L298.2,338.0L298.8,338.8L299.4,339.5L300.0,339.5L300.6,338.8L301.2,338.0L301.8,337.2L302.4,336.4L303.0,335.6L303.5,334.7L303.8,333.8L304.1,332.8L304.4,331.9L304.7,330.9L304.9,330.0L305.2,329.0L305.5,328.0L305.8,327.1L306.0,326.1L306.2,325.1L306.3,324.1L306.5,323.1L306.7,322.1L306.8,321.1L307.0,320.2L307.2,319.2L307.3,318.2L307.5,317.2L307.6,316.2L307.8,315.2L308.0,314.2L308.1,313.2L308.3,312.2L308.5,311.2L308.6,310.3L308.8,309.3L309.0,308.3L309.2,307.3L309.4,306.3L309.6,305.3L309.8,304.4L310.0,303.4L310.2,302.4L310.4,301.4L310.6,300.4L310.8,299.4L311.0,298.5L311.2,297.5L311.6,296.6L312.2,295.8L312.8,295.0L313.4,294.3L314.0,294.2L314.5,294.9L315.0,295.8L315.5,296.6L316.0,297.3L316.6,297.2L317.2,296.5L317.8,295.7L318.2,294.8L318.4,293.9L318.5,292.9L318.7,291.9L318.8,290.9L318.9,289.9L319.1,288.9L319.2,287.9L319.3,286.9L319.4,285.9L319.6,284.9L319.8,283.9L319.9,282.9L320.1,282.0L320.3,281.0L320.5,280.0L320.6,279.0L320.8,278.0L320.8,278.0" fill="none" stroke="#fff" stroke-width="6.4" stroke-linejoin="round" stroke-linecap="round"/>
<path d="M68.2,679.3L69.1,679.8L70.0,680.2L70.8,680.7L71.7,681.2L72.6,681.6L73.6,681.9L74.5,682.1L75.1,681.6L75.6,680.8L76.1,679.9L76.6,679.1L77.4,678.4L78.2,677.9L79.0,677.9L79.7,678.5L80.3,679.2L81.0,679.9L81.7,680.5L82.2,680.4L82.5,679.5L82.9,678.6L83.2,677.6L83.5,676.7L83.7,675.7L83.9,674.7L84.1,673.8L84.3,672.8L84.4,671.8L84.6,670.8L84.8,669.8L85.0,668.8L85.3,667.9L85.5,666.9L85.7,665.9L85.9,664.9L86.1,663.9L86.3,663.0L86.6,662.0L86.8,661.0L87.1,660.1L87.6,659.3L88.3,658.6L88.8,658.5L89.1,659.3L89.5,660.2L89.8,661.2L90.1,662.1L90.4,663.1L90.6,664.1L90.8,665.0L91.0,666.0L91.3,667.0L91.5,668.0L91.7,668.9L91.9,669.9L92.1,670.9L92.3,671.9L92.6,672.9L92.8,673.8L93.1,674.8L93.5,675.7L93.9,676.6L94.3,677.5L94.7,678.5L95.1,679.4L95.6,680.2L96.3,680.9L97.0,681.5L97.6,681.5L98.2,680.7L98.7,679.9L99.2,679.0L99.7,678.2L100.2,677.3L100.5,676.4L100.8,675.4L101.0,674.4L101.3,673.5L101.6,672.5L101.9,671.5L102.1,670.6L102.4,669.6L102.7,668.6L103.0,667.7L103.2,666.7L103.5,665.8L103.8,664.8L104.0,663.8L104.3,662.9L104.7,662.2L105.4,662.3L105.9,663.0L106.2,664.0L106.4,664.9L106.6,665.9L106.8,666.9L107.0,667.9L107.2,668.9L107.3,669.9L107.5,670.8L107.7,671.8L107.8,672.8L108.0,673.8L108.1,674.8L108.3,675.8L108.7,676.7L109.3,677.4L110.0,678.1L110.7,678.9L111.3,679.6L112.0,680.3L112.6,680.6L113.0,679.9L113.5,679.0L113.9,678.1L114.3,677.2L114.8,676.4L115.5,676.3L116.4,676.6L117.3,677.0L118.2,677.6L118.9,678.1L119.4,677.9L119.7,677.0L119.9,676.0L120.2,675.1L120.5,674.1L120.7,673.1L120.9,672.1L121.1,671.2L121.3,670.2L121.5,669.2L121.6,668.2L121.8,667.2L122.0,666.2L122.1,665.2L122.3,664.2L122.5,663.3L122.6,662.3L122.8,661.3L123.0,660.3L123.3,659.3L123.6,658.4L123.9,657.5L124.4,656.6L124.9,655.7L125.4,654.9L125.6,653.9L125.7,652.9L125.8,651.9L125.9,650.9L126.0,650.0L126.0,649.0L126.1,648.0L126.2,647.0L126.3,646.0L126.4,645.0L126.5,644.0L126.6,643.0L126.8,642.0L126.9,641.0L127.0,640.0L127.1,639.0L127.3,638.0L127.4,637.0L127.5,636.0L127.7,635.0L128.0,634.1L128.2,633.1L128.4,632.1L128.7,631.2L129.2,630.4L130.0,630.1L130.6,630.4L130.9,631.3L131.1,632.2L131.4,633.2L131.6,634.2L131.9,635.1L132.1,636.1L132.3,637.1L132.6,638.1L132.8,639.0L133.0,640.0L133.2,641.0L133.3,642.0L133.5,643.0L133.6,644.0L133.9,644.9L134.3,645.8L134.9,646.7L135.4,647.5L135.9,648.3L136.4,649.2L136.8,650.2L137.1,651.1L137.5,652.0L137.9,653.0L138.3,653.9L138.7,654.8L139.4,655.5L140.1,656.0L140.7,656.0L141.0,655.2L141.3,654.3L141.5,653.3L141.7,652.3L142.0,651.3L142.2,650.4L142.5,649.4L142.7,648.4L142.9,647.4L143.1,646.5L143.2,645.5L143.4,644.5L143.6,643.5L143.7,642.5L143.9,641.5L144.1,640.5L144.2,639.5L144.4,638.6L144.7,637.6L144.9,636.6L145.2,635.7L145.5,634.7L145.8,633.8L146.3,632.9L147.1,632.4L147.9,631.8L148.8,631.3L149.5,630.6L150.0,629.8L150.6,629.0L151.1,628.1L151.6,627.3L151.9,626.3L152.2,625.4L152.4,624.4L152.6,623.4L152.8,622.4L153.1,621.5L153.3,620.5L153.4,620.0M325.2,284.6L326.2,284.8L327.2,285.0L328.2,285.1L329.3,285.1L330.3,285.0L330.8,285.0M337.5,269.0L337.7,270.0L337.8,271.0L338.0,272.0L338.2,272.9L338.3,273.9L338.5,274.9L338.7,275.9L338.8,276.9L339.0,277.9L339.2,278.8L339.4,279.8L339.7,280.8L339.9,281.8L340.1,282.8L340.3,283.7L340.6,284.7L341.0,285.6L341.5,286.4L342.1,287.2L342.6,287.6L343.1,287.0L343.6,286.1L344.1,285.3L344.6,284.4L345.0,283.5L345.2,282.5L345.5,281.6L345.7,280.6L346.0,279.6L346.2,278.7L346.5,277.7L346.7,276.7L347.0,275.8L347.3,274.8L347.5,273.8L347.8,272.9L348.1,271.9L348.3,270.9L348.6,270.0L348.9,269.0L349.1,268.1L349.4,267.1L349.7,266.1L350.0,265.2L350.3,264.2L350.6,263.3L350.8,262.3L351.1,261.3L351.4,260.4L351.7,259.4L352.0,258.5L352.5,257.6L353.1,256.8L353.7,256.0L354.2,255.2L354.9,254.6L355.7,254.7L356.6,255.0L357.4,255.6L357.9,256.4L358.5,257.3L359.0,258.1L359.5,259.0L360.0,259.8L360.5,260.7L361.0,261.6L361.5,262.4L362.0,263.2L362.8,263.8L363.6,263.9L364.0,263.3L364.3,262.3L364.5,261.3L364.7,260.4L365.0,259.4L365.2,258.4L365.5,257.5L365.8,256.5L366.1,255.6L366.4,254.6L366.7,253.7L367.0,252.7L367.4,251.8L367.7,250.8L368.3,250.1L369.1,249.7L369.7,250.0L370.0,250.9L370.4,251.8L370.7,252.7L371.1,253.6L371.6,254.5L372.1,255.4L372.6,256.3L373.1,257.1L373.6,257.6L374.1,257.1L374.6,256.3L375.0,255.4L375.4,254.5L375.6,253.5L375.9,252.5L376.1,251.6L376.4,250.6L376.6,249.6L376.9,248.6L377.1,247.7L377.3,246.7L377.6,245.7L377.8,244.8L378.1,243.8L378.3,242.8L378.6,241.9L378.8,240.9L379.1,239.9L379.3,238.9L379.6,238.0L379.9,237.1L380.4,236.2L381.1,235.6L381.6,235.5L381.9,236.3L382.2,237.3L382.5,238.2L382.9,239.2L383.2,240.1L383.6,241.0L384.0,241.9L384.4,242.8L384.8,243.3L385.2,242.7L385.7,241.8L386.1,240.9L386.5,240.1L387.2,239.9L388.0,240.3L388.6,241.1L388.9,242.0L389.1,243.0L389.4,243.9L389.7,244.9L390.0,245.8L390.3,246.8L390.8,247.6L391.4,248.4L392.0,249.2L392.8,249.5L393.6,249.3L394.5,248.8L395.4,248.5L396.4,248.1L397.3,248.0L398.1,248.4L398.8,249.1L399.5,249.8L400.0,250.6L400.1,251.6L400.1,252.6L400.2,253.6L400.2,254.6L400.3,255.6L400.4,256.6L400.7,257.5L401.1,258.4L401.5,259.3L402.0,260.2L402.4,261.1L402.8,262.0L403.3,262.6L403.9,262.3L404.6,261.6L405.2,260.8L405.9,260.1L406.6,259.3L407.2,258.6L407.9,257.9L408.6,257.2L409.1,257.2L409.6,258.0L410.0,258.9L410.3,259.8L410.7,260.8L411.1,261.7L411.6,262.5L412.1,262.6L412.9,262.0L413.7,261.4L414.4,260.9L414.8,261.2L415.1,262.1L415.3,263.1L415.5,264.1L415.7,265.0L415.9,266.0L416.2,267.0L416.4,268.0L416.6,268.9L416.8,269.9L417.0,270.9L417.3,271.9L417.5,272.8L417.7,273.8L417.9,274.8L418.2,275.8L418.4,276.7L418.6,277.7L418.8,278.7L419.0,279.7L419.3,280.6L419.4,281.6L419.6,282.6L419.8,283.6L419.9,284.6L420.1,285.6L420.2,286.6L420.4,287.6L420.6,288.5L420.7,289.5L420.9,290.5L421.1,291.5L421.2,292.5L421.4,293.5L421.5,294.5L421.7,295.4L421.9,296.4L422.2,297.4L422.5,298.3L422.9,299.3L423.2,300.2L423.5,301.0L423.7,301.0L424.0,300.1L424.2,299.1L424.5,298.1L424.7,297.2L424.9,296.2L425.2,295.2L425.4,294.3L425.7,293.3L426.1,292.4L426.5,291.5L427.0,290.6L427.4,289.7L427.8,288.8L428.3,287.9L428.9,287.1L429.5,286.3L430.1,285.5L430.6,285.0L431.1,285.4L431.6,286.3L432.1,287.2L432.5,288.1L432.8,289.0L433.0,290.0L433.2,291.0L433.3,292.0L433.5,293.0L433.7,293.9L433.9,294.9L434.0,295.9L434.2,296.9L434.4,297.9L434.6,298.8L434.9,299.8L435.2,300.7L435.6,301.7L435.9,302.6L436.2,303.6L436.5,304.5L436.9,305.4L437.4,305.6L438.2,305.1L439.0,304.5L439.8,304.0L440.4,304.1L440.9,304.9L441.3,305.8L441.7,306.7L442.3,307.4L443.1,307.9L444.0,308.4L444.7,309.0L445.2,309.9L445.6,310.8L446.0,311.7L446.5,312.6L446.9,313.5L447.6,314.2L448.3,314.9L449.0,315.6L449.7,316.3L450.4,317.0L451.0,317.8L451.5,318.7L451.8,319.6L452.2,320.5L452.5,321.5L452.9,322.4L453.3,323.3L453.8,324.2L454.5,324.9L455.2,325.6L455.9,326.0L456.5,325.7L457.1,324.9L457.8,324.2L458.4,323.4L459.0,322.9L459.7,323.3L460.5,324.0L461.2,324.7L461.8,325.4L462.2,326.3L462.6,327.2L463.1,328.2L463.5,329.1L463.9,330.0L464.5,330.8L465.1,331.6L465.7,332.4L466.3,333.2L466.7,334.0L466.9,335.0L467.1,336.0L467.3,337.0L467.5,338.0L467.7,338.9L467.9,339.9L468.1,340.9L468.2,341.9L468.3,342.9L468.4,343.9L468.5,344.9L468.6,345.9L468.7,346.9L468.8,347.9L468.9,348.9L469.0,349.9L469.1,350.8L469.2,351.8L469.3,352.8L469.5,353.8L469.7,354.8L469.9,355.8L470.1,356.8L470.3,357.7L470.5,358.7L470.7,359.7L470.9,360.7L471.1,361.7L471.3,362.6L471.5,363.6L471.7,364.6L472.0,365.5L472.6,366.3L473.3,367.1L473.9,367.8L474.5,368.6L475.2,369.4L475.9,370.1L476.6,370.7L477.4,371.4L478.2,372.0L478.9,372.7L479.4,373.4L479.7,374.4L479.9,375.4L480.1,376.4L480.3,377.3L480.5,378.3L480.7,379.3L480.9,380.3L481.1,381.3L481.2,382.2L481.4,383.2L481.5,384.2L481.7,385.2L481.8,386.2L481.9,387.2L482.0,388.2L482.1,389.2L482.2,390.2L482.4,391.2L482.5,392.2L482.6,393.2L482.7,394.2L482.8,395.1L482.9,396.1L483.1,397.1L483.2,398.1L483.5,399.1L483.9,400.0L484.2,400.9L484.6,401.9L485.0,402.8L485.3,403.7L485.7,404.6L486.1,405.6L486.4,406.5L486.7,407.5L487.0,408.4L487.3,409.4L487.6,410.3L488.0,411.3L488.3,412.2L488.6,413.2L488.9,414.1L489.2,415.1L489.6,415.6L490.1,415.1L490.6,414.3L491.2,413.5L491.7,412.7L492.2,412.8L492.6,413.6L492.9,414.5L493.3,415.4L493.7,416.3L494.1,417.3L494.5,418.2L494.8,419.1L495.0,420.1L495.3,421.1L495.6,422.0L495.8,423.0L496.1,424.0L496.3,424.9L496.6,425.9L496.9,426.9L497.2,427.8L497.5,428.8L497.8,429.7L498.2,430.7L498.5,431.6L498.8,432.5L499.2,433.5L499.5,434.3L499.9,434.5L500.5,433.8L501.0,433.0L501.6,432.2L502.1,431.6L502.5,432.0L502.9,432.9L503.2,433.8L503.6,434.8L504.0,435.7L504.4,436.6L504.9,437.4L505.7,438.0L506.5,438.4L507.2,439.0L507.7,439.9L508.0,440.8L508.3,441.8L508.6,442.7L508.9,443.7L509.2,444.6L509.5,445.6L509.8,446.6L510.1,447.5L510.4,448.5L510.7,449.4L510.9,450.4L511.2,451.4L511.5,452.3L511.7,453.3L512.0,454.3L512.4,455.2L513.0,455.9L513.7,456.6L514.4,457.3L515.1,457.4L515.8,456.9L516.5,456.2L517.2,455.7L517.5,456.1L517.7,457.0L517.9,458.0L518.1,459.0L518.2,460.0L518.4,461.0L518.6,462.0L518.8,463.0L518.9,463.9L519.1,464.9L519.2,465.9L519.4,466.9L519.6,467.9L519.7,468.9L519.9,469.9L520.2,470.8L520.5,471.8L520.8,472.7L521.0,473.7L521.3,474.6L521.6,475.6L521.9,476.6L522.2,477.5L522.5,478.5L522.8,479.4L523.1,480.4L523.5,481.3L523.8,482.3L524.1,483.2L524.4,484.2L524.7,485.1L525.0,486.1L525.3,487.0L525.5,488.0L525.7,489.0L525.9,490.0L526.1,491.0L526.3,491.9L526.5,492.9L526.7,493.9L526.9,494.9L527.1,495.8L527.4,496.8L527.7,497.7L528.1,498.7L528.4,499.6L528.7,500.6L529.0,501.5L529.3,502.5L529.5,503.5L529.6,504.4L529.8,505.4L529.9,506.4L530.0,507.4L530.1,508.4L530.2,509.4L530.3,510.4L530.4,511.4L530.5,512.4L530.6,513.4L530.7,514.4L530.8,515.4L530.9,516.4L530.9,517.4L531.0,518.4L531.1,519.4L531.2,520.4L531.2,521.4L531.3,522.4L531.4,523.4L531.5,524.4L531.6,525.4L531.6,526.4L531.7,527.4L531.8,528.4L531.9,529.4L532.0,530.3L532.0,531.3L532.2,532.3L532.3,533.3L532.4,534.3L532.5,535.3L532.6,536.3L532.8,537.3L532.9,538.3L533.0,539.3L533.1,540.3L533.2,541.3L533.4,542.3L533.5,543.3L533.6,544.3L533.7,545.2L533.8,546.2L534.0,547.2L534.2,548.2L534.3,549.2L534.5,550.2L534.6,551.2L534.8,552.2L535.0,553.1L535.1,554.1L535.3,555.1L535.5,556.1L535.6,557.1L535.8,558.1L536.0,559.1L536.2,560.0L536.4,561.0L536.6,562.0L536.8,563.0L537.1,563.5L537.6,563.0L538.2,562.2L538.7,561.4L539.3,560.6L540.0,559.9L540.9,559.4L541.8,559.1L542.6,559.2L543.4,559.8L544.2,560.4L544.7,561.2L544.9,562.1L545.1,563.1L545.2,564.1L545.4,565.1L545.5,566.1L545.7,567.1L545.8,568.1L546.0,569.0L546.2,570.0L546.4,571.0L546.6,572.0L546.8,573.0L547.0,573.9L547.2,574.9L547.4,575.9L547.6,576.9L547.8,577.9L548.0,578.8L548.1,579.8L548.3,580.8L548.6,581.8L548.8,582.8L549.1,583.7L549.3,584.7L549.6,585.7L549.8,586.6L550.1,587.6L550.3,588.6L550.6,589.5L550.8,590.5L551.0,591.5L551.2,592.5L551.4,593.4L551.7,594.4L551.9,595.4L552.1,596.4L552.3,597.3L552.5,598.3L552.7,599.3L552.9,600.3L553.2,601.2L553.4,602.2L553.8,603.2L554.1,604.1L554.4,605.1L554.7,606.0L555.0,607.0L555.3,607.9L555.8,608.7L556.5,609.3L557.4,609.6L558.4,610.0L559.2,610.4L559.8,611.2L560.2,612.1L560.5,613.0L560.9,613.9L561.3,614.9L561.6,615.8L562.0,616.7L562.4,617.6L562.8,618.6L563.2,619.5L563.5,620.4L563.9,621.3L564.3,622.2L564.7,622.5L565.0,621.9L565.4,620.9L565.7,620.0L566.1,619.1L566.5,618.1L566.8,617.2L567.5,616.6L568.3,616.1L569.2,615.8L569.9,616.0L570.3,616.9L570.6,617.8L571.0,618.8L571.4,619.7L571.7,620.6L572.1,621.6L572.3,622.5L572.5,623.5L572.6,624.5L572.8,625.5L573.0,626.5L573.1,627.5L573.3,628.4L573.5,629.4L573.6,630.4L573.8,631.4L573.9,632.4L574.1,633.4L574.3,634.4L574.4,635.3L574.6,636.3L574.7,637.3L574.9,638.3L575.0,639.3L575.1,640.3L575.2,641.3L575.3,642.3L575.5,643.3L575.6,644.3L575.7,645.3L575.8,646.3L575.9,647.3L576.1,648.2L576.2,649.2L576.3,650.2L576.4,651.2L576.5,652.2L576.7,653.2L576.8,654.2L576.9,655.2L577.0,656.2L577.1,657.2L577.3,658.2L577.7,659.1L578.2,659.9L578.8,660.5L579.1,660.3L579.3,659.4L579.5,658.4L579.7,657.4L579.9,656.4L580.1,655.5L580.3,654.5L580.5,653.5L580.7,652.5L581.0,651.5L581.2,650.6L581.4,649.6L581.6,648.6L581.8,647.6L582.0,646.7L582.2,645.7L582.4,644.7L582.6,643.7L582.8,642.7L583.0,641.8L583.3,640.8L583.5,639.8L583.7,638.8L583.9,637.9L584.1,636.9L584.3,635.9L584.5,634.9L584.7,633.9L585.0,633.0L585.3,632.0L585.6,631.1L585.9,630.1L586.2,629.2L586.5,628.2L586.8,627.3L587.2,626.4L587.5,626.1L587.9,626.8L588.2,627.7L588.6,628.6L589.0,629.5L589.4,630.5L589.7,631.4L590.1,632.3L590.6,633.2L591.0,634.1L591.4,635.0L591.7,636.0L592.0,636.9L592.2,637.9L592.4,638.9L592.6,639.9L592.9,640.8L593.1,641.8L593.3,642.8L593.5,643.8L593.7,644.7L593.9,645.7L594.1,646.7L594.3,647.7L594.5,648.7L594.6,649.7L594.8,650.6L595.0,651.6L595.2,652.6L595.4,653.6L595.6,654.6L595.7,655.5L595.9,656.5L596.1,657.5L596.4,658.5L596.7,659.4L597.2,660.3L597.6,661.2L598.1,662.1L598.5,662.9L599.1,663.2L599.7,662.7L600.5,662.0L601.2,661.3L601.8,661.0L602.2,661.6L602.5,662.5L602.7,663.5L603.0,664.4L603.3,665.4L603.6,666.4L603.8,667.3L604.0,668.3L604.2,669.3L604.3,670.3L604.5,671.3L604.6,672.3L604.7,673.3L604.9,674.2L605.1,674.5L605.5,673.8L605.9,672.9L606.3,672.0L606.7,671.1L607.1,670.2L607.5,669.4L607.8,669.2L608.1,670.0L608.5,671.0L608.8,671.9L609.1,672.9L609.4,673.8L609.6,674.8L609.7,675.8L609.9,676.8L610.1,677.8L610.2,678.7L610.4,679.7L610.6,680.7L610.7,681.7L610.9,682.7L611.0,683.7L611.2,684.7L611.4,685.6L611.6,686.6L611.9,687.6L612.2,688.5L612.5,689.5L612.8,690.4L613.1,691.4L613.4,692.2L613.8,692.1L614.2,691.2L614.6,690.3L615.1,689.4L615.4,688.5L615.7,687.5L616.0,686.6L616.2,685.6L616.5,684.6L616.8,683.7L617.0,682.7L617.3,681.8L617.6,680.8L617.9,679.9L618.4,679.0L619.0,678.2L619.5,677.3L620.1,676.5L620.6,675.6L621.0,674.8L621.3,673.8L621.6,672.8L621.9,671.9L622.2,670.9L622.5,670.0L622.7,669.0L623.0,668.0L623.3,667.1L623.5,666.1L623.7,665.1L623.8,664.1L623.9,663.1L624.0,662.2L624.2,661.2L624.3,660.2L624.4,659.2L624.5,658.2L624.6,657.2L624.7,656.2L624.8,655.2L624.9,654.7M112.3,688.4L112.7,688.6M124.0,682.5L124.6,681.5L125.2,680.5L125.2,680.5M149.2,645.0L149.3,644.0L149.5,643.0L149.6,642.0L149.7,641.0L149.8,640.5M155.3,593.5L155.5,592.5L155.7,591.5L155.9,590.5L156.1,589.5L156.3,588.4L156.5,587.4L156.7,586.4L156.9,585.4L157.1,584.4L157.2,583.9M170.7,578.8L171.3,579.6L172.0,580.4L172.6,581.1L173.3,581.9L173.9,582.7L174.6,583.4L175.3,584.1L176.2,584.6L176.9,584.7L177.5,584.0L177.9,583.1L178.4,582.2L178.8,581.3L179.2,580.4L179.4,579.4L179.7,578.5L180.0,577.5L180.1,576.5L180.2,575.5L180.3,574.5L180.4,573.5L180.5,572.5L180.6,571.5L180.7,570.5L180.8,570.0M183.3,547.0L183.5,546.0L183.6,545.0L183.8,544.0L183.9,543.0L184.1,542.0L184.2,541.0L184.4,540.0L184.5,539.0L184.7,538.0L184.8,537.0L185.0,536.1L185.2,535.1L185.4,534.1L185.6,533.1L185.8,532.1L186.0,531.1L186.2,530.2L186.5,529.9L186.8,530.6L187.1,531.6L187.3,532.5L187.6,533.5L187.7,534.5L187.8,535.5L188.0,536.5L188.1,537.5L188.3,538.5L188.4,539.5L188.4,539.5M201.0,547.0L201.2,546.0L201.4,545.0L201.6,544.0L201.8,543.0L202.0,542.0L202.2,541.0L202.4,540.0L202.6,539.0L202.8,538.0L203.0,537.0L203.0,537.0M208.7,516.7L208.9,515.7L209.0,514.7L209.2,513.7L209.3,512.7L209.5,511.7L209.6,510.7L209.8,509.7L210.0,508.8L210.1,507.8L210.3,506.8L210.4,505.8L210.6,504.8L210.7,503.8L210.9,502.8L211.1,501.8L211.2,500.8L211.4,499.8L211.5,498.8L211.7,497.8L211.8,496.8L212.0,495.8L212.2,494.8L212.3,493.8L212.5,492.9L212.7,491.9L212.9,490.9L213.1,489.9L213.2,488.9L213.4,487.9L213.6,486.9L213.8,485.9L214.0,485.0L214.2,484.0L214.4,483.0L214.6,482.0L214.8,481.0L215.0,480.0L215.0,479.0L215.1,478.0L215.1,477.0L215.2,476.0L215.2,475.0L215.3,474.0L215.3,473.0L215.4,472.0L215.4,471.0L215.5,470.0L215.6,469.0L216.1,468.1L216.6,467.3L217.1,466.4L217.7,465.6L218.2,465.5L218.8,466.1L219.4,466.9L220.0,467.7L220.0,467.7M228.0,481.6L228.7,482.3L229.5,483.0L230.2,483.7L230.9,484.4L231.6,485.0L232.2,484.8L232.6,484.0L232.9,483.1L233.3,482.1L233.6,481.2L234.0,480.2L234.4,479.3L234.6,478.3L234.8,477.4L235.0,476.4L235.2,475.4L235.4,474.4L235.6,473.4L235.8,472.4L236.0,471.4L236.2,470.5L236.4,469.5L236.6,468.5L236.8,467.5L237.0,466.5L237.4,465.6L237.7,464.7L238.1,463.7L238.5,462.8L238.9,461.9L239.3,461.0L239.7,460.0L240.1,459.1L240.5,458.2L240.9,457.3L241.5,456.4L242.0,455.6L242.5,454.7L243.0,453.8L243.5,453.0L244.0,452.1L244.5,451.2L245.0,450.4L245.4,449.5L245.9,448.5L246.3,447.6L246.7,446.7L247.1,445.8L247.4,444.9L247.7,443.9L248.0,442.9L248.3,442.0L248.6,441.0L248.9,440.0L249.2,439.1L249.5,438.1L249.8,437.2L250.2,436.3L250.7,435.4L251.1,434.5L251.5,433.6L252.0,432.7L252.2,432.2M259.8,420.8L260.0,419.8L260.1,418.8L260.3,417.8L260.4,416.7L260.6,415.7L260.8,414.7L260.9,413.7L261.0,413.2M266.0,412.0L266.5,411.2L267.1,410.3L267.6,409.5L268.1,408.6L268.7,407.8L269.1,406.9L269.3,405.9L269.5,404.9L269.6,403.9L269.8,402.9L269.9,401.9L270.1,400.9L270.2,400.0L270.3,399.0L270.5,398.0L270.6,397.0L270.8,396.0L270.9,395.0L271.1,394.0L271.2,393.0L271.4,392.0L271.6,391.0L271.8,390.1L272.0,389.1L272.2,388.1L272.5,387.1L272.7,386.1L272.9,385.2L273.1,384.2L273.3,383.2L273.5,382.2L273.7,381.2L273.9,380.3L274.2,379.3L274.7,378.5L275.3,377.7L276.0,376.9L276.6,376.2L277.3,375.5L278.1,374.8L278.9,374.3L279.8,373.7L280.6,373.2L281.3,373.1L281.7,373.8L282.1,374.7L282.5,375.6L282.9,376.6L283.3,377.5L283.7,378.3L284.1,378.5L284.6,377.9L285.2,377.0L285.7,376.2L286.2,375.3L286.5,374.4L286.6,373.4L286.8,372.4L286.9,371.4L287.0,370.4L287.2,369.4L287.3,368.4L287.4,367.4L287.6,366.4L287.7,365.4L287.8,364.4L287.9,363.4L288.1,362.5L288.2,361.5L288.3,360.5L288.5,359.5L288.6,358.5L288.7,357.5L288.9,356.5L289.0,355.5L289.1,354.5L289.2,353.5L289.4,352.5L289.5,351.5L289.6,350.5L289.8,349.5L289.9,348.5L290.0,347.5L290.1,346.5L290.3,345.5L290.4,344.6L290.5,343.6L290.7,342.6L290.8,341.6L291.1,340.6L291.5,339.7L291.8,338.8L292.2,337.8L292.6,336.9L292.9,336.0L293.4,335.3L294.2,335.3L295.2,335.7L296.1,336.0L297.0,336.5L297.6,337.2L298.2,338.0L298.8,338.8L299.4,339.5L300.0,339.5L300.6,338.8L301.2,338.0L301.8,337.2L302.4,336.4L303.0,335.6L303.5,334.7L303.8,333.8L304.1,332.8L304.4,331.9L304.7,330.9L304.9,330.0L305.2,329.0L305.5,328.0L305.8,327.1L306.0,326.1L306.2,325.1L306.3,324.1L306.5,323.1L306.7,322.1L306.8,321.1L307.0,320.2L307.2,319.2L307.3,318.2L307.5,317.2L307.6,316.2L307.8,315.2L308.0,314.2L308.1,313.2L308.3,312.2L308.5,311.2L308.6,310.3L308.8,309.3L309.0,308.3L309.2,307.3L309.4,306.3L309.6,305.3L309.8,304.4L310.0,303.4L310.2,302.4L310.4,301.4L310.6,300.4L310.8,299.4L311.0,298.5L311.2,297.5L311.6,296.6L312.2,295.8L312.8,295.0L313.4,294.3L314.0,294.2L314.5,294.9L315.0,295.8L315.5,296.6L316.0,297.3L316.6,297.2L317.2,296.5L317.8,295.7L318.2,294.8L318.4,293.9L318.5,292.9L318.7,291.9L318.8,290.9L318.9,289.9L319.1,288.9L319.2,287.9L319.3,286.9L319.4,285.9L319.6,284.9L319.8,283.9L319.9,282.9L320.1,282.0L320.3,281.0L320.5,280.0L320.6,279.0L320.8,278.0L320.8,278.0" fill="none" stroke="#2c6795" stroke-width="3.5" stroke-linejoin="round" stroke-linecap="round"/>
<path d="M68.2,655.7L69.1,656.0L70.1,656.4L71.0,656.8L71.5,657.4L71.7,658.4L71.9,659.4L72.0,660.4L72.1,661.3L72.3,662.3L72.4,663.3L72.6,664.3L72.7,665.3L72.9,666.3L73.1,667.3L73.4,668.2L73.6,669.2L73.9,670.2L74.1,671.1L74.3,672.1L74.6,673.1L75.0,673.9L75.7,674.6L76.5,675.1L77.4,675.6L78.2,676.2L79.0,676.8L79.5,677.6L80.1,678.5L80.6,679.3L81.1,680.2L81.7,681.0L82.3,681.8L82.9,682.6L83.5,683.4L84.2,684.1L84.8,684.9L85.3,685.7L85.6,686.7L85.8,687.7L86.0,688.6L86.1,689.6L86.3,690.6L86.5,691.6L86.7,692.6L86.9,693.6L87.0,694.5L87.2,695.5L87.4,696.5L87.6,697.5L87.9,698.5L88.1,699.4L88.4,700.4L88.6,701.4L88.8,702.3L89.1,703.3L89.3,704.3L89.7,705.2L90.2,706.0L90.7,706.5L91.0,705.9L91.2,705.0L91.4,704.0L91.6,703.0L91.8,702.0L92.0,701.1L92.2,700.1L92.4,699.1L92.7,698.1L92.9,697.2L93.2,696.2L93.5,695.2L93.8,694.3L94.0,693.3L94.4,692.5L94.9,692.4L95.7,693.0L96.5,693.6L97.2,694.3L97.7,695.1L98.2,696.0L98.7,696.9L99.3,697.6L100.1,698.0L101.1,698.1L102.1,698.3L102.8,698.1L103.3,697.3L103.6,696.3L103.9,695.4L104.2,694.4L104.5,693.5L104.8,692.5L105.1,691.6L105.2,690.6L105.4,689.6L105.6,688.6L105.8,687.6L105.9,686.6L106.1,685.7L106.3,684.7L106.5,683.7L106.6,682.7L106.9,681.7L107.2,680.8L107.6,679.8L107.9,678.9L108.2,678.0L108.8,677.8L109.6,678.2L110.4,678.7L111.2,679.4L111.9,680.0L112.5,680.3L113.0,679.7L113.4,678.8L113.9,677.9L114.3,677.0L114.8,676.2L115.5,676.0L116.4,676.2L117.3,676.6L118.1,677.2L118.8,677.8L119.4,677.6L119.6,676.8L119.8,675.8L120.1,674.8L120.3,673.9L120.5,672.9L120.7,671.9L121.0,670.9L121.1,670.0L121.3,669.0L121.4,668.0L121.6,667.0L121.7,666.0L121.9,665.0L122.0,664.0L122.2,663.0L122.3,662.0L122.5,661.1L122.6,660.1L122.8,659.1L123.0,658.1L123.3,657.2L123.7,656.3L124.2,655.7L124.6,656.0L124.9,656.9L125.3,657.8L125.6,658.8L125.9,659.7L126.3,660.6L126.7,661.6L127.1,662.5L127.5,663.3L127.9,663.9L128.2,663.3L128.5,662.4L128.7,661.4L129.0,660.5L129.2,659.5L129.5,658.5L129.7,657.6L129.9,656.6L130.1,655.6L130.3,654.6L130.5,653.6L130.7,652.6L130.9,651.7L131.1,650.7L131.3,649.7L131.5,648.7L131.7,647.7L132.1,646.9L132.8,646.2L133.5,645.8L134.2,646.0L134.8,646.8L135.4,647.6L135.9,648.4L136.4,649.3L136.8,650.2L137.1,651.1L137.5,652.1L137.9,653.0L138.2,653.9L138.6,654.8L139.2,655.6L140.0,656.3L140.6,656.5L140.9,655.9L141.2,654.9L141.4,654.0L141.6,653.0L141.8,652.0L142.1,651.0L142.3,650.1L142.5,649.1L142.7,648.1L142.9,647.1L143.1,646.1L143.2,645.1L143.4,644.2L143.6,643.2L143.7,642.2L143.9,641.2L144.0,640.2L144.2,639.2L144.4,638.2L144.6,637.3L144.9,636.3L145.1,635.3L145.4,634.4L145.7,633.4L146.1,632.5L146.8,631.9L147.7,631.5L148.6,631.0L149.3,630.5L149.9,629.7L150.4,628.8L151.0,628.0L151.5,627.1L151.9,626.2L152.1,625.3L152.4,624.3L152.6,623.3L152.8,622.3L153.1,621.4L153.3,620.4L153.4,619.4L153.5,618.4L153.6,617.4L153.7,616.4L153.8,615.4L153.9,614.4L153.9,613.4L154.1,612.4L154.3,611.5L154.6,610.5L154.9,609.5L155.1,608.6L155.4,607.6L155.7,606.6L155.9,605.7L156.2,604.7L156.4,603.8L156.7,602.8L157.0,601.8L157.4,601.0L158.1,600.2L158.8,599.6L159.6,598.9L160.3,598.3L161.1,597.6L161.7,596.9L162.0,596.0L162.3,595.0L162.5,594.0L162.8,593.1L163.0,592.1L163.2,591.1L163.5,590.1L163.7,589.2L163.9,588.2L164.2,587.2L164.4,586.2L164.6,585.3L164.9,584.3L165.1,583.3L165.3,582.4L165.6,581.4L165.7,580.4L165.9,579.4L166.0,578.4L166.1,577.4L166.3,576.4L166.4,575.4L166.6,574.5L166.7,573.5L166.8,572.5L167.0,571.5L167.1,570.5L167.3,569.5L167.4,568.5L167.5,567.5L167.7,566.5L167.8,565.5L168.0,564.5L168.1,563.6L168.4,562.6L168.6,561.6L168.8,560.6L169.1,559.7L169.3,558.7L169.6,557.7L169.8,556.8L170.1,555.8L170.3,554.8L170.5,553.9L170.8,552.9L171.0,551.9L171.3,550.9L171.5,550.0L171.8,549.0L172.0,548.4L172.4,548.9L172.8,549.8L173.2,550.7L173.6,551.6L174.1,552.5L174.5,553.4L175.0,554.3L175.5,555.2L176.0,556.0L176.5,556.9L177.0,557.7L177.6,558.6L178.3,559.1L179.3,559.4L180.2,559.7L180.9,560.2L181.3,561.1L181.7,562.0L182.1,563.0L182.5,563.9L182.8,564.8L183.2,565.7L183.7,566.6L184.1,567.5L184.6,568.4L185.1,569.3L185.6,570.2L186.0,571.0L186.4,571.2L186.7,570.5L186.9,569.5L187.2,568.5L187.4,567.6L187.7,566.6L187.9,565.6L188.2,564.7L188.4,563.7L188.6,562.7L188.9,561.7L189.1,560.8L189.4,559.8L189.6,558.8L189.9,557.9L190.1,556.9L190.3,555.9L190.6,555.0L190.8,554.0L191.1,553.0L191.3,552.0L191.6,551.1L191.8,550.1L192.0,549.1L192.3,548.2L192.5,547.2L192.8,546.2L193.0,545.2L193.3,544.3L193.5,543.3L193.8,542.3L194.0,541.4L194.3,540.4L194.6,539.4L194.8,538.5L195.1,537.5L195.3,536.6L195.6,535.6L195.9,534.6L196.1,533.7L196.4,532.7L196.7,531.7L196.9,530.8L197.2,529.8L197.7,529.0L198.4,528.3L199.1,527.5L199.8,526.8L200.5,526.1L201.3,525.5L202.1,524.9L202.9,524.3L203.7,523.8L204.6,523.3L205.4,523.4L206.2,523.9L207.0,524.5L207.9,525.0L208.7,525.7L209.3,526.4L209.9,527.2L210.6,528.0L211.2,528.7L211.8,529.5L212.5,530.2L213.2,531.0L213.9,531.6L214.4,531.4L214.9,530.6L215.4,529.7L215.8,528.8L216.2,527.9L216.4,527.0L216.6,526.0L216.7,525.0L216.8,524.0L217.0,523.0L217.1,522.0L217.2,521.0L217.4,520.0L217.5,519.0L217.6,518.0L217.8,517.1L217.9,516.1L218.0,515.1L218.2,514.1L218.3,513.1L218.4,512.1L218.5,511.1L218.6,510.1L218.7,509.1L218.8,508.1L218.9,507.1L219.0,506.1L219.0,505.1L219.1,504.1L219.2,503.1L219.3,502.1L219.4,501.1L219.5,500.1L219.6,499.1L219.7,498.1L219.8,497.1L219.9,496.2L220.0,495.2L220.1,494.2L220.2,493.2L220.2,492.2L220.3,491.2L220.4,490.2L220.5,489.2L220.6,488.2L220.7,487.2L220.8,486.2L220.8,485.2L220.9,484.2L221.0,483.2L221.1,482.2L221.2,481.2L221.3,480.2L221.4,479.2L221.4,478.2L221.5,477.2L221.6,476.2L221.7,475.2L221.9,474.3L222.5,473.6L223.3,473.0L224.1,472.5L225.0,471.9L225.7,471.3L226.5,470.6L227.2,469.9L227.9,469.2L228.6,468.5L229.2,467.8L229.7,466.9L230.0,465.9L230.3,465.0L230.6,464.0L230.9,463.1L231.3,462.1L231.6,461.2L231.9,460.2L232.2,459.3L232.5,458.3L232.8,457.4L233.2,456.5L233.6,455.5L234.0,454.6L234.5,453.8L234.9,452.9L235.4,452.0L235.8,451.1L236.3,450.2L236.7,449.3L237.1,448.4L237.5,447.4L237.8,446.5L238.2,445.6L238.5,444.6L238.9,443.7L239.2,442.7L239.6,441.8L239.9,440.9L240.3,439.9L240.6,439.0L240.9,438.0L241.1,437.1L241.3,436.1L241.5,435.1L241.7,434.1L242.0,433.1L242.2,432.2L242.4,431.2L242.6,430.2L242.8,429.2L243.0,428.3L243.2,427.3L243.4,426.3L243.7,425.3L243.9,424.4L244.3,423.4L244.7,422.5L245.0,421.6L245.4,420.7L245.8,419.7L246.2,418.9L246.7,418.8L247.4,419.4L248.0,420.1L248.7,420.9L249.4,421.6L249.9,422.5L250.4,423.3L250.8,424.2L251.3,425.1L251.7,426.0L252.1,426.6L252.4,426.1L252.7,425.2L253.0,424.2L253.3,423.2L253.6,422.3L253.8,421.3L254.1,420.4L254.4,419.4L254.6,418.4L254.8,417.4L255.0,416.5L255.1,415.5L255.3,414.5L255.5,413.5L255.6,412.5L255.8,411.5L255.9,410.5L256.1,409.5L256.2,408.6L256.4,407.6L256.5,406.6L256.7,405.6L256.9,404.6L257.0,403.6L257.2,402.6L257.5,401.7L258.1,401.0L258.8,400.3L259.5,399.7L260.2,399.8L261.0,400.5L261.7,401.2L262.3,401.9L262.8,402.8L263.3,403.7L263.7,404.6L264.2,405.5L264.6,406.3L264.9,406.3L265.1,405.5L265.3,404.5L265.4,403.6L265.5,402.6L265.7,401.6L265.8,400.6L266.0,399.6L266.1,398.6L266.3,397.6L266.4,396.6L266.6,395.6L266.7,394.7L266.9,393.7L267.1,392.7L267.2,391.7L267.4,390.7L267.6,389.7L267.7,388.7L267.9,387.7L268.0,386.8L268.2,385.8L268.4,384.8L268.5,383.8L268.7,382.8L268.9,381.8L269.0,380.8L269.2,379.8L269.3,378.9L269.5,377.9L269.7,376.9L269.8,375.9L270.0,374.9L270.2,373.9L270.3,372.9L270.5,372.0L270.6,371.0L270.8,370.0L271.0,369.0L271.1,368.0L271.3,367.0L271.4,366.0L271.5,365.0L271.7,364.0L271.8,363.0L271.9,362.1L272.1,361.1L272.2,360.1L272.3,359.1L272.5,358.1L272.6,357.1L272.7,356.1L272.9,355.1L273.1,354.2L273.7,353.5L274.5,352.9L275.3,352.4L276.0,352.5L276.6,353.2L277.3,354.0L277.9,354.8L278.5,355.5L279.2,356.3L279.8,357.1L280.4,357.9L281.1,358.5L281.4,358.4L281.6,357.5L281.8,356.5L281.9,355.5L282.0,354.5L282.2,353.5L282.3,352.5L282.5,351.6L282.6,350.6L282.8,349.6L282.9,348.6L283.0,347.6L283.2,346.6L283.3,345.6L283.4,344.6L283.5,343.6L283.6,342.6L283.7,341.6L283.9,340.6L284.0,339.6L284.1,338.7L284.2,337.7L284.3,336.7L284.4,335.7L284.5,334.7L284.6,333.7L284.8,332.7L284.9,331.7L285.0,330.7L285.1,329.7L285.3,328.8L285.9,328.0L286.6,327.3L287.4,326.6L288.1,325.9L288.9,325.4L289.8,324.9L290.7,324.4L291.5,324.0L292.4,323.5L293.3,323.0L294.2,322.6L294.8,321.8L295.2,320.9L295.5,320.0L295.9,319.1L296.2,318.1L296.6,317.2L296.9,316.2L297.2,315.3L297.6,314.4L297.9,313.4L298.2,312.5L298.5,311.5L298.8,310.6L299.1,309.6L299.5,308.7L299.8,307.7L300.1,306.8L300.4,305.8L300.8,304.9L301.1,303.9L301.4,303.0L301.8,302.1L302.1,301.1L302.5,300.2L302.8,299.2L303.2,298.3L303.5,297.4L303.9,296.4L304.3,295.5L304.6,294.6L305.0,293.6L305.3,292.7L305.6,291.7L305.8,290.8L305.9,289.8L306.0,288.8L306.2,287.8L306.3,286.8L306.4,285.8L306.6,284.8L306.7,283.8L306.8,282.8L307.0,281.8L307.1,280.8L307.2,279.9L307.4,278.9L307.5,277.9L307.6,276.9L307.7,275.9L307.9,274.9L308.0,273.9L308.1,272.9L308.3,271.9L308.4,270.9L308.5,269.9L308.6,268.9L308.7,267.9L308.9,266.9L309.0,266.0L309.1,265.0L309.2,264.0L309.3,263.0L309.5,262.0L309.6,261.0L309.7,260.0L309.8,259.0L310.0,258.0L310.2,257.1L310.6,256.1L310.9,255.2L311.3,254.3L311.6,253.3L312.0,252.8L312.4,253.4L312.8,254.3L313.1,255.2L313.5,256.1L313.8,257.1L314.0,258.1L314.1,259.0L314.3,260.0L314.4,261.0L314.6,262.0L314.7,263.0L314.9,264.0L315.4,264.8L316.1,265.5L316.8,266.3L317.5,266.9L318.4,267.3L319.3,267.8L320.1,268.3L320.8,269.0L321.4,269.8L322.0,270.6L322.7,271.4L323.4,272.0L324.3,272.6L325.0,273.2L325.6,274.0L326.0,274.9L326.4,275.8L326.8,276.7L327.2,277.5L327.8,277.5L328.4,276.8L329.0,276.0L329.4,275.1L329.7,274.1L329.9,273.2L330.2,272.2L330.4,271.2L330.7,270.3L330.9,269.3L331.1,268.3L331.3,267.3L331.5,266.3L331.6,265.4L331.8,264.4L332.0,263.4L332.2,262.4L332.3,261.4L332.5,260.4L332.7,259.4L332.9,258.5L333.0,257.5L333.2,256.5L333.5,255.5L333.7,254.5L333.9,253.6L334.1,252.6L334.3,251.6L334.5,250.6L335.0,249.8L335.6,249.0L336.3,248.3L337.1,247.9L338.1,247.8L339.0,247.9L339.7,248.5L340.3,249.3L340.9,250.1L341.5,250.9L342.0,251.8L342.5,252.6L343.0,253.5L343.5,254.4L344.1,255.1L345.0,255.6L345.7,255.6L346.1,254.9L346.5,254.0L346.9,253.1L347.3,252.1L347.4,251.2L347.5,250.2L347.6,249.2L347.6,248.2L347.7,247.2L347.8,246.2L347.8,245.2L347.9,244.2L348.0,243.2L348.0,242.2L348.1,241.2L348.2,240.2L348.2,239.2L348.3,238.2L348.3,237.2L348.4,236.2L348.5,235.2L348.5,234.2L348.6,233.2L348.7,232.2L348.7,231.2L348.8,230.2L348.8,229.2L348.9,228.2L348.9,227.2L349.0,226.2L349.0,225.7" fill="none" stroke="#fff" stroke-width="7.4" stroke-linejoin="round" stroke-linecap="round"/>
<path d="M68.2,655.7L69.1,656.0L70.1,656.4L71.0,656.8L71.5,657.4L71.7,658.4L71.9,659.4L72.0,660.4L72.1,661.3L72.3,662.3L72.4,663.3L72.6,664.3L72.7,665.3L72.9,666.3L73.1,667.3L73.4,668.2L73.6,669.2L73.9,670.2L74.1,671.1L74.3,672.1L74.6,673.1L75.0,673.9L75.7,674.6L76.5,675.1L77.4,675.6L78.2,676.2L79.0,676.8L79.5,677.6L80.1,678.5L80.6,679.3L81.1,680.2L81.7,681.0L82.3,681.8L82.9,682.6L83.5,683.4L84.2,684.1L84.8,684.9L85.3,685.7L85.6,686.7L85.8,687.7L86.0,688.6L86.1,689.6L86.3,690.6L86.5,691.6L86.7,692.6L86.9,693.6L87.0,694.5L87.2,695.5L87.4,696.5L87.6,697.5L87.9,698.5L88.1,699.4L88.4,700.4L88.6,701.4L88.8,702.3L89.1,703.3L89.3,704.3L89.7,705.2L90.2,706.0L90.7,706.5L91.0,705.9L91.2,705.0L91.4,704.0L91.6,703.0L91.8,702.0L92.0,701.1L92.2,700.1L92.4,699.1L92.7,698.1L92.9,697.2L93.2,696.2L93.5,695.2L93.8,694.3L94.0,693.3L94.4,692.5L94.9,692.4L95.7,693.0L96.5,693.6L97.2,694.3L97.7,695.1L98.2,696.0L98.7,696.9L99.3,697.6L100.1,698.0L101.1,698.1L102.1,698.3L102.8,698.1L103.3,697.3L103.6,696.3L103.9,695.4L104.2,694.4L104.5,693.5L104.8,692.5L105.1,691.6L105.2,690.6L105.4,689.6L105.6,688.6L105.8,687.6L105.9,686.6L106.1,685.7L106.3,684.7L106.5,683.7L106.6,682.7L106.9,681.7L107.2,680.8L107.6,679.8L107.9,678.9L108.2,678.0L108.8,677.8L109.6,678.2L110.4,678.7L111.2,679.4L111.9,680.0L112.5,680.3L113.0,679.7L113.4,678.8L113.9,677.9L114.3,677.0L114.8,676.2L115.5,676.0L116.4,676.2L117.3,676.6L118.1,677.2L118.8,677.8L119.4,677.6L119.6,676.8L119.8,675.8L120.1,674.8L120.3,673.9L120.5,672.9L120.7,671.9L121.0,670.9L121.1,670.0L121.3,669.0L121.4,668.0L121.6,667.0L121.7,666.0L121.9,665.0L122.0,664.0L122.2,663.0L122.3,662.0L122.5,661.1L122.6,660.1L122.8,659.1L123.0,658.1L123.3,657.2L123.7,656.3L124.2,655.7L124.6,656.0L124.9,656.9L125.3,657.8L125.6,658.8L125.9,659.7L126.3,660.6L126.7,661.6L127.1,662.5L127.5,663.3L127.9,663.9L128.2,663.3L128.5,662.4L128.7,661.4L129.0,660.5L129.2,659.5L129.5,658.5L129.7,657.6L129.9,656.6L130.1,655.6L130.3,654.6L130.5,653.6L130.7,652.6L130.9,651.7L131.1,650.7L131.3,649.7L131.5,648.7L131.7,647.7L132.1,646.9L132.8,646.2L133.5,645.8L134.2,646.0L134.8,646.8L135.4,647.6L135.9,648.4L136.4,649.3L136.8,650.2L137.1,651.1L137.5,652.1L137.9,653.0L138.2,653.9L138.6,654.8L139.2,655.6L140.0,656.3L140.6,656.5L140.9,655.9L141.2,654.9L141.4,654.0L141.6,653.0L141.8,652.0L142.1,651.0L142.3,650.1L142.5,649.1L142.7,648.1L142.9,647.1L143.1,646.1L143.2,645.1L143.4,644.2L143.6,643.2L143.7,642.2L143.9,641.2L144.0,640.2L144.2,639.2L144.4,638.2L144.6,637.3L144.9,636.3L145.1,635.3L145.4,634.4L145.7,633.4L146.1,632.5L146.8,631.9L147.7,631.5L148.6,631.0L149.3,630.5L149.9,629.7L150.4,628.8L151.0,628.0L151.5,627.1L151.9,626.2L152.1,625.3L152.4,624.3L152.6,623.3L152.8,622.3L153.1,621.4L153.3,620.4L153.4,619.4L153.5,618.4L153.6,617.4L153.7,616.4L153.8,615.4L153.9,614.4L153.9,613.4L154.1,612.4L154.3,611.5L154.6,610.5L154.9,609.5L155.1,608.6L155.4,607.6L155.7,606.6L155.9,605.7L156.2,604.7L156.4,603.8L156.7,602.8L157.0,601.8L157.4,601.0L158.1,600.2L158.8,599.6L159.6,598.9L160.3,598.3L161.1,597.6L161.7,596.9L162.0,596.0L162.3,595.0L162.5,594.0L162.8,593.1L163.0,592.1L163.2,591.1L163.5,590.1L163.7,589.2L163.9,588.2L164.2,587.2L164.4,586.2L164.6,585.3L164.9,584.3L165.1,583.3L165.3,582.4L165.6,581.4L165.7,580.4L165.9,579.4L166.0,578.4L166.1,577.4L166.3,576.4L166.4,575.4L166.6,574.5L166.7,573.5L166.8,572.5L167.0,571.5L167.1,570.5L167.3,569.5L167.4,568.5L167.5,567.5L167.7,566.5L167.8,565.5L168.0,564.5L168.1,563.6L168.4,562.6L168.6,561.6L168.8,560.6L169.1,559.7L169.3,558.7L169.6,557.7L169.8,556.8L170.1,555.8L170.3,554.8L170.5,553.9L170.8,552.9L171.0,551.9L171.3,550.9L171.5,550.0L171.8,549.0L172.0,548.4L172.4,548.9L172.8,549.8L173.2,550.7L173.6,551.6L174.1,552.5L174.5,553.4L175.0,554.3L175.5,555.2L176.0,556.0L176.5,556.9L177.0,557.7L177.6,558.6L178.3,559.1L179.3,559.4L180.2,559.7L180.9,560.2L181.3,561.1L181.7,562.0L182.1,563.0L182.5,563.9L182.8,564.8L183.2,565.7L183.7,566.6L184.1,567.5L184.6,568.4L185.1,569.3L185.6,570.2L186.0,571.0L186.4,571.2L186.7,570.5L186.9,569.5L187.2,568.5L187.4,567.6L187.7,566.6L187.9,565.6L188.2,564.7L188.4,563.7L188.6,562.7L188.9,561.7L189.1,560.8L189.4,559.8L189.6,558.8L189.9,557.9L190.1,556.9L190.3,555.9L190.6,555.0L190.8,554.0L191.1,553.0L191.3,552.0L191.6,551.1L191.8,550.1L192.0,549.1L192.3,548.2L192.5,547.2L192.8,546.2L193.0,545.2L193.3,544.3L193.5,543.3L193.8,542.3L194.0,541.4L194.3,540.4L194.6,539.4L194.8,538.5L195.1,537.5L195.3,536.6L195.6,535.6L195.9,534.6L196.1,533.7L196.4,532.7L196.7,531.7L196.9,530.8L197.2,529.8L197.7,529.0L198.4,528.3L199.1,527.5L199.8,526.8L200.5,526.1L201.3,525.5L202.1,524.9L202.9,524.3L203.7,523.8L204.6,523.3L205.4,523.4L206.2,523.9L207.0,524.5L207.9,525.0L208.7,525.7L209.3,526.4L209.9,527.2L210.6,528.0L211.2,528.7L211.8,529.5L212.5,530.2L213.2,531.0L213.9,531.6L214.4,531.4L214.9,530.6L215.4,529.7L215.8,528.8L216.2,527.9L216.4,527.0L216.6,526.0L216.7,525.0L216.8,524.0L217.0,523.0L217.1,522.0L217.2,521.0L217.4,520.0L217.5,519.0L217.6,518.0L217.8,517.1L217.9,516.1L218.0,515.1L218.2,514.1L218.3,513.1L218.4,512.1L218.5,511.1L218.6,510.1L218.7,509.1L218.8,508.1L218.9,507.1L219.0,506.1L219.0,505.1L219.1,504.1L219.2,503.1L219.3,502.1L219.4,501.1L219.5,500.1L219.6,499.1L219.7,498.1L219.8,497.1L219.9,496.2L220.0,495.2L220.1,494.2L220.2,493.2L220.2,492.2L220.3,491.2L220.4,490.2L220.5,489.2L220.6,488.2L220.7,487.2L220.8,486.2L220.8,485.2L220.9,484.2L221.0,483.2L221.1,482.2L221.2,481.2L221.3,480.2L221.4,479.2L221.4,478.2L221.5,477.2L221.6,476.2L221.7,475.2L221.9,474.3L222.5,473.6L223.3,473.0L224.1,472.5L225.0,471.9L225.7,471.3L226.5,470.6L227.2,469.9L227.9,469.2L228.6,468.5L229.2,467.8L229.7,466.9L230.0,465.9L230.3,465.0L230.6,464.0L230.9,463.1L231.3,462.1L231.6,461.2L231.9,460.2L232.2,459.3L232.5,458.3L232.8,457.4L233.2,456.5L233.6,455.5L234.0,454.6L234.5,453.8L234.9,452.9L235.4,452.0L235.8,451.1L236.3,450.2L236.7,449.3L237.1,448.4L237.5,447.4L237.8,446.5L238.2,445.6L238.5,444.6L238.9,443.7L239.2,442.7L239.6,441.8L239.9,440.9L240.3,439.9L240.6,439.0L240.9,438.0L241.1,437.1L241.3,436.1L241.5,435.1L241.7,434.1L242.0,433.1L242.2,432.2L242.4,431.2L242.6,430.2L242.8,429.2L243.0,428.3L243.2,427.3L243.4,426.3L243.7,425.3L243.9,424.4L244.3,423.4L244.7,422.5L245.0,421.6L245.4,420.7L245.8,419.7L246.2,418.9L246.7,418.8L247.4,419.4L248.0,420.1L248.7,420.9L249.4,421.6L249.9,422.5L250.4,423.3L250.8,424.2L251.3,425.1L251.7,426.0L252.1,426.6L252.4,426.1L252.7,425.2L253.0,424.2L253.3,423.2L253.6,422.3L253.8,421.3L254.1,420.4L254.4,419.4L254.6,418.4L254.8,417.4L255.0,416.5L255.1,415.5L255.3,414.5L255.5,413.5L255.6,412.5L255.8,411.5L255.9,410.5L256.1,409.5L256.2,408.6L256.4,407.6L256.5,406.6L256.7,405.6L256.9,404.6L257.0,403.6L257.2,402.6L257.5,401.7L258.1,401.0L258.8,400.3L259.5,399.7L260.2,399.8L261.0,400.5L261.7,401.2L262.3,401.9L262.8,402.8L263.3,403.7L263.7,404.6L264.2,405.5L264.6,406.3L264.9,406.3L265.1,405.5L265.3,404.5L265.4,403.6L265.5,402.6L265.7,401.6L265.8,400.6L266.0,399.6L266.1,398.6L266.3,397.6L266.4,396.6L266.6,395.6L266.7,394.7L266.9,393.7L267.1,392.7L267.2,391.7L267.4,390.7L267.6,389.7L267.7,388.7L267.9,387.7L268.0,386.8L268.2,385.8L268.4,384.8L268.5,383.8L268.7,382.8L268.9,381.8L269.0,380.8L269.2,379.8L269.3,378.9L269.5,377.9L269.7,376.9L269.8,375.9L270.0,374.9L270.2,373.9L270.3,372.9L270.5,372.0L270.6,371.0L270.8,370.0L271.0,369.0L271.1,368.0L271.3,367.0L271.4,366.0L271.5,365.0L271.7,364.0L271.8,363.0L271.9,362.1L272.1,361.1L272.2,360.1L272.3,359.1L272.5,358.1L272.6,357.1L272.7,356.1L272.9,355.1L273.1,354.2L273.7,353.5L274.5,352.9L275.3,352.4L276.0,352.5L276.6,353.2L277.3,354.0L277.9,354.8L278.5,355.5L279.2,356.3L279.8,357.1L280.4,357.9L281.1,358.5L281.4,358.4L281.6,357.5L281.8,356.5L281.9,355.5L282.0,354.5L282.2,353.5L282.3,352.5L282.5,351.6L282.6,350.6L282.8,349.6L282.9,348.6L283.0,347.6L283.2,346.6L283.3,345.6L283.4,344.6L283.5,343.6L283.6,342.6L283.7,341.6L283.9,340.6L284.0,339.6L284.1,338.7L284.2,337.7L284.3,336.7L284.4,335.7L284.5,334.7L284.6,333.7L284.8,332.7L284.9,331.7L285.0,330.7L285.1,329.7L285.3,328.8L285.9,328.0L286.6,327.3L287.4,326.6L288.1,325.9L288.9,325.4L289.8,324.9L290.7,324.4L291.5,324.0L292.4,323.5L293.3,323.0L294.2,322.6L294.8,321.8L295.2,320.9L295.5,320.0L295.9,319.1L296.2,318.1L296.6,317.2L296.9,316.2L297.2,315.3L297.6,314.4L297.9,313.4L298.2,312.5L298.5,311.5L298.8,310.6L299.1,309.6L299.5,308.7L299.8,307.7L300.1,306.8L300.4,305.8L300.8,304.9L301.1,303.9L301.4,303.0L301.8,302.1L302.1,301.1L302.5,300.2L302.8,299.2L303.2,298.3L303.5,297.4L303.9,296.4L304.3,295.5L304.6,294.6L305.0,293.6L305.3,292.7L305.6,291.7L305.8,290.8L305.9,289.8L306.0,288.8L306.2,287.8L306.3,286.8L306.4,285.8L306.6,284.8L306.7,283.8L306.8,282.8L307.0,281.8L307.1,280.8L307.2,279.9L307.4,278.9L307.5,277.9L307.6,276.9L307.7,275.9L307.9,274.9L308.0,273.9L308.1,272.9L308.3,271.9L308.4,270.9L308.5,269.9L308.6,268.9L308.7,267.9L308.9,266.9L309.0,266.0L309.1,265.0L309.2,264.0L309.3,263.0L309.5,262.0L309.6,261.0L309.7,260.0L309.8,259.0L310.0,258.0L310.2,257.1L310.6,256.1L310.9,255.2L311.3,254.3L311.6,253.3L312.0,252.8L312.4,253.4L312.8,254.3L313.1,255.2L313.5,256.1L313.8,257.1L314.0,258.1L314.1,259.0L314.3,260.0L314.4,261.0L314.6,262.0L314.7,263.0L314.9,264.0L315.4,264.8L316.1,265.5L316.8,266.3L317.5,266.9L318.4,267.3L319.3,267.8L320.1,268.3L320.8,269.0L321.4,269.8L322.0,270.6L322.7,271.4L323.4,272.0L324.3,272.6L325.0,273.2L325.6,274.0L326.0,274.9L326.4,275.8L326.8,276.7L327.2,277.5L327.8,277.5L328.4,276.8L329.0,276.0L329.4,275.1L329.7,274.1L329.9,273.2L330.2,272.2L330.4,271.2L330.7,270.3L330.9,269.3L331.1,268.3L331.3,267.3L331.5,266.3L331.6,265.4L331.8,264.4L332.0,263.4L332.2,262.4L332.3,261.4L332.5,260.4L332.7,259.4L332.9,258.5L333.0,257.5L333.2,256.5L333.5,255.5L333.7,254.5L333.9,253.6L334.1,252.6L334.3,251.6L334.5,250.6L335.0,249.8L335.6,249.0L336.3,248.3L337.1,247.9L338.1,247.8L339.0,247.9L339.7,248.5L340.3,249.3L340.9,250.1L341.5,250.9L342.0,251.8L342.5,252.6L343.0,253.5L343.5,254.4L344.1,255.1L345.0,255.6L345.7,255.6L346.1,254.9L346.5,254.0L346.9,253.1L347.3,252.1L347.4,251.2L347.5,250.2L347.6,249.2L347.6,248.2L347.7,247.2L347.8,246.2L347.8,245.2L347.9,244.2L348.0,243.2L348.0,242.2L348.1,241.2L348.2,240.2L348.2,239.2L348.3,238.2L348.3,237.2L348.4,236.2L348.5,235.2L348.5,234.2L348.6,233.2L348.7,232.2L348.7,231.2L348.8,230.2L348.8,229.2L348.9,228.2L348.9,227.2L349.0,226.2L349.0,225.7" fill="none" stroke="#bc2723" stroke-width="4.4" stroke-linejoin="round" stroke-linecap="round"/>
<circle cx="349.3" cy="225.3" r="6" fill="#bf2722" stroke="#a72a27" stroke-width="1"/>
<line x1="281" x2="336.5" y1="225.5" y2="225.5" stroke="#3a3a3a" stroke-width="2"/>
<line x1="517" x2="517" y1="403.5" y2="441.5" stroke="#555" stroke-width="2"/>
<line x1="516.5" x2="516.5" y1="597.5" y2="672.5" stroke="#444" stroke-width="2"/>
<text x="122" y="236" textLength="104.8" lengthAdjust="spacingAndGlyphs" fill="#121212" stroke="#121212" stroke-width="0.7">3 July 2023</text>
<text x="122" y="262.5" textLength="30.6" lengthAdjust="spacingAndGlyphs" fill="#9f2828" stroke="#9f2828" stroke-width="0.7">17C</text>
<text x="508.5" y="390.7" textLength="46" lengthAdjust="spacingAndGlyphs" fill="#121212" stroke="#121212" stroke-width="0.3">2022</text>
<text x="311.2" y="702.8" textLength="225.4" lengthAdjust="spacingAndGlyphs" fill="#6b6b6b">All years 1979 to present</text>
</svg>
<p class="src"><span>Guardian graphic. Source: Noaa. OISST V2.1. Climate reanalyzer.org, Climate</span><span class="l2">Change Institute, University of Maine</span></p>
</body>
</html>
